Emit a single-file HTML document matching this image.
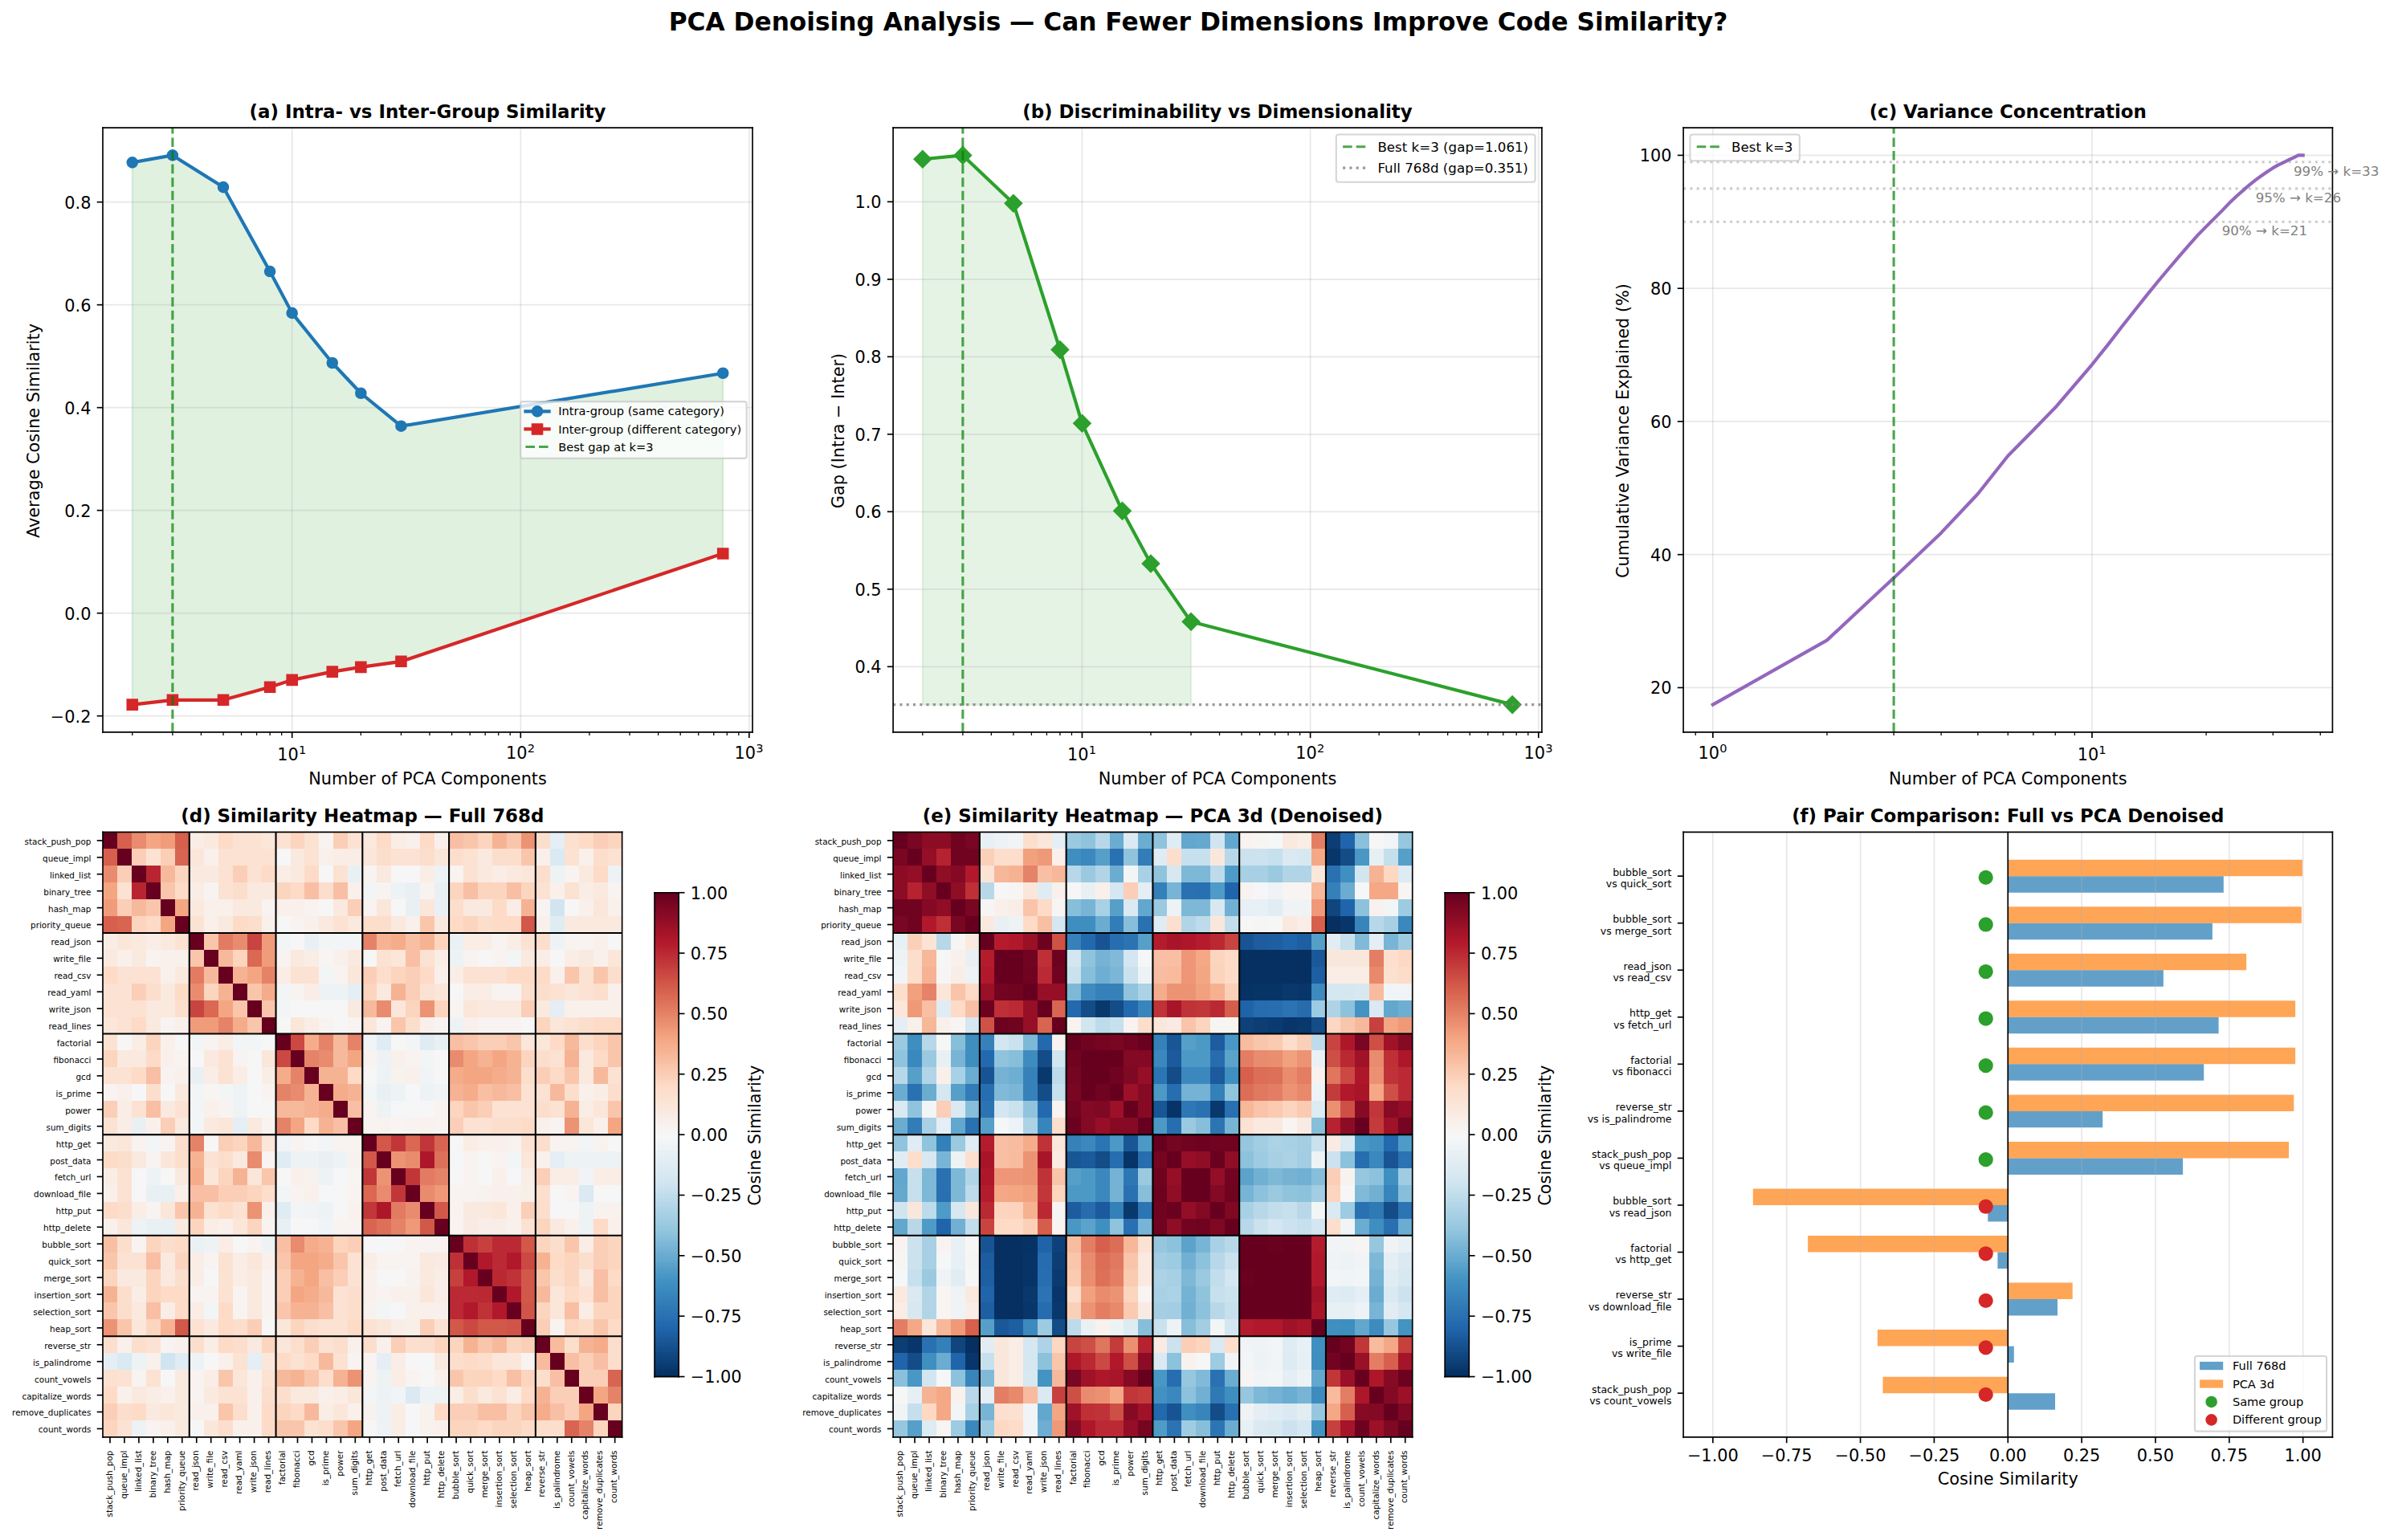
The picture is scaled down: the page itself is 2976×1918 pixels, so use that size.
<!DOCTYPE html>
<html lang="en"><head><meta charset="utf-8"><title>PCA Denoising Analysis</title>
<style>html,body{margin:0;padding:0;background:#fff;}body{width:2976px;height:1918px;overflow:hidden;font-family:"DejaVu Sans","Liberation Sans",sans-serif;}svg{display:block;}</style>
</head><body>
<svg width="2976" height="1918" viewBox="0 0 1428.48 920.64" version="1.1">
 
 <defs>
  <style type="text/css">*{stroke-linejoin: round; stroke-linecap: butt}</style>
 </defs>
 <g id="figure_1">
  <g id="patch_1">
   <path d="M 0 920.64 
L 1428.48 920.64 
L 1428.48 0 
L 0 0 
z
" style="fill: #ffffff"/>
  </g>
  <g id="axes_1">
   <g id="patch_2">
    <path d="M 61.44 437.664 
L 449.76 437.664 
L 449.76 76.416 
L 61.44 76.416 
z
" style="fill: #ffffff"/>
   </g>
   <g id="FillBetweenPolyCollection_1">
    
    <g clip-path="url(#pb48fb22886)">
     <path d="M 79.090909 -823.502699 L 79.090909 -499.396364 L 103.144875 -502.161252 L 133.449289 -502.161252 L 161.331963 -509.841497 L 174.569816 -514.142434 L 198.623782 -519.057791 L 215.690343 -521.822679 L 239.744309 -525.201987 L 432.109091 -589.716044 L 432.109091 -697.546683 L 432.109091 -697.546683 L 239.744309 -665.904073 L 215.690343 -685.5655 L 198.623782 -703.690878 L 174.569816 -733.490229 L 161.331963 -758.374222 L 133.449289 -808.756629 L 103.144875 -827.803636 L 79.090909 -823.502699 z" transform="translate(0 920.64)" style="fill: #2ca02c; fill-opacity: 0.15; stroke: #2ca02c; stroke-opacity: 0.15; stroke: #2ca02c; stroke-opacity: 0.15"/>
    </g>
   </g>
   <g id="matplotlib.axis_1">
    <g id="xtick_1">
     <g id="line2d_1">
      <path d="M 174.569816 437.664 
L 174.569816 76.416 
" clip-path="url(#pb48fb22886)" style="fill: none; stroke: #b0b0b0; stroke-opacity: 0.3; stroke-width: 0.8; stroke-linecap: square"/>
     </g>
     <g id="line2d_2">
      
      <g>
       <path d="M 0 0 L 0 3.5" transform="translate(174.569816 437.664)" style="stroke: #000000; stroke-width: 0.8; stroke: #000000; stroke-width: 0.8"/>
      </g>
     </g>
     <g id="text_1">
      <!-- $\mathdefault{10^{1}}$ -->
      <g transform="translate(165.769816 454.662437)">
       <text>
        <tspan x="0" y="-0.064063" style="font-size: 10px; font-family: 'DejaVu Sans', 'Liberation Sans', sans-serif">1</tspan>
        <tspan x="6.362305" y="-0.064063" style="font-size: 10px; font-family: 'DejaVu Sans', 'Liberation Sans', sans-serif">0</tspan>
        <tspan x="12.820312" y="-3.892188" style="font-size: 7px; font-family: 'DejaVu Sans', 'Liberation Sans', sans-serif">1</tspan>
       </text>
      </g>
     </g>
    </g>
    <g id="xtick_2">
     <g id="line2d_3">
      <path d="M 311.16925 437.664 
L 311.16925 76.416 
" clip-path="url(#pb48fb22886)" style="fill: none; stroke: #b0b0b0; stroke-opacity: 0.3; stroke-width: 0.8; stroke-linecap: square"/>
     </g>
     <g id="line2d_4">
      <g>
       <path d="M 0 0 L 0 3.5" transform="translate(311.16925 437.664)" style="stroke: #000000; stroke-width: 0.8; stroke: #000000; stroke-width: 0.8"/>
      </g>
     </g>
     <g id="text_2">
      <!-- $\mathdefault{10^{2}}$ -->
      <g transform="translate(302.36925 454.662437)">
       <text>
        <tspan x="0" y="-0.976562" style="font-size: 10px; font-family: 'DejaVu Sans', 'Liberation Sans', sans-serif">1</tspan>
        <tspan x="6.362305" y="-0.976562" style="font-size: 10px; font-family: 'DejaVu Sans', 'Liberation Sans', sans-serif">0</tspan>
        <tspan x="12.820312" y="-4.804688" style="font-size: 7px; font-family: 'DejaVu Sans', 'Liberation Sans', sans-serif">2</tspan>
       </text>
      </g>
     </g>
    </g>
    <g id="xtick_3">
     <g id="line2d_5">
      <path d="M 447.768683 437.664 
L 447.768683 76.416 
" clip-path="url(#pb48fb22886)" style="fill: none; stroke: #b0b0b0; stroke-opacity: 0.3; stroke-width: 0.8; stroke-linecap: square"/>
     </g>
     <g id="line2d_6">
      <g>
       <path d="M 0 0 L 0 3.5" transform="translate(447.768683 437.664)" style="stroke: #000000; stroke-width: 0.8; stroke: #000000; stroke-width: 0.8"/>
      </g>
     </g>
     <g id="text_3">
      <!-- $\mathdefault{10^{3}}$ -->
      <g transform="translate(438.968683 454.662437)">
       <text>
        <tspan x="0" y="-0.976562" style="font-size: 10px; font-family: 'DejaVu Sans', 'Liberation Sans', sans-serif">1</tspan>
        <tspan x="6.362305" y="-0.976562" style="font-size: 10px; font-family: 'DejaVu Sans', 'Liberation Sans', sans-serif">0</tspan>
        <tspan x="12.820312" y="-4.804688" style="font-size: 7px; font-family: 'DejaVu Sans', 'Liberation Sans', sans-serif">3</tspan>
       </text>
      </g>
     </g>
    </g>
    <g id="xtick_4">
     <g id="line2d_7">
      
      <g>
       <path d="M 0 0 L 0 2" transform="translate(79.090909 437.664)" style="stroke: #000000; stroke-width: 0.6; stroke: #000000; stroke-width: 0.6"/>
      </g>
     </g>
    </g>
    <g id="xtick_5">
     <g id="line2d_8">
      <g>
       <path d="M 0 0 L 0 2" transform="translate(103.144875 437.664)" style="stroke: #000000; stroke-width: 0.6; stroke: #000000; stroke-width: 0.6"/>
      </g>
     </g>
    </g>
    <g id="xtick_6">
     <g id="line2d_9">
      <g>
       <path d="M 0 0 L 0 2" transform="translate(120.211436 437.664)" style="stroke: #000000; stroke-width: 0.6; stroke: #000000; stroke-width: 0.6"/>
      </g>
     </g>
    </g>
    <g id="xtick_7">
     <g id="line2d_10">
      <g>
       <path d="M 0 0 L 0 2" transform="translate(133.449289 437.664)" style="stroke: #000000; stroke-width: 0.6; stroke: #000000; stroke-width: 0.6"/>
      </g>
     </g>
    </g>
    <g id="xtick_8">
     <g id="line2d_11">
      <g>
       <path d="M 0 0 L 0 2" transform="translate(144.265402 437.664)" style="stroke: #000000; stroke-width: 0.6; stroke: #000000; stroke-width: 0.6"/>
      </g>
     </g>
    </g>
    <g id="xtick_9">
     <g id="line2d_12">
      <g>
       <path d="M 0 0 L 0 2" transform="translate(153.410296 437.664)" style="stroke: #000000; stroke-width: 0.6; stroke: #000000; stroke-width: 0.6"/>
      </g>
     </g>
    </g>
    <g id="xtick_10">
     <g id="line2d_13">
      <g>
       <path d="M 0 0 L 0 2" transform="translate(161.331963 437.664)" style="stroke: #000000; stroke-width: 0.6; stroke: #000000; stroke-width: 0.6"/>
      </g>
     </g>
    </g>
    <g id="xtick_11">
     <g id="line2d_14">
      <g>
       <path d="M 0 0 L 0 2" transform="translate(168.319369 437.664)" style="stroke: #000000; stroke-width: 0.6; stroke: #000000; stroke-width: 0.6"/>
      </g>
     </g>
    </g>
    <g id="xtick_12">
     <g id="line2d_15">
      <g>
       <path d="M 0 0 L 0 2" transform="translate(215.690343 437.664)" style="stroke: #000000; stroke-width: 0.6; stroke: #000000; stroke-width: 0.6"/>
      </g>
     </g>
    </g>
    <g id="xtick_13">
     <g id="line2d_16">
      <g>
       <path d="M 0 0 L 0 2" transform="translate(239.744309 437.664)" style="stroke: #000000; stroke-width: 0.6; stroke: #000000; stroke-width: 0.6"/>
      </g>
     </g>
    </g>
    <g id="xtick_14">
     <g id="line2d_17">
      <g>
       <path d="M 0 0 L 0 2" transform="translate(256.81087 437.664)" style="stroke: #000000; stroke-width: 0.6; stroke: #000000; stroke-width: 0.6"/>
      </g>
     </g>
    </g>
    <g id="xtick_15">
     <g id="line2d_18">
      <g>
       <path d="M 0 0 L 0 2" transform="translate(270.048723 437.664)" style="stroke: #000000; stroke-width: 0.6; stroke: #000000; stroke-width: 0.6"/>
      </g>
     </g>
    </g>
    <g id="xtick_16">
     <g id="line2d_19">
      <g>
       <path d="M 0 0 L 0 2" transform="translate(280.864836 437.664)" style="stroke: #000000; stroke-width: 0.6; stroke: #000000; stroke-width: 0.6"/>
      </g>
     </g>
    </g>
    <g id="xtick_17">
     <g id="line2d_20">
      <g>
       <path d="M 0 0 L 0 2" transform="translate(290.00973 437.664)" style="stroke: #000000; stroke-width: 0.6; stroke: #000000; stroke-width: 0.6"/>
      </g>
     </g>
    </g>
    <g id="xtick_18">
     <g id="line2d_21">
      <g>
       <path d="M 0 0 L 0 2" transform="translate(297.931397 437.664)" style="stroke: #000000; stroke-width: 0.6; stroke: #000000; stroke-width: 0.6"/>
      </g>
     </g>
    </g>
    <g id="xtick_19">
     <g id="line2d_22">
      <g>
       <path d="M 0 0 L 0 2" transform="translate(304.918802 437.664)" style="stroke: #000000; stroke-width: 0.6; stroke: #000000; stroke-width: 0.6"/>
      </g>
     </g>
    </g>
    <g id="xtick_20">
     <g id="line2d_23">
      <g>
       <path d="M 0 0 L 0 2" transform="translate(352.289777 437.664)" style="stroke: #000000; stroke-width: 0.6; stroke: #000000; stroke-width: 0.6"/>
      </g>
     </g>
    </g>
    <g id="xtick_21">
     <g id="line2d_24">
      <g>
       <path d="M 0 0 L 0 2" transform="translate(376.343743 437.664)" style="stroke: #000000; stroke-width: 0.6; stroke: #000000; stroke-width: 0.6"/>
      </g>
     </g>
    </g>
    <g id="xtick_22">
     <g id="line2d_25">
      <g>
       <path d="M 0 0 L 0 2" transform="translate(393.410303 437.664)" style="stroke: #000000; stroke-width: 0.6; stroke: #000000; stroke-width: 0.6"/>
      </g>
     </g>
    </g>
    <g id="xtick_23">
     <g id="line2d_26">
      <g>
       <path d="M 0 0 L 0 2" transform="translate(406.648156 437.664)" style="stroke: #000000; stroke-width: 0.6; stroke: #000000; stroke-width: 0.6"/>
      </g>
     </g>
    </g>
    <g id="xtick_24">
     <g id="line2d_27">
      <g>
       <path d="M 0 0 L 0 2" transform="translate(417.46427 437.664)" style="stroke: #000000; stroke-width: 0.6; stroke: #000000; stroke-width: 0.6"/>
      </g>
     </g>
    </g>
    <g id="xtick_25">
     <g id="line2d_28">
      <g>
       <path d="M 0 0 L 0 2" transform="translate(426.609163 437.664)" style="stroke: #000000; stroke-width: 0.6; stroke: #000000; stroke-width: 0.6"/>
      </g>
     </g>
    </g>
    <g id="xtick_26">
     <g id="line2d_29">
      <g>
       <path d="M 0 0 L 0 2" transform="translate(434.53083 437.664)" style="stroke: #000000; stroke-width: 0.6; stroke: #000000; stroke-width: 0.6"/>
      </g>
     </g>
    </g>
    <g id="xtick_27">
     <g id="line2d_30">
      <g>
       <path d="M 0 0 L 0 2" transform="translate(441.518236 437.664)" style="stroke: #000000; stroke-width: 0.6; stroke: #000000; stroke-width: 0.6"/>
      </g>
     </g>
    </g>
    <g id="text_4">
     <text style="font-size: 10px; font-family: 'DejaVu Sans', 'Liberation Sans', sans-serif; text-anchor: middle" x="255.6" y="469.040562" transform="rotate(-0 255.6 469.040562)">Number of PCA Components</text>
    </g>
   </g>
   <g id="matplotlib.axis_2">
    <g id="ytick_1">
     <g id="line2d_31">
      <path d="M 61.44 428.002252 
L 449.76 428.002252 
" clip-path="url(#pb48fb22886)" style="fill: none; stroke: #b0b0b0; stroke-opacity: 0.3; stroke-width: 0.8; stroke-linecap: square"/>
     </g>
     <g id="line2d_32">
      
      <g>
       <path d="M 0 0 L -3.5 0" transform="translate(61.44 428.002252)" style="stroke: #000000; stroke-width: 0.8; stroke: #000000; stroke-width: 0.8"/>
      </g>
     </g>
     <g id="text_5">
      <text style="font-size: 10px; font-family: 'DejaVu Sans', 'Liberation Sans', sans-serif; text-anchor: end" x="54.44" y="431.801471" transform="rotate(-0 54.44 431.801471)">−0.2</text>
     </g>
    </g>
    <g id="ytick_2">
     <g id="line2d_33">
      <path d="M 61.44 366.560293 
L 449.76 366.560293 
" clip-path="url(#pb48fb22886)" style="fill: none; stroke: #b0b0b0; stroke-opacity: 0.3; stroke-width: 0.8; stroke-linecap: square"/>
     </g>
     <g id="line2d_34">
      <g>
       <path d="M 0 0 L -3.5 0" transform="translate(61.44 366.560293)" style="stroke: #000000; stroke-width: 0.8; stroke: #000000; stroke-width: 0.8"/>
      </g>
     </g>
     <g id="text_6">
      <text style="font-size: 10px; font-family: 'DejaVu Sans', 'Liberation Sans', sans-serif; text-anchor: end" x="54.44" y="370.359511" transform="rotate(-0 54.44 370.359511)">0.0</text>
     </g>
    </g>
    <g id="ytick_3">
     <g id="line2d_35">
      <path d="M 61.44 305.118333 
L 449.76 305.118333 
" clip-path="url(#pb48fb22886)" style="fill: none; stroke: #b0b0b0; stroke-opacity: 0.3; stroke-width: 0.8; stroke-linecap: square"/>
     </g>
     <g id="line2d_36">
      <g>
       <path d="M 0 0 L -3.5 0" transform="translate(61.44 305.118333)" style="stroke: #000000; stroke-width: 0.8; stroke: #000000; stroke-width: 0.8"/>
      </g>
     </g>
     <g id="text_7">
      <text style="font-size: 10px; font-family: 'DejaVu Sans', 'Liberation Sans', sans-serif; text-anchor: end" x="54.44" y="308.917552" transform="rotate(-0 54.44 308.917552)">0.2</text>
     </g>
    </g>
    <g id="ytick_4">
     <g id="line2d_37">
      <path d="M 61.44 243.676374 
L 449.76 243.676374 
" clip-path="url(#pb48fb22886)" style="fill: none; stroke: #b0b0b0; stroke-opacity: 0.3; stroke-width: 0.8; stroke-linecap: square"/>
     </g>
     <g id="line2d_38">
      <g>
       <path d="M 0 0 L -3.5 0" transform="translate(61.44 243.676374)" style="stroke: #000000; stroke-width: 0.8; stroke: #000000; stroke-width: 0.8"/>
      </g>
     </g>
     <g id="text_8">
      <text style="font-size: 10px; font-family: 'DejaVu Sans', 'Liberation Sans', sans-serif; text-anchor: end" x="54.44" y="247.475593" transform="rotate(-0 54.44 247.475593)">0.4</text>
     </g>
    </g>
    <g id="ytick_5">
     <g id="line2d_39">
      <path d="M 61.44 182.234414 
L 449.76 182.234414 
" clip-path="url(#pb48fb22886)" style="fill: none; stroke: #b0b0b0; stroke-opacity: 0.3; stroke-width: 0.8; stroke-linecap: square"/>
     </g>
     <g id="line2d_40">
      <g>
       <path d="M 0 0 L -3.5 0" transform="translate(61.44 182.234414)" style="stroke: #000000; stroke-width: 0.8; stroke: #000000; stroke-width: 0.8"/>
      </g>
     </g>
     <g id="text_9">
      <text style="font-size: 10px; font-family: 'DejaVu Sans', 'Liberation Sans', sans-serif; text-anchor: end" x="54.44" y="186.033633" transform="rotate(-0 54.44 186.033633)">0.6</text>
     </g>
    </g>
    <g id="ytick_6">
     <g id="line2d_41">
      <path d="M 61.44 120.792455 
L 449.76 120.792455 
" clip-path="url(#pb48fb22886)" style="fill: none; stroke: #b0b0b0; stroke-opacity: 0.3; stroke-width: 0.8; stroke-linecap: square"/>
     </g>
     <g id="line2d_42">
      <g>
       <path d="M 0 0 L -3.5 0" transform="translate(61.44 120.792455)" style="stroke: #000000; stroke-width: 0.8; stroke: #000000; stroke-width: 0.8"/>
      </g>
     </g>
     <g id="text_10">
      <text style="font-size: 10px; font-family: 'DejaVu Sans', 'Liberation Sans', sans-serif; text-anchor: end" x="54.44" y="124.591674" transform="rotate(-0 54.44 124.591674)">0.8</text>
     </g>
    </g>
    <g id="text_11">
     <text style="font-size: 10px; font-family: 'DejaVu Sans', 'Liberation Sans', sans-serif; text-anchor: middle" x="23.5975" y="257.5200" transform="rotate(-90 23.5975 257.5200)">Average Cosine Similarity</text>
    </g>
   </g>
   <g id="line2d_43">
    <path d="M 79.090909 97.137301 
L 103.144875 92.836364 
L 133.449289 111.883371 
L 161.331963 162.265778 
L 174.569816 187.149771 
L 198.623782 216.949122 
L 215.690343 235.0745 
L 239.744309 254.735927 
L 432.109091 223.093317 
" clip-path="url(#pb48fb22886)" style="fill: none; stroke: #1f77b4; stroke-width: 2; stroke-linecap: square"/>
    
    <g clip-path="url(#pb48fb22886)">
     <path d="M 0 3 C 0.795609 3 1.55874 2.683901 2.12132 2.12132 C 2.683901 1.55874 3 0.795609 3 0 C 3 -0.795609 2.683901 -1.55874 2.12132 -2.12132 C 1.55874 -2.683901 0.795609 -3 0 -3 C -0.795609 -3 -1.55874 -2.683901 -2.12132 -2.12132 C -2.683901 -1.55874 -3 -0.795609 -3 0 C -3 0.795609 -2.683901 1.55874 -2.12132 2.12132 C -1.55874 2.683901 -0.795609 3 0 3 z" transform="translate(79.090909 97.137301)" style="fill: #1f77b4; stroke: #1f77b4; stroke: #1f77b4"/>
     <path d="M 0 3 C 0.795609 3 1.55874 2.683901 2.12132 2.12132 C 2.683901 1.55874 3 0.795609 3 0 C 3 -0.795609 2.683901 -1.55874 2.12132 -2.12132 C 1.55874 -2.683901 0.795609 -3 0 -3 C -0.795609 -3 -1.55874 -2.683901 -2.12132 -2.12132 C -2.683901 -1.55874 -3 -0.795609 -3 0 C -3 0.795609 -2.683901 1.55874 -2.12132 2.12132 C -1.55874 2.683901 -0.795609 3 0 3 z" transform="translate(103.144875 92.836364)" style="fill: #1f77b4; stroke: #1f77b4; stroke: #1f77b4"/>
     <path d="M 0 3 C 0.795609 3 1.55874 2.683901 2.12132 2.12132 C 2.683901 1.55874 3 0.795609 3 0 C 3 -0.795609 2.683901 -1.55874 2.12132 -2.12132 C 1.55874 -2.683901 0.795609 -3 0 -3 C -0.795609 -3 -1.55874 -2.683901 -2.12132 -2.12132 C -2.683901 -1.55874 -3 -0.795609 -3 0 C -3 0.795609 -2.683901 1.55874 -2.12132 2.12132 C -1.55874 2.683901 -0.795609 3 0 3 z" transform="translate(133.449289 111.883371)" style="fill: #1f77b4; stroke: #1f77b4; stroke: #1f77b4"/>
     <path d="M 0 3 C 0.795609 3 1.55874 2.683901 2.12132 2.12132 C 2.683901 1.55874 3 0.795609 3 0 C 3 -0.795609 2.683901 -1.55874 2.12132 -2.12132 C 1.55874 -2.683901 0.795609 -3 0 -3 C -0.795609 -3 -1.55874 -2.683901 -2.12132 -2.12132 C -2.683901 -1.55874 -3 -0.795609 -3 0 C -3 0.795609 -2.683901 1.55874 -2.12132 2.12132 C -1.55874 2.683901 -0.795609 3 0 3 z" transform="translate(161.331963 162.265778)" style="fill: #1f77b4; stroke: #1f77b4; stroke: #1f77b4"/>
     <path d="M 0 3 C 0.795609 3 1.55874 2.683901 2.12132 2.12132 C 2.683901 1.55874 3 0.795609 3 0 C 3 -0.795609 2.683901 -1.55874 2.12132 -2.12132 C 1.55874 -2.683901 0.795609 -3 0 -3 C -0.795609 -3 -1.55874 -2.683901 -2.12132 -2.12132 C -2.683901 -1.55874 -3 -0.795609 -3 0 C -3 0.795609 -2.683901 1.55874 -2.12132 2.12132 C -1.55874 2.683901 -0.795609 3 0 3 z" transform="translate(174.569816 187.149771)" style="fill: #1f77b4; stroke: #1f77b4; stroke: #1f77b4"/>
     <path d="M 0 3 C 0.795609 3 1.55874 2.683901 2.12132 2.12132 C 2.683901 1.55874 3 0.795609 3 0 C 3 -0.795609 2.683901 -1.55874 2.12132 -2.12132 C 1.55874 -2.683901 0.795609 -3 0 -3 C -0.795609 -3 -1.55874 -2.683901 -2.12132 -2.12132 C -2.683901 -1.55874 -3 -0.795609 -3 0 C -3 0.795609 -2.683901 1.55874 -2.12132 2.12132 C -1.55874 2.683901 -0.795609 3 0 3 z" transform="translate(198.623782 216.949122)" style="fill: #1f77b4; stroke: #1f77b4; stroke: #1f77b4"/>
     <path d="M 0 3 C 0.795609 3 1.55874 2.683901 2.12132 2.12132 C 2.683901 1.55874 3 0.795609 3 0 C 3 -0.795609 2.683901 -1.55874 2.12132 -2.12132 C 1.55874 -2.683901 0.795609 -3 0 -3 C -0.795609 -3 -1.55874 -2.683901 -2.12132 -2.12132 C -2.683901 -1.55874 -3 -0.795609 -3 0 C -3 0.795609 -2.683901 1.55874 -2.12132 2.12132 C -1.55874 2.683901 -0.795609 3 0 3 z" transform="translate(215.690343 235.0745)" style="fill: #1f77b4; stroke: #1f77b4; stroke: #1f77b4"/>
     <path d="M 0 3 C 0.795609 3 1.55874 2.683901 2.12132 2.12132 C 2.683901 1.55874 3 0.795609 3 0 C 3 -0.795609 2.683901 -1.55874 2.12132 -2.12132 C 1.55874 -2.683901 0.795609 -3 0 -3 C -0.795609 -3 -1.55874 -2.683901 -2.12132 -2.12132 C -2.683901 -1.55874 -3 -0.795609 -3 0 C -3 0.795609 -2.683901 1.55874 -2.12132 2.12132 C -1.55874 2.683901 -0.795609 3 0 3 z" transform="translate(239.744309 254.735927)" style="fill: #1f77b4; stroke: #1f77b4; stroke: #1f77b4"/>
     <path d="M 0 3 C 0.795609 3 1.55874 2.683901 2.12132 2.12132 C 2.683901 1.55874 3 0.795609 3 0 C 3 -0.795609 2.683901 -1.55874 2.12132 -2.12132 C 1.55874 -2.683901 0.795609 -3 0 -3 C -0.795609 -3 -1.55874 -2.683901 -2.12132 -2.12132 C -2.683901 -1.55874 -3 -0.795609 -3 0 C -3 0.795609 -2.683901 1.55874 -2.12132 2.12132 C -1.55874 2.683901 -0.795609 3 0 3 z" transform="translate(432.109091 223.093317)" style="fill: #1f77b4; stroke: #1f77b4; stroke: #1f77b4"/>
    </g>
   </g>
   <g id="line2d_44">
    <path d="M 79.090909 421.243636 
L 103.144875 418.478748 
L 133.449289 418.478748 
L 161.331963 410.798503 
L 174.569816 406.497566 
L 198.623782 401.582209 
L 215.690343 398.817321 
L 239.744309 395.438013 
L 432.109091 330.923956 
" clip-path="url(#pb48fb22886)" style="fill: none; stroke: #d62728; stroke-width: 2; stroke-linecap: square"/>
    
    <g clip-path="url(#pb48fb22886)">
     <path d="M -3 3 L 3 3 L 3 -3 L -3 -3 z" transform="translate(79.090909 421.243636)" style="fill: #d62728; stroke: #d62728; stroke-linejoin: miter; stroke: #d62728; stroke-linejoin: miter"/>
     <path d="M -3 3 L 3 3 L 3 -3 L -3 -3 z" transform="translate(103.144875 418.478748)" style="fill: #d62728; stroke: #d62728; stroke-linejoin: miter; stroke: #d62728; stroke-linejoin: miter"/>
     <path d="M -3 3 L 3 3 L 3 -3 L -3 -3 z" transform="translate(133.449289 418.478748)" style="fill: #d62728; stroke: #d62728; stroke-linejoin: miter; stroke: #d62728; stroke-linejoin: miter"/>
     <path d="M -3 3 L 3 3 L 3 -3 L -3 -3 z" transform="translate(161.331963 410.798503)" style="fill: #d62728; stroke: #d62728; stroke-linejoin: miter; stroke: #d62728; stroke-linejoin: miter"/>
     <path d="M -3 3 L 3 3 L 3 -3 L -3 -3 z" transform="translate(174.569816 406.497566)" style="fill: #d62728; stroke: #d62728; stroke-linejoin: miter; stroke: #d62728; stroke-linejoin: miter"/>
     <path d="M -3 3 L 3 3 L 3 -3 L -3 -3 z" transform="translate(198.623782 401.582209)" style="fill: #d62728; stroke: #d62728; stroke-linejoin: miter; stroke: #d62728; stroke-linejoin: miter"/>
     <path d="M -3 3 L 3 3 L 3 -3 L -3 -3 z" transform="translate(215.690343 398.817321)" style="fill: #d62728; stroke: #d62728; stroke-linejoin: miter; stroke: #d62728; stroke-linejoin: miter"/>
     <path d="M -3 3 L 3 3 L 3 -3 L -3 -3 z" transform="translate(239.744309 395.438013)" style="fill: #d62728; stroke: #d62728; stroke-linejoin: miter; stroke: #d62728; stroke-linejoin: miter"/>
     <path d="M -3 3 L 3 3 L 3 -3 L -3 -3 z" transform="translate(432.109091 330.923956)" style="fill: #d62728; stroke: #d62728; stroke-linejoin: miter; stroke: #d62728; stroke-linejoin: miter"/>
    </g>
   </g>
   <g id="line2d_45">
    <path d="M 103.144875 437.664 
L 103.144875 76.416 
" clip-path="url(#pb48fb22886)" style="fill: none; stroke-dasharray: 5.55,2.4; stroke-dashoffset: 0; stroke: #008000; stroke-opacity: 0.7; stroke-width: 1.5"/>
   </g>
   <g id="patch_3">
    <path d="M 61.44 437.664 
L 61.44 76.416 
" style="fill: none; stroke: #000000; stroke-width: 0.8; stroke-linejoin: miter; stroke-linecap: square"/>
   </g>
   <g id="patch_4">
    <path d="M 449.76 437.664 
L 449.76 76.416 
" style="fill: none; stroke: #000000; stroke-width: 0.8; stroke-linejoin: miter; stroke-linecap: square"/>
   </g>
   <g id="patch_5">
    <path d="M 61.44 437.664 
L 449.76 437.664 
" style="fill: none; stroke: #000000; stroke-width: 0.8; stroke-linejoin: miter; stroke-linecap: square"/>
   </g>
   <g id="patch_6">
    <path d="M 61.44 76.416 
L 449.76 76.416 
" style="fill: none; stroke: #000000; stroke-width: 0.8; stroke-linejoin: miter; stroke-linecap: square"/>
   </g>
   <g id="text_12">
    <text style="font-weight: 700; font-size: 11px; font-family: 'DejaVu Sans', 'Liberation Sans', sans-serif; text-anchor: middle" x="255.6" y="70.416" transform="rotate(-0 255.6 70.416)">(a) Intra- vs Inter-Group Similarity</text>
   </g>
   <g id="legend_1">
    <g id="patch_7">
     <path d="M 312.521719 274.027031 
L 444.86 274.027031 
Q 446.26 274.027031 446.26 272.627031 
L 446.26 241.452969 
Q 446.26 240.052969 444.86 240.052969 
L 312.521719 240.052969 
Q 311.121719 240.052969 311.121719 241.452969 
L 311.121719 272.627031 
Q 311.121719 274.027031 312.521719 274.027031 
z
" style="fill: #ffffff; opacity: 0.8; stroke: #cccccc; stroke-linejoin: miter"/>
    </g>
    <g id="line2d_46">
     <path d="M 314.131719 245.931875 
L 321.131719 245.931875 
L 328.131719 245.931875 
" style="fill: none; stroke: #1f77b4; stroke-width: 2; stroke-linecap: square"/>
     <g>
      <path d="M 0 3 C 0.795609 3 1.55874 2.683901 2.12132 2.12132 C 2.683901 1.55874 3 0.795609 3 0 C 3 -0.795609 2.683901 -1.55874 2.12132 -2.12132 C 1.55874 -2.683901 0.795609 -3 0 -3 C -0.795609 -3 -1.55874 -2.683901 -2.12132 -2.12132 C -2.683901 -1.55874 -3 -0.795609 -3 0 C -3 0.795609 -2.683901 1.55874 -2.12132 2.12132 C -1.55874 2.683901 -0.795609 3 0 3 z" transform="translate(321.131719 245.931875)" style="fill: #1f77b4; stroke: #1f77b4; stroke: #1f77b4"/>
     </g>
    </g>
    <g id="text_13">
     <text style="font-size: 7px; font-family: 'DejaVu Sans', 'Liberation Sans', sans-serif; text-anchor: start" x="333.731719" y="248.381875" transform="rotate(-0 333.731719 248.381875)">Intra-group (same category)</text>
    </g>
    <g id="line2d_47">
     <path d="M 314.131719 256.521563 
L 321.131719 256.521563 
L 328.131719 256.521563 
" style="fill: none; stroke: #d62728; stroke-width: 2; stroke-linecap: square"/>
     <g>
      <path d="M -3 3 L 3 3 L 3 -3 L -3 -3 z" transform="translate(321.131719 256.521563)" style="fill: #d62728; stroke: #d62728; stroke-linejoin: miter; stroke: #d62728; stroke-linejoin: miter"/>
     </g>
    </g>
    <g id="text_14">
     <text style="font-size: 7px; font-family: 'DejaVu Sans', 'Liberation Sans', sans-serif; text-anchor: start" x="333.731719" y="258.971563" transform="rotate(-0 333.731719 258.971563)">Inter-group (different category)</text>
    </g>
    <g id="line2d_48">
     <path d="M 314.131719 267.11125 
L 321.131719 267.11125 
L 328.131719 267.11125 
" style="fill: none; stroke-dasharray: 5.55,2.4; stroke-dashoffset: 0; stroke: #008000; stroke-opacity: 0.7; stroke-width: 1.5"/>
    </g>
    <g id="text_15">
     <text style="font-size: 7px; font-family: 'DejaVu Sans', 'Liberation Sans', sans-serif; text-anchor: start" x="333.731719" y="269.56125" transform="rotate(-0 333.731719 269.56125)">Best gap at k=3</text>
    </g>
   </g>
  </g>
  <g id="axes_2">
   <g id="patch_8">
    <path d="M 533.808 437.664 
L 921.552 437.664 
L 921.552 76.416 
L 533.808 76.416 
z
" style="fill: #ffffff"/>
   </g>
   <g id="FillBetweenPolyCollection_2">
    
    <g clip-path="url(#p9a6d306fdc)">
     <path d="M 551.432727 -825.487647 L 551.432727 -499.396364 L 575.451014 -499.396364 L 605.710477 -499.396364 L 633.551792 -499.396364 L 646.770009 -499.396364 L 670.788296 -499.396364 L 687.829541 -499.396364 L 711.847828 -499.396364 L 711.847828 -548.958533 L 711.847828 -548.958533 L 687.829541 -583.698372 L 670.788296 -615.195825 L 646.770009 -667.537182 L 633.551792 -711.540977 L 605.710477 -799.08537 L 575.451014 -827.803636 L 551.432727 -825.487647 z" transform="translate(0 920.64)" style="fill: #2ca02c; fill-opacity: 0.12; stroke: #2ca02c; stroke-opacity: 0.12; stroke: #2ca02c; stroke-opacity: 0.12"/>
    </g>
   </g>
   <g id="matplotlib.axis_3">
    <g id="xtick_28">
     <g id="line2d_49">
      <path d="M 646.770009 437.664 
L 646.770009 76.416 
" clip-path="url(#p9a6d306fdc)" style="fill: none; stroke: #b0b0b0; stroke-opacity: 0.3; stroke-width: 0.8; stroke-linecap: square"/>
     </g>
     <g id="line2d_50">
      <g>
       <path d="M 0 0 L 0 3.5" transform="translate(646.770009 437.664)" style="stroke: #000000; stroke-width: 0.8; stroke: #000000; stroke-width: 0.8"/>
      </g>
     </g>
     <g id="text_16">
      <!-- $\mathdefault{10^{1}}$ -->
      <g transform="translate(637.970009 454.662437)">
       <text>
        <tspan x="0" y="-0.064063" style="font-size: 10px; font-family: 'DejaVu Sans', 'Liberation Sans', sans-serif">1</tspan>
        <tspan x="6.362305" y="-0.064063" style="font-size: 10px; font-family: 'DejaVu Sans', 'Liberation Sans', sans-serif">0</tspan>
        <tspan x="12.820312" y="-3.892188" style="font-size: 7px; font-family: 'DejaVu Sans', 'Liberation Sans', sans-serif">1</tspan>
       </text>
      </g>
     </g>
    </g>
    <g id="xtick_29">
     <g id="line2d_51">
      <path d="M 783.166823 437.664 
L 783.166823 76.416 
" clip-path="url(#p9a6d306fdc)" style="fill: none; stroke: #b0b0b0; stroke-opacity: 0.3; stroke-width: 0.8; stroke-linecap: square"/>
     </g>
     <g id="line2d_52">
      <g>
       <path d="M 0 0 L 0 3.5" transform="translate(783.166823 437.664)" style="stroke: #000000; stroke-width: 0.8; stroke: #000000; stroke-width: 0.8"/>
      </g>
     </g>
     <g id="text_17">
      <!-- $\mathdefault{10^{2}}$ -->
      <g transform="translate(774.366823 454.662437)">
       <text>
        <tspan x="0" y="-0.976562" style="font-size: 10px; font-family: 'DejaVu Sans', 'Liberation Sans', sans-serif">1</tspan>
        <tspan x="6.362305" y="-0.976562" style="font-size: 10px; font-family: 'DejaVu Sans', 'Liberation Sans', sans-serif">0</tspan>
        <tspan x="12.820312" y="-4.804688" style="font-size: 7px; font-family: 'DejaVu Sans', 'Liberation Sans', sans-serif">2</tspan>
       </text>
      </g>
     </g>
    </g>
    <g id="xtick_30">
     <g id="line2d_53">
      <path d="M 919.563637 437.664 
L 919.563637 76.416 
" clip-path="url(#p9a6d306fdc)" style="fill: none; stroke: #b0b0b0; stroke-opacity: 0.3; stroke-width: 0.8; stroke-linecap: square"/>
     </g>
     <g id="line2d_54">
      <g>
       <path d="M 0 0 L 0 3.5" transform="translate(919.563637 437.664)" style="stroke: #000000; stroke-width: 0.8; stroke: #000000; stroke-width: 0.8"/>
      </g>
     </g>
     <g id="text_18">
      <!-- $\mathdefault{10^{3}}$ -->
      <g transform="translate(910.763637 454.662437)">
       <text>
        <tspan x="0" y="-0.976562" style="font-size: 10px; font-family: 'DejaVu Sans', 'Liberation Sans', sans-serif">1</tspan>
        <tspan x="6.362305" y="-0.976562" style="font-size: 10px; font-family: 'DejaVu Sans', 'Liberation Sans', sans-serif">0</tspan>
        <tspan x="12.820312" y="-4.804688" style="font-size: 7px; font-family: 'DejaVu Sans', 'Liberation Sans', sans-serif">3</tspan>
       </text>
      </g>
     </g>
    </g>
    <g id="xtick_31">
     <g id="line2d_55">
      <g>
       <path d="M 0 0 L 0 2" transform="translate(551.432727 437.664)" style="stroke: #000000; stroke-width: 0.6; stroke: #000000; stroke-width: 0.6"/>
      </g>
     </g>
    </g>
    <g id="xtick_32">
     <g id="line2d_56">
      <g>
       <path d="M 0 0 L 0 2" transform="translate(575.451014 437.664)" style="stroke: #000000; stroke-width: 0.6; stroke: #000000; stroke-width: 0.6"/>
      </g>
     </g>
    </g>
    <g id="xtick_33">
     <g id="line2d_57">
      <g>
       <path d="M 0 0 L 0 2" transform="translate(592.49226 437.664)" style="stroke: #000000; stroke-width: 0.6; stroke: #000000; stroke-width: 0.6"/>
      </g>
     </g>
    </g>
    <g id="xtick_34">
     <g id="line2d_58">
      <g>
       <path d="M 0 0 L 0 2" transform="translate(605.710477 437.664)" style="stroke: #000000; stroke-width: 0.6; stroke: #000000; stroke-width: 0.6"/>
      </g>
     </g>
    </g>
    <g id="xtick_35">
     <g id="line2d_59">
      <g>
       <path d="M 0 0 L 0 2" transform="translate(616.510546 437.664)" style="stroke: #000000; stroke-width: 0.6; stroke: #000000; stroke-width: 0.6"/>
      </g>
     </g>
    </g>
    <g id="xtick_36">
     <g id="line2d_60">
      <g>
       <path d="M 0 0 L 0 2" transform="translate(625.641875 437.664)" style="stroke: #000000; stroke-width: 0.6; stroke: #000000; stroke-width: 0.6"/>
      </g>
     </g>
    </g>
    <g id="xtick_37">
     <g id="line2d_61">
      <g>
       <path d="M 0 0 L 0 2" transform="translate(633.551792 437.664)" style="stroke: #000000; stroke-width: 0.6; stroke: #000000; stroke-width: 0.6"/>
      </g>
     </g>
    </g>
    <g id="xtick_38">
     <g id="line2d_62">
      <g>
       <path d="M 0 0 L 0 2" transform="translate(640.528833 437.664)" style="stroke: #000000; stroke-width: 0.6; stroke: #000000; stroke-width: 0.6"/>
      </g>
     </g>
    </g>
    <g id="xtick_39">
     <g id="line2d_63">
      <g>
       <path d="M 0 0 L 0 2" transform="translate(687.829541 437.664)" style="stroke: #000000; stroke-width: 0.6; stroke: #000000; stroke-width: 0.6"/>
      </g>
     </g>
    </g>
    <g id="xtick_40">
     <g id="line2d_64">
      <g>
       <path d="M 0 0 L 0 2" transform="translate(711.847828 437.664)" style="stroke: #000000; stroke-width: 0.6; stroke: #000000; stroke-width: 0.6"/>
      </g>
     </g>
    </g>
    <g id="xtick_41">
     <g id="line2d_65">
      <g>
       <path d="M 0 0 L 0 2" transform="translate(728.889074 437.664)" style="stroke: #000000; stroke-width: 0.6; stroke: #000000; stroke-width: 0.6"/>
      </g>
     </g>
    </g>
    <g id="xtick_42">
     <g id="line2d_66">
      <g>
       <path d="M 0 0 L 0 2" transform="translate(742.107291 437.664)" style="stroke: #000000; stroke-width: 0.6; stroke: #000000; stroke-width: 0.6"/>
      </g>
     </g>
    </g>
    <g id="xtick_43">
     <g id="line2d_67">
      <g>
       <path d="M 0 0 L 0 2" transform="translate(752.90736 437.664)" style="stroke: #000000; stroke-width: 0.6; stroke: #000000; stroke-width: 0.6"/>
      </g>
     </g>
    </g>
    <g id="xtick_44">
     <g id="line2d_68">
      <g>
       <path d="M 0 0 L 0 2" transform="translate(762.038689 437.664)" style="stroke: #000000; stroke-width: 0.6; stroke: #000000; stroke-width: 0.6"/>
      </g>
     </g>
    </g>
    <g id="xtick_45">
     <g id="line2d_69">
      <g>
       <path d="M 0 0 L 0 2" transform="translate(769.948606 437.664)" style="stroke: #000000; stroke-width: 0.6; stroke: #000000; stroke-width: 0.6"/>
      </g>
     </g>
    </g>
    <g id="xtick_46">
     <g id="line2d_70">
      <g>
       <path d="M 0 0 L 0 2" transform="translate(776.925647 437.664)" style="stroke: #000000; stroke-width: 0.6; stroke: #000000; stroke-width: 0.6"/>
      </g>
     </g>
    </g>
    <g id="xtick_47">
     <g id="line2d_71">
      <g>
       <path d="M 0 0 L 0 2" transform="translate(824.226355 437.664)" style="stroke: #000000; stroke-width: 0.6; stroke: #000000; stroke-width: 0.6"/>
      </g>
     </g>
    </g>
    <g id="xtick_48">
     <g id="line2d_72">
      <g>
       <path d="M 0 0 L 0 2" transform="translate(848.244642 437.664)" style="stroke: #000000; stroke-width: 0.6; stroke: #000000; stroke-width: 0.6"/>
      </g>
     </g>
    </g>
    <g id="xtick_49">
     <g id="line2d_73">
      <g>
       <path d="M 0 0 L 0 2" transform="translate(865.285888 437.664)" style="stroke: #000000; stroke-width: 0.6; stroke: #000000; stroke-width: 0.6"/>
      </g>
     </g>
    </g>
    <g id="xtick_50">
     <g id="line2d_74">
      <g>
       <path d="M 0 0 L 0 2" transform="translate(878.504105 437.664)" style="stroke: #000000; stroke-width: 0.6; stroke: #000000; stroke-width: 0.6"/>
      </g>
     </g>
    </g>
    <g id="xtick_51">
     <g id="line2d_75">
      <g>
       <path d="M 0 0 L 0 2" transform="translate(889.304174 437.664)" style="stroke: #000000; stroke-width: 0.6; stroke: #000000; stroke-width: 0.6"/>
      </g>
     </g>
    </g>
    <g id="xtick_52">
     <g id="line2d_76">
      <g>
       <path d="M 0 0 L 0 2" transform="translate(898.435503 437.664)" style="stroke: #000000; stroke-width: 0.6; stroke: #000000; stroke-width: 0.6"/>
      </g>
     </g>
    </g>
    <g id="xtick_53">
     <g id="line2d_77">
      <g>
       <path d="M 0 0 L 0 2" transform="translate(906.34542 437.664)" style="stroke: #000000; stroke-width: 0.6; stroke: #000000; stroke-width: 0.6"/>
      </g>
     </g>
    </g>
    <g id="xtick_54">
     <g id="line2d_78">
      <g>
       <path d="M 0 0 L 0 2" transform="translate(913.322461 437.664)" style="stroke: #000000; stroke-width: 0.6; stroke: #000000; stroke-width: 0.6"/>
      </g>
     </g>
    </g>
    <g id="text_19">
     <text style="font-size: 10px; font-family: 'DejaVu Sans', 'Liberation Sans', sans-serif; text-anchor: middle" x="727.68" y="469.040562" transform="rotate(-0 727.68 469.040562)">Number of PCA Components</text>
    </g>
   </g>
   <g id="matplotlib.axis_4">
    <g id="ytick_7">
     <g id="line2d_79">
      <path d="M 533.808 398.546942 
L 921.552 398.546942 
" clip-path="url(#p9a6d306fdc)" style="fill: none; stroke: #b0b0b0; stroke-opacity: 0.3; stroke-width: 0.8; stroke-linecap: square"/>
     </g>
     <g id="line2d_80">
      <g>
       <path d="M 0 0 L -3.5 0" transform="translate(533.808 398.546942)" style="stroke: #000000; stroke-width: 0.8; stroke: #000000; stroke-width: 0.8"/>
      </g>
     </g>
     <g id="text_20">
      <text style="font-size: 10px; font-family: 'DejaVu Sans', 'Liberation Sans', sans-serif; text-anchor: end" x="526.808" y="402.346161" transform="rotate(-0 526.808 402.346161)">0.4</text>
     </g>
    </g>
    <g id="ytick_8">
     <g id="line2d_81">
      <path d="M 533.808 352.227157 
L 921.552 352.227157 
" clip-path="url(#p9a6d306fdc)" style="fill: none; stroke: #b0b0b0; stroke-opacity: 0.3; stroke-width: 0.8; stroke-linecap: square"/>
     </g>
     <g id="line2d_82">
      <g>
       <path d="M 0 0 L -3.5 0" transform="translate(533.808 352.227157)" style="stroke: #000000; stroke-width: 0.8; stroke: #000000; stroke-width: 0.8"/>
      </g>
     </g>
     <g id="text_21">
      <text style="font-size: 10px; font-family: 'DejaVu Sans', 'Liberation Sans', sans-serif; text-anchor: end" x="526.808" y="356.026376" transform="rotate(-0 526.808 356.026376)">0.5</text>
     </g>
    </g>
    <g id="ytick_9">
     <g id="line2d_83">
      <path d="M 533.808 305.907373 
L 921.552 305.907373 
" clip-path="url(#p9a6d306fdc)" style="fill: none; stroke: #b0b0b0; stroke-opacity: 0.3; stroke-width: 0.8; stroke-linecap: square"/>
     </g>
     <g id="line2d_84">
      <g>
       <path d="M 0 0 L -3.5 0" transform="translate(533.808 305.907373)" style="stroke: #000000; stroke-width: 0.8; stroke: #000000; stroke-width: 0.8"/>
      </g>
     </g>
     <g id="text_22">
      <text style="font-size: 10px; font-family: 'DejaVu Sans', 'Liberation Sans', sans-serif; text-anchor: end" x="526.808" y="309.706591" transform="rotate(-0 526.808 309.706591)">0.6</text>
     </g>
    </g>
    <g id="ytick_10">
     <g id="line2d_85">
      <path d="M 533.808 259.587588 
L 921.552 259.587588 
" clip-path="url(#p9a6d306fdc)" style="fill: none; stroke: #b0b0b0; stroke-opacity: 0.3; stroke-width: 0.8; stroke-linecap: square"/>
     </g>
     <g id="line2d_86">
      <g>
       <path d="M 0 0 L -3.5 0" transform="translate(533.808 259.587588)" style="stroke: #000000; stroke-width: 0.8; stroke: #000000; stroke-width: 0.8"/>
      </g>
     </g>
     <g id="text_23">
      <text style="font-size: 10px; font-family: 'DejaVu Sans', 'Liberation Sans', sans-serif; text-anchor: end" x="526.808" y="263.386807" transform="rotate(-0 526.808 263.386807)">0.7</text>
     </g>
    </g>
    <g id="ytick_11">
     <g id="line2d_87">
      <path d="M 533.808 213.267804 
L 921.552 213.267804 
" clip-path="url(#p9a6d306fdc)" style="fill: none; stroke: #b0b0b0; stroke-opacity: 0.3; stroke-width: 0.8; stroke-linecap: square"/>
     </g>
     <g id="line2d_88">
      <g>
       <path d="M 0 0 L -3.5 0" transform="translate(533.808 213.267804)" style="stroke: #000000; stroke-width: 0.8; stroke: #000000; stroke-width: 0.8"/>
      </g>
     </g>
     <g id="text_24">
      <text style="font-size: 10px; font-family: 'DejaVu Sans', 'Liberation Sans', sans-serif; text-anchor: end" x="526.808" y="217.067022" transform="rotate(-0 526.808 217.067022)">0.8</text>
     </g>
    </g>
    <g id="ytick_12">
     <g id="line2d_89">
      <path d="M 533.808 166.948019 
L 921.552 166.948019 
" clip-path="url(#p9a6d306fdc)" style="fill: none; stroke: #b0b0b0; stroke-opacity: 0.3; stroke-width: 0.8; stroke-linecap: square"/>
     </g>
     <g id="line2d_90">
      <g>
       <path d="M 0 0 L -3.5 0" transform="translate(533.808 166.948019)" style="stroke: #000000; stroke-width: 0.8; stroke: #000000; stroke-width: 0.8"/>
      </g>
     </g>
     <g id="text_25">
      <text style="font-size: 10px; font-family: 'DejaVu Sans', 'Liberation Sans', sans-serif; text-anchor: end" x="526.808" y="170.747238" transform="rotate(-0 526.808 170.747238)">0.9</text>
     </g>
    </g>
    <g id="ytick_13">
     <g id="line2d_91">
      <path d="M 533.808 120.628234 
L 921.552 120.628234 
" clip-path="url(#p9a6d306fdc)" style="fill: none; stroke: #b0b0b0; stroke-opacity: 0.3; stroke-width: 0.8; stroke-linecap: square"/>
     </g>
     <g id="line2d_92">
      <g>
       <path d="M 0 0 L -3.5 0" transform="translate(533.808 120.628234)" style="stroke: #000000; stroke-width: 0.8; stroke: #000000; stroke-width: 0.8"/>
      </g>
     </g>
     <g id="text_26">
      <text style="font-size: 10px; font-family: 'DejaVu Sans', 'Liberation Sans', sans-serif; text-anchor: end" x="526.808" y="124.427453" transform="rotate(-0 526.808 124.427453)">1.0</text>
     </g>
    </g>
    <g id="text_27">
     <text style="font-size: 10px; font-family: 'DejaVu Sans', 'Liberation Sans', sans-serif; text-anchor: middle" x="504.3452" y="257.5200" transform="rotate(-90 504.3452 257.5200)">Gap (Intra − Inter)</text>
    </g>
   </g>
   <g id="line2d_93">
    <path d="M 551.432727 95.152353 
L 575.451014 92.836364 
L 605.710477 121.55463 
L 633.551792 209.099023 
L 646.770009 253.102818 
L 670.788296 305.444175 
L 687.829541 336.941628 
L 711.847828 371.681467 
L 903.927273 421.243636 
" clip-path="url(#p9a6d306fdc)" style="fill: none; stroke: #2ca02c; stroke-width: 2; stroke-linecap: square"/>
    
    <g clip-path="url(#p9a6d306fdc)">
     <path d="M -0 4.949747 L 4.949747 0 L 0 -4.949747 L -4.949747 -0 z" transform="translate(551.432727 95.152353)" style="fill: #2ca02c; stroke: #2ca02c; stroke-linejoin: miter; stroke: #2ca02c; stroke-linejoin: miter"/>
     <path d="M -0 4.949747 L 4.949747 0 L 0 -4.949747 L -4.949747 -0 z" transform="translate(575.451014 92.836364)" style="fill: #2ca02c; stroke: #2ca02c; stroke-linejoin: miter; stroke: #2ca02c; stroke-linejoin: miter"/>
     <path d="M -0 4.949747 L 4.949747 0 L 0 -4.949747 L -4.949747 -0 z" transform="translate(605.710477 121.55463)" style="fill: #2ca02c; stroke: #2ca02c; stroke-linejoin: miter; stroke: #2ca02c; stroke-linejoin: miter"/>
     <path d="M -0 4.949747 L 4.949747 0 L 0 -4.949747 L -4.949747 -0 z" transform="translate(633.551792 209.099023)" style="fill: #2ca02c; stroke: #2ca02c; stroke-linejoin: miter; stroke: #2ca02c; stroke-linejoin: miter"/>
     <path d="M -0 4.949747 L 4.949747 0 L 0 -4.949747 L -4.949747 -0 z" transform="translate(646.770009 253.102818)" style="fill: #2ca02c; stroke: #2ca02c; stroke-linejoin: miter; stroke: #2ca02c; stroke-linejoin: miter"/>
     <path d="M -0 4.949747 L 4.949747 0 L 0 -4.949747 L -4.949747 -0 z" transform="translate(670.788296 305.444175)" style="fill: #2ca02c; stroke: #2ca02c; stroke-linejoin: miter; stroke: #2ca02c; stroke-linejoin: miter"/>
     <path d="M -0 4.949747 L 4.949747 0 L 0 -4.949747 L -4.949747 -0 z" transform="translate(687.829541 336.941628)" style="fill: #2ca02c; stroke: #2ca02c; stroke-linejoin: miter; stroke: #2ca02c; stroke-linejoin: miter"/>
     <path d="M -0 4.949747 L 4.949747 0 L 0 -4.949747 L -4.949747 -0 z" transform="translate(711.847828 371.681467)" style="fill: #2ca02c; stroke: #2ca02c; stroke-linejoin: miter; stroke: #2ca02c; stroke-linejoin: miter"/>
     <path d="M -0 4.949747 L 4.949747 0 L 0 -4.949747 L -4.949747 -0 z" transform="translate(903.927273 421.243636)" style="fill: #2ca02c; stroke: #2ca02c; stroke-linejoin: miter; stroke: #2ca02c; stroke-linejoin: miter"/>
    </g>
   </g>
   <g id="line2d_94">
    <path d="M 575.451014 437.664 
L 575.451014 76.416 
" clip-path="url(#p9a6d306fdc)" style="fill: none; stroke-dasharray: 5.55,2.4; stroke-dashoffset: 0; stroke: #008000; stroke-opacity: 0.7; stroke-width: 1.5"/>
   </g>
   <g id="line2d_95">
    <path d="M 533.808 421.243636 
L 921.552 421.243636 
" clip-path="url(#p9a6d306fdc)" style="fill: none; stroke-dasharray: 1.5,2.475; stroke-dashoffset: 0; stroke: #808080; stroke-opacity: 0.8; stroke-width: 1.5"/>
   </g>
   <g id="patch_9">
    <path d="M 533.808 437.664 
L 533.808 76.416 
" style="fill: none; stroke: #000000; stroke-width: 0.8; stroke-linejoin: miter; stroke-linecap: square"/>
   </g>
   <g id="patch_10">
    <path d="M 921.552 437.664 
L 921.552 76.416 
" style="fill: none; stroke: #000000; stroke-width: 0.8; stroke-linejoin: miter; stroke-linecap: square"/>
   </g>
   <g id="patch_11">
    <path d="M 533.808 437.664 
L 921.552 437.664 
" style="fill: none; stroke: #000000; stroke-width: 0.8; stroke-linejoin: miter; stroke-linecap: square"/>
   </g>
   <g id="patch_12">
    <path d="M 533.808 76.416 
L 921.552 76.416 
" style="fill: none; stroke: #000000; stroke-width: 0.8; stroke-linejoin: miter; stroke-linecap: square"/>
   </g>
   <g id="text_28">
    <text style="font-weight: 700; font-size: 11px; font-family: 'DejaVu Sans', 'Liberation Sans', sans-serif; text-anchor: middle" x="727.68" y="70.416" transform="rotate(-0 727.68 70.416)">(b) Discriminability vs Dimensionality</text>
   </g>
   <g id="legend_2">
    <g id="patch_13">
     <path d="M 800.217 108.861 
L 915.952 108.861 
Q 917.552 108.861 917.552 107.261 
L 917.552 82.016 
Q 917.552 80.416 915.952 80.416 
L 800.217 80.416 
Q 798.617 80.416 798.617 82.016 
L 798.617 107.261 
Q 798.617 108.861 800.217 108.861 
z
" style="fill: #ffffff; opacity: 0.8; stroke: #cccccc; stroke-linejoin: miter"/>
    </g>
    <g id="line2d_96">
     <path d="M 802.617 87.69475 
L 810.217 87.69475 
L 817.817 87.69475 
" style="fill: none; stroke-dasharray: 5.55,2.4; stroke-dashoffset: 0; stroke: #008000; stroke-opacity: 0.7; stroke-width: 1.5"/>
    </g>
    <g id="text_29">
     <text style="font-size: 8px; font-family: 'DejaVu Sans', 'Liberation Sans', sans-serif; text-anchor: start" x="823.417" y="90.49475" transform="rotate(-0 823.417 90.49475)">Best k=3 (gap=1.061)</text>
    </g>
    <g id="line2d_97">
     <path d="M 802.617 100.39725 
L 810.217 100.39725 
L 817.817 100.39725 
" style="fill: none; stroke-dasharray: 1.5,2.475; stroke-dashoffset: 0; stroke: #808080; stroke-opacity: 0.8; stroke-width: 1.5"/>
    </g>
    <g id="text_30">
     <text style="font-size: 8px; font-family: 'DejaVu Sans', 'Liberation Sans', sans-serif; text-anchor: start" x="823.417" y="103.19725" transform="rotate(-0 823.417 103.19725)">Full 768d (gap=0.351)</text>
    </g>
   </g>
  </g>
  <g id="axes_3">
   <g id="patch_14">
    <path d="M 1006.128 437.664 
L 1394.112 437.664 
L 1394.112 76.416 
L 1006.128 76.416 
z
" style="fill: #ffffff"/>
   </g>
   <g id="matplotlib.axis_5">
    <g id="xtick_55">
     <g id="line2d_98">
      <path d="M 1023.763636 437.664 
L 1023.763636 76.416 
" clip-path="url(#pc2ea0b0553)" style="fill: none; stroke: #b0b0b0; stroke-opacity: 0.3; stroke-width: 0.8; stroke-linecap: square"/>
     </g>
     <g id="line2d_99">
      <g>
       <path d="M 0 0 L 0 3.5" transform="translate(1023.763636 437.664)" style="stroke: #000000; stroke-width: 0.8; stroke: #000000; stroke-width: 0.8"/>
      </g>
     </g>
     <g id="text_31">
      <!-- $\mathdefault{10^{0}}$ -->
      <g transform="translate(1014.963636 454.662437)">
       <text>
        <tspan x="0" y="-0.976562" style="font-size: 10px; font-family: 'DejaVu Sans', 'Liberation Sans', sans-serif">1</tspan>
        <tspan x="6.362305" y="-0.976562" style="font-size: 10px; font-family: 'DejaVu Sans', 'Liberation Sans', sans-serif">0</tspan>
        <tspan x="12.820312" y="-4.804688" style="font-size: 7px; font-family: 'DejaVu Sans', 'Liberation Sans', sans-serif">0</tspan>
       </text>
      </g>
     </g>
    </g>
    <g id="xtick_56">
     <g id="line2d_100">
      <path d="M 1250.398707 437.664 
L 1250.398707 76.416 
" clip-path="url(#pc2ea0b0553)" style="fill: none; stroke: #b0b0b0; stroke-opacity: 0.3; stroke-width: 0.8; stroke-linecap: square"/>
     </g>
     <g id="line2d_101">
      <g>
       <path d="M 0 0 L 0 3.5" transform="translate(1250.398707 437.664)" style="stroke: #000000; stroke-width: 0.8; stroke: #000000; stroke-width: 0.8"/>
      </g>
     </g>
     <g id="text_32">
      <!-- $\mathdefault{10^{1}}$ -->
      <g transform="translate(1241.598707 454.662437)">
       <text>
        <tspan x="0" y="-0.064063" style="font-size: 10px; font-family: 'DejaVu Sans', 'Liberation Sans', sans-serif">1</tspan>
        <tspan x="6.362305" y="-0.064063" style="font-size: 10px; font-family: 'DejaVu Sans', 'Liberation Sans', sans-serif">0</tspan>
        <tspan x="12.820312" y="-3.892188" style="font-size: 7px; font-family: 'DejaVu Sans', 'Liberation Sans', sans-serif">1</tspan>
       </text>
      </g>
     </g>
    </g>
    <g id="xtick_57">
     <g id="line2d_102">
      <g>
       <path d="M 0 0 L 0 2" transform="translate(1013.393384 437.664)" style="stroke: #000000; stroke-width: 0.6; stroke: #000000; stroke-width: 0.6"/>
      </g>
     </g>
    </g>
    <g id="xtick_58">
     <g id="line2d_103">
      <g>
       <path d="M 0 0 L 0 2" transform="translate(1091.987591 437.664)" style="stroke: #000000; stroke-width: 0.6; stroke: #000000; stroke-width: 0.6"/>
      </g>
     </g>
    </g>
    <g id="xtick_59">
     <g id="line2d_104">
      <g>
       <path d="M 0 0 L 0 2" transform="translate(1131.896046 437.664)" style="stroke: #000000; stroke-width: 0.6; stroke: #000000; stroke-width: 0.6"/>
      </g>
     </g>
    </g>
    <g id="xtick_60">
     <g id="line2d_105">
      <g>
       <path d="M 0 0 L 0 2" transform="translate(1160.211545 437.664)" style="stroke: #000000; stroke-width: 0.6; stroke: #000000; stroke-width: 0.6"/>
      </g>
     </g>
    </g>
    <g id="xtick_61">
     <g id="line2d_106">
      <g>
       <path d="M 0 0 L 0 2" transform="translate(1182.174753 437.664)" style="stroke: #000000; stroke-width: 0.6; stroke: #000000; stroke-width: 0.6"/>
      </g>
     </g>
    </g>
    <g id="xtick_62">
     <g id="line2d_107">
      <g>
       <path d="M 0 0 L 0 2" transform="translate(1200.12 437.664)" style="stroke: #000000; stroke-width: 0.6; stroke: #000000; stroke-width: 0.6"/>
      </g>
     </g>
    </g>
    <g id="xtick_63">
     <g id="line2d_108">
      <g>
       <path d="M 0 0 L 0 2" transform="translate(1215.29249 437.664)" style="stroke: #000000; stroke-width: 0.6; stroke: #000000; stroke-width: 0.6"/>
      </g>
     </g>
    </g>
    <g id="xtick_64">
     <g id="line2d_109">
      <g>
       <path d="M 0 0 L 0 2" transform="translate(1228.435499 437.664)" style="stroke: #000000; stroke-width: 0.6; stroke: #000000; stroke-width: 0.6"/>
      </g>
     </g>
    </g>
    <g id="xtick_65">
     <g id="line2d_110">
      <g>
       <path d="M 0 0 L 0 2" transform="translate(1240.028455 437.664)" style="stroke: #000000; stroke-width: 0.6; stroke: #000000; stroke-width: 0.6"/>
      </g>
     </g>
    </g>
    <g id="xtick_66">
     <g id="line2d_111">
      <g>
       <path d="M 0 0 L 0 2" transform="translate(1318.622661 437.664)" style="stroke: #000000; stroke-width: 0.6; stroke: #000000; stroke-width: 0.6"/>
      </g>
     </g>
    </g>
    <g id="xtick_67">
     <g id="line2d_112">
      <g>
       <path d="M 0 0 L 0 2" transform="translate(1358.531116 437.664)" style="stroke: #000000; stroke-width: 0.6; stroke: #000000; stroke-width: 0.6"/>
      </g>
     </g>
    </g>
    <g id="xtick_68">
     <g id="line2d_113">
      <g>
       <path d="M 0 0 L 0 2" transform="translate(1386.846616 437.664)" style="stroke: #000000; stroke-width: 0.6; stroke: #000000; stroke-width: 0.6"/>
      </g>
     </g>
    </g>
    <g id="text_33">
     <text style="font-size: 10px; font-family: 'DejaVu Sans', 'Liberation Sans', sans-serif; text-anchor: middle" x="1200.12" y="469.040562" transform="rotate(-0 1200.12 469.040562)">Number of PCA Components</text>
    </g>
   </g>
   <g id="matplotlib.axis_6">
    <g id="ytick_14">
     <g id="line2d_114">
      <path d="M 1006.128 411.099014 
L 1394.112 411.099014 
" clip-path="url(#pc2ea0b0553)" style="fill: none; stroke: #b0b0b0; stroke-opacity: 0.3; stroke-width: 0.8; stroke-linecap: square"/>
     </g>
     <g id="line2d_115">
      <g>
       <path d="M 0 0 L -3.5 0" transform="translate(1006.128 411.099014)" style="stroke: #000000; stroke-width: 0.8; stroke: #000000; stroke-width: 0.8"/>
      </g>
     </g>
     <g id="text_34">
      <text style="font-size: 10px; font-family: 'DejaVu Sans', 'Liberation Sans', sans-serif; text-anchor: end" x="999.128" y="414.898233" transform="rotate(-0 999.128 414.898233)">20</text>
     </g>
    </g>
    <g id="ytick_15">
     <g id="line2d_116">
      <path d="M 1006.128 331.533352 
L 1394.112 331.533352 
" clip-path="url(#pc2ea0b0553)" style="fill: none; stroke: #b0b0b0; stroke-opacity: 0.3; stroke-width: 0.8; stroke-linecap: square"/>
     </g>
     <g id="line2d_117">
      <g>
       <path d="M 0 0 L -3.5 0" transform="translate(1006.128 331.533352)" style="stroke: #000000; stroke-width: 0.8; stroke: #000000; stroke-width: 0.8"/>
      </g>
     </g>
     <g id="text_35">
      <text style="font-size: 10px; font-family: 'DejaVu Sans', 'Liberation Sans', sans-serif; text-anchor: end" x="999.128" y="335.33257" transform="rotate(-0 999.128 335.33257)">40</text>
     </g>
    </g>
    <g id="ytick_16">
     <g id="line2d_118">
      <path d="M 1006.128 251.967689 
L 1394.112 251.967689 
" clip-path="url(#pc2ea0b0553)" style="fill: none; stroke: #b0b0b0; stroke-opacity: 0.3; stroke-width: 0.8; stroke-linecap: square"/>
     </g>
     <g id="line2d_119">
      <g>
       <path d="M 0 0 L -3.5 0" transform="translate(1006.128 251.967689)" style="stroke: #000000; stroke-width: 0.8; stroke: #000000; stroke-width: 0.8"/>
      </g>
     </g>
     <g id="text_36">
      <text style="font-size: 10px; font-family: 'DejaVu Sans', 'Liberation Sans', sans-serif; text-anchor: end" x="999.128" y="255.766908" transform="rotate(-0 999.128 255.766908)">60</text>
     </g>
    </g>
    <g id="ytick_17">
     <g id="line2d_120">
      <path d="M 1006.128 172.402026 
L 1394.112 172.402026 
" clip-path="url(#pc2ea0b0553)" style="fill: none; stroke: #b0b0b0; stroke-opacity: 0.3; stroke-width: 0.8; stroke-linecap: square"/>
     </g>
     <g id="line2d_121">
      <g>
       <path d="M 0 0 L -3.5 0" transform="translate(1006.128 172.402026)" style="stroke: #000000; stroke-width: 0.8; stroke: #000000; stroke-width: 0.8"/>
      </g>
     </g>
     <g id="text_37">
      <text style="font-size: 10px; font-family: 'DejaVu Sans', 'Liberation Sans', sans-serif; text-anchor: end" x="999.128" y="176.201245" transform="rotate(-0 999.128 176.201245)">80</text>
     </g>
    </g>
    <g id="ytick_18">
     <g id="line2d_122">
      <path d="M 1006.128 92.836364 
L 1394.112 92.836364 
" clip-path="url(#pc2ea0b0553)" style="fill: none; stroke: #b0b0b0; stroke-opacity: 0.3; stroke-width: 0.8; stroke-linecap: square"/>
     </g>
     <g id="line2d_123">
      <g>
       <path d="M 0 0 L -3.5 0" transform="translate(1006.128 92.836364)" style="stroke: #000000; stroke-width: 0.8; stroke: #000000; stroke-width: 0.8"/>
      </g>
     </g>
     <g id="text_38">
      <text style="font-size: 10px; font-family: 'DejaVu Sans', 'Liberation Sans', sans-serif; text-anchor: end" x="999.128" y="96.635582" transform="rotate(-0 999.128 96.635582)">100</text>
     </g>
    </g>
    <g id="text_39">
     <text style="font-size: 10px; font-family: 'DejaVu Sans', 'Liberation Sans', sans-serif; text-anchor: middle" x="973.4808" y="257.5200" transform="rotate(-90 973.4808 257.5200)">Cumulative Variance Explained (%)</text>
    </g>
   </g>
   <g id="line2d_124">
    <path d="M 1023.763636 421.243636 
L 1091.987591 382.733856 
L 1131.896046 345.457343 
L 1160.211545 318.564149 
L 1182.174753 295.211627 
L 1200.12 272.49563 
L 1215.29249 257.139457 
L 1228.435499 243.613294 
L 1240.028455 230.087132 
L 1250.398707 217.953368 
L 1259.779741 206.217433 
L 1268.343954 195.07824 
L 1276.222267 185.132532 
L 1283.516445 175.982481 
L 1290.307162 167.628087 
L 1296.659454 160.069349 
L 1302.626515 153.107353 
L 1308.252409 146.543186 
L 1313.574049 140.575761 
L 1318.622661 135.403993 
L 1323.4249 130.630053 
L 1328.003696 126.055028 
L 1332.378921 121.480002 
L 1336.567909 117.501719 
L 1340.585869 113.921264 
L 1344.446221 110.539724 
L 1348.160864 107.556011 
L 1351.740399 104.970127 
L 1355.19431 102.583157 
L 1358.531116 100.395102 
L 1361.758499 98.604874 
L 1364.883408 97.093127 
L 1367.91215 95.621162 
L 1370.850469 94.228763 
L 1373.703607 92.836364 
L 1376.476364 92.836364 
" clip-path="url(#pc2ea0b0553)" style="fill: none; stroke: #9467bd; stroke-width: 2; stroke-linecap: square"/>
   </g>
   <g id="line2d_125">
    <path d="M 1131.896046 437.664 
L 1131.896046 76.416 
" clip-path="url(#pc2ea0b0553)" style="fill: none; stroke-dasharray: 5.55,2.4; stroke-dashoffset: 0; stroke: #008000; stroke-opacity: 0.7; stroke-width: 1.5"/>
   </g>
   <g id="line2d_126">
    <path d="M 1006.128 132.619195 
L 1394.112 132.619195 
" clip-path="url(#pc2ea0b0553)" style="fill: none; stroke-dasharray: 1.5,2.475; stroke-dashoffset: 0; stroke: #808080; stroke-opacity: 0.4; stroke-width: 1.5"/>
   </g>
   <g id="line2d_127">
    <path d="M 1006.128 112.727779 
L 1394.112 112.727779 
" clip-path="url(#pc2ea0b0553)" style="fill: none; stroke-dasharray: 1.5,2.475; stroke-dashoffset: 0; stroke: #808080; stroke-opacity: 0.4; stroke-width: 1.5"/>
   </g>
   <g id="line2d_128">
    <path d="M 1006.128 96.814647 
L 1394.112 96.814647 
" clip-path="url(#pc2ea0b0553)" style="fill: none; stroke-dasharray: 1.5,2.475; stroke-dashoffset: 0; stroke: #808080; stroke-opacity: 0.4; stroke-width: 1.5"/>
   </g>
   <g id="patch_15">
    <path d="M 1006.128 437.664 
L 1006.128 76.416 
" style="fill: none; stroke: #000000; stroke-width: 0.8; stroke-linejoin: miter; stroke-linecap: square"/>
   </g>
   <g id="patch_16">
    <path d="M 1394.112 437.664 
L 1394.112 76.416 
" style="fill: none; stroke: #000000; stroke-width: 0.8; stroke-linejoin: miter; stroke-linecap: square"/>
   </g>
   <g id="patch_17">
    <path d="M 1006.128 437.664 
L 1394.112 437.664 
" style="fill: none; stroke: #000000; stroke-width: 0.8; stroke-linejoin: miter; stroke-linecap: square"/>
   </g>
   <g id="patch_18">
    <path d="M 1006.128 76.416 
L 1394.112 76.416 
" style="fill: none; stroke: #000000; stroke-width: 0.8; stroke-linejoin: miter; stroke-linecap: square"/>
   </g>
   <g id="text_40">
    <text style="font-size: 8px; font-family: 'DejaVu Sans', 'Liberation Sans', sans-serif; text-anchor: start; fill: #808080" x="1328.003696" y="140.687087" transform="rotate(-0 1328.003696 140.687087)">90% → k=21</text>
   </g>
   <g id="text_41">
    <text style="font-size: 8px; font-family: 'DejaVu Sans', 'Liberation Sans', sans-serif; text-anchor: start; fill: #808080" x="1348.160864" y="120.795671" transform="rotate(-0 1348.160864 120.795671)">95% → k=26</text>
   </g>
   <g id="text_42">
    <text style="font-size: 8px; font-family: 'DejaVu Sans', 'Liberation Sans', sans-serif; text-anchor: start; fill: #808080" x="1370.850469" y="104.882538" transform="rotate(-0 1370.850469 104.882538)">99% → k=33</text>
   </g>
   <g id="text_43">
    <text style="font-weight: 700; font-size: 11px; font-family: 'DejaVu Sans', 'Liberation Sans', sans-serif; text-anchor: middle" x="1200.12" y="70.416" transform="rotate(-0 1200.12 70.416)">(c) Variance Concentration</text>
   </g>
   <g id="legend_3">
    <g id="patch_19">
     <path d="M 1011.728 96.1585 
L 1074.01175 96.1585 
Q 1075.61175 96.1585 1075.61175 94.5585 
L 1075.61175 82.016 
Q 1075.61175 80.416 1074.01175 80.416 
L 1011.728 80.416 
Q 1010.128 80.416 1010.128 82.016 
L 1010.128 94.5585 
Q 1010.128 96.1585 1011.728 96.1585 
z
" style="fill: #ffffff; opacity: 0.8; stroke: #cccccc; stroke-linejoin: miter"/>
    </g>
    <g id="line2d_129">
     <path d="M 1014.128 87.69475 
L 1021.728 87.69475 
L 1029.328 87.69475 
" style="fill: none; stroke-dasharray: 5.55,2.4; stroke-dashoffset: 0; stroke: #008000; stroke-opacity: 0.7; stroke-width: 1.5"/>
    </g>
    <g id="text_44">
     <text style="font-size: 8px; font-family: 'DejaVu Sans', 'Liberation Sans', sans-serif; text-anchor: start" x="1034.928" y="90.49475" transform="rotate(-0 1034.928 90.49475)">Best k=3</text>
    </g>
   </g>
  </g>
  <g id="axes_4">
   <g id="patch_20">
    <path d="M 61.44 859.152 
L 371.8272 859.152 
L 371.8272 497.472 
L 61.44 497.472 
z
" style="fill: #ffffff"/>
   </g>
   <g id="HM_d" shape-rendering="crispEdges">
<rect x="61.440" y="497.472" width="8.672" height="10.097" fill="#67001f"/>
<rect x="70.062" y="497.472" width="8.672" height="10.097" fill="#d6604d"/>
<rect x="78.684" y="497.472" width="8.672" height="10.097" fill="#e98b6e"/>
<rect x="87.306" y="497.472" width="8.672" height="10.097" fill="#f4a683"/>
<rect x="95.927" y="497.472" width="8.672" height="10.097" fill="#f09c7b"/>
<rect x="104.549" y="497.472" width="8.672" height="10.097" fill="#d6604d"/>
<rect x="113.171" y="497.472" width="8.672" height="10.097" fill="#f9ede5"/>
<rect x="121.793" y="497.472" width="8.672" height="10.097" fill="#fae9df"/>
<rect x="130.415" y="497.472" width="8.672" height="10.097" fill="#fddbc7"/>
<rect x="139.037" y="497.472" width="17.294" height="10.097" fill="#fce2d2"/>
<rect x="156.281" y="497.472" width="8.672" height="10.097" fill="#fbe6da"/>
<rect x="164.902" y="497.472" width="8.672" height="10.097" fill="#fce2d2"/>
<rect x="173.524" y="497.472" width="8.672" height="10.097" fill="#fcd5bf"/>
<rect x="182.146" y="497.472" width="8.672" height="10.097" fill="#fce2d2"/>
<rect x="190.768" y="497.472" width="8.672" height="10.097" fill="#f8f3f0"/>
<rect x="199.390" y="497.472" width="8.672" height="10.097" fill="#fbceb7"/>
<rect x="208.012" y="497.472" width="8.672" height="10.097" fill="#fce2d2"/>
<rect x="216.634" y="497.472" width="8.672" height="10.097" fill="#fae9df"/>
<rect x="225.255" y="497.472" width="8.672" height="10.097" fill="#fddbc7"/>
<rect x="233.877" y="497.472" width="8.672" height="10.097" fill="#f9ede5"/>
<rect x="242.499" y="497.472" width="8.672" height="10.097" fill="#f9f0eb"/>
<rect x="251.121" y="497.472" width="8.672" height="10.097" fill="#fddbc7"/>
<rect x="259.743" y="497.472" width="8.672" height="10.097" fill="#f9f0eb"/>
<rect x="268.365" y="497.472" width="8.672" height="10.097" fill="#f8bfa4"/>
<rect x="276.987" y="497.472" width="8.672" height="10.097" fill="#f9c6ac"/>
<rect x="285.609" y="497.472" width="8.672" height="10.097" fill="#fcd5bf"/>
<rect x="294.230" y="497.472" width="8.672" height="10.097" fill="#f6b394"/>
<rect x="302.852" y="497.472" width="8.672" height="10.097" fill="#f9c6ac"/>
<rect x="311.474" y="497.472" width="8.672" height="10.097" fill="#ec9374"/>
<rect x="320.096" y="497.472" width="8.672" height="10.097" fill="#fcdecd"/>
<rect x="328.718" y="497.472" width="8.672" height="10.097" fill="#e4eef4"/>
<rect x="337.340" y="497.472" width="8.672" height="10.097" fill="#fce0d0"/>
<rect x="345.962" y="497.472" width="8.672" height="10.097" fill="#fddbc7"/>
<rect x="354.583" y="497.472" width="8.672" height="10.097" fill="#fbceb7"/>
<rect x="363.205" y="497.472" width="8.672" height="10.097" fill="#fcd5bf"/>
<rect x="61.440" y="507.519" width="8.672" height="10.097" fill="#d6604d"/>
<rect x="70.062" y="507.519" width="8.672" height="10.097" fill="#67001f"/>
<rect x="78.684" y="507.519" width="8.672" height="10.097" fill="#fbceb7"/>
<rect x="87.306" y="507.519" width="8.672" height="10.097" fill="#fce2d2"/>
<rect x="95.927" y="507.519" width="8.672" height="10.097" fill="#fbceb7"/>
<rect x="104.549" y="507.519" width="8.672" height="10.097" fill="#d86551"/>
<rect x="113.171" y="507.519" width="8.672" height="10.097" fill="#fbe6da"/>
<rect x="121.793" y="507.519" width="8.672" height="10.097" fill="#f9f0eb"/>
<rect x="130.415" y="507.519" width="34.537" height="10.097" fill="#fce2d2"/>
<rect x="164.902" y="507.519" width="8.672" height="10.097" fill="#f7f6f6"/>
<rect x="173.524" y="507.519" width="8.672" height="10.097" fill="#fae9df"/>
<rect x="182.146" y="507.519" width="8.672" height="10.097" fill="#fce2d2"/>
<rect x="190.768" y="507.519" width="8.672" height="10.097" fill="#f9f0eb"/>
<rect x="199.390" y="507.519" width="17.294" height="10.097" fill="#f9ede5"/>
<rect x="216.634" y="507.519" width="8.672" height="10.097" fill="#fbe6da"/>
<rect x="225.255" y="507.519" width="8.672" height="10.097" fill="#fcdecd"/>
<rect x="233.877" y="507.519" width="17.294" height="10.097" fill="#fce2d2"/>
<rect x="251.121" y="507.519" width="8.672" height="10.097" fill="#fcdecd"/>
<rect x="259.743" y="507.519" width="8.672" height="10.097" fill="#fbe6da"/>
<rect x="268.365" y="507.519" width="8.672" height="10.097" fill="#fcdecd"/>
<rect x="276.987" y="507.519" width="8.672" height="10.097" fill="#fce2d2"/>
<rect x="285.609" y="507.519" width="8.672" height="10.097" fill="#fae9df"/>
<rect x="294.230" y="507.519" width="17.294" height="10.097" fill="#fcdecd"/>
<rect x="311.474" y="507.519" width="8.672" height="10.097" fill="#f9c6ac"/>
<rect x="320.096" y="507.519" width="8.672" height="10.097" fill="#f9f0eb"/>
<rect x="328.718" y="507.519" width="8.672" height="10.097" fill="#dae9f2"/>
<rect x="337.340" y="507.519" width="8.672" height="10.097" fill="#fce2d2"/>
<rect x="345.962" y="507.519" width="8.672" height="10.097" fill="#f9f0eb"/>
<rect x="354.583" y="507.519" width="8.672" height="10.097" fill="#fcdecd"/>
<rect x="363.205" y="507.519" width="8.672" height="10.097" fill="#fce2d2"/>
<rect x="61.440" y="517.565" width="8.672" height="10.097" fill="#e98b6e"/>
<rect x="70.062" y="517.565" width="8.672" height="10.097" fill="#fbceb7"/>
<rect x="78.684" y="517.565" width="8.672" height="10.097" fill="#67001f"/>
<rect x="87.306" y="517.565" width="8.672" height="10.097" fill="#b82531"/>
<rect x="95.927" y="517.565" width="8.672" height="10.097" fill="#f7b99c"/>
<rect x="104.549" y="517.565" width="8.672" height="10.097" fill="#fcd5bf"/>
<rect x="113.171" y="517.565" width="17.294" height="10.097" fill="#fae9df"/>
<rect x="130.415" y="517.565" width="8.672" height="10.097" fill="#fce2d2"/>
<rect x="139.037" y="517.565" width="8.672" height="10.097" fill="#fbceb7"/>
<rect x="147.659" y="517.565" width="8.672" height="10.097" fill="#fce2d2"/>
<rect x="156.281" y="517.565" width="8.672" height="10.097" fill="#fddbc7"/>
<rect x="164.902" y="517.565" width="8.672" height="10.097" fill="#f9ede5"/>
<rect x="173.524" y="517.565" width="8.672" height="10.097" fill="#fae9df"/>
<rect x="182.146" y="517.565" width="8.672" height="10.097" fill="#fddbc7"/>
<rect x="190.768" y="517.565" width="8.672" height="10.097" fill="#f7f6f6"/>
<rect x="199.390" y="517.565" width="8.672" height="10.097" fill="#fce2d2"/>
<rect x="208.012" y="517.565" width="8.672" height="10.097" fill="#e9f0f4"/>
<rect x="216.634" y="517.565" width="8.672" height="10.097" fill="#f8f3f0"/>
<rect x="225.255" y="517.565" width="8.672" height="10.097" fill="#fae9df"/>
<rect x="233.877" y="517.565" width="17.294" height="10.097" fill="#f7f6f6"/>
<rect x="251.121" y="517.565" width="8.672" height="10.097" fill="#f9ede5"/>
<rect x="259.743" y="517.565" width="8.672" height="10.097" fill="#edf2f5"/>
<rect x="268.365" y="517.565" width="8.672" height="10.097" fill="#f8f3f0"/>
<rect x="276.987" y="517.565" width="8.672" height="10.097" fill="#fce2d2"/>
<rect x="285.609" y="517.565" width="8.672" height="10.097" fill="#fae9df"/>
<rect x="294.230" y="517.565" width="8.672" height="10.097" fill="#f9ede5"/>
<rect x="302.852" y="517.565" width="8.672" height="10.097" fill="#fae9df"/>
<rect x="311.474" y="517.565" width="8.672" height="10.097" fill="#fbe6da"/>
<rect x="320.096" y="517.565" width="8.672" height="10.097" fill="#fcdecd"/>
<rect x="328.718" y="517.565" width="8.672" height="10.097" fill="#edf2f5"/>
<rect x="337.340" y="517.565" width="8.672" height="10.097" fill="#f8f3f0"/>
<rect x="345.962" y="517.565" width="8.672" height="10.097" fill="#fae9df"/>
<rect x="354.583" y="517.565" width="8.672" height="10.097" fill="#fddbc7"/>
<rect x="363.205" y="517.565" width="8.672" height="10.097" fill="#edf2f5"/>
<rect x="61.440" y="527.612" width="8.672" height="10.097" fill="#f4a683"/>
<rect x="70.062" y="527.612" width="8.672" height="10.097" fill="#fce2d2"/>
<rect x="78.684" y="527.612" width="8.672" height="10.097" fill="#b82531"/>
<rect x="87.306" y="527.612" width="8.672" height="10.097" fill="#67001f"/>
<rect x="95.927" y="527.612" width="8.672" height="10.097" fill="#f9c6ac"/>
<rect x="104.549" y="527.612" width="8.672" height="10.097" fill="#fddbc7"/>
<rect x="113.171" y="527.612" width="8.672" height="10.097" fill="#f9ede5"/>
<rect x="121.793" y="527.612" width="8.672" height="10.097" fill="#f8f3f0"/>
<rect x="130.415" y="527.612" width="8.672" height="10.097" fill="#fce2d2"/>
<rect x="139.037" y="527.612" width="8.672" height="10.097" fill="#fcdecd"/>
<rect x="147.659" y="527.612" width="17.294" height="10.097" fill="#fae9df"/>
<rect x="164.902" y="527.612" width="8.672" height="10.097" fill="#fcd5bf"/>
<rect x="173.524" y="527.612" width="8.672" height="10.097" fill="#fddbc7"/>
<rect x="182.146" y="527.612" width="8.672" height="10.097" fill="#f8bfa4"/>
<rect x="190.768" y="527.612" width="8.672" height="10.097" fill="#fcdecd"/>
<rect x="199.390" y="527.612" width="8.672" height="10.097" fill="#f8bfa4"/>
<rect x="208.012" y="527.612" width="8.672" height="10.097" fill="#f9f0eb"/>
<rect x="216.634" y="527.612" width="8.672" height="10.097" fill="#f2f5f6"/>
<rect x="225.255" y="527.612" width="8.672" height="10.097" fill="#f8f3f0"/>
<rect x="233.877" y="527.612" width="8.672" height="10.097" fill="#edf2f5"/>
<rect x="242.499" y="527.612" width="8.672" height="10.097" fill="#e9f0f4"/>
<rect x="251.121" y="527.612" width="8.672" height="10.097" fill="#f8f3f0"/>
<rect x="259.743" y="527.612" width="8.672" height="10.097" fill="#e9f0f4"/>
<rect x="268.365" y="527.612" width="8.672" height="10.097" fill="#fcd5bf"/>
<rect x="276.987" y="527.612" width="8.672" height="10.097" fill="#f8bfa4"/>
<rect x="285.609" y="527.612" width="17.294" height="10.097" fill="#fcd5bf"/>
<rect x="302.852" y="527.612" width="8.672" height="10.097" fill="#f8bfa4"/>
<rect x="311.474" y="527.612" width="8.672" height="10.097" fill="#fcd5bf"/>
<rect x="320.096" y="527.612" width="8.672" height="10.097" fill="#fce2d2"/>
<rect x="328.718" y="527.612" width="8.672" height="10.097" fill="#f9f0eb"/>
<rect x="337.340" y="527.612" width="8.672" height="10.097" fill="#fce2d2"/>
<rect x="345.962" y="527.612" width="8.672" height="10.097" fill="#f9ede5"/>
<rect x="354.583" y="527.612" width="8.672" height="10.097" fill="#fae9df"/>
<rect x="363.205" y="527.612" width="8.672" height="10.097" fill="#f8f3f0"/>
<rect x="61.440" y="537.659" width="8.672" height="10.097" fill="#f09c7b"/>
<rect x="70.062" y="537.659" width="8.672" height="10.097" fill="#fbceb7"/>
<rect x="78.684" y="537.659" width="8.672" height="10.097" fill="#f7b99c"/>
<rect x="87.306" y="537.659" width="8.672" height="10.097" fill="#f9c6ac"/>
<rect x="95.927" y="537.659" width="8.672" height="10.097" fill="#67001f"/>
<rect x="104.549" y="537.659" width="8.672" height="10.097" fill="#f4a683"/>
<rect x="113.171" y="537.659" width="8.672" height="10.097" fill="#fae9df"/>
<rect x="121.793" y="537.659" width="17.294" height="10.097" fill="#f9f0eb"/>
<rect x="139.037" y="537.659" width="17.294" height="10.097" fill="#fae9df"/>
<rect x="156.281" y="537.659" width="8.672" height="10.097" fill="#f8f3f0"/>
<rect x="164.902" y="537.659" width="17.294" height="10.097" fill="#f9f0eb"/>
<rect x="182.146" y="537.659" width="8.672" height="10.097" fill="#f8f3f0"/>
<rect x="190.768" y="537.659" width="8.672" height="10.097" fill="#f7f6f6"/>
<rect x="199.390" y="537.659" width="8.672" height="10.097" fill="#fae9df"/>
<rect x="208.012" y="537.659" width="8.672" height="10.097" fill="#fbceb7"/>
<rect x="216.634" y="537.659" width="8.672" height="10.097" fill="#f8f3f0"/>
<rect x="225.255" y="537.659" width="8.672" height="10.097" fill="#fbe6da"/>
<rect x="233.877" y="537.659" width="8.672" height="10.097" fill="#f7f6f6"/>
<rect x="242.499" y="537.659" width="8.672" height="10.097" fill="#e9f0f4"/>
<rect x="251.121" y="537.659" width="8.672" height="10.097" fill="#fbe6da"/>
<rect x="259.743" y="537.659" width="8.672" height="10.097" fill="#e9f0f4"/>
<rect x="268.365" y="537.659" width="8.672" height="10.097" fill="#fcdecd"/>
<rect x="276.987" y="537.659" width="17.294" height="10.097" fill="#fae9df"/>
<rect x="294.230" y="537.659" width="8.672" height="10.097" fill="#fddbc7"/>
<rect x="302.852" y="537.659" width="8.672" height="10.097" fill="#f9ede5"/>
<rect x="311.474" y="537.659" width="8.672" height="10.097" fill="#f6b394"/>
<rect x="320.096" y="537.659" width="8.672" height="10.097" fill="#f8f3f0"/>
<rect x="328.718" y="537.659" width="8.672" height="10.097" fill="#d1e5f0"/>
<rect x="337.340" y="537.659" width="8.672" height="10.097" fill="#f7f6f6"/>
<rect x="345.962" y="537.659" width="8.672" height="10.097" fill="#f9f0eb"/>
<rect x="354.583" y="537.659" width="8.672" height="10.097" fill="#fbe6da"/>
<rect x="363.205" y="537.659" width="8.672" height="10.097" fill="#f9f0eb"/>
<rect x="61.440" y="547.705" width="8.672" height="10.097" fill="#d6604d"/>
<rect x="70.062" y="547.705" width="8.672" height="10.097" fill="#d86551"/>
<rect x="78.684" y="547.705" width="8.672" height="10.097" fill="#fcd5bf"/>
<rect x="87.306" y="547.705" width="8.672" height="10.097" fill="#fddbc7"/>
<rect x="95.927" y="547.705" width="8.672" height="10.097" fill="#f4a683"/>
<rect x="104.549" y="547.705" width="8.672" height="10.097" fill="#67001f"/>
<rect x="113.171" y="547.705" width="8.672" height="10.097" fill="#fce2d2"/>
<rect x="121.793" y="547.705" width="8.672" height="10.097" fill="#f9f0eb"/>
<rect x="130.415" y="547.705" width="8.672" height="10.097" fill="#fae9df"/>
<rect x="139.037" y="547.705" width="8.672" height="10.097" fill="#fddbc7"/>
<rect x="147.659" y="547.705" width="8.672" height="10.097" fill="#fcdecd"/>
<rect x="156.281" y="547.705" width="8.672" height="10.097" fill="#f9f0eb"/>
<rect x="164.902" y="547.705" width="8.672" height="10.097" fill="#f7f6f6"/>
<rect x="173.524" y="547.705" width="8.672" height="10.097" fill="#f8f3f0"/>
<rect x="182.146" y="547.705" width="8.672" height="10.097" fill="#f9f0eb"/>
<rect x="190.768" y="547.705" width="8.672" height="10.097" fill="#fae9df"/>
<rect x="199.390" y="547.705" width="8.672" height="10.097" fill="#fce2d2"/>
<rect x="208.012" y="547.705" width="8.672" height="10.097" fill="#fae9df"/>
<rect x="216.634" y="547.705" width="17.294" height="10.097" fill="#fcdecd"/>
<rect x="233.877" y="547.705" width="8.672" height="10.097" fill="#fae9df"/>
<rect x="242.499" y="547.705" width="8.672" height="10.097" fill="#f9f0eb"/>
<rect x="251.121" y="547.705" width="8.672" height="10.097" fill="#f9c6ac"/>
<rect x="259.743" y="547.705" width="8.672" height="10.097" fill="#fae9df"/>
<rect x="268.365" y="547.705" width="8.672" height="10.097" fill="#fddbc7"/>
<rect x="276.987" y="547.705" width="8.672" height="10.097" fill="#fcd5bf"/>
<rect x="285.609" y="547.705" width="8.672" height="10.097" fill="#fcdecd"/>
<rect x="294.230" y="547.705" width="17.294" height="10.097" fill="#fddbc7"/>
<rect x="311.474" y="547.705" width="8.672" height="10.097" fill="#d25849"/>
<rect x="320.096" y="547.705" width="8.672" height="10.097" fill="#f9f0eb"/>
<rect x="328.718" y="547.705" width="8.672" height="10.097" fill="#e0ecf3"/>
<rect x="337.340" y="547.705" width="34.537" height="10.097" fill="#fae9df"/>
<rect x="61.440" y="557.752" width="8.672" height="10.097" fill="#f9ede5"/>
<rect x="70.062" y="557.752" width="8.672" height="10.097" fill="#fbe6da"/>
<rect x="78.684" y="557.752" width="8.672" height="10.097" fill="#fae9df"/>
<rect x="87.306" y="557.752" width="8.672" height="10.097" fill="#f9ede5"/>
<rect x="95.927" y="557.752" width="8.672" height="10.097" fill="#fae9df"/>
<rect x="104.549" y="557.752" width="8.672" height="10.097" fill="#fce2d2"/>
<rect x="113.171" y="557.752" width="8.672" height="10.097" fill="#67001f"/>
<rect x="121.793" y="557.752" width="8.672" height="10.097" fill="#f9c6ac"/>
<rect x="130.415" y="557.752" width="8.672" height="10.097" fill="#e27b62"/>
<rect x="139.037" y="557.752" width="8.672" height="10.097" fill="#e98b6e"/>
<rect x="147.659" y="557.752" width="8.672" height="10.097" fill="#c84440"/>
<rect x="156.281" y="557.752" width="8.672" height="10.097" fill="#f09c7b"/>
<rect x="164.902" y="557.752" width="8.672" height="10.097" fill="#f2f5f6"/>
<rect x="173.524" y="557.752" width="8.672" height="10.097" fill="#f7f6f6"/>
<rect x="182.146" y="557.752" width="8.672" height="10.097" fill="#e9f0f4"/>
<rect x="190.768" y="557.752" width="25.916" height="10.097" fill="#f2f5f6"/>
<rect x="216.634" y="557.752" width="8.672" height="10.097" fill="#e58368"/>
<rect x="225.255" y="557.752" width="8.672" height="10.097" fill="#f6b394"/>
<rect x="233.877" y="557.752" width="8.672" height="10.097" fill="#f5ac8b"/>
<rect x="242.499" y="557.752" width="8.672" height="10.097" fill="#f8bfa4"/>
<rect x="251.121" y="557.752" width="8.672" height="10.097" fill="#f6b394"/>
<rect x="259.743" y="557.752" width="8.672" height="10.097" fill="#fcd5bf"/>
<rect x="268.365" y="557.752" width="8.672" height="10.097" fill="#eaf1f5"/>
<rect x="276.987" y="557.752" width="17.294" height="10.097" fill="#f9ede5"/>
<rect x="294.230" y="557.752" width="8.672" height="10.097" fill="#f8f3f0"/>
<rect x="302.852" y="557.752" width="8.672" height="10.097" fill="#f9ede5"/>
<rect x="311.474" y="557.752" width="8.672" height="10.097" fill="#fce2d2"/>
<rect x="320.096" y="557.752" width="8.672" height="10.097" fill="#fcdecd"/>
<rect x="328.718" y="557.752" width="8.672" height="10.097" fill="#edf2f5"/>
<rect x="337.340" y="557.752" width="17.294" height="10.097" fill="#f8f3f0"/>
<rect x="354.583" y="557.752" width="8.672" height="10.097" fill="#f9f0eb"/>
<rect x="363.205" y="557.752" width="8.672" height="10.097" fill="#f7f6f6"/>
<rect x="61.440" y="567.799" width="8.672" height="10.097" fill="#fae9df"/>
<rect x="70.062" y="567.799" width="8.672" height="10.097" fill="#f9f0eb"/>
<rect x="78.684" y="567.799" width="8.672" height="10.097" fill="#fae9df"/>
<rect x="87.306" y="567.799" width="8.672" height="10.097" fill="#f8f3f0"/>
<rect x="95.927" y="567.799" width="17.294" height="10.097" fill="#f9f0eb"/>
<rect x="113.171" y="567.799" width="8.672" height="10.097" fill="#f9c6ac"/>
<rect x="121.793" y="567.799" width="8.672" height="10.097" fill="#67001f"/>
<rect x="130.415" y="567.799" width="8.672" height="10.097" fill="#f7b99c"/>
<rect x="139.037" y="567.799" width="8.672" height="10.097" fill="#fcd5bf"/>
<rect x="147.659" y="567.799" width="8.672" height="10.097" fill="#da6853"/>
<rect x="156.281" y="567.799" width="8.672" height="10.097" fill="#f09c7b"/>
<rect x="164.902" y="567.799" width="8.672" height="10.097" fill="#f8f3f0"/>
<rect x="173.524" y="567.799" width="8.672" height="10.097" fill="#fae9df"/>
<rect x="182.146" y="567.799" width="8.672" height="10.097" fill="#f9ede5"/>
<rect x="190.768" y="567.799" width="8.672" height="10.097" fill="#f8f4f2"/>
<rect x="199.390" y="567.799" width="8.672" height="10.097" fill="#f9f0eb"/>
<rect x="208.012" y="567.799" width="8.672" height="10.097" fill="#fae9df"/>
<rect x="216.634" y="567.799" width="8.672" height="10.097" fill="#f7f6f6"/>
<rect x="225.255" y="567.799" width="8.672" height="10.097" fill="#fce2d2"/>
<rect x="233.877" y="567.799" width="8.672" height="10.097" fill="#fbe6da"/>
<rect x="242.499" y="567.799" width="8.672" height="10.097" fill="#f8bfa4"/>
<rect x="251.121" y="567.799" width="8.672" height="10.097" fill="#fce2d2"/>
<rect x="259.743" y="567.799" width="8.672" height="10.097" fill="#f9ede5"/>
<rect x="268.365" y="567.799" width="8.672" height="10.097" fill="#edf2f5"/>
<rect x="276.987" y="567.799" width="8.672" height="10.097" fill="#f8f3f0"/>
<rect x="285.609" y="567.799" width="8.672" height="10.097" fill="#f7f6f6"/>
<rect x="294.230" y="567.799" width="8.672" height="10.097" fill="#f8f3f0"/>
<rect x="302.852" y="567.799" width="8.672" height="10.097" fill="#f2f5f6"/>
<rect x="311.474" y="567.799" width="8.672" height="10.097" fill="#fae9df"/>
<rect x="320.096" y="567.799" width="8.672" height="10.097" fill="#f9ede5"/>
<rect x="328.718" y="567.799" width="8.672" height="10.097" fill="#f7f6f6"/>
<rect x="337.340" y="567.799" width="8.672" height="10.097" fill="#f9ede5"/>
<rect x="345.962" y="567.799" width="8.672" height="10.097" fill="#fae9df"/>
<rect x="354.583" y="567.799" width="8.672" height="10.097" fill="#f9f0eb"/>
<rect x="363.205" y="567.799" width="8.672" height="10.097" fill="#fbe6da"/>
<rect x="61.440" y="577.845" width="8.672" height="10.097" fill="#fddbc7"/>
<rect x="70.062" y="577.845" width="25.916" height="10.097" fill="#fce2d2"/>
<rect x="95.927" y="577.845" width="8.672" height="10.097" fill="#f9f0eb"/>
<rect x="104.549" y="577.845" width="8.672" height="10.097" fill="#fae9df"/>
<rect x="113.171" y="577.845" width="8.672" height="10.097" fill="#e27b62"/>
<rect x="121.793" y="577.845" width="8.672" height="10.097" fill="#f7b99c"/>
<rect x="130.415" y="577.845" width="8.672" height="10.097" fill="#67001f"/>
<rect x="139.037" y="577.845" width="8.672" height="10.097" fill="#f6b394"/>
<rect x="147.659" y="577.845" width="8.672" height="10.097" fill="#f4a683"/>
<rect x="156.281" y="577.845" width="8.672" height="10.097" fill="#e58368"/>
<rect x="164.902" y="577.845" width="8.672" height="10.097" fill="#f9ede5"/>
<rect x="173.524" y="577.845" width="17.294" height="10.097" fill="#fce2d2"/>
<rect x="190.768" y="577.845" width="8.672" height="10.097" fill="#f2f5f6"/>
<rect x="199.390" y="577.845" width="8.672" height="10.097" fill="#f8f3f0"/>
<rect x="208.012" y="577.845" width="8.672" height="10.097" fill="#fbe6da"/>
<rect x="216.634" y="577.845" width="8.672" height="10.097" fill="#fbceb7"/>
<rect x="225.255" y="577.845" width="8.672" height="10.097" fill="#fcdecd"/>
<rect x="233.877" y="577.845" width="8.672" height="10.097" fill="#fcd5bf"/>
<rect x="242.499" y="577.845" width="8.672" height="10.097" fill="#fbceb7"/>
<rect x="251.121" y="577.845" width="8.672" height="10.097" fill="#fddbc7"/>
<rect x="259.743" y="577.845" width="8.672" height="10.097" fill="#f9f0eb"/>
<rect x="268.365" y="577.845" width="8.672" height="10.097" fill="#f9ede5"/>
<rect x="276.987" y="577.845" width="25.916" height="10.097" fill="#fce2d2"/>
<rect x="302.852" y="577.845" width="25.916" height="10.097" fill="#fddbc7"/>
<rect x="328.718" y="577.845" width="8.672" height="10.097" fill="#f9f0eb"/>
<rect x="337.340" y="577.845" width="8.672" height="10.097" fill="#f9c6ac"/>
<rect x="345.962" y="577.845" width="8.672" height="10.097" fill="#fce2d2"/>
<rect x="354.583" y="577.845" width="8.672" height="10.097" fill="#f9c6ac"/>
<rect x="363.205" y="577.845" width="8.672" height="10.097" fill="#fcdecd"/>
<rect x="61.440" y="587.892" width="17.294" height="10.097" fill="#fce2d2"/>
<rect x="78.684" y="587.892" width="8.672" height="10.097" fill="#fbceb7"/>
<rect x="87.306" y="587.892" width="8.672" height="10.097" fill="#fcdecd"/>
<rect x="95.927" y="587.892" width="8.672" height="10.097" fill="#fae9df"/>
<rect x="104.549" y="587.892" width="8.672" height="10.097" fill="#fddbc7"/>
<rect x="113.171" y="587.892" width="8.672" height="10.097" fill="#e98b6e"/>
<rect x="121.793" y="587.892" width="8.672" height="10.097" fill="#fcd5bf"/>
<rect x="130.415" y="587.892" width="8.672" height="10.097" fill="#f6b394"/>
<rect x="139.037" y="587.892" width="8.672" height="10.097" fill="#67001f"/>
<rect x="147.659" y="587.892" width="8.672" height="10.097" fill="#f9c6ac"/>
<rect x="156.281" y="587.892" width="8.672" height="10.097" fill="#f5ac8b"/>
<rect x="164.902" y="587.892" width="8.672" height="10.097" fill="#f2f5f6"/>
<rect x="173.524" y="587.892" width="8.672" height="10.097" fill="#f8f3f0"/>
<rect x="182.146" y="587.892" width="8.672" height="10.097" fill="#f9ede5"/>
<rect x="190.768" y="587.892" width="17.294" height="10.097" fill="#edf2f5"/>
<rect x="208.012" y="587.892" width="8.672" height="10.097" fill="#e4eef4"/>
<rect x="216.634" y="587.892" width="8.672" height="10.097" fill="#fcd5bf"/>
<rect x="225.255" y="587.892" width="8.672" height="10.097" fill="#fae9df"/>
<rect x="233.877" y="587.892" width="8.672" height="10.097" fill="#f6b394"/>
<rect x="242.499" y="587.892" width="8.672" height="10.097" fill="#fbceb7"/>
<rect x="251.121" y="587.892" width="8.672" height="10.097" fill="#fce2d2"/>
<rect x="259.743" y="587.892" width="8.672" height="10.097" fill="#fbe6da"/>
<rect x="268.365" y="587.892" width="8.672" height="10.097" fill="#f7f6f6"/>
<rect x="276.987" y="587.892" width="17.294" height="10.097" fill="#f9ede5"/>
<rect x="294.230" y="587.892" width="17.294" height="10.097" fill="#f8f3f0"/>
<rect x="311.474" y="587.892" width="17.294" height="10.097" fill="#fcdecd"/>
<rect x="328.718" y="587.892" width="8.672" height="10.097" fill="#fce2d2"/>
<rect x="337.340" y="587.892" width="8.672" height="10.097" fill="#fbe6da"/>
<rect x="345.962" y="587.892" width="8.672" height="10.097" fill="#fce2d2"/>
<rect x="354.583" y="587.892" width="8.672" height="10.097" fill="#fcdecd"/>
<rect x="363.205" y="587.892" width="8.672" height="10.097" fill="#f9f0eb"/>
<rect x="61.440" y="597.939" width="25.916" height="10.097" fill="#fce2d2"/>
<rect x="87.306" y="597.939" width="17.294" height="10.097" fill="#fae9df"/>
<rect x="104.549" y="597.939" width="8.672" height="10.097" fill="#fcdecd"/>
<rect x="113.171" y="597.939" width="8.672" height="10.097" fill="#c84440"/>
<rect x="121.793" y="597.939" width="8.672" height="10.097" fill="#da6853"/>
<rect x="130.415" y="597.939" width="8.672" height="10.097" fill="#f4a683"/>
<rect x="139.037" y="597.939" width="8.672" height="10.097" fill="#f9c6ac"/>
<rect x="147.659" y="597.939" width="8.672" height="10.097" fill="#67001f"/>
<rect x="156.281" y="597.939" width="8.672" height="10.097" fill="#f9c6ac"/>
<rect x="164.902" y="597.939" width="8.672" height="10.097" fill="#f2f5f6"/>
<rect x="173.524" y="597.939" width="34.537" height="10.097" fill="#f7f6f6"/>
<rect x="208.012" y="597.939" width="8.672" height="10.097" fill="#fae9df"/>
<rect x="216.634" y="597.939" width="8.672" height="10.097" fill="#f7b99c"/>
<rect x="225.255" y="597.939" width="8.672" height="10.097" fill="#e98b6e"/>
<rect x="233.877" y="597.939" width="8.672" height="10.097" fill="#fbe6da"/>
<rect x="242.499" y="597.939" width="8.672" height="10.097" fill="#fcd5bf"/>
<rect x="251.121" y="597.939" width="8.672" height="10.097" fill="#ec9374"/>
<rect x="259.743" y="597.939" width="8.672" height="10.097" fill="#fcd5bf"/>
<rect x="268.365" y="597.939" width="8.672" height="10.097" fill="#f8f3f0"/>
<rect x="276.987" y="597.939" width="8.672" height="10.097" fill="#fbe6da"/>
<rect x="285.609" y="597.939" width="25.916" height="10.097" fill="#fae9df"/>
<rect x="311.474" y="597.939" width="8.672" height="10.097" fill="#fbceb7"/>
<rect x="320.096" y="597.939" width="8.672" height="10.097" fill="#fae9df"/>
<rect x="328.718" y="597.939" width="8.672" height="10.097" fill="#e4eef4"/>
<rect x="337.340" y="597.939" width="34.537" height="10.097" fill="#f9f0eb"/>
<rect x="61.440" y="607.985" width="8.672" height="10.097" fill="#fbe6da"/>
<rect x="70.062" y="607.985" width="8.672" height="10.097" fill="#fce2d2"/>
<rect x="78.684" y="607.985" width="8.672" height="10.097" fill="#fddbc7"/>
<rect x="87.306" y="607.985" width="8.672" height="10.097" fill="#fae9df"/>
<rect x="95.927" y="607.985" width="8.672" height="10.097" fill="#f8f3f0"/>
<rect x="104.549" y="607.985" width="8.672" height="10.097" fill="#f9f0eb"/>
<rect x="113.171" y="607.985" width="17.294" height="10.097" fill="#f09c7b"/>
<rect x="130.415" y="607.985" width="8.672" height="10.097" fill="#e58368"/>
<rect x="139.037" y="607.985" width="8.672" height="10.097" fill="#f5ac8b"/>
<rect x="147.659" y="607.985" width="8.672" height="10.097" fill="#f9c6ac"/>
<rect x="156.281" y="607.985" width="8.672" height="10.097" fill="#67001f"/>
<rect x="164.902" y="607.985" width="8.672" height="10.097" fill="#f7f6f6"/>
<rect x="173.524" y="607.985" width="8.672" height="10.097" fill="#fbe6da"/>
<rect x="182.146" y="607.985" width="8.672" height="10.097" fill="#f9ede5"/>
<rect x="190.768" y="607.985" width="8.672" height="10.097" fill="#f8f3f0"/>
<rect x="199.390" y="607.985" width="8.672" height="10.097" fill="#f7f6f6"/>
<rect x="208.012" y="607.985" width="8.672" height="10.097" fill="#f8f3f0"/>
<rect x="216.634" y="607.985" width="8.672" height="10.097" fill="#fbe6da"/>
<rect x="225.255" y="607.985" width="8.672" height="10.097" fill="#f8f3f0"/>
<rect x="233.877" y="607.985" width="8.672" height="10.097" fill="#f9c6ac"/>
<rect x="242.499" y="607.985" width="8.672" height="10.097" fill="#fcdecd"/>
<rect x="251.121" y="607.985" width="8.672" height="10.097" fill="#f9f0eb"/>
<rect x="259.743" y="607.985" width="8.672" height="10.097" fill="#f8f3f0"/>
<rect x="268.365" y="607.985" width="8.672" height="10.097" fill="#edf2f5"/>
<rect x="276.987" y="607.985" width="8.672" height="10.097" fill="#f9f0eb"/>
<rect x="285.609" y="607.985" width="25.916" height="10.097" fill="#f8f3f0"/>
<rect x="311.474" y="607.985" width="8.672" height="10.097" fill="#f7f6f6"/>
<rect x="320.096" y="607.985" width="8.672" height="10.097" fill="#fcd5bf"/>
<rect x="328.718" y="607.985" width="8.672" height="10.097" fill="#fbe6da"/>
<rect x="337.340" y="607.985" width="8.672" height="10.097" fill="#fce2d2"/>
<rect x="345.962" y="607.985" width="8.672" height="10.097" fill="#fcdecd"/>
<rect x="354.583" y="607.985" width="17.294" height="10.097" fill="#fddbc7"/>
<rect x="61.440" y="618.032" width="8.672" height="10.097" fill="#fce2d2"/>
<rect x="70.062" y="618.032" width="8.672" height="10.097" fill="#f7f6f6"/>
<rect x="78.684" y="618.032" width="8.672" height="10.097" fill="#f9ede5"/>
<rect x="87.306" y="618.032" width="8.672" height="10.097" fill="#fcd5bf"/>
<rect x="95.927" y="618.032" width="8.672" height="10.097" fill="#f9f0eb"/>
<rect x="104.549" y="618.032" width="8.672" height="10.097" fill="#f7f6f6"/>
<rect x="113.171" y="618.032" width="8.672" height="10.097" fill="#f2f5f6"/>
<rect x="121.793" y="618.032" width="8.672" height="10.097" fill="#f8f3f0"/>
<rect x="130.415" y="618.032" width="8.672" height="10.097" fill="#f9ede5"/>
<rect x="139.037" y="618.032" width="17.294" height="10.097" fill="#f2f5f6"/>
<rect x="156.281" y="618.032" width="8.672" height="10.097" fill="#f7f6f6"/>
<rect x="164.902" y="618.032" width="8.672" height="10.097" fill="#67001f"/>
<rect x="173.524" y="618.032" width="8.672" height="10.097" fill="#cb4942"/>
<rect x="182.146" y="618.032" width="8.672" height="10.097" fill="#f5ac8b"/>
<rect x="190.768" y="618.032" width="8.672" height="10.097" fill="#e58368"/>
<rect x="199.390" y="618.032" width="8.672" height="10.097" fill="#f7b99c"/>
<rect x="208.012" y="618.032" width="8.672" height="10.097" fill="#e58368"/>
<rect x="216.634" y="618.032" width="8.672" height="10.097" fill="#f0f4f6"/>
<rect x="225.255" y="618.032" width="8.672" height="10.097" fill="#e0ecf3"/>
<rect x="233.877" y="618.032" width="8.672" height="10.097" fill="#f7f6f6"/>
<rect x="242.499" y="618.032" width="8.672" height="10.097" fill="#f2f5f6"/>
<rect x="251.121" y="618.032" width="8.672" height="10.097" fill="#e0ecf3"/>
<rect x="259.743" y="618.032" width="8.672" height="10.097" fill="#e9f0f4"/>
<rect x="268.365" y="618.032" width="8.672" height="10.097" fill="#f8bfa4"/>
<rect x="276.987" y="618.032" width="8.672" height="10.097" fill="#f9c6ac"/>
<rect x="285.609" y="618.032" width="17.294" height="10.097" fill="#fbceb7"/>
<rect x="302.852" y="618.032" width="8.672" height="10.097" fill="#f9c6ac"/>
<rect x="311.474" y="618.032" width="17.294" height="10.097" fill="#fbe6da"/>
<rect x="328.718" y="618.032" width="8.672" height="10.097" fill="#fddbc7"/>
<rect x="337.340" y="618.032" width="8.672" height="10.097" fill="#f7b99c"/>
<rect x="345.962" y="618.032" width="8.672" height="10.097" fill="#fcdecd"/>
<rect x="354.583" y="618.032" width="8.672" height="10.097" fill="#fcd5bf"/>
<rect x="363.205" y="618.032" width="8.672" height="10.097" fill="#f9c6ac"/>
<rect x="61.440" y="628.079" width="8.672" height="10.097" fill="#fcd5bf"/>
<rect x="70.062" y="628.079" width="17.294" height="10.097" fill="#fae9df"/>
<rect x="87.306" y="628.079" width="8.672" height="10.097" fill="#fddbc7"/>
<rect x="95.927" y="628.079" width="8.672" height="10.097" fill="#f9f0eb"/>
<rect x="104.549" y="628.079" width="8.672" height="10.097" fill="#f8f3f0"/>
<rect x="113.171" y="628.079" width="8.672" height="10.097" fill="#f7f6f6"/>
<rect x="121.793" y="628.079" width="8.672" height="10.097" fill="#fae9df"/>
<rect x="130.415" y="628.079" width="8.672" height="10.097" fill="#fce2d2"/>
<rect x="139.037" y="628.079" width="8.672" height="10.097" fill="#f8f3f0"/>
<rect x="147.659" y="628.079" width="8.672" height="10.097" fill="#f7f6f6"/>
<rect x="156.281" y="628.079" width="8.672" height="10.097" fill="#fbe6da"/>
<rect x="164.902" y="628.079" width="8.672" height="10.097" fill="#cb4942"/>
<rect x="173.524" y="628.079" width="8.672" height="10.097" fill="#67001f"/>
<rect x="182.146" y="628.079" width="8.672" height="10.097" fill="#e58368"/>
<rect x="190.768" y="628.079" width="8.672" height="10.097" fill="#e98b6e"/>
<rect x="199.390" y="628.079" width="8.672" height="10.097" fill="#f7b99c"/>
<rect x="208.012" y="628.079" width="8.672" height="10.097" fill="#f4a683"/>
<rect x="216.634" y="628.079" width="8.672" height="10.097" fill="#f8f3f0"/>
<rect x="225.255" y="628.079" width="8.672" height="10.097" fill="#edf2f5"/>
<rect x="233.877" y="628.079" width="8.672" height="10.097" fill="#f9f0eb"/>
<rect x="242.499" y="628.079" width="8.672" height="10.097" fill="#f8f3f0"/>
<rect x="251.121" y="628.079" width="8.672" height="10.097" fill="#f2f5f6"/>
<rect x="259.743" y="628.079" width="8.672" height="10.097" fill="#f7f6f6"/>
<rect x="268.365" y="628.079" width="8.672" height="10.097" fill="#e98b6e"/>
<rect x="276.987" y="628.079" width="8.672" height="10.097" fill="#f4a683"/>
<rect x="285.609" y="628.079" width="8.672" height="10.097" fill="#f6b394"/>
<rect x="294.230" y="628.079" width="8.672" height="10.097" fill="#f4a683"/>
<rect x="302.852" y="628.079" width="8.672" height="10.097" fill="#f6b394"/>
<rect x="311.474" y="628.079" width="8.672" height="10.097" fill="#fcd5bf"/>
<rect x="320.096" y="628.079" width="8.672" height="10.097" fill="#fcdecd"/>
<rect x="328.718" y="628.079" width="8.672" height="10.097" fill="#fce2d2"/>
<rect x="337.340" y="628.079" width="8.672" height="10.097" fill="#f6b394"/>
<rect x="345.962" y="628.079" width="8.672" height="10.097" fill="#fae9df"/>
<rect x="354.583" y="628.079" width="8.672" height="10.097" fill="#fddbc7"/>
<rect x="363.205" y="628.079" width="8.672" height="10.097" fill="#f9c6ac"/>
<rect x="61.440" y="638.125" width="17.294" height="10.097" fill="#fce2d2"/>
<rect x="78.684" y="638.125" width="8.672" height="10.097" fill="#fddbc7"/>
<rect x="87.306" y="638.125" width="8.672" height="10.097" fill="#f8bfa4"/>
<rect x="95.927" y="638.125" width="8.672" height="10.097" fill="#f8f3f0"/>
<rect x="104.549" y="638.125" width="8.672" height="10.097" fill="#f9f0eb"/>
<rect x="113.171" y="638.125" width="8.672" height="10.097" fill="#e9f0f4"/>
<rect x="121.793" y="638.125" width="8.672" height="10.097" fill="#f9ede5"/>
<rect x="130.415" y="638.125" width="8.672" height="10.097" fill="#fce2d2"/>
<rect x="139.037" y="638.125" width="8.672" height="10.097" fill="#f9ede5"/>
<rect x="147.659" y="638.125" width="8.672" height="10.097" fill="#f7f6f6"/>
<rect x="156.281" y="638.125" width="8.672" height="10.097" fill="#f9ede5"/>
<rect x="164.902" y="638.125" width="8.672" height="10.097" fill="#f5ac8b"/>
<rect x="173.524" y="638.125" width="8.672" height="10.097" fill="#e58368"/>
<rect x="182.146" y="638.125" width="8.672" height="10.097" fill="#67001f"/>
<rect x="190.768" y="638.125" width="17.294" height="10.097" fill="#f6b394"/>
<rect x="208.012" y="638.125" width="8.672" height="10.097" fill="#fddbc7"/>
<rect x="216.634" y="638.125" width="8.672" height="10.097" fill="#f7f6f6"/>
<rect x="225.255" y="638.125" width="8.672" height="10.097" fill="#edf2f5"/>
<rect x="233.877" y="638.125" width="8.672" height="10.097" fill="#f8f2ef"/>
<rect x="242.499" y="638.125" width="8.672" height="10.097" fill="#f9f0eb"/>
<rect x="251.121" y="638.125" width="8.672" height="10.097" fill="#f0f4f6"/>
<rect x="259.743" y="638.125" width="8.672" height="10.097" fill="#f7f6f6"/>
<rect x="268.365" y="638.125" width="8.672" height="10.097" fill="#f5ac8b"/>
<rect x="276.987" y="638.125" width="17.294" height="10.097" fill="#f4a683"/>
<rect x="294.230" y="638.125" width="8.672" height="10.097" fill="#f5ac8b"/>
<rect x="302.852" y="638.125" width="8.672" height="10.097" fill="#f6b394"/>
<rect x="311.474" y="638.125" width="8.672" height="10.097" fill="#fcdecd"/>
<rect x="320.096" y="638.125" width="8.672" height="10.097" fill="#fbceb7"/>
<rect x="328.718" y="638.125" width="8.672" height="10.097" fill="#fddbc7"/>
<rect x="337.340" y="638.125" width="8.672" height="10.097" fill="#f9c6ac"/>
<rect x="345.962" y="638.125" width="8.672" height="10.097" fill="#fae9df"/>
<rect x="354.583" y="638.125" width="8.672" height="10.097" fill="#f7b99c"/>
<rect x="363.205" y="638.125" width="8.672" height="10.097" fill="#fce2d2"/>
<rect x="61.440" y="648.172" width="8.672" height="10.097" fill="#f8f3f0"/>
<rect x="70.062" y="648.172" width="8.672" height="10.097" fill="#f9f0eb"/>
<rect x="78.684" y="648.172" width="8.672" height="10.097" fill="#f7f6f6"/>
<rect x="87.306" y="648.172" width="8.672" height="10.097" fill="#fcdecd"/>
<rect x="95.927" y="648.172" width="8.672" height="10.097" fill="#f7f6f6"/>
<rect x="104.549" y="648.172" width="8.672" height="10.097" fill="#fae9df"/>
<rect x="113.171" y="648.172" width="8.672" height="10.097" fill="#f2f5f6"/>
<rect x="121.793" y="648.172" width="8.672" height="10.097" fill="#f8f4f2"/>
<rect x="130.415" y="648.172" width="8.672" height="10.097" fill="#f2f5f6"/>
<rect x="139.037" y="648.172" width="8.672" height="10.097" fill="#edf2f5"/>
<rect x="147.659" y="648.172" width="8.672" height="10.097" fill="#f7f6f6"/>
<rect x="156.281" y="648.172" width="8.672" height="10.097" fill="#f8f3f0"/>
<rect x="164.902" y="648.172" width="8.672" height="10.097" fill="#e58368"/>
<rect x="173.524" y="648.172" width="8.672" height="10.097" fill="#e98b6e"/>
<rect x="182.146" y="648.172" width="8.672" height="10.097" fill="#f6b394"/>
<rect x="190.768" y="648.172" width="8.672" height="10.097" fill="#67001f"/>
<rect x="199.390" y="648.172" width="8.672" height="10.097" fill="#f5ac8b"/>
<rect x="208.012" y="648.172" width="8.672" height="10.097" fill="#f6b394"/>
<rect x="216.634" y="648.172" width="8.672" height="10.097" fill="#f2f5f6"/>
<rect x="225.255" y="648.172" width="8.672" height="10.097" fill="#e9f0f4"/>
<rect x="233.877" y="648.172" width="8.672" height="10.097" fill="#edf2f5"/>
<rect x="242.499" y="648.172" width="8.672" height="10.097" fill="#f5f6f7"/>
<rect x="251.121" y="648.172" width="8.672" height="10.097" fill="#edf2f5"/>
<rect x="259.743" y="648.172" width="8.672" height="10.097" fill="#f0f4f6"/>
<rect x="268.365" y="648.172" width="8.672" height="10.097" fill="#f6b394"/>
<rect x="276.987" y="648.172" width="8.672" height="10.097" fill="#f5ac8b"/>
<rect x="285.609" y="648.172" width="8.672" height="10.097" fill="#f8bfa4"/>
<rect x="294.230" y="648.172" width="8.672" height="10.097" fill="#f7b99c"/>
<rect x="302.852" y="648.172" width="8.672" height="10.097" fill="#f8bfa4"/>
<rect x="311.474" y="648.172" width="17.294" height="10.097" fill="#fce2d2"/>
<rect x="328.718" y="648.172" width="8.672" height="10.097" fill="#f7b99c"/>
<rect x="337.340" y="648.172" width="8.672" height="10.097" fill="#fcdecd"/>
<rect x="345.962" y="648.172" width="8.672" height="10.097" fill="#f9f0eb"/>
<rect x="354.583" y="648.172" width="8.672" height="10.097" fill="#f9ede5"/>
<rect x="363.205" y="648.172" width="8.672" height="10.097" fill="#fcdecd"/>
<rect x="61.440" y="658.219" width="8.672" height="10.097" fill="#fbceb7"/>
<rect x="70.062" y="658.219" width="8.672" height="10.097" fill="#f9ede5"/>
<rect x="78.684" y="658.219" width="8.672" height="10.097" fill="#fce2d2"/>
<rect x="87.306" y="658.219" width="8.672" height="10.097" fill="#f8bfa4"/>
<rect x="95.927" y="658.219" width="8.672" height="10.097" fill="#fae9df"/>
<rect x="104.549" y="658.219" width="8.672" height="10.097" fill="#fce2d2"/>
<rect x="113.171" y="658.219" width="8.672" height="10.097" fill="#f2f5f6"/>
<rect x="121.793" y="658.219" width="8.672" height="10.097" fill="#f9f0eb"/>
<rect x="130.415" y="658.219" width="8.672" height="10.097" fill="#f8f3f0"/>
<rect x="139.037" y="658.219" width="8.672" height="10.097" fill="#edf2f5"/>
<rect x="147.659" y="658.219" width="17.294" height="10.097" fill="#f7f6f6"/>
<rect x="164.902" y="658.219" width="17.294" height="10.097" fill="#f7b99c"/>
<rect x="182.146" y="658.219" width="8.672" height="10.097" fill="#f6b394"/>
<rect x="190.768" y="658.219" width="8.672" height="10.097" fill="#f5ac8b"/>
<rect x="199.390" y="658.219" width="8.672" height="10.097" fill="#67001f"/>
<rect x="208.012" y="658.219" width="8.672" height="10.097" fill="#f8bfa4"/>
<rect x="216.634" y="658.219" width="8.672" height="10.097" fill="#f8f3f0"/>
<rect x="225.255" y="658.219" width="8.672" height="10.097" fill="#edf2f5"/>
<rect x="233.877" y="658.219" width="8.672" height="10.097" fill="#f5f6f7"/>
<rect x="242.499" y="658.219" width="17.294" height="10.097" fill="#f7f6f6"/>
<rect x="259.743" y="658.219" width="8.672" height="10.097" fill="#f8f3f0"/>
<rect x="268.365" y="658.219" width="8.672" height="10.097" fill="#fcd5bf"/>
<rect x="276.987" y="658.219" width="8.672" height="10.097" fill="#f9c6ac"/>
<rect x="285.609" y="658.219" width="8.672" height="10.097" fill="#fbceb7"/>
<rect x="294.230" y="658.219" width="25.916" height="10.097" fill="#fce2d2"/>
<rect x="320.096" y="658.219" width="8.672" height="10.097" fill="#fcdecd"/>
<rect x="328.718" y="658.219" width="8.672" height="10.097" fill="#fce2d2"/>
<rect x="337.340" y="658.219" width="8.672" height="10.097" fill="#f6b394"/>
<rect x="345.962" y="658.219" width="8.672" height="10.097" fill="#f9ede5"/>
<rect x="354.583" y="658.219" width="8.672" height="10.097" fill="#fbe6da"/>
<rect x="363.205" y="658.219" width="8.672" height="10.097" fill="#f9c6ac"/>
<rect x="61.440" y="668.265" width="8.672" height="10.097" fill="#fce2d2"/>
<rect x="70.062" y="668.265" width="8.672" height="10.097" fill="#f9ede5"/>
<rect x="78.684" y="668.265" width="8.672" height="10.097" fill="#e9f0f4"/>
<rect x="87.306" y="668.265" width="8.672" height="10.097" fill="#f9f0eb"/>
<rect x="95.927" y="668.265" width="8.672" height="10.097" fill="#fbceb7"/>
<rect x="104.549" y="668.265" width="8.672" height="10.097" fill="#fae9df"/>
<rect x="113.171" y="668.265" width="8.672" height="10.097" fill="#f2f5f6"/>
<rect x="121.793" y="668.265" width="8.672" height="10.097" fill="#fae9df"/>
<rect x="130.415" y="668.265" width="8.672" height="10.097" fill="#fbe6da"/>
<rect x="139.037" y="668.265" width="8.672" height="10.097" fill="#e4eef4"/>
<rect x="147.659" y="668.265" width="8.672" height="10.097" fill="#fae9df"/>
<rect x="156.281" y="668.265" width="8.672" height="10.097" fill="#f8f3f0"/>
<rect x="164.902" y="668.265" width="8.672" height="10.097" fill="#e58368"/>
<rect x="173.524" y="668.265" width="8.672" height="10.097" fill="#f4a683"/>
<rect x="182.146" y="668.265" width="8.672" height="10.097" fill="#fddbc7"/>
<rect x="190.768" y="668.265" width="8.672" height="10.097" fill="#f6b394"/>
<rect x="199.390" y="668.265" width="8.672" height="10.097" fill="#f8bfa4"/>
<rect x="208.012" y="668.265" width="8.672" height="10.097" fill="#67001f"/>
<rect x="216.634" y="668.265" width="8.672" height="10.097" fill="#f8f3f0"/>
<rect x="225.255" y="668.265" width="8.672" height="10.097" fill="#f8f2ef"/>
<rect x="233.877" y="668.265" width="8.672" height="10.097" fill="#f8f4f2"/>
<rect x="242.499" y="668.265" width="8.672" height="10.097" fill="#f8f3f0"/>
<rect x="251.121" y="668.265" width="8.672" height="10.097" fill="#f8f1ed"/>
<rect x="259.743" y="668.265" width="8.672" height="10.097" fill="#f8f3f0"/>
<rect x="268.365" y="668.265" width="8.672" height="10.097" fill="#fbceb7"/>
<rect x="276.987" y="668.265" width="17.294" height="10.097" fill="#fce2d2"/>
<rect x="294.230" y="668.265" width="17.294" height="10.097" fill="#fcdecd"/>
<rect x="311.474" y="668.265" width="8.672" height="10.097" fill="#fddbc7"/>
<rect x="320.096" y="668.265" width="8.672" height="10.097" fill="#f9f0eb"/>
<rect x="328.718" y="668.265" width="8.672" height="10.097" fill="#f8f3f0"/>
<rect x="337.340" y="668.265" width="8.672" height="10.097" fill="#ec9374"/>
<rect x="345.962" y="668.265" width="8.672" height="10.097" fill="#fbe6da"/>
<rect x="354.583" y="668.265" width="8.672" height="10.097" fill="#f9f0eb"/>
<rect x="363.205" y="668.265" width="8.672" height="10.097" fill="#f4a683"/>
<rect x="61.440" y="678.312" width="8.672" height="10.097" fill="#fae9df"/>
<rect x="70.062" y="678.312" width="8.672" height="10.097" fill="#fbe6da"/>
<rect x="78.684" y="678.312" width="8.672" height="10.097" fill="#f8f3f0"/>
<rect x="87.306" y="678.312" width="8.672" height="10.097" fill="#f2f5f6"/>
<rect x="95.927" y="678.312" width="8.672" height="10.097" fill="#f8f3f0"/>
<rect x="104.549" y="678.312" width="8.672" height="10.097" fill="#fcdecd"/>
<rect x="113.171" y="678.312" width="8.672" height="10.097" fill="#e58368"/>
<rect x="121.793" y="678.312" width="8.672" height="10.097" fill="#f7f6f6"/>
<rect x="130.415" y="678.312" width="8.672" height="10.097" fill="#fbceb7"/>
<rect x="139.037" y="678.312" width="8.672" height="10.097" fill="#fcd5bf"/>
<rect x="147.659" y="678.312" width="8.672" height="10.097" fill="#f7b99c"/>
<rect x="156.281" y="678.312" width="8.672" height="10.097" fill="#fbe6da"/>
<rect x="164.902" y="678.312" width="8.672" height="10.097" fill="#f0f4f6"/>
<rect x="173.524" y="678.312" width="8.672" height="10.097" fill="#f8f3f0"/>
<rect x="182.146" y="678.312" width="8.672" height="10.097" fill="#f7f6f6"/>
<rect x="190.768" y="678.312" width="8.672" height="10.097" fill="#f2f5f6"/>
<rect x="199.390" y="678.312" width="17.294" height="10.097" fill="#f8f3f0"/>
<rect x="216.634" y="678.312" width="8.672" height="10.097" fill="#67001f"/>
<rect x="225.255" y="678.312" width="8.672" height="10.097" fill="#d25849"/>
<rect x="233.877" y="678.312" width="8.672" height="10.097" fill="#c13639"/>
<rect x="242.499" y="678.312" width="8.672" height="10.097" fill="#da6853"/>
<rect x="251.121" y="678.312" width="8.672" height="10.097" fill="#c13639"/>
<rect x="259.743" y="678.312" width="8.672" height="10.097" fill="#d86551"/>
<rect x="268.365" y="678.312" width="8.672" height="10.097" fill="#f7f6f6"/>
<rect x="276.987" y="678.312" width="8.672" height="10.097" fill="#f9ede5"/>
<rect x="285.609" y="678.312" width="17.294" height="10.097" fill="#f9f0eb"/>
<rect x="302.852" y="678.312" width="8.672" height="10.097" fill="#f8f2ef"/>
<rect x="311.474" y="678.312" width="8.672" height="10.097" fill="#fce2d2"/>
<rect x="320.096" y="678.312" width="8.672" height="10.097" fill="#fcdecd"/>
<rect x="328.718" y="678.312" width="17.294" height="10.097" fill="#f8f3f0"/>
<rect x="345.962" y="678.312" width="8.672" height="10.097" fill="#f2f5f6"/>
<rect x="354.583" y="678.312" width="8.672" height="10.097" fill="#f8f2ef"/>
<rect x="363.205" y="678.312" width="8.672" height="10.097" fill="#f7f6f6"/>
<rect x="61.440" y="688.359" width="8.672" height="10.097" fill="#fddbc7"/>
<rect x="70.062" y="688.359" width="8.672" height="10.097" fill="#fcdecd"/>
<rect x="78.684" y="688.359" width="8.672" height="10.097" fill="#fae9df"/>
<rect x="87.306" y="688.359" width="8.672" height="10.097" fill="#f8f3f0"/>
<rect x="95.927" y="688.359" width="8.672" height="10.097" fill="#fbe6da"/>
<rect x="104.549" y="688.359" width="8.672" height="10.097" fill="#fcdecd"/>
<rect x="113.171" y="688.359" width="8.672" height="10.097" fill="#f6b394"/>
<rect x="121.793" y="688.359" width="8.672" height="10.097" fill="#fce2d2"/>
<rect x="130.415" y="688.359" width="8.672" height="10.097" fill="#fcdecd"/>
<rect x="139.037" y="688.359" width="8.672" height="10.097" fill="#fae9df"/>
<rect x="147.659" y="688.359" width="8.672" height="10.097" fill="#e98b6e"/>
<rect x="156.281" y="688.359" width="8.672" height="10.097" fill="#f8f3f0"/>
<rect x="164.902" y="688.359" width="8.672" height="10.097" fill="#e0ecf3"/>
<rect x="173.524" y="688.359" width="17.294" height="10.097" fill="#edf2f5"/>
<rect x="190.768" y="688.359" width="8.672" height="10.097" fill="#e9f0f4"/>
<rect x="199.390" y="688.359" width="8.672" height="10.097" fill="#edf2f5"/>
<rect x="208.012" y="688.359" width="8.672" height="10.097" fill="#f8f2ef"/>
<rect x="216.634" y="688.359" width="8.672" height="10.097" fill="#d25849"/>
<rect x="225.255" y="688.359" width="8.672" height="10.097" fill="#67001f"/>
<rect x="233.877" y="688.359" width="8.672" height="10.097" fill="#ec9374"/>
<rect x="242.499" y="688.359" width="8.672" height="10.097" fill="#e98b6e"/>
<rect x="251.121" y="688.359" width="8.672" height="10.097" fill="#ae172a"/>
<rect x="259.743" y="688.359" width="8.672" height="10.097" fill="#dd7059"/>
<rect x="268.365" y="688.359" width="8.672" height="10.097" fill="#f5f6f7"/>
<rect x="276.987" y="688.359" width="8.672" height="10.097" fill="#f8f3f0"/>
<rect x="285.609" y="688.359" width="8.672" height="10.097" fill="#f7f6f6"/>
<rect x="294.230" y="688.359" width="8.672" height="10.097" fill="#f8f3f0"/>
<rect x="302.852" y="688.359" width="8.672" height="10.097" fill="#f2f5f6"/>
<rect x="311.474" y="688.359" width="8.672" height="10.097" fill="#fbe6da"/>
<rect x="320.096" y="688.359" width="8.672" height="10.097" fill="#f9f0eb"/>
<rect x="328.718" y="688.359" width="8.672" height="10.097" fill="#e4eef4"/>
<rect x="337.340" y="688.359" width="34.537" height="10.097" fill="#edf2f5"/>
<rect x="61.440" y="698.405" width="8.672" height="10.097" fill="#f9ede5"/>
<rect x="70.062" y="698.405" width="8.672" height="10.097" fill="#fce2d2"/>
<rect x="78.684" y="698.405" width="8.672" height="10.097" fill="#f7f6f6"/>
<rect x="87.306" y="698.405" width="8.672" height="10.097" fill="#edf2f5"/>
<rect x="95.927" y="698.405" width="8.672" height="10.097" fill="#f7f6f6"/>
<rect x="104.549" y="698.405" width="8.672" height="10.097" fill="#fae9df"/>
<rect x="113.171" y="698.405" width="8.672" height="10.097" fill="#f5ac8b"/>
<rect x="121.793" y="698.405" width="8.672" height="10.097" fill="#fbe6da"/>
<rect x="130.415" y="698.405" width="8.672" height="10.097" fill="#fcd5bf"/>
<rect x="139.037" y="698.405" width="8.672" height="10.097" fill="#f6b394"/>
<rect x="147.659" y="698.405" width="8.672" height="10.097" fill="#fbe6da"/>
<rect x="156.281" y="698.405" width="8.672" height="10.097" fill="#f9c6ac"/>
<rect x="164.902" y="698.405" width="8.672" height="10.097" fill="#f7f6f6"/>
<rect x="173.524" y="698.405" width="8.672" height="10.097" fill="#f9f0eb"/>
<rect x="182.146" y="698.405" width="8.672" height="10.097" fill="#f8f2ef"/>
<rect x="190.768" y="698.405" width="8.672" height="10.097" fill="#edf2f5"/>
<rect x="199.390" y="698.405" width="8.672" height="10.097" fill="#f5f6f7"/>
<rect x="208.012" y="698.405" width="8.672" height="10.097" fill="#f8f4f2"/>
<rect x="216.634" y="698.405" width="8.672" height="10.097" fill="#c13639"/>
<rect x="225.255" y="698.405" width="8.672" height="10.097" fill="#ec9374"/>
<rect x="233.877" y="698.405" width="8.672" height="10.097" fill="#67001f"/>
<rect x="242.499" y="698.405" width="8.672" height="10.097" fill="#c13639"/>
<rect x="251.121" y="698.405" width="8.672" height="10.097" fill="#e27b62"/>
<rect x="259.743" y="698.405" width="8.672" height="10.097" fill="#e58368"/>
<rect x="268.365" y="698.405" width="8.672" height="10.097" fill="#f7f6f6"/>
<rect x="276.987" y="698.405" width="8.672" height="10.097" fill="#f8f3f0"/>
<rect x="285.609" y="698.405" width="8.672" height="10.097" fill="#f7f6f6"/>
<rect x="294.230" y="698.405" width="8.672" height="10.097" fill="#f9f0eb"/>
<rect x="302.852" y="698.405" width="8.672" height="10.097" fill="#f5f6f7"/>
<rect x="311.474" y="698.405" width="8.672" height="10.097" fill="#f9ede5"/>
<rect x="320.096" y="698.405" width="8.672" height="10.097" fill="#fbceb7"/>
<rect x="328.718" y="698.405" width="17.294" height="10.097" fill="#f9ede5"/>
<rect x="345.962" y="698.405" width="8.672" height="10.097" fill="#f0f4f6"/>
<rect x="354.583" y="698.405" width="17.294" height="10.097" fill="#f9ede5"/>
<rect x="61.440" y="708.452" width="8.672" height="10.097" fill="#f9f0eb"/>
<rect x="70.062" y="708.452" width="8.672" height="10.097" fill="#fce2d2"/>
<rect x="78.684" y="708.452" width="8.672" height="10.097" fill="#f7f6f6"/>
<rect x="87.306" y="708.452" width="17.294" height="10.097" fill="#e9f0f4"/>
<rect x="104.549" y="708.452" width="8.672" height="10.097" fill="#f9f0eb"/>
<rect x="113.171" y="708.452" width="17.294" height="10.097" fill="#f8bfa4"/>
<rect x="130.415" y="708.452" width="17.294" height="10.097" fill="#fbceb7"/>
<rect x="147.659" y="708.452" width="8.672" height="10.097" fill="#fcd5bf"/>
<rect x="156.281" y="708.452" width="8.672" height="10.097" fill="#fcdecd"/>
<rect x="164.902" y="708.452" width="8.672" height="10.097" fill="#f2f5f6"/>
<rect x="173.524" y="708.452" width="8.672" height="10.097" fill="#f8f3f0"/>
<rect x="182.146" y="708.452" width="8.672" height="10.097" fill="#f9f0eb"/>
<rect x="190.768" y="708.452" width="8.672" height="10.097" fill="#f5f6f7"/>
<rect x="199.390" y="708.452" width="8.672" height="10.097" fill="#f7f6f6"/>
<rect x="208.012" y="708.452" width="8.672" height="10.097" fill="#f8f3f0"/>
<rect x="216.634" y="708.452" width="8.672" height="10.097" fill="#da6853"/>
<rect x="225.255" y="708.452" width="8.672" height="10.097" fill="#e98b6e"/>
<rect x="233.877" y="708.452" width="8.672" height="10.097" fill="#c13639"/>
<rect x="242.499" y="708.452" width="8.672" height="10.097" fill="#67001f"/>
<rect x="251.121" y="708.452" width="8.672" height="10.097" fill="#e98b6e"/>
<rect x="259.743" y="708.452" width="8.672" height="10.097" fill="#ef9979"/>
<rect x="268.365" y="708.452" width="17.294" height="10.097" fill="#f8f3f0"/>
<rect x="285.609" y="708.452" width="8.672" height="10.097" fill="#f8f2ef"/>
<rect x="294.230" y="708.452" width="17.294" height="10.097" fill="#f9f0eb"/>
<rect x="311.474" y="708.452" width="8.672" height="10.097" fill="#f9efe9"/>
<rect x="320.096" y="708.452" width="8.672" height="10.097" fill="#fcdfcf"/>
<rect x="328.718" y="708.452" width="8.672" height="10.097" fill="#f7f6f6"/>
<rect x="337.340" y="708.452" width="8.672" height="10.097" fill="#f8f3f0"/>
<rect x="345.962" y="708.452" width="8.672" height="10.097" fill="#dae9f2"/>
<rect x="354.583" y="708.452" width="8.672" height="10.097" fill="#f7f6f6"/>
<rect x="363.205" y="708.452" width="8.672" height="10.097" fill="#f5f6f7"/>
<rect x="61.440" y="718.499" width="8.672" height="10.097" fill="#fddbc7"/>
<rect x="70.062" y="718.499" width="8.672" height="10.097" fill="#fcdecd"/>
<rect x="78.684" y="718.499" width="8.672" height="10.097" fill="#f9ede5"/>
<rect x="87.306" y="718.499" width="8.672" height="10.097" fill="#f8f3f0"/>
<rect x="95.927" y="718.499" width="8.672" height="10.097" fill="#fbe6da"/>
<rect x="104.549" y="718.499" width="8.672" height="10.097" fill="#f9c6ac"/>
<rect x="113.171" y="718.499" width="8.672" height="10.097" fill="#f6b394"/>
<rect x="121.793" y="718.499" width="8.672" height="10.097" fill="#fce2d2"/>
<rect x="130.415" y="718.499" width="8.672" height="10.097" fill="#fddbc7"/>
<rect x="139.037" y="718.499" width="8.672" height="10.097" fill="#fce2d2"/>
<rect x="147.659" y="718.499" width="8.672" height="10.097" fill="#ec9374"/>
<rect x="156.281" y="718.499" width="8.672" height="10.097" fill="#f9f0eb"/>
<rect x="164.902" y="718.499" width="8.672" height="10.097" fill="#e0ecf3"/>
<rect x="173.524" y="718.499" width="8.672" height="10.097" fill="#f2f5f6"/>
<rect x="182.146" y="718.499" width="8.672" height="10.097" fill="#f0f4f6"/>
<rect x="190.768" y="718.499" width="8.672" height="10.097" fill="#edf2f5"/>
<rect x="199.390" y="718.499" width="8.672" height="10.097" fill="#f7f6f6"/>
<rect x="208.012" y="718.499" width="8.672" height="10.097" fill="#f8f1ed"/>
<rect x="216.634" y="718.499" width="8.672" height="10.097" fill="#c13639"/>
<rect x="225.255" y="718.499" width="8.672" height="10.097" fill="#ae172a"/>
<rect x="233.877" y="718.499" width="8.672" height="10.097" fill="#e27b62"/>
<rect x="242.499" y="718.499" width="8.672" height="10.097" fill="#e98b6e"/>
<rect x="251.121" y="718.499" width="8.672" height="10.097" fill="#67001f"/>
<rect x="259.743" y="718.499" width="8.672" height="10.097" fill="#d25849"/>
<rect x="268.365" y="718.499" width="8.672" height="10.097" fill="#f8f3f0"/>
<rect x="276.987" y="718.499" width="17.294" height="10.097" fill="#fae9df"/>
<rect x="294.230" y="718.499" width="8.672" height="10.097" fill="#fbe6da"/>
<rect x="302.852" y="718.499" width="8.672" height="10.097" fill="#f9f0eb"/>
<rect x="311.474" y="718.499" width="8.672" height="10.097" fill="#fbceb7"/>
<rect x="320.096" y="718.499" width="8.672" height="10.097" fill="#fcdecd"/>
<rect x="328.718" y="718.499" width="8.672" height="10.097" fill="#f5f6f7"/>
<rect x="337.340" y="718.499" width="8.672" height="10.097" fill="#f7f6f6"/>
<rect x="345.962" y="718.499" width="8.672" height="10.097" fill="#edf2f5"/>
<rect x="354.583" y="718.499" width="8.672" height="10.097" fill="#f8f2ef"/>
<rect x="363.205" y="718.499" width="8.672" height="10.097" fill="#f8f1ed"/>
<rect x="61.440" y="728.545" width="8.672" height="10.097" fill="#f9f0eb"/>
<rect x="70.062" y="728.545" width="8.672" height="10.097" fill="#fbe6da"/>
<rect x="78.684" y="728.545" width="8.672" height="10.097" fill="#edf2f5"/>
<rect x="87.306" y="728.545" width="17.294" height="10.097" fill="#e9f0f4"/>
<rect x="104.549" y="728.545" width="8.672" height="10.097" fill="#fae9df"/>
<rect x="113.171" y="728.545" width="8.672" height="10.097" fill="#fcd5bf"/>
<rect x="121.793" y="728.545" width="8.672" height="10.097" fill="#f9ede5"/>
<rect x="130.415" y="728.545" width="8.672" height="10.097" fill="#f9f0eb"/>
<rect x="139.037" y="728.545" width="8.672" height="10.097" fill="#fbe6da"/>
<rect x="147.659" y="728.545" width="8.672" height="10.097" fill="#fcd5bf"/>
<rect x="156.281" y="728.545" width="8.672" height="10.097" fill="#f8f3f0"/>
<rect x="164.902" y="728.545" width="8.672" height="10.097" fill="#e9f0f4"/>
<rect x="173.524" y="728.545" width="17.294" height="10.097" fill="#f7f6f6"/>
<rect x="190.768" y="728.545" width="8.672" height="10.097" fill="#f0f4f6"/>
<rect x="199.390" y="728.545" width="17.294" height="10.097" fill="#f8f3f0"/>
<rect x="216.634" y="728.545" width="8.672" height="10.097" fill="#d86551"/>
<rect x="225.255" y="728.545" width="8.672" height="10.097" fill="#dd7059"/>
<rect x="233.877" y="728.545" width="8.672" height="10.097" fill="#e58368"/>
<rect x="242.499" y="728.545" width="8.672" height="10.097" fill="#ef9979"/>
<rect x="251.121" y="728.545" width="8.672" height="10.097" fill="#d25849"/>
<rect x="259.743" y="728.545" width="8.672" height="10.097" fill="#67001f"/>
<rect x="268.365" y="728.545" width="8.672" height="10.097" fill="#f8f3f0"/>
<rect x="276.987" y="728.545" width="8.672" height="10.097" fill="#f9ebe3"/>
<rect x="285.609" y="728.545" width="17.294" height="10.097" fill="#f9eee7"/>
<rect x="302.852" y="728.545" width="8.672" height="10.097" fill="#f9f0eb"/>
<rect x="311.474" y="728.545" width="8.672" height="10.097" fill="#fce2d2"/>
<rect x="320.096" y="728.545" width="8.672" height="10.097" fill="#fcd5bf"/>
<rect x="328.718" y="728.545" width="8.672" height="10.097" fill="#fae9df"/>
<rect x="337.340" y="728.545" width="8.672" height="10.097" fill="#f9f0eb"/>
<rect x="345.962" y="728.545" width="8.672" height="10.097" fill="#edf2f5"/>
<rect x="354.583" y="728.545" width="8.672" height="10.097" fill="#fddbc7"/>
<rect x="363.205" y="728.545" width="8.672" height="10.097" fill="#f9f0eb"/>
<rect x="61.440" y="738.592" width="8.672" height="10.097" fill="#f8bfa4"/>
<rect x="70.062" y="738.592" width="8.672" height="10.097" fill="#fcdecd"/>
<rect x="78.684" y="738.592" width="8.672" height="10.097" fill="#f8f3f0"/>
<rect x="87.306" y="738.592" width="8.672" height="10.097" fill="#fcd5bf"/>
<rect x="95.927" y="738.592" width="8.672" height="10.097" fill="#fcdecd"/>
<rect x="104.549" y="738.592" width="8.672" height="10.097" fill="#fddbc7"/>
<rect x="113.171" y="738.592" width="8.672" height="10.097" fill="#eaf1f5"/>
<rect x="121.793" y="738.592" width="8.672" height="10.097" fill="#edf2f5"/>
<rect x="130.415" y="738.592" width="8.672" height="10.097" fill="#f9ede5"/>
<rect x="139.037" y="738.592" width="8.672" height="10.097" fill="#f7f6f6"/>
<rect x="147.659" y="738.592" width="8.672" height="10.097" fill="#f8f3f0"/>
<rect x="156.281" y="738.592" width="8.672" height="10.097" fill="#edf2f5"/>
<rect x="164.902" y="738.592" width="8.672" height="10.097" fill="#f8bfa4"/>
<rect x="173.524" y="738.592" width="8.672" height="10.097" fill="#e98b6e"/>
<rect x="182.146" y="738.592" width="8.672" height="10.097" fill="#f5ac8b"/>
<rect x="190.768" y="738.592" width="8.672" height="10.097" fill="#f6b394"/>
<rect x="199.390" y="738.592" width="8.672" height="10.097" fill="#fcd5bf"/>
<rect x="208.012" y="738.592" width="8.672" height="10.097" fill="#fbceb7"/>
<rect x="216.634" y="738.592" width="8.672" height="10.097" fill="#f7f6f6"/>
<rect x="225.255" y="738.592" width="8.672" height="10.097" fill="#f5f6f7"/>
<rect x="233.877" y="738.592" width="8.672" height="10.097" fill="#f7f6f6"/>
<rect x="242.499" y="738.592" width="25.916" height="10.097" fill="#f8f3f0"/>
<rect x="268.365" y="738.592" width="8.672" height="10.097" fill="#67001f"/>
<rect x="276.987" y="738.592" width="8.672" height="10.097" fill="#be3036"/>
<rect x="285.609" y="738.592" width="8.672" height="10.097" fill="#c6413e"/>
<rect x="294.230" y="738.592" width="17.294" height="10.097" fill="#bb2a34"/>
<rect x="311.474" y="738.592" width="8.672" height="10.097" fill="#d25849"/>
<rect x="320.096" y="738.592" width="8.672" height="10.097" fill="#fcd5bf"/>
<rect x="328.718" y="738.592" width="8.672" height="10.097" fill="#fcdecd"/>
<rect x="337.340" y="738.592" width="8.672" height="10.097" fill="#f9c6ac"/>
<rect x="345.962" y="738.592" width="8.672" height="10.097" fill="#f9ede5"/>
<rect x="354.583" y="738.592" width="8.672" height="10.097" fill="#fbceb7"/>
<rect x="363.205" y="738.592" width="8.672" height="10.097" fill="#fcd5bf"/>
<rect x="61.440" y="748.639" width="8.672" height="10.097" fill="#f9c6ac"/>
<rect x="70.062" y="748.639" width="17.294" height="10.097" fill="#fce2d2"/>
<rect x="87.306" y="748.639" width="8.672" height="10.097" fill="#f8bfa4"/>
<rect x="95.927" y="748.639" width="8.672" height="10.097" fill="#fae9df"/>
<rect x="104.549" y="748.639" width="8.672" height="10.097" fill="#fcd5bf"/>
<rect x="113.171" y="748.639" width="8.672" height="10.097" fill="#f9ede5"/>
<rect x="121.793" y="748.639" width="8.672" height="10.097" fill="#f8f3f0"/>
<rect x="130.415" y="748.639" width="8.672" height="10.097" fill="#fce2d2"/>
<rect x="139.037" y="748.639" width="8.672" height="10.097" fill="#f9ede5"/>
<rect x="147.659" y="748.639" width="8.672" height="10.097" fill="#fbe6da"/>
<rect x="156.281" y="748.639" width="8.672" height="10.097" fill="#f9f0eb"/>
<rect x="164.902" y="748.639" width="8.672" height="10.097" fill="#f9c6ac"/>
<rect x="173.524" y="748.639" width="17.294" height="10.097" fill="#f4a683"/>
<rect x="190.768" y="748.639" width="8.672" height="10.097" fill="#f5ac8b"/>
<rect x="199.390" y="748.639" width="8.672" height="10.097" fill="#f9c6ac"/>
<rect x="208.012" y="748.639" width="8.672" height="10.097" fill="#fce2d2"/>
<rect x="216.634" y="748.639" width="8.672" height="10.097" fill="#f9ede5"/>
<rect x="225.255" y="748.639" width="25.916" height="10.097" fill="#f8f3f0"/>
<rect x="251.121" y="748.639" width="8.672" height="10.097" fill="#fae9df"/>
<rect x="259.743" y="748.639" width="8.672" height="10.097" fill="#f9ebe3"/>
<rect x="268.365" y="748.639" width="8.672" height="10.097" fill="#be3036"/>
<rect x="276.987" y="748.639" width="8.672" height="10.097" fill="#67001f"/>
<rect x="285.609" y="748.639" width="8.672" height="10.097" fill="#b1182b"/>
<rect x="294.230" y="748.639" width="8.672" height="10.097" fill="#bb2a34"/>
<rect x="302.852" y="748.639" width="8.672" height="10.097" fill="#b1182b"/>
<rect x="311.474" y="748.639" width="8.672" height="10.097" fill="#cb4942"/>
<rect x="320.096" y="748.639" width="8.672" height="10.097" fill="#f6b394"/>
<rect x="328.718" y="748.639" width="8.672" height="10.097" fill="#fddbc7"/>
<rect x="337.340" y="748.639" width="8.672" height="10.097" fill="#fcd5bf"/>
<rect x="345.962" y="748.639" width="8.672" height="10.097" fill="#fcdecd"/>
<rect x="354.583" y="748.639" width="8.672" height="10.097" fill="#fbceb7"/>
<rect x="363.205" y="748.639" width="8.672" height="10.097" fill="#fcd5bf"/>
<rect x="61.440" y="758.685" width="8.672" height="10.097" fill="#fcd5bf"/>
<rect x="70.062" y="758.685" width="17.294" height="10.097" fill="#fae9df"/>
<rect x="87.306" y="758.685" width="8.672" height="10.097" fill="#fcd5bf"/>
<rect x="95.927" y="758.685" width="8.672" height="10.097" fill="#fae9df"/>
<rect x="104.549" y="758.685" width="8.672" height="10.097" fill="#fcdecd"/>
<rect x="113.171" y="758.685" width="8.672" height="10.097" fill="#f9ede5"/>
<rect x="121.793" y="758.685" width="8.672" height="10.097" fill="#f7f6f6"/>
<rect x="130.415" y="758.685" width="8.672" height="10.097" fill="#fce2d2"/>
<rect x="139.037" y="758.685" width="8.672" height="10.097" fill="#f9ede5"/>
<rect x="147.659" y="758.685" width="8.672" height="10.097" fill="#fae9df"/>
<rect x="156.281" y="758.685" width="8.672" height="10.097" fill="#f8f3f0"/>
<rect x="164.902" y="758.685" width="8.672" height="10.097" fill="#fbceb7"/>
<rect x="173.524" y="758.685" width="8.672" height="10.097" fill="#f6b394"/>
<rect x="182.146" y="758.685" width="8.672" height="10.097" fill="#f4a683"/>
<rect x="190.768" y="758.685" width="8.672" height="10.097" fill="#f8bfa4"/>
<rect x="199.390" y="758.685" width="8.672" height="10.097" fill="#fbceb7"/>
<rect x="208.012" y="758.685" width="8.672" height="10.097" fill="#fce2d2"/>
<rect x="216.634" y="758.685" width="8.672" height="10.097" fill="#f9f0eb"/>
<rect x="225.255" y="758.685" width="17.294" height="10.097" fill="#f7f6f6"/>
<rect x="242.499" y="758.685" width="8.672" height="10.097" fill="#f8f2ef"/>
<rect x="251.121" y="758.685" width="8.672" height="10.097" fill="#fae9df"/>
<rect x="259.743" y="758.685" width="8.672" height="10.097" fill="#f9eee7"/>
<rect x="268.365" y="758.685" width="8.672" height="10.097" fill="#c6413e"/>
<rect x="276.987" y="758.685" width="8.672" height="10.097" fill="#b1182b"/>
<rect x="285.609" y="758.685" width="8.672" height="10.097" fill="#67001f"/>
<rect x="294.230" y="758.685" width="8.672" height="10.097" fill="#ba2832"/>
<rect x="302.852" y="758.685" width="8.672" height="10.097" fill="#bf3338"/>
<rect x="311.474" y="758.685" width="8.672" height="10.097" fill="#d25849"/>
<rect x="320.096" y="758.685" width="8.672" height="10.097" fill="#f9c6ac"/>
<rect x="328.718" y="758.685" width="8.672" height="10.097" fill="#fcdecd"/>
<rect x="337.340" y="758.685" width="8.672" height="10.097" fill="#fcd5bf"/>
<rect x="345.962" y="758.685" width="8.672" height="10.097" fill="#fae9df"/>
<rect x="354.583" y="758.685" width="8.672" height="10.097" fill="#f8bfa4"/>
<rect x="363.205" y="758.685" width="8.672" height="10.097" fill="#fddbc7"/>
<rect x="61.440" y="768.732" width="8.672" height="10.097" fill="#f6b394"/>
<rect x="70.062" y="768.732" width="8.672" height="10.097" fill="#fcdecd"/>
<rect x="78.684" y="768.732" width="8.672" height="10.097" fill="#f9ede5"/>
<rect x="87.306" y="768.732" width="8.672" height="10.097" fill="#fcd5bf"/>
<rect x="95.927" y="768.732" width="17.294" height="10.097" fill="#fddbc7"/>
<rect x="113.171" y="768.732" width="17.294" height="10.097" fill="#f8f3f0"/>
<rect x="130.415" y="768.732" width="8.672" height="10.097" fill="#fce2d2"/>
<rect x="139.037" y="768.732" width="8.672" height="10.097" fill="#f8f3f0"/>
<rect x="147.659" y="768.732" width="8.672" height="10.097" fill="#fae9df"/>
<rect x="156.281" y="768.732" width="8.672" height="10.097" fill="#f8f3f0"/>
<rect x="164.902" y="768.732" width="8.672" height="10.097" fill="#fbceb7"/>
<rect x="173.524" y="768.732" width="8.672" height="10.097" fill="#f4a683"/>
<rect x="182.146" y="768.732" width="8.672" height="10.097" fill="#f5ac8b"/>
<rect x="190.768" y="768.732" width="8.672" height="10.097" fill="#f7b99c"/>
<rect x="199.390" y="768.732" width="8.672" height="10.097" fill="#fce2d2"/>
<rect x="208.012" y="768.732" width="8.672" height="10.097" fill="#fcdecd"/>
<rect x="216.634" y="768.732" width="8.672" height="10.097" fill="#f9f0eb"/>
<rect x="225.255" y="768.732" width="8.672" height="10.097" fill="#f8f3f0"/>
<rect x="233.877" y="768.732" width="17.294" height="10.097" fill="#f9f0eb"/>
<rect x="251.121" y="768.732" width="8.672" height="10.097" fill="#fbe6da"/>
<rect x="259.743" y="768.732" width="8.672" height="10.097" fill="#f9eee7"/>
<rect x="268.365" y="768.732" width="17.294" height="10.097" fill="#bb2a34"/>
<rect x="285.609" y="768.732" width="8.672" height="10.097" fill="#ba2832"/>
<rect x="294.230" y="768.732" width="8.672" height="10.097" fill="#67001f"/>
<rect x="302.852" y="768.732" width="8.672" height="10.097" fill="#b1182b"/>
<rect x="311.474" y="768.732" width="8.672" height="10.097" fill="#d25849"/>
<rect x="320.096" y="768.732" width="8.672" height="10.097" fill="#f7b99c"/>
<rect x="328.718" y="768.732" width="8.672" height="10.097" fill="#fbe6da"/>
<rect x="337.340" y="768.732" width="8.672" height="10.097" fill="#fddbc7"/>
<rect x="345.962" y="768.732" width="8.672" height="10.097" fill="#fce2d2"/>
<rect x="354.583" y="768.732" width="8.672" height="10.097" fill="#f8bfa4"/>
<rect x="363.205" y="768.732" width="8.672" height="10.097" fill="#fcd5bf"/>
<rect x="61.440" y="778.779" width="8.672" height="10.097" fill="#f9c6ac"/>
<rect x="70.062" y="778.779" width="8.672" height="10.097" fill="#fcdecd"/>
<rect x="78.684" y="778.779" width="8.672" height="10.097" fill="#fae9df"/>
<rect x="87.306" y="778.779" width="8.672" height="10.097" fill="#f8bfa4"/>
<rect x="95.927" y="778.779" width="8.672" height="10.097" fill="#f9ede5"/>
<rect x="104.549" y="778.779" width="8.672" height="10.097" fill="#fddbc7"/>
<rect x="113.171" y="778.779" width="8.672" height="10.097" fill="#f9ede5"/>
<rect x="121.793" y="778.779" width="8.672" height="10.097" fill="#f2f5f6"/>
<rect x="130.415" y="778.779" width="8.672" height="10.097" fill="#fddbc7"/>
<rect x="139.037" y="778.779" width="8.672" height="10.097" fill="#f8f3f0"/>
<rect x="147.659" y="778.779" width="8.672" height="10.097" fill="#fae9df"/>
<rect x="156.281" y="778.779" width="8.672" height="10.097" fill="#f8f3f0"/>
<rect x="164.902" y="778.779" width="8.672" height="10.097" fill="#f9c6ac"/>
<rect x="173.524" y="778.779" width="17.294" height="10.097" fill="#f6b394"/>
<rect x="190.768" y="778.779" width="8.672" height="10.097" fill="#f8bfa4"/>
<rect x="199.390" y="778.779" width="8.672" height="10.097" fill="#fce2d2"/>
<rect x="208.012" y="778.779" width="8.672" height="10.097" fill="#fcdecd"/>
<rect x="216.634" y="778.779" width="8.672" height="10.097" fill="#f8f2ef"/>
<rect x="225.255" y="778.779" width="8.672" height="10.097" fill="#f2f5f6"/>
<rect x="233.877" y="778.779" width="8.672" height="10.097" fill="#f5f6f7"/>
<rect x="242.499" y="778.779" width="25.916" height="10.097" fill="#f9f0eb"/>
<rect x="268.365" y="778.779" width="8.672" height="10.097" fill="#bb2a34"/>
<rect x="276.987" y="778.779" width="8.672" height="10.097" fill="#b1182b"/>
<rect x="285.609" y="778.779" width="8.672" height="10.097" fill="#bf3338"/>
<rect x="294.230" y="778.779" width="8.672" height="10.097" fill="#b1182b"/>
<rect x="302.852" y="778.779" width="8.672" height="10.097" fill="#67001f"/>
<rect x="311.474" y="778.779" width="8.672" height="10.097" fill="#d05548"/>
<rect x="320.096" y="778.779" width="8.672" height="10.097" fill="#fcd5bf"/>
<rect x="328.718" y="778.779" width="8.672" height="10.097" fill="#fbe6da"/>
<rect x="337.340" y="778.779" width="8.672" height="10.097" fill="#f8bfa4"/>
<rect x="345.962" y="778.779" width="8.672" height="10.097" fill="#f9ede5"/>
<rect x="354.583" y="778.779" width="17.294" height="10.097" fill="#fcd5bf"/>
<rect x="61.440" y="788.825" width="8.672" height="10.097" fill="#ec9374"/>
<rect x="70.062" y="788.825" width="8.672" height="10.097" fill="#f9c6ac"/>
<rect x="78.684" y="788.825" width="8.672" height="10.097" fill="#fbe6da"/>
<rect x="87.306" y="788.825" width="8.672" height="10.097" fill="#fcd5bf"/>
<rect x="95.927" y="788.825" width="8.672" height="10.097" fill="#f6b394"/>
<rect x="104.549" y="788.825" width="8.672" height="10.097" fill="#d25849"/>
<rect x="113.171" y="788.825" width="8.672" height="10.097" fill="#fce2d2"/>
<rect x="121.793" y="788.825" width="8.672" height="10.097" fill="#fae9df"/>
<rect x="130.415" y="788.825" width="8.672" height="10.097" fill="#fddbc7"/>
<rect x="139.037" y="788.825" width="8.672" height="10.097" fill="#fcdecd"/>
<rect x="147.659" y="788.825" width="8.672" height="10.097" fill="#fbceb7"/>
<rect x="156.281" y="788.825" width="8.672" height="10.097" fill="#f7f6f6"/>
<rect x="164.902" y="788.825" width="8.672" height="10.097" fill="#fbe6da"/>
<rect x="173.524" y="788.825" width="8.672" height="10.097" fill="#fcd5bf"/>
<rect x="182.146" y="788.825" width="8.672" height="10.097" fill="#fcdecd"/>
<rect x="190.768" y="788.825" width="17.294" height="10.097" fill="#fce2d2"/>
<rect x="208.012" y="788.825" width="8.672" height="10.097" fill="#fddbc7"/>
<rect x="216.634" y="788.825" width="8.672" height="10.097" fill="#fce2d2"/>
<rect x="225.255" y="788.825" width="8.672" height="10.097" fill="#fbe6da"/>
<rect x="233.877" y="788.825" width="8.672" height="10.097" fill="#f9ede5"/>
<rect x="242.499" y="788.825" width="8.672" height="10.097" fill="#f9efe9"/>
<rect x="251.121" y="788.825" width="8.672" height="10.097" fill="#fbceb7"/>
<rect x="259.743" y="788.825" width="8.672" height="10.097" fill="#fce2d2"/>
<rect x="268.365" y="788.825" width="8.672" height="10.097" fill="#d25849"/>
<rect x="276.987" y="788.825" width="8.672" height="10.097" fill="#cb4942"/>
<rect x="285.609" y="788.825" width="17.294" height="10.097" fill="#d25849"/>
<rect x="302.852" y="788.825" width="8.672" height="10.097" fill="#d05548"/>
<rect x="311.474" y="788.825" width="8.672" height="10.097" fill="#67001f"/>
<rect x="320.096" y="788.825" width="8.672" height="10.097" fill="#fbceb7"/>
<rect x="328.718" y="788.825" width="8.672" height="10.097" fill="#f8f3f0"/>
<rect x="337.340" y="788.825" width="8.672" height="10.097" fill="#fcd5bf"/>
<rect x="345.962" y="788.825" width="8.672" height="10.097" fill="#fddbc7"/>
<rect x="354.583" y="788.825" width="8.672" height="10.097" fill="#f9c6ac"/>
<rect x="363.205" y="788.825" width="8.672" height="10.097" fill="#fddbc7"/>
<rect x="61.440" y="798.872" width="8.672" height="10.097" fill="#fcdecd"/>
<rect x="70.062" y="798.872" width="8.672" height="10.097" fill="#f9f0eb"/>
<rect x="78.684" y="798.872" width="8.672" height="10.097" fill="#fcdecd"/>
<rect x="87.306" y="798.872" width="8.672" height="10.097" fill="#fce2d2"/>
<rect x="95.927" y="798.872" width="8.672" height="10.097" fill="#f8f3f0"/>
<rect x="104.549" y="798.872" width="8.672" height="10.097" fill="#f9f0eb"/>
<rect x="113.171" y="798.872" width="8.672" height="10.097" fill="#fcdecd"/>
<rect x="121.793" y="798.872" width="8.672" height="10.097" fill="#f9ede5"/>
<rect x="130.415" y="798.872" width="8.672" height="10.097" fill="#fddbc7"/>
<rect x="139.037" y="798.872" width="8.672" height="10.097" fill="#fcdecd"/>
<rect x="147.659" y="798.872" width="8.672" height="10.097" fill="#fae9df"/>
<rect x="156.281" y="798.872" width="8.672" height="10.097" fill="#fcd5bf"/>
<rect x="164.902" y="798.872" width="8.672" height="10.097" fill="#fbe6da"/>
<rect x="173.524" y="798.872" width="8.672" height="10.097" fill="#fcdecd"/>
<rect x="182.146" y="798.872" width="8.672" height="10.097" fill="#fbceb7"/>
<rect x="190.768" y="798.872" width="8.672" height="10.097" fill="#fce2d2"/>
<rect x="199.390" y="798.872" width="8.672" height="10.097" fill="#fcdecd"/>
<rect x="208.012" y="798.872" width="8.672" height="10.097" fill="#f9f0eb"/>
<rect x="216.634" y="798.872" width="8.672" height="10.097" fill="#fcdecd"/>
<rect x="225.255" y="798.872" width="8.672" height="10.097" fill="#f9f0eb"/>
<rect x="233.877" y="798.872" width="8.672" height="10.097" fill="#fbceb7"/>
<rect x="242.499" y="798.872" width="8.672" height="10.097" fill="#fcdfcf"/>
<rect x="251.121" y="798.872" width="8.672" height="10.097" fill="#fcdecd"/>
<rect x="259.743" y="798.872" width="17.294" height="10.097" fill="#fcd5bf"/>
<rect x="276.987" y="798.872" width="8.672" height="10.097" fill="#f6b394"/>
<rect x="285.609" y="798.872" width="8.672" height="10.097" fill="#f9c6ac"/>
<rect x="294.230" y="798.872" width="8.672" height="10.097" fill="#f7b99c"/>
<rect x="302.852" y="798.872" width="8.672" height="10.097" fill="#fcd5bf"/>
<rect x="311.474" y="798.872" width="8.672" height="10.097" fill="#fbceb7"/>
<rect x="320.096" y="798.872" width="8.672" height="10.097" fill="#67001f"/>
<rect x="328.718" y="798.872" width="8.672" height="10.097" fill="#f8bb9e"/>
<rect x="337.340" y="798.872" width="8.672" height="10.097" fill="#fcdecd"/>
<rect x="345.962" y="798.872" width="8.672" height="10.097" fill="#f6b394"/>
<rect x="354.583" y="798.872" width="8.672" height="10.097" fill="#f5ac8b"/>
<rect x="363.205" y="798.872" width="8.672" height="10.097" fill="#fcdecd"/>
<rect x="61.440" y="808.919" width="8.672" height="10.097" fill="#e4eef4"/>
<rect x="70.062" y="808.919" width="8.672" height="10.097" fill="#dae9f2"/>
<rect x="78.684" y="808.919" width="8.672" height="10.097" fill="#edf2f5"/>
<rect x="87.306" y="808.919" width="8.672" height="10.097" fill="#f9f0eb"/>
<rect x="95.927" y="808.919" width="8.672" height="10.097" fill="#d1e5f0"/>
<rect x="104.549" y="808.919" width="8.672" height="10.097" fill="#e0ecf3"/>
<rect x="113.171" y="808.919" width="8.672" height="10.097" fill="#edf2f5"/>
<rect x="121.793" y="808.919" width="8.672" height="10.097" fill="#f7f6f6"/>
<rect x="130.415" y="808.919" width="8.672" height="10.097" fill="#f9f0eb"/>
<rect x="139.037" y="808.919" width="8.672" height="10.097" fill="#fce2d2"/>
<rect x="147.659" y="808.919" width="8.672" height="10.097" fill="#e4eef4"/>
<rect x="156.281" y="808.919" width="8.672" height="10.097" fill="#fbe6da"/>
<rect x="164.902" y="808.919" width="8.672" height="10.097" fill="#fddbc7"/>
<rect x="173.524" y="808.919" width="8.672" height="10.097" fill="#fce2d2"/>
<rect x="182.146" y="808.919" width="8.672" height="10.097" fill="#fddbc7"/>
<rect x="190.768" y="808.919" width="8.672" height="10.097" fill="#f7b99c"/>
<rect x="199.390" y="808.919" width="8.672" height="10.097" fill="#fce2d2"/>
<rect x="208.012" y="808.919" width="17.294" height="10.097" fill="#f8f3f0"/>
<rect x="225.255" y="808.919" width="8.672" height="10.097" fill="#e4eef4"/>
<rect x="233.877" y="808.919" width="8.672" height="10.097" fill="#f9ede5"/>
<rect x="242.499" y="808.919" width="8.672" height="10.097" fill="#f7f6f6"/>
<rect x="251.121" y="808.919" width="8.672" height="10.097" fill="#f5f6f7"/>
<rect x="259.743" y="808.919" width="8.672" height="10.097" fill="#fae9df"/>
<rect x="268.365" y="808.919" width="8.672" height="10.097" fill="#fcdecd"/>
<rect x="276.987" y="808.919" width="8.672" height="10.097" fill="#fddbc7"/>
<rect x="285.609" y="808.919" width="8.672" height="10.097" fill="#fcdecd"/>
<rect x="294.230" y="808.919" width="17.294" height="10.097" fill="#fbe6da"/>
<rect x="311.474" y="808.919" width="8.672" height="10.097" fill="#f8f3f0"/>
<rect x="320.096" y="808.919" width="8.672" height="10.097" fill="#f8bb9e"/>
<rect x="328.718" y="808.919" width="8.672" height="10.097" fill="#67001f"/>
<rect x="337.340" y="808.919" width="8.672" height="10.097" fill="#f8bfa4"/>
<rect x="345.962" y="808.919" width="8.672" height="10.097" fill="#fbceb7"/>
<rect x="354.583" y="808.919" width="8.672" height="10.097" fill="#f8bfa4"/>
<rect x="363.205" y="808.919" width="8.672" height="10.097" fill="#fcdecd"/>
<rect x="61.440" y="818.965" width="8.672" height="10.097" fill="#fce0d0"/>
<rect x="70.062" y="818.965" width="8.672" height="10.097" fill="#fce2d2"/>
<rect x="78.684" y="818.965" width="8.672" height="10.097" fill="#f8f3f0"/>
<rect x="87.306" y="818.965" width="8.672" height="10.097" fill="#fce2d2"/>
<rect x="95.927" y="818.965" width="8.672" height="10.097" fill="#f7f6f6"/>
<rect x="104.549" y="818.965" width="8.672" height="10.097" fill="#fae9df"/>
<rect x="113.171" y="818.965" width="8.672" height="10.097" fill="#f8f3f0"/>
<rect x="121.793" y="818.965" width="8.672" height="10.097" fill="#f9ede5"/>
<rect x="130.415" y="818.965" width="8.672" height="10.097" fill="#f9c6ac"/>
<rect x="139.037" y="818.965" width="8.672" height="10.097" fill="#fbe6da"/>
<rect x="147.659" y="818.965" width="8.672" height="10.097" fill="#f9f0eb"/>
<rect x="156.281" y="818.965" width="8.672" height="10.097" fill="#fce2d2"/>
<rect x="164.902" y="818.965" width="8.672" height="10.097" fill="#f7b99c"/>
<rect x="173.524" y="818.965" width="8.672" height="10.097" fill="#f6b394"/>
<rect x="182.146" y="818.965" width="8.672" height="10.097" fill="#f9c6ac"/>
<rect x="190.768" y="818.965" width="8.672" height="10.097" fill="#fcdecd"/>
<rect x="199.390" y="818.965" width="8.672" height="10.097" fill="#f6b394"/>
<rect x="208.012" y="818.965" width="8.672" height="10.097" fill="#ec9374"/>
<rect x="216.634" y="818.965" width="8.672" height="10.097" fill="#f8f3f0"/>
<rect x="225.255" y="818.965" width="8.672" height="10.097" fill="#edf2f5"/>
<rect x="233.877" y="818.965" width="8.672" height="10.097" fill="#f9ede5"/>
<rect x="242.499" y="818.965" width="8.672" height="10.097" fill="#f8f3f0"/>
<rect x="251.121" y="818.965" width="8.672" height="10.097" fill="#f7f6f6"/>
<rect x="259.743" y="818.965" width="8.672" height="10.097" fill="#f9f0eb"/>
<rect x="268.365" y="818.965" width="8.672" height="10.097" fill="#f9c6ac"/>
<rect x="276.987" y="818.965" width="17.294" height="10.097" fill="#fcd5bf"/>
<rect x="294.230" y="818.965" width="8.672" height="10.097" fill="#fddbc7"/>
<rect x="302.852" y="818.965" width="8.672" height="10.097" fill="#f8bfa4"/>
<rect x="311.474" y="818.965" width="8.672" height="10.097" fill="#fcd5bf"/>
<rect x="320.096" y="818.965" width="8.672" height="10.097" fill="#fcdecd"/>
<rect x="328.718" y="818.965" width="8.672" height="10.097" fill="#f8bfa4"/>
<rect x="337.340" y="818.965" width="8.672" height="10.097" fill="#67001f"/>
<rect x="345.962" y="818.965" width="17.294" height="10.097" fill="#fbceb7"/>
<rect x="363.205" y="818.965" width="8.672" height="10.097" fill="#d86551"/>
<rect x="61.440" y="829.012" width="8.672" height="10.097" fill="#fddbc7"/>
<rect x="70.062" y="829.012" width="8.672" height="10.097" fill="#f9f0eb"/>
<rect x="78.684" y="829.012" width="8.672" height="10.097" fill="#fae9df"/>
<rect x="87.306" y="829.012" width="8.672" height="10.097" fill="#f9ede5"/>
<rect x="95.927" y="829.012" width="8.672" height="10.097" fill="#f9f0eb"/>
<rect x="104.549" y="829.012" width="8.672" height="10.097" fill="#fae9df"/>
<rect x="113.171" y="829.012" width="8.672" height="10.097" fill="#f8f3f0"/>
<rect x="121.793" y="829.012" width="8.672" height="10.097" fill="#fae9df"/>
<rect x="130.415" y="829.012" width="17.294" height="10.097" fill="#fce2d2"/>
<rect x="147.659" y="829.012" width="8.672" height="10.097" fill="#f9f0eb"/>
<rect x="156.281" y="829.012" width="17.294" height="10.097" fill="#fcdecd"/>
<rect x="173.524" y="829.012" width="17.294" height="10.097" fill="#fae9df"/>
<rect x="190.768" y="829.012" width="8.672" height="10.097" fill="#f9f0eb"/>
<rect x="199.390" y="829.012" width="8.672" height="10.097" fill="#f9ede5"/>
<rect x="208.012" y="829.012" width="8.672" height="10.097" fill="#fbe6da"/>
<rect x="216.634" y="829.012" width="8.672" height="10.097" fill="#f2f5f6"/>
<rect x="225.255" y="829.012" width="8.672" height="10.097" fill="#edf2f5"/>
<rect x="233.877" y="829.012" width="8.672" height="10.097" fill="#f0f4f6"/>
<rect x="242.499" y="829.012" width="8.672" height="10.097" fill="#dae9f2"/>
<rect x="251.121" y="829.012" width="17.294" height="10.097" fill="#edf2f5"/>
<rect x="268.365" y="829.012" width="8.672" height="10.097" fill="#f9ede5"/>
<rect x="276.987" y="829.012" width="8.672" height="10.097" fill="#fcdecd"/>
<rect x="285.609" y="829.012" width="8.672" height="10.097" fill="#fae9df"/>
<rect x="294.230" y="829.012" width="8.672" height="10.097" fill="#fce2d2"/>
<rect x="302.852" y="829.012" width="8.672" height="10.097" fill="#f9ede5"/>
<rect x="311.474" y="829.012" width="8.672" height="10.097" fill="#fddbc7"/>
<rect x="320.096" y="829.012" width="8.672" height="10.097" fill="#f6b394"/>
<rect x="328.718" y="829.012" width="17.294" height="10.097" fill="#fbceb7"/>
<rect x="345.962" y="829.012" width="8.672" height="10.097" fill="#67001f"/>
<rect x="354.583" y="829.012" width="8.672" height="10.097" fill="#f4a683"/>
<rect x="363.205" y="829.012" width="8.672" height="10.097" fill="#e58368"/>
<rect x="61.440" y="839.059" width="8.672" height="10.097" fill="#fbceb7"/>
<rect x="70.062" y="839.059" width="8.672" height="10.097" fill="#fcdecd"/>
<rect x="78.684" y="839.059" width="8.672" height="10.097" fill="#fddbc7"/>
<rect x="87.306" y="839.059" width="8.672" height="10.097" fill="#fae9df"/>
<rect x="95.927" y="839.059" width="8.672" height="10.097" fill="#fbe6da"/>
<rect x="104.549" y="839.059" width="8.672" height="10.097" fill="#fae9df"/>
<rect x="113.171" y="839.059" width="17.294" height="10.097" fill="#f9f0eb"/>
<rect x="130.415" y="839.059" width="8.672" height="10.097" fill="#f9c6ac"/>
<rect x="139.037" y="839.059" width="8.672" height="10.097" fill="#fcdecd"/>
<rect x="147.659" y="839.059" width="8.672" height="10.097" fill="#f9f0eb"/>
<rect x="156.281" y="839.059" width="8.672" height="10.097" fill="#fddbc7"/>
<rect x="164.902" y="839.059" width="8.672" height="10.097" fill="#fcd5bf"/>
<rect x="173.524" y="839.059" width="8.672" height="10.097" fill="#fddbc7"/>
<rect x="182.146" y="839.059" width="8.672" height="10.097" fill="#f7b99c"/>
<rect x="190.768" y="839.059" width="8.672" height="10.097" fill="#f9ede5"/>
<rect x="199.390" y="839.059" width="8.672" height="10.097" fill="#fbe6da"/>
<rect x="208.012" y="839.059" width="8.672" height="10.097" fill="#f9f0eb"/>
<rect x="216.634" y="839.059" width="8.672" height="10.097" fill="#f8f2ef"/>
<rect x="225.255" y="839.059" width="8.672" height="10.097" fill="#edf2f5"/>
<rect x="233.877" y="839.059" width="8.672" height="10.097" fill="#f9ede5"/>
<rect x="242.499" y="839.059" width="8.672" height="10.097" fill="#f7f6f6"/>
<rect x="251.121" y="839.059" width="8.672" height="10.097" fill="#f8f2ef"/>
<rect x="259.743" y="839.059" width="8.672" height="10.097" fill="#fddbc7"/>
<rect x="268.365" y="839.059" width="17.294" height="10.097" fill="#fbceb7"/>
<rect x="285.609" y="839.059" width="17.294" height="10.097" fill="#f8bfa4"/>
<rect x="302.852" y="839.059" width="8.672" height="10.097" fill="#fcd5bf"/>
<rect x="311.474" y="839.059" width="8.672" height="10.097" fill="#f9c6ac"/>
<rect x="320.096" y="839.059" width="8.672" height="10.097" fill="#f5ac8b"/>
<rect x="328.718" y="839.059" width="8.672" height="10.097" fill="#f8bfa4"/>
<rect x="337.340" y="839.059" width="8.672" height="10.097" fill="#fbceb7"/>
<rect x="345.962" y="839.059" width="8.672" height="10.097" fill="#f4a683"/>
<rect x="354.583" y="839.059" width="8.672" height="10.097" fill="#67001f"/>
<rect x="363.205" y="839.059" width="8.672" height="10.097" fill="#fcd5bf"/>
<rect x="61.440" y="849.105" width="8.672" height="10.097" fill="#fcd5bf"/>
<rect x="70.062" y="849.105" width="8.672" height="10.097" fill="#fce2d2"/>
<rect x="78.684" y="849.105" width="8.672" height="10.097" fill="#edf2f5"/>
<rect x="87.306" y="849.105" width="8.672" height="10.097" fill="#f8f3f0"/>
<rect x="95.927" y="849.105" width="8.672" height="10.097" fill="#f9f0eb"/>
<rect x="104.549" y="849.105" width="8.672" height="10.097" fill="#fae9df"/>
<rect x="113.171" y="849.105" width="8.672" height="10.097" fill="#f7f6f6"/>
<rect x="121.793" y="849.105" width="8.672" height="10.097" fill="#fbe6da"/>
<rect x="130.415" y="849.105" width="8.672" height="10.097" fill="#fcdecd"/>
<rect x="139.037" y="849.105" width="17.294" height="10.097" fill="#f9f0eb"/>
<rect x="156.281" y="849.105" width="8.672" height="10.097" fill="#fddbc7"/>
<rect x="164.902" y="849.105" width="17.294" height="10.097" fill="#f9c6ac"/>
<rect x="182.146" y="849.105" width="8.672" height="10.097" fill="#fce2d2"/>
<rect x="190.768" y="849.105" width="8.672" height="10.097" fill="#fcdecd"/>
<rect x="199.390" y="849.105" width="8.672" height="10.097" fill="#f9c6ac"/>
<rect x="208.012" y="849.105" width="8.672" height="10.097" fill="#f4a683"/>
<rect x="216.634" y="849.105" width="8.672" height="10.097" fill="#f7f6f6"/>
<rect x="225.255" y="849.105" width="8.672" height="10.097" fill="#edf2f5"/>
<rect x="233.877" y="849.105" width="8.672" height="10.097" fill="#f9ede5"/>
<rect x="242.499" y="849.105" width="8.672" height="10.097" fill="#f5f6f7"/>
<rect x="251.121" y="849.105" width="8.672" height="10.097" fill="#f8f1ed"/>
<rect x="259.743" y="849.105" width="8.672" height="10.097" fill="#f9f0eb"/>
<rect x="268.365" y="849.105" width="17.294" height="10.097" fill="#fcd5bf"/>
<rect x="285.609" y="849.105" width="8.672" height="10.097" fill="#fddbc7"/>
<rect x="294.230" y="849.105" width="17.294" height="10.097" fill="#fcd5bf"/>
<rect x="311.474" y="849.105" width="8.672" height="10.097" fill="#fddbc7"/>
<rect x="320.096" y="849.105" width="17.294" height="10.097" fill="#fcdecd"/>
<rect x="337.340" y="849.105" width="8.672" height="10.097" fill="#d86551"/>
<rect x="345.962" y="849.105" width="8.672" height="10.097" fill="#e58368"/>
<rect x="354.583" y="849.105" width="8.672" height="10.097" fill="#fcd5bf"/>
<rect x="363.205" y="849.105" width="8.672" height="10.097" fill="#67001f"/>
</g>
   <g id="matplotlib.axis_7">
    <g id="xtick_69">
     <g id="line2d_130">
      <g>
       <path d="M 0 0 L 0 3.5" transform="translate(65.750933 859.152)" style="stroke: #000000; stroke-width: 0.8; stroke: #000000; stroke-width: 0.8"/>
      </g>
     </g>
     <g id="text_45">
      <text style="font-size: 5px; font-family: 'DejaVu Sans', 'Liberation Sans', sans-serif" transform="translate(67.0611 906.9097) rotate(-90)">stack_push_pop</text>
     </g>
    </g>
    <g id="xtick_70">
     <g id="line2d_131">
      <g>
       <path d="M 0 0 L 0 3.5" transform="translate(74.3728 859.152)" style="stroke: #000000; stroke-width: 0.8; stroke: #000000; stroke-width: 0.8"/>
      </g>
     </g>
     <g id="text_46">
      <text style="font-size: 5px; font-family: 'DejaVu Sans', 'Liberation Sans', sans-serif" transform="translate(75.6830 896.0995) rotate(-90)">queue_impl</text>
     </g>
    </g>
    <g id="xtick_71">
     <g id="line2d_132">
      <g>
       <path d="M 0 0 L 0 3.5" transform="translate(82.994667 859.152)" style="stroke: #000000; stroke-width: 0.8; stroke: #000000; stroke-width: 0.8"/>
      </g>
     </g>
     <g id="text_47">
      <text style="font-size: 5px; font-family: 'DejaVu Sans', 'Liberation Sans', sans-serif" transform="translate(84.3048 891.8667) rotate(-90)">linked_list</text>
     </g>
    </g>
    <g id="xtick_72">
     <g id="line2d_133">
      <g>
       <path d="M 0 0 L 0 3.5" transform="translate(91.616533 859.152)" style="stroke: #000000; stroke-width: 0.8; stroke: #000000; stroke-width: 0.8"/>
      </g>
     </g>
     <g id="text_48">
      <text style="font-size: 5px; font-family: 'DejaVu Sans', 'Liberation Sans', sans-serif" transform="translate(92.9267 895.4792) rotate(-90)">binary_tree</text>
     </g>
    </g>
    <g id="xtick_73">
     <g id="line2d_134">
      <g>
       <path d="M 0 0 L 0 3.5" transform="translate(100.2384 859.152)" style="stroke: #000000; stroke-width: 0.8; stroke: #000000; stroke-width: 0.8"/>
      </g>
     </g>
     <g id="text_49">
      <text style="font-size: 5px; font-family: 'DejaVu Sans', 'Liberation Sans', sans-serif" transform="translate(101.5486 892.7268) rotate(-90)">hash_map</text>
     </g>
    </g>
    <g id="xtick_74">
     <g id="line2d_135">
      <g>
       <path d="M 0 0 L 0 3.5" transform="translate(108.860267 859.152)" style="stroke: #000000; stroke-width: 0.8; stroke: #000000; stroke-width: 0.8"/>
      </g>
     </g>
     <g id="text_50">
      <text style="font-size: 5px; font-family: 'DejaVu Sans', 'Liberation Sans', sans-serif" transform="translate(110.1704 903.3190) rotate(-90)">priority_queue</text>
     </g>
    </g>
    <g id="xtick_75">
     <g id="line2d_136">
      <g>
       <path d="M 0 0 L 0 3.5" transform="translate(117.482133 859.152)" style="stroke: #000000; stroke-width: 0.8; stroke: #000000; stroke-width: 0.8"/>
      </g>
     </g>
     <g id="text_51">
      <text style="font-size: 5px; font-family: 'DejaVu Sans', 'Liberation Sans', sans-serif" transform="translate(118.7923 891.0917) rotate(-90)">read_json</text>
     </g>
    </g>
    <g id="xtick_76">
     <g id="line2d_137">
      <g>
       <path d="M 0 0 L 0 3.5" transform="translate(126.104 859.152)" style="stroke: #000000; stroke-width: 0.8; stroke: #000000; stroke-width: 0.8"/>
      </g>
     </g>
     <g id="text_52">
      <text style="font-size: 5px; font-family: 'DejaVu Sans', 'Liberation Sans', sans-serif" transform="translate(127.4142 889.7972) rotate(-90)">write_file</text>
     </g>
    </g>
    <g id="xtick_77">
     <g id="line2d_138">
      <g>
       <path d="M 0 0 L 0 3.5" transform="translate(134.725867 859.152)" style="stroke: #000000; stroke-width: 0.8; stroke: #000000; stroke-width: 0.8"/>
      </g>
     </g>
     <g id="text_53">
      <text style="font-size: 5px; font-family: 'DejaVu Sans', 'Liberation Sans', sans-serif" transform="translate(136.0360 889.1831) rotate(-90)">read_csv</text>
     </g>
    </g>
    <g id="xtick_78">
     <g id="line2d_139">
      <g>
       <path d="M 0 0 L 0 3.5" transform="translate(143.347733 859.152)" style="stroke: #000000; stroke-width: 0.8; stroke: #000000; stroke-width: 0.8"/>
      </g>
     </g>
     <g id="text_54">
      <text style="font-size: 5px; font-family: 'DejaVu Sans', 'Liberation Sans', sans-serif" transform="translate(144.6579 893.1526) rotate(-90)">read_yaml</text>
     </g>
    </g>
    <g id="xtick_79">
     <g id="line2d_140">
      <g>
       <path d="M 0 0 L 0 3.5" transform="translate(151.9696 859.152)" style="stroke: #000000; stroke-width: 0.8; stroke: #000000; stroke-width: 0.8"/>
      </g>
     </g>
     <g id="text_55">
      <text style="font-size: 5px; font-family: 'DejaVu Sans', 'Liberation Sans', sans-serif" transform="translate(153.2798 892.4042) rotate(-90)">write_json</text>
     </g>
    </g>
    <g id="xtick_80">
     <g id="line2d_141">
      <g>
       <path d="M 0 0 L 0 3.5" transform="translate(160.591467 859.152)" style="stroke: #000000; stroke-width: 0.8; stroke: #000000; stroke-width: 0.8"/>
      </g>
     </g>
     <g id="text_56">
      <text style="font-size: 5px; font-family: 'DejaVu Sans', 'Liberation Sans', sans-serif" transform="translate(161.9016 892.4979) rotate(-90)">read_lines</text>
     </g>
    </g>
    <g id="xtick_81">
     <g id="line2d_142">
      <g>
       <path d="M 0 0 L 0 3.5" transform="translate(169.213333 859.152)" style="stroke: #000000; stroke-width: 0.8; stroke: #000000; stroke-width: 0.8"/>
      </g>
     </g>
     <g id="text_57">
      <text style="font-size: 5px; font-family: 'DejaVu Sans', 'Liberation Sans', sans-serif" transform="translate(170.5930 887.6026) rotate(-90)">factorial</text>
     </g>
    </g>
    <g id="xtick_82">
     <g id="line2d_143">
      <g>
       <path d="M 0 0 L 0 3.5" transform="translate(177.8352 859.152)" style="stroke: #000000; stroke-width: 0.8; stroke: #000000; stroke-width: 0.8"/>
      </g>
     </g>
     <g id="text_58">
      <text style="font-size: 5px; font-family: 'DejaVu Sans', 'Liberation Sans', sans-serif" transform="translate(179.2149 889.6151) rotate(-90)">fibonacci</text>
     </g>
    </g>
    <g id="xtick_83">
     <g id="line2d_144">
      <g>
       <path d="M 0 0 L 0 3.5" transform="translate(186.457067 859.152)" style="stroke: #000000; stroke-width: 0.8; stroke: #000000; stroke-width: 0.8"/>
      </g>
     </g>
     <g id="text_59">
      <text style="font-size: 5px; font-family: 'DejaVu Sans', 'Liberation Sans', sans-serif" transform="translate(187.8368 876.2097) rotate(-90)">gcd</text>
     </g>
    </g>
    <g id="xtick_84">
     <g id="line2d_145">
      <g>
       <path d="M 0 0 L 0 3.5" transform="translate(195.078933 859.152)" style="stroke: #000000; stroke-width: 0.8; stroke: #000000; stroke-width: 0.8"/>
      </g>
     </g>
     <g id="text_60">
      <text style="font-size: 5px; font-family: 'DejaVu Sans', 'Liberation Sans', sans-serif" transform="translate(196.3891 888.1714) rotate(-90)">is_prime</text>
     </g>
    </g>
    <g id="xtick_85">
     <g id="line2d_146">
      <g>
       <path d="M 0 0 L 0 3.5" transform="translate(203.7008 859.152)" style="stroke: #000000; stroke-width: 0.8; stroke: #000000; stroke-width: 0.8"/>
      </g>
     </g>
     <g id="text_61">
      <text style="font-size: 5px; font-family: 'DejaVu Sans', 'Liberation Sans', sans-serif" transform="translate(205.0805 882.5667) rotate(-90)">power</text>
     </g>
    </g>
    <g id="xtick_86">
     <g id="line2d_147">
      <g>
       <path d="M 0 0 L 0 3.5" transform="translate(212.322667 859.152)" style="stroke: #000000; stroke-width: 0.8; stroke: #000000; stroke-width: 0.8"/>
      </g>
     </g>
     <g id="text_62">
      <text style="font-size: 5px; font-family: 'DejaVu Sans', 'Liberation Sans', sans-serif" transform="translate(213.6328 893.9472) rotate(-90)">sum_digits</text>
     </g>
    </g>
    <g id="xtick_87">
     <g id="line2d_148">
      <g>
       <path d="M 0 0 L 0 3.5" transform="translate(220.944533 859.152)" style="stroke: #000000; stroke-width: 0.8; stroke: #000000; stroke-width: 0.8"/>
      </g>
     </g>
     <g id="text_63">
      <text style="font-size: 5px; font-family: 'DejaVu Sans', 'Liberation Sans', sans-serif" transform="translate(222.2547 888.0862) rotate(-90)">http_get</text>
     </g>
    </g>
    <g id="xtick_88">
     <g id="line2d_149">
      <g>
       <path d="M 0 0 L 0 3.5" transform="translate(229.5664 859.152)" style="stroke: #000000; stroke-width: 0.8; stroke: #000000; stroke-width: 0.8"/>
      </g>
     </g>
     <g id="text_64">
      <text style="font-size: 5px; font-family: 'DejaVu Sans', 'Liberation Sans', sans-serif" transform="translate(230.8766 891.6729) rotate(-90)">post_data</text>
     </g>
    </g>
    <g id="xtick_89">
     <g id="line2d_150">
      <g>
       <path d="M 0 0 L 0 3.5" transform="translate(238.188267 859.152)" style="stroke: #000000; stroke-width: 0.8; stroke: #000000; stroke-width: 0.8"/>
      </g>
     </g>
     <g id="text_65">
      <text style="font-size: 5px; font-family: 'DejaVu Sans', 'Liberation Sans', sans-serif" transform="translate(239.4984 888.9401) rotate(-90)">fetch_url</text>
     </g>
    </g>
    <g id="xtick_90">
     <g id="line2d_151">
      <g>
       <path d="M 0 0 L 0 3.5" transform="translate(246.810133 859.152)" style="stroke: #000000; stroke-width: 0.8; stroke: #000000; stroke-width: 0.8"/>
      </g>
     </g>
     <g id="text_66">
      <text style="font-size: 5px; font-family: 'DejaVu Sans', 'Liberation Sans', sans-serif" transform="translate(248.1203 901.4050) rotate(-90)">download_file</text>
     </g>
    </g>
    <g id="xtick_91">
     <g id="line2d_152">
      <g>
       <path d="M 0 0 L 0 3.5" transform="translate(255.432 859.152)" style="stroke: #000000; stroke-width: 0.8; stroke: #000000; stroke-width: 0.8"/>
      </g>
     </g>
     <g id="text_67">
      <text style="font-size: 5px; font-family: 'DejaVu Sans', 'Liberation Sans', sans-serif" transform="translate(256.7422 888.1784) rotate(-90)">http_put</text>
     </g>
    </g>
    <g id="xtick_92">
     <g id="line2d_153">
      <g>
       <path d="M 0 0 L 0 3.5" transform="translate(264.053867 859.152)" style="stroke: #000000; stroke-width: 0.8; stroke: #000000; stroke-width: 0.8"/>
      </g>
     </g>
     <g id="text_68">
      <text style="font-size: 5px; font-family: 'DejaVu Sans', 'Liberation Sans', sans-serif" transform="translate(265.3640 895.6284) rotate(-90)">http_delete</text>
     </g>
    </g>
    <g id="xtick_93">
     <g id="line2d_154">
      <g>
       <path d="M 0 0 L 0 3.5" transform="translate(272.675733 859.152)" style="stroke: #000000; stroke-width: 0.8; stroke: #000000; stroke-width: 0.8"/>
      </g>
     </g>
     <g id="text_69">
      <text style="font-size: 5px; font-family: 'DejaVu Sans', 'Liberation Sans', sans-serif" transform="translate(273.9859 896.4487) rotate(-90)">bubble_sort</text>
     </g>
    </g>
    <g id="xtick_94">
     <g id="line2d_155">
      <g>
       <path d="M 0 0 L 0 3.5" transform="translate(281.2976 859.152)" style="stroke: #000000; stroke-width: 0.8; stroke: #000000; stroke-width: 0.8"/>
      </g>
     </g>
     <g id="text_70">
      <text style="font-size: 5px; font-family: 'DejaVu Sans', 'Liberation Sans', sans-serif" transform="translate(282.6078 892.6683) rotate(-90)">quick_sort</text>
     </g>
    </g>
    <g id="xtick_95">
     <g id="line2d_156">
      <g>
       <path d="M 0 0 L 0 3.5" transform="translate(289.919467 859.152)" style="stroke: #000000; stroke-width: 0.8; stroke: #000000; stroke-width: 0.8"/>
      </g>
     </g>
     <g id="text_71">
      <text style="font-size: 5px; font-family: 'DejaVu Sans', 'Liberation Sans', sans-serif" transform="translate(291.1601 895.4573) rotate(-90)">merge_sort</text>
     </g>
    </g>
    <g id="xtick_96">
     <g id="line2d_157">
      <g>
       <path d="M 0 0 L 0 3.5" transform="translate(298.541333 859.152)" style="stroke: #000000; stroke-width: 0.8; stroke: #000000; stroke-width: 0.8"/>
      </g>
     </g>
     <g id="text_72">
      <text style="font-size: 5px; font-family: 'DejaVu Sans', 'Liberation Sans', sans-serif" transform="translate(299.8515 901.1636) rotate(-90)">insertion_sort</text>
     </g>
    </g>
    <g id="xtick_97">
     <g id="line2d_158">
      <g>
       <path d="M 0 0 L 0 3.5" transform="translate(307.1632 859.152)" style="stroke: #000000; stroke-width: 0.8; stroke: #000000; stroke-width: 0.8"/>
      </g>
     </g>
     <g id="text_73">
      <text style="font-size: 5px; font-family: 'DejaVu Sans', 'Liberation Sans', sans-serif" transform="translate(308.4734 901.7651) rotate(-90)">selection_sort</text>
     </g>
    </g>
    <g id="xtick_98">
     <g id="line2d_159">
      <g>
       <path d="M 0 0 L 0 3.5" transform="translate(315.785067 859.152)" style="stroke: #000000; stroke-width: 0.8; stroke: #000000; stroke-width: 0.8"/>
      </g>
     </g>
     <g id="text_74">
      <text style="font-size: 5px; font-family: 'DejaVu Sans', 'Liberation Sans', sans-serif" transform="translate(317.0952 891.7753) rotate(-90)">heap_sort</text>
     </g>
    </g>
    <g id="xtick_99">
     <g id="line2d_160">
      <g>
       <path d="M 0 0 L 0 3.5" transform="translate(324.406933 859.152)" style="stroke: #000000; stroke-width: 0.8; stroke: #000000; stroke-width: 0.8"/>
      </g>
     </g>
     <g id="text_75">
      <text style="font-size: 5px; font-family: 'DejaVu Sans', 'Liberation Sans', sans-serif" transform="translate(325.6476 895.0245) rotate(-90)">reverse_str</text>
     </g>
    </g>
    <g id="xtick_100">
     <g id="line2d_161">
      <g>
       <path d="M 0 0 L 0 3.5" transform="translate(333.0288 859.152)" style="stroke: #000000; stroke-width: 0.8; stroke: #000000; stroke-width: 0.8"/>
      </g>
     </g>
     <g id="text_76">
      <text style="font-size: 5px; font-family: 'DejaVu Sans', 'Liberation Sans', sans-serif" transform="translate(334.3390 901.9143) rotate(-90)">is_palindrome</text>
     </g>
    </g>
    <g id="xtick_101">
     <g id="line2d_162">
      <g>
       <path d="M 0 0 L 0 3.5" transform="translate(341.650667 859.152)" style="stroke: #000000; stroke-width: 0.8; stroke: #000000; stroke-width: 0.8"/>
      </g>
     </g>
     <g id="text_77">
      <text style="font-size: 5px; font-family: 'DejaVu Sans', 'Liberation Sans', sans-serif" transform="translate(342.9608 900.8964) rotate(-90)">count_vowels</text>
     </g>
    </g>
    <g id="xtick_102">
     <g id="line2d_163">
      <g>
       <path d="M 0 0 L 0 3.5" transform="translate(350.272533 859.152)" style="stroke: #000000; stroke-width: 0.8; stroke: #000000; stroke-width: 0.8"/>
      </g>
     </g>
     <g id="text_78">
      <text style="font-size: 5px; font-family: 'DejaVu Sans', 'Liberation Sans', sans-serif" transform="translate(351.5827 908.3870) rotate(-90)">capitalize_words</text>
     </g>
    </g>
    <g id="xtick_103">
     <g id="line2d_164">
      <g>
       <path d="M 0 0 L 0 3.5" transform="translate(358.8944 859.152)" style="stroke: #000000; stroke-width: 0.8; stroke: #000000; stroke-width: 0.8"/>
      </g>
     </g>
     <g id="text_79">
      <text style="font-size: 5px; font-family: 'DejaVu Sans', 'Liberation Sans', sans-serif" transform="translate(360.2046 914.3472) rotate(-90)">remove_duplicates</text>
     </g>
    </g>
    <g id="xtick_104">
     <g id="line2d_165">
      <g>
       <path d="M 0 0 L 0 3.5" transform="translate(367.516267 859.152)" style="stroke: #000000; stroke-width: 0.8; stroke: #000000; stroke-width: 0.8"/>
      </g>
     </g>
     <g id="text_80">
      <text style="font-size: 5px; font-family: 'DejaVu Sans', 'Liberation Sans', sans-serif" transform="translate(368.8264 898.6136) rotate(-90)">count_words</text>
     </g>
    </g>
   </g>
   <g id="matplotlib.axis_8">
    <g id="ytick_19">
     <g id="line2d_166">
      <g>
       <path d="M 0 0 L -3.5 0" transform="translate(61.44 502.495333)" style="stroke: #000000; stroke-width: 0.8; stroke: #000000; stroke-width: 0.8"/>
      </g>
     </g>
     <g id="text_81">
      <text style="font-size: 5px; font-family: 'DejaVu Sans', 'Liberation Sans', sans-serif; text-anchor: end" x="54.4400" y="504.8749" transform="rotate(-0 54.4400 504.8749)">stack_push_pop</text>
     </g>
    </g>
    <g id="ytick_20">
     <g id="line2d_167">
      <g>
       <path d="M 0 0 L -3.5 0" transform="translate(61.44 512.542)" style="stroke: #000000; stroke-width: 0.8; stroke: #000000; stroke-width: 0.8"/>
      </g>
     </g>
     <g id="text_82">
      <text style="font-size: 5px; font-family: 'DejaVu Sans', 'Liberation Sans', sans-serif; text-anchor: end" x="54.4400" y="514.9216" transform="rotate(-0 54.4400 514.9216)">queue_impl</text>
     </g>
    </g>
    <g id="ytick_21">
     <g id="line2d_168">
      <g>
       <path d="M 0 0 L -3.5 0" transform="translate(61.44 522.588667)" style="stroke: #000000; stroke-width: 0.8; stroke: #000000; stroke-width: 0.8"/>
      </g>
     </g>
     <g id="text_83">
      <text style="font-size: 5px; font-family: 'DejaVu Sans', 'Liberation Sans', sans-serif; text-anchor: end" x="54.4400" y="524.9683" transform="rotate(-0 54.4400 524.9683)">linked_list</text>
     </g>
    </g>
    <g id="ytick_22">
     <g id="line2d_169">
      <g>
       <path d="M 0 0 L -3.5 0" transform="translate(61.44 532.635333)" style="stroke: #000000; stroke-width: 0.8; stroke: #000000; stroke-width: 0.8"/>
      </g>
     </g>
     <g id="text_84">
      <text style="font-size: 5px; font-family: 'DejaVu Sans', 'Liberation Sans', sans-serif; text-anchor: end" x="54.4400" y="535.0149" transform="rotate(-0 54.4400 535.0149)">binary_tree</text>
     </g>
    </g>
    <g id="ytick_23">
     <g id="line2d_170">
      <g>
       <path d="M 0 0 L -3.5 0" transform="translate(61.44 542.682)" style="stroke: #000000; stroke-width: 0.8; stroke: #000000; stroke-width: 0.8"/>
      </g>
     </g>
     <g id="text_85">
      <text style="font-size: 5px; font-family: 'DejaVu Sans', 'Liberation Sans', sans-serif; text-anchor: end" x="54.4400" y="545.0616" transform="rotate(-0 54.4400 545.0616)">hash_map</text>
     </g>
    </g>
    <g id="ytick_24">
     <g id="line2d_171">
      <g>
       <path d="M 0 0 L -3.5 0" transform="translate(61.44 552.728667)" style="stroke: #000000; stroke-width: 0.8; stroke: #000000; stroke-width: 0.8"/>
      </g>
     </g>
     <g id="text_86">
      <text style="font-size: 5px; font-family: 'DejaVu Sans', 'Liberation Sans', sans-serif; text-anchor: end" x="54.4400" y="555.1083" transform="rotate(-0 54.4400 555.1083)">priority_queue</text>
     </g>
    </g>
    <g id="ytick_25">
     <g id="line2d_172">
      <g>
       <path d="M 0 0 L -3.5 0" transform="translate(61.44 562.775333)" style="stroke: #000000; stroke-width: 0.8; stroke: #000000; stroke-width: 0.8"/>
      </g>
     </g>
     <g id="text_87">
      <text style="font-size: 5px; font-family: 'DejaVu Sans', 'Liberation Sans', sans-serif; text-anchor: end" x="54.4400" y="565.1549" transform="rotate(-0 54.4400 565.1549)">read_json</text>
     </g>
    </g>
    <g id="ytick_26">
     <g id="line2d_173">
      <g>
       <path d="M 0 0 L -3.5 0" transform="translate(61.44 572.822)" style="stroke: #000000; stroke-width: 0.8; stroke: #000000; stroke-width: 0.8"/>
      </g>
     </g>
     <g id="text_88">
      <text style="font-size: 5px; font-family: 'DejaVu Sans', 'Liberation Sans', sans-serif; text-anchor: end" x="54.4400" y="575.2016" transform="rotate(-0 54.4400 575.2016)">write_file</text>
     </g>
    </g>
    <g id="ytick_27">
     <g id="line2d_174">
      <g>
       <path d="M 0 0 L -3.5 0" transform="translate(61.44 582.868667)" style="stroke: #000000; stroke-width: 0.8; stroke: #000000; stroke-width: 0.8"/>
      </g>
     </g>
     <g id="text_89">
      <text style="font-size: 5px; font-family: 'DejaVu Sans', 'Liberation Sans', sans-serif; text-anchor: end" x="54.4400" y="585.2483" transform="rotate(-0 54.4400 585.2483)">read_csv</text>
     </g>
    </g>
    <g id="ytick_28">
     <g id="line2d_175">
      <g>
       <path d="M 0 0 L -3.5 0" transform="translate(61.44 592.915333)" style="stroke: #000000; stroke-width: 0.8; stroke: #000000; stroke-width: 0.8"/>
      </g>
     </g>
     <g id="text_90">
      <text style="font-size: 5px; font-family: 'DejaVu Sans', 'Liberation Sans', sans-serif; text-anchor: end" x="54.4400" y="595.2949" transform="rotate(-0 54.4400 595.2949)">read_yaml</text>
     </g>
    </g>
    <g id="ytick_29">
     <g id="line2d_176">
      <g>
       <path d="M 0 0 L -3.5 0" transform="translate(61.44 602.962)" style="stroke: #000000; stroke-width: 0.8; stroke: #000000; stroke-width: 0.8"/>
      </g>
     </g>
     <g id="text_91">
      <text style="font-size: 5px; font-family: 'DejaVu Sans', 'Liberation Sans', sans-serif; text-anchor: end" x="54.4400" y="605.3416" transform="rotate(-0 54.4400 605.3416)">write_json</text>
     </g>
    </g>
    <g id="ytick_30">
     <g id="line2d_177">
      <g>
       <path d="M 0 0 L -3.5 0" transform="translate(61.44 613.008667)" style="stroke: #000000; stroke-width: 0.8; stroke: #000000; stroke-width: 0.8"/>
      </g>
     </g>
     <g id="text_92">
      <text style="font-size: 5px; font-family: 'DejaVu Sans', 'Liberation Sans', sans-serif; text-anchor: end" x="54.4400" y="615.3883" transform="rotate(-0 54.4400 615.3883)">read_lines</text>
     </g>
    </g>
    <g id="ytick_31">
     <g id="line2d_178">
      <g>
       <path d="M 0 0 L -3.5 0" transform="translate(61.44 623.055333)" style="stroke: #000000; stroke-width: 0.8; stroke: #000000; stroke-width: 0.8"/>
      </g>
     </g>
     <g id="text_93">
      <text style="font-size: 5px; font-family: 'DejaVu Sans', 'Liberation Sans', sans-serif; text-anchor: end" x="54.4400" y="625.4349" transform="rotate(-0 54.4400 625.4349)">factorial</text>
     </g>
    </g>
    <g id="ytick_32">
     <g id="line2d_179">
      <g>
       <path d="M 0 0 L -3.5 0" transform="translate(61.44 633.102)" style="stroke: #000000; stroke-width: 0.8; stroke: #000000; stroke-width: 0.8"/>
      </g>
     </g>
     <g id="text_94">
      <text style="font-size: 5px; font-family: 'DejaVu Sans', 'Liberation Sans', sans-serif; text-anchor: end" x="54.4400" y="635.4816" transform="rotate(-0 54.4400 635.4816)">fibonacci</text>
     </g>
    </g>
    <g id="ytick_33">
     <g id="line2d_180">
      <g>
       <path d="M 0 0 L -3.5 0" transform="translate(61.44 643.148667)" style="stroke: #000000; stroke-width: 0.8; stroke: #000000; stroke-width: 0.8"/>
      </g>
     </g>
     <g id="text_95">
      <text style="font-size: 5px; font-family: 'DejaVu Sans', 'Liberation Sans', sans-serif; text-anchor: end" x="54.4400" y="645.5283" transform="rotate(-0 54.4400 645.5283)">gcd</text>
     </g>
    </g>
    <g id="ytick_34">
     <g id="line2d_181">
      <g>
       <path d="M 0 0 L -3.5 0" transform="translate(61.44 653.195333)" style="stroke: #000000; stroke-width: 0.8; stroke: #000000; stroke-width: 0.8"/>
      </g>
     </g>
     <g id="text_96">
      <text style="font-size: 5px; font-family: 'DejaVu Sans', 'Liberation Sans', sans-serif; text-anchor: end" x="54.4400" y="655.5749" transform="rotate(-0 54.4400 655.5749)">is_prime</text>
     </g>
    </g>
    <g id="ytick_35">
     <g id="line2d_182">
      <g>
       <path d="M 0 0 L -3.5 0" transform="translate(61.44 663.242)" style="stroke: #000000; stroke-width: 0.8; stroke: #000000; stroke-width: 0.8"/>
      </g>
     </g>
     <g id="text_97">
      <text style="font-size: 5px; font-family: 'DejaVu Sans', 'Liberation Sans', sans-serif; text-anchor: end" x="54.4400" y="665.6216" transform="rotate(-0 54.4400 665.6216)">power</text>
     </g>
    </g>
    <g id="ytick_36">
     <g id="line2d_183">
      <g>
       <path d="M 0 0 L -3.5 0" transform="translate(61.44 673.288667)" style="stroke: #000000; stroke-width: 0.8; stroke: #000000; stroke-width: 0.8"/>
      </g>
     </g>
     <g id="text_98">
      <text style="font-size: 5px; font-family: 'DejaVu Sans', 'Liberation Sans', sans-serif; text-anchor: end" x="54.4400" y="675.6683" transform="rotate(-0 54.4400 675.6683)">sum_digits</text>
     </g>
    </g>
    <g id="ytick_37">
     <g id="line2d_184">
      <g>
       <path d="M 0 0 L -3.5 0" transform="translate(61.44 683.335333)" style="stroke: #000000; stroke-width: 0.8; stroke: #000000; stroke-width: 0.8"/>
      </g>
     </g>
     <g id="text_99">
      <text style="font-size: 5px; font-family: 'DejaVu Sans', 'Liberation Sans', sans-serif; text-anchor: end" x="54.4400" y="685.7149" transform="rotate(-0 54.4400 685.7149)">http_get</text>
     </g>
    </g>
    <g id="ytick_38">
     <g id="line2d_185">
      <g>
       <path d="M 0 0 L -3.5 0" transform="translate(61.44 693.382)" style="stroke: #000000; stroke-width: 0.8; stroke: #000000; stroke-width: 0.8"/>
      </g>
     </g>
     <g id="text_100">
      <text style="font-size: 5px; font-family: 'DejaVu Sans', 'Liberation Sans', sans-serif; text-anchor: end" x="54.4400" y="695.7616" transform="rotate(-0 54.4400 695.7616)">post_data</text>
     </g>
    </g>
    <g id="ytick_39">
     <g id="line2d_186">
      <g>
       <path d="M 0 0 L -3.5 0" transform="translate(61.44 703.428667)" style="stroke: #000000; stroke-width: 0.8; stroke: #000000; stroke-width: 0.8"/>
      </g>
     </g>
     <g id="text_101">
      <text style="font-size: 5px; font-family: 'DejaVu Sans', 'Liberation Sans', sans-serif; text-anchor: end" x="54.4400" y="705.8083" transform="rotate(-0 54.4400 705.8083)">fetch_url</text>
     </g>
    </g>
    <g id="ytick_40">
     <g id="line2d_187">
      <g>
       <path d="M 0 0 L -3.5 0" transform="translate(61.44 713.475333)" style="stroke: #000000; stroke-width: 0.8; stroke: #000000; stroke-width: 0.8"/>
      </g>
     </g>
     <g id="text_102">
      <text style="font-size: 5px; font-family: 'DejaVu Sans', 'Liberation Sans', sans-serif; text-anchor: end" x="54.4400" y="715.8549" transform="rotate(-0 54.4400 715.8549)">download_file</text>
     </g>
    </g>
    <g id="ytick_41">
     <g id="line2d_188">
      <g>
       <path d="M 0 0 L -3.5 0" transform="translate(61.44 723.522)" style="stroke: #000000; stroke-width: 0.8; stroke: #000000; stroke-width: 0.8"/>
      </g>
     </g>
     <g id="text_103">
      <text style="font-size: 5px; font-family: 'DejaVu Sans', 'Liberation Sans', sans-serif; text-anchor: end" x="54.4400" y="725.9016" transform="rotate(-0 54.4400 725.9016)">http_put</text>
     </g>
    </g>
    <g id="ytick_42">
     <g id="line2d_189">
      <g>
       <path d="M 0 0 L -3.5 0" transform="translate(61.44 733.568667)" style="stroke: #000000; stroke-width: 0.8; stroke: #000000; stroke-width: 0.8"/>
      </g>
     </g>
     <g id="text_104">
      <text style="font-size: 5px; font-family: 'DejaVu Sans', 'Liberation Sans', sans-serif; text-anchor: end" x="54.4400" y="735.9483" transform="rotate(-0 54.4400 735.9483)">http_delete</text>
     </g>
    </g>
    <g id="ytick_43">
     <g id="line2d_190">
      <g>
       <path d="M 0 0 L -3.5 0" transform="translate(61.44 743.615333)" style="stroke: #000000; stroke-width: 0.8; stroke: #000000; stroke-width: 0.8"/>
      </g>
     </g>
     <g id="text_105">
      <text style="font-size: 5px; font-family: 'DejaVu Sans', 'Liberation Sans', sans-serif; text-anchor: end" x="54.4400" y="745.9949" transform="rotate(-0 54.4400 745.9949)">bubble_sort</text>
     </g>
    </g>
    <g id="ytick_44">
     <g id="line2d_191">
      <g>
       <path d="M 0 0 L -3.5 0" transform="translate(61.44 753.662)" style="stroke: #000000; stroke-width: 0.8; stroke: #000000; stroke-width: 0.8"/>
      </g>
     </g>
     <g id="text_106">
      <text style="font-size: 5px; font-family: 'DejaVu Sans', 'Liberation Sans', sans-serif; text-anchor: end" x="54.4400" y="756.0416" transform="rotate(-0 54.4400 756.0416)">quick_sort</text>
     </g>
    </g>
    <g id="ytick_45">
     <g id="line2d_192">
      <g>
       <path d="M 0 0 L -3.5 0" transform="translate(61.44 763.708667)" style="stroke: #000000; stroke-width: 0.8; stroke: #000000; stroke-width: 0.8"/>
      </g>
     </g>
     <g id="text_107">
      <text style="font-size: 5px; font-family: 'DejaVu Sans', 'Liberation Sans', sans-serif; text-anchor: end" x="54.4400" y="766.0187" transform="rotate(-0 54.4400 766.0187)">merge_sort</text>
     </g>
    </g>
    <g id="ytick_46">
     <g id="line2d_193">
      <g>
       <path d="M 0 0 L -3.5 0" transform="translate(61.44 773.755333)" style="stroke: #000000; stroke-width: 0.8; stroke: #000000; stroke-width: 0.8"/>
      </g>
     </g>
     <g id="text_108">
      <text style="font-size: 5px; font-family: 'DejaVu Sans', 'Liberation Sans', sans-serif; text-anchor: end" x="54.4400" y="776.1349" transform="rotate(-0 54.4400 776.1349)">insertion_sort</text>
     </g>
    </g>
    <g id="ytick_47">
     <g id="line2d_194">
      <g>
       <path d="M 0 0 L -3.5 0" transform="translate(61.44 783.802)" style="stroke: #000000; stroke-width: 0.8; stroke: #000000; stroke-width: 0.8"/>
      </g>
     </g>
     <g id="text_109">
      <text style="font-size: 5px; font-family: 'DejaVu Sans', 'Liberation Sans', sans-serif; text-anchor: end" x="54.4400" y="786.1816" transform="rotate(-0 54.4400 786.1816)">selection_sort</text>
     </g>
    </g>
    <g id="ytick_48">
     <g id="line2d_195">
      <g>
       <path d="M 0 0 L -3.5 0" transform="translate(61.44 793.848667)" style="stroke: #000000; stroke-width: 0.8; stroke: #000000; stroke-width: 0.8"/>
      </g>
     </g>
     <g id="text_110">
      <text style="font-size: 5px; font-family: 'DejaVu Sans', 'Liberation Sans', sans-serif; text-anchor: end" x="54.4400" y="796.2283" transform="rotate(-0 54.4400 796.2283)">heap_sort</text>
     </g>
    </g>
    <g id="ytick_49">
     <g id="line2d_196">
      <g>
       <path d="M 0 0 L -3.5 0" transform="translate(61.44 803.895333)" style="stroke: #000000; stroke-width: 0.8; stroke: #000000; stroke-width: 0.8"/>
      </g>
     </g>
     <g id="text_111">
      <text style="font-size: 5px; font-family: 'DejaVu Sans', 'Liberation Sans', sans-serif; text-anchor: end" x="54.4400" y="806.2054" transform="rotate(-0 54.4400 806.2054)">reverse_str</text>
     </g>
    </g>
    <g id="ytick_50">
     <g id="line2d_197">
      <g>
       <path d="M 0 0 L -3.5 0" transform="translate(61.44 813.942)" style="stroke: #000000; stroke-width: 0.8; stroke: #000000; stroke-width: 0.8"/>
      </g>
     </g>
     <g id="text_112">
      <text style="font-size: 5px; font-family: 'DejaVu Sans', 'Liberation Sans', sans-serif; text-anchor: end" x="54.4400" y="816.3216" transform="rotate(-0 54.4400 816.3216)">is_palindrome</text>
     </g>
    </g>
    <g id="ytick_51">
     <g id="line2d_198">
      <g>
       <path d="M 0 0 L -3.5 0" transform="translate(61.44 823.988667)" style="stroke: #000000; stroke-width: 0.8; stroke: #000000; stroke-width: 0.8"/>
      </g>
     </g>
     <g id="text_113">
      <text style="font-size: 5px; font-family: 'DejaVu Sans', 'Liberation Sans', sans-serif; text-anchor: end" x="54.4400" y="826.3683" transform="rotate(-0 54.4400 826.3683)">count_vowels</text>
     </g>
    </g>
    <g id="ytick_52">
     <g id="line2d_199">
      <g>
       <path d="M 0 0 L -3.5 0" transform="translate(61.44 834.035333)" style="stroke: #000000; stroke-width: 0.8; stroke: #000000; stroke-width: 0.8"/>
      </g>
     </g>
     <g id="text_114">
      <text style="font-size: 5px; font-family: 'DejaVu Sans', 'Liberation Sans', sans-serif; text-anchor: end" x="54.4400" y="836.4149" transform="rotate(-0 54.4400 836.4149)">capitalize_words</text>
     </g>
    </g>
    <g id="ytick_53">
     <g id="line2d_200">
      <g>
       <path d="M 0 0 L -3.5 0" transform="translate(61.44 844.082)" style="stroke: #000000; stroke-width: 0.8; stroke: #000000; stroke-width: 0.8"/>
      </g>
     </g>
     <g id="text_115">
      <text style="font-size: 5px; font-family: 'DejaVu Sans', 'Liberation Sans', sans-serif; text-anchor: end" x="54.4400" y="846.4616" transform="rotate(-0 54.4400 846.4616)">remove_duplicates</text>
     </g>
    </g>
    <g id="ytick_54">
     <g id="line2d_201">
      <g>
       <path d="M 0 0 L -3.5 0" transform="translate(61.44 854.128667)" style="stroke: #000000; stroke-width: 0.8; stroke: #000000; stroke-width: 0.8"/>
      </g>
     </g>
     <g id="text_116">
      <text style="font-size: 5px; font-family: 'DejaVu Sans', 'Liberation Sans', sans-serif; text-anchor: end" x="54.4400" y="856.5083" transform="rotate(-0 54.4400 856.5083)">count_words</text>
     </g>
    </g>
   </g>
   <g id="line2d_202">
    <path d="M 61.44 557.752 
L 371.8272 557.752 
" clip-path="url(#p63e8f16219)" style="fill: none; stroke: #000000; stroke-linecap: square"/>
   </g>
   <g id="line2d_203">
    <path d="M 113.1712 859.152 
L 113.1712 497.472 
" clip-path="url(#p63e8f16219)" style="fill: none; stroke: #000000; stroke-linecap: square"/>
   </g>
   <g id="line2d_204">
    <path d="M 61.44 618.032 
L 371.8272 618.032 
" clip-path="url(#p63e8f16219)" style="fill: none; stroke: #000000; stroke-linecap: square"/>
   </g>
   <g id="line2d_205">
    <path d="M 164.9024 859.152 
L 164.9024 497.472 
" clip-path="url(#p63e8f16219)" style="fill: none; stroke: #000000; stroke-linecap: square"/>
   </g>
   <g id="line2d_206">
    <path d="M 61.44 678.312 
L 371.8272 678.312 
" clip-path="url(#p63e8f16219)" style="fill: none; stroke: #000000; stroke-linecap: square"/>
   </g>
   <g id="line2d_207">
    <path d="M 216.6336 859.152 
L 216.6336 497.472 
" clip-path="url(#p63e8f16219)" style="fill: none; stroke: #000000; stroke-linecap: square"/>
   </g>
   <g id="line2d_208">
    <path d="M 61.44 738.592 
L 371.8272 738.592 
" clip-path="url(#p63e8f16219)" style="fill: none; stroke: #000000; stroke-linecap: square"/>
   </g>
   <g id="line2d_209">
    <path d="M 268.3648 859.152 
L 268.3648 497.472 
" clip-path="url(#p63e8f16219)" style="fill: none; stroke: #000000; stroke-linecap: square"/>
   </g>
   <g id="line2d_210">
    <path d="M 61.44 798.872 
L 371.8272 798.872 
" clip-path="url(#p63e8f16219)" style="fill: none; stroke: #000000; stroke-linecap: square"/>
   </g>
   <g id="line2d_211">
    <path d="M 320.096 859.152 
L 320.096 497.472 
" clip-path="url(#p63e8f16219)" style="fill: none; stroke: #000000; stroke-linecap: square"/>
   </g>
   <g id="patch_21">
    <path d="M 61.44 859.152 
L 61.44 497.472 
" style="fill: none; stroke: #000000; stroke-width: 0.8; stroke-linejoin: miter; stroke-linecap: square"/>
   </g>
   <g id="patch_22">
    <path d="M 371.8272 859.152 
L 371.8272 497.472 
" style="fill: none; stroke: #000000; stroke-width: 0.8; stroke-linejoin: miter; stroke-linecap: square"/>
   </g>
   <g id="patch_23">
    <path d="M 61.44 859.152 
L 371.8272 859.152 
" style="fill: none; stroke: #000000; stroke-width: 0.8; stroke-linejoin: miter; stroke-linecap: square"/>
   </g>
   <g id="patch_24">
    <path d="M 61.44 497.472 
L 371.8272 497.472 
" style="fill: none; stroke: #000000; stroke-width: 0.8; stroke-linejoin: miter; stroke-linecap: square"/>
   </g>
   <g id="text_117">
    <text style="font-weight: 700; font-size: 11px; font-family: 'DejaVu Sans', 'Liberation Sans', sans-serif; text-anchor: middle" x="216.6336" y="491.472" transform="rotate(-0 216.6336 491.472)">(d) Similarity Heatmap — Full 768d</text>
   </g>
  </g>
  <g id="axes_5">
   <g id="patch_25">
    <path d="M 391.2264 822.984 
L 405.6936 822.984 
L 405.6936 533.64 
L 391.2264 533.64 
z
" style="fill: #ffffff"/>
   </g>
   <g id="CB_d" shape-rendering="crispEdges">
<rect x="391.226" y="533.640" width="14.467" height="1.430" fill="#67001f"/>
<rect x="391.226" y="534.770" width="14.467" height="1.430" fill="#6a011f"/>
<rect x="391.226" y="535.900" width="14.467" height="1.430" fill="#6d0220"/>
<rect x="391.226" y="537.031" width="14.467" height="1.430" fill="#700320"/>
<rect x="391.226" y="538.161" width="14.467" height="1.430" fill="#730421"/>
<rect x="391.226" y="539.291" width="14.467" height="1.430" fill="#760521"/>
<rect x="391.226" y="540.422" width="14.467" height="1.430" fill="#790622"/>
<rect x="391.226" y="541.552" width="14.467" height="1.430" fill="#7c0722"/>
<rect x="391.226" y="542.682" width="14.467" height="1.430" fill="#7f0823"/>
<rect x="391.226" y="543.812" width="14.467" height="1.430" fill="#810823"/>
<rect x="391.226" y="544.942" width="14.467" height="1.430" fill="#840924"/>
<rect x="391.226" y="546.073" width="14.467" height="1.430" fill="#870a24"/>
<rect x="391.226" y="547.203" width="14.467" height="1.430" fill="#8a0b25"/>
<rect x="391.226" y="548.333" width="14.467" height="1.430" fill="#8d0c25"/>
<rect x="391.226" y="549.463" width="14.467" height="1.430" fill="#900d26"/>
<rect x="391.226" y="550.594" width="14.467" height="1.430" fill="#930e26"/>
<rect x="391.226" y="551.724" width="14.467" height="1.430" fill="#960f27"/>
<rect x="391.226" y="552.854" width="14.467" height="1.430" fill="#991027"/>
<rect x="391.226" y="553.985" width="14.467" height="1.430" fill="#9c1127"/>
<rect x="391.226" y="555.115" width="14.467" height="1.430" fill="#9f1228"/>
<rect x="391.226" y="556.245" width="14.467" height="1.430" fill="#a21328"/>
<rect x="391.226" y="557.375" width="14.467" height="1.430" fill="#a51429"/>
<rect x="391.226" y="558.505" width="14.467" height="1.430" fill="#a81529"/>
<rect x="391.226" y="559.636" width="14.467" height="1.430" fill="#ab162a"/>
<rect x="391.226" y="560.766" width="14.467" height="1.430" fill="#ae172a"/>
<rect x="391.226" y="561.896" width="14.467" height="1.430" fill="#b1182b"/>
<rect x="391.226" y="563.026" width="14.467" height="1.430" fill="#b3192c"/>
<rect x="391.226" y="564.157" width="14.467" height="1.430" fill="#b41c2d"/>
<rect x="391.226" y="565.287" width="14.467" height="1.430" fill="#b61f2e"/>
<rect x="391.226" y="566.417" width="14.467" height="1.430" fill="#b72230"/>
<rect x="391.226" y="567.548" width="14.467" height="1.430" fill="#b82531"/>
<rect x="391.226" y="568.678" width="14.467" height="1.430" fill="#ba2832"/>
<rect x="391.226" y="569.808" width="14.467" height="1.430" fill="#bb2a34"/>
<rect x="391.226" y="570.938" width="14.467" height="1.430" fill="#bd2d35"/>
<rect x="391.226" y="572.068" width="14.467" height="1.430" fill="#be3036"/>
<rect x="391.226" y="573.199" width="14.467" height="1.430" fill="#bf3338"/>
<rect x="391.226" y="574.329" width="14.467" height="1.430" fill="#c13639"/>
<rect x="391.226" y="575.459" width="14.467" height="1.430" fill="#c2383a"/>
<rect x="391.226" y="576.590" width="14.467" height="1.430" fill="#c43b3c"/>
<rect x="391.226" y="577.720" width="14.467" height="1.430" fill="#c53e3d"/>
<rect x="391.226" y="578.850" width="14.467" height="1.430" fill="#c6413e"/>
<rect x="391.226" y="579.980" width="14.467" height="1.430" fill="#c84440"/>
<rect x="391.226" y="581.111" width="14.467" height="1.430" fill="#c94741"/>
<rect x="391.226" y="582.241" width="14.467" height="1.430" fill="#cb4942"/>
<rect x="391.226" y="583.371" width="14.467" height="1.430" fill="#cc4c44"/>
<rect x="391.226" y="584.501" width="14.467" height="1.430" fill="#ce4f45"/>
<rect x="391.226" y="585.631" width="14.467" height="1.430" fill="#cf5246"/>
<rect x="391.226" y="586.762" width="14.467" height="1.430" fill="#d05548"/>
<rect x="391.226" y="587.892" width="14.467" height="1.430" fill="#d25849"/>
<rect x="391.226" y="589.022" width="14.467" height="1.430" fill="#d35a4a"/>
<rect x="391.226" y="590.153" width="14.467" height="1.430" fill="#d55d4c"/>
<rect x="391.226" y="591.283" width="14.467" height="1.430" fill="#d6604d"/>
<rect x="391.226" y="592.413" width="14.467" height="1.430" fill="#d7634f"/>
<rect x="391.226" y="593.543" width="14.467" height="1.430" fill="#d86551"/>
<rect x="391.226" y="594.673" width="14.467" height="1.430" fill="#da6853"/>
<rect x="391.226" y="595.804" width="14.467" height="1.430" fill="#db6b55"/>
<rect x="391.226" y="596.934" width="14.467" height="1.430" fill="#dc6e57"/>
<rect x="391.226" y="598.064" width="14.467" height="1.430" fill="#dd7059"/>
<rect x="391.226" y="599.195" width="14.467" height="1.430" fill="#de735c"/>
<rect x="391.226" y="600.325" width="14.467" height="1.430" fill="#df765e"/>
<rect x="391.226" y="601.455" width="14.467" height="1.430" fill="#e17860"/>
<rect x="391.226" y="602.585" width="14.467" height="1.430" fill="#e27b62"/>
<rect x="391.226" y="603.716" width="14.467" height="1.430" fill="#e37e64"/>
<rect x="391.226" y="604.846" width="14.467" height="1.430" fill="#e48066"/>
<rect x="391.226" y="605.976" width="14.467" height="1.430" fill="#e58368"/>
<rect x="391.226" y="607.106" width="14.467" height="1.430" fill="#e6866a"/>
<rect x="391.226" y="608.236" width="14.467" height="1.430" fill="#e8896c"/>
<rect x="391.226" y="609.367" width="14.467" height="1.430" fill="#e98b6e"/>
<rect x="391.226" y="610.497" width="14.467" height="1.430" fill="#ea8e70"/>
<rect x="391.226" y="611.627" width="14.467" height="1.430" fill="#eb9172"/>
<rect x="391.226" y="612.757" width="14.467" height="1.430" fill="#ec9374"/>
<rect x="391.226" y="613.888" width="14.467" height="1.430" fill="#ee9677"/>
<rect x="391.226" y="615.018" width="14.467" height="1.430" fill="#ef9979"/>
<rect x="391.226" y="616.148" width="14.467" height="1.430" fill="#f09c7b"/>
<rect x="391.226" y="617.279" width="14.467" height="1.430" fill="#f19e7d"/>
<rect x="391.226" y="618.409" width="14.467" height="1.430" fill="#f2a17f"/>
<rect x="391.226" y="619.539" width="14.467" height="1.430" fill="#f3a481"/>
<rect x="391.226" y="620.669" width="14.467" height="1.430" fill="#f4a683"/>
<rect x="391.226" y="621.799" width="14.467" height="1.430" fill="#f5a886"/>
<rect x="391.226" y="622.930" width="14.467" height="1.430" fill="#f5aa89"/>
<rect x="391.226" y="624.060" width="14.467" height="1.430" fill="#f5ac8b"/>
<rect x="391.226" y="625.190" width="14.467" height="1.430" fill="#f6af8e"/>
<rect x="391.226" y="626.321" width="14.467" height="1.430" fill="#f6b191"/>
<rect x="391.226" y="627.451" width="14.467" height="1.430" fill="#f6b394"/>
<rect x="391.226" y="628.581" width="14.467" height="1.430" fill="#f7b596"/>
<rect x="391.226" y="629.711" width="14.467" height="1.430" fill="#f7b799"/>
<rect x="391.226" y="630.841" width="14.467" height="1.430" fill="#f7b99c"/>
<rect x="391.226" y="631.972" width="14.467" height="1.430" fill="#f8bb9e"/>
<rect x="391.226" y="633.102" width="14.467" height="1.430" fill="#f8bda1"/>
<rect x="391.226" y="634.232" width="14.467" height="1.430" fill="#f8bfa4"/>
<rect x="391.226" y="635.362" width="14.467" height="1.430" fill="#f9c2a7"/>
<rect x="391.226" y="636.493" width="14.467" height="1.430" fill="#f9c4a9"/>
<rect x="391.226" y="637.623" width="14.467" height="1.430" fill="#f9c6ac"/>
<rect x="391.226" y="638.753" width="14.467" height="1.430" fill="#fac8af"/>
<rect x="391.226" y="639.884" width="14.467" height="1.430" fill="#facab1"/>
<rect x="391.226" y="641.014" width="14.467" height="1.430" fill="#fbccb4"/>
<rect x="391.226" y="642.144" width="14.467" height="1.430" fill="#fbceb7"/>
<rect x="391.226" y="643.274" width="14.467" height="1.430" fill="#fbd0b9"/>
<rect x="391.226" y="644.404" width="14.467" height="1.430" fill="#fcd3bc"/>
<rect x="391.226" y="645.535" width="14.467" height="1.430" fill="#fcd5bf"/>
<rect x="391.226" y="646.665" width="14.467" height="1.430" fill="#fcd7c2"/>
<rect x="391.226" y="647.795" width="14.467" height="1.430" fill="#fdd9c4"/>
<rect x="391.226" y="648.926" width="14.467" height="1.430" fill="#fddbc7"/>
<rect x="391.226" y="650.056" width="14.467" height="1.430" fill="#fddcc9"/>
<rect x="391.226" y="651.186" width="14.467" height="1.430" fill="#fdddcb"/>
<rect x="391.226" y="652.316" width="14.467" height="1.430" fill="#fcdecd"/>
<rect x="391.226" y="653.447" width="14.467" height="1.430" fill="#fcdfcf"/>
<rect x="391.226" y="654.577" width="14.467" height="1.430" fill="#fce0d0"/>
<rect x="391.226" y="655.707" width="14.467" height="1.430" fill="#fce2d2"/>
<rect x="391.226" y="656.837" width="14.467" height="1.430" fill="#fbe3d4"/>
<rect x="391.226" y="657.967" width="14.467" height="1.430" fill="#fbe4d6"/>
<rect x="391.226" y="659.098" width="14.467" height="1.430" fill="#fbe5d8"/>
<rect x="391.226" y="660.228" width="14.467" height="1.430" fill="#fbe6da"/>
<rect x="391.226" y="661.358" width="14.467" height="1.430" fill="#fae7dc"/>
<rect x="391.226" y="662.489" width="14.467" height="1.430" fill="#fae8de"/>
<rect x="391.226" y="663.619" width="14.467" height="1.430" fill="#fae9df"/>
<rect x="391.226" y="664.749" width="14.467" height="1.430" fill="#faeae1"/>
<rect x="391.226" y="665.879" width="14.467" height="1.430" fill="#f9ebe3"/>
<rect x="391.226" y="667.010" width="14.467" height="1.430" fill="#f9ede5"/>
<rect x="391.226" y="668.140" width="14.467" height="1.430" fill="#f9eee7"/>
<rect x="391.226" y="669.270" width="14.467" height="1.430" fill="#f9efe9"/>
<rect x="391.226" y="670.400" width="14.467" height="1.430" fill="#f9f0eb"/>
<rect x="391.226" y="671.531" width="14.467" height="1.430" fill="#f8f1ed"/>
<rect x="391.226" y="672.661" width="14.467" height="1.430" fill="#f8f2ef"/>
<rect x="391.226" y="673.791" width="14.467" height="1.430" fill="#f8f3f0"/>
<rect x="391.226" y="674.921" width="14.467" height="1.430" fill="#f8f4f2"/>
<rect x="391.226" y="676.052" width="14.467" height="1.430" fill="#f7f5f4"/>
<rect x="391.226" y="677.182" width="14.467" height="1.430" fill="#f7f6f6"/>
<rect x="391.226" y="678.312" width="14.467" height="1.430" fill="#f6f7f7"/>
<rect x="391.226" y="679.442" width="14.467" height="1.430" fill="#f5f6f7"/>
<rect x="391.226" y="680.572" width="14.467" height="1.430" fill="#f3f5f6"/>
<rect x="391.226" y="681.703" width="14.467" height="1.430" fill="#f2f5f6"/>
<rect x="391.226" y="682.833" width="14.467" height="1.430" fill="#f0f4f6"/>
<rect x="391.226" y="683.963" width="14.467" height="1.430" fill="#eff3f5"/>
<rect x="391.226" y="685.093" width="14.467" height="1.430" fill="#edf2f5"/>
<rect x="391.226" y="686.224" width="14.467" height="1.430" fill="#ecf2f5"/>
<rect x="391.226" y="687.354" width="14.467" height="1.430" fill="#eaf1f5"/>
<rect x="391.226" y="688.484" width="14.467" height="1.430" fill="#e9f0f4"/>
<rect x="391.226" y="689.615" width="14.467" height="1.430" fill="#e7f0f4"/>
<rect x="391.226" y="690.745" width="14.467" height="1.430" fill="#e6eff4"/>
<rect x="391.226" y="691.875" width="14.467" height="1.430" fill="#e4eef4"/>
<rect x="391.226" y="693.005" width="14.467" height="1.430" fill="#e3edf3"/>
<rect x="391.226" y="694.135" width="14.467" height="1.430" fill="#e1edf3"/>
<rect x="391.226" y="695.266" width="14.467" height="1.430" fill="#e0ecf3"/>
<rect x="391.226" y="696.396" width="14.467" height="1.430" fill="#deebf2"/>
<rect x="391.226" y="697.526" width="14.467" height="1.430" fill="#ddebf2"/>
<rect x="391.226" y="698.657" width="14.467" height="1.430" fill="#dbeaf2"/>
<rect x="391.226" y="699.787" width="14.467" height="1.430" fill="#dae9f2"/>
<rect x="391.226" y="700.917" width="14.467" height="1.430" fill="#d8e9f1"/>
<rect x="391.226" y="702.047" width="14.467" height="1.430" fill="#d7e8f1"/>
<rect x="391.226" y="703.178" width="14.467" height="1.430" fill="#d5e7f1"/>
<rect x="391.226" y="704.308" width="14.467" height="1.430" fill="#d4e6f1"/>
<rect x="391.226" y="705.438" width="14.467" height="1.430" fill="#d2e6f0"/>
<rect x="391.226" y="706.568" width="14.467" height="1.430" fill="#d1e5f0"/>
<rect x="391.226" y="707.698" width="14.467" height="1.430" fill="#cfe4ef"/>
<rect x="391.226" y="708.829" width="14.467" height="1.430" fill="#cce2ef"/>
<rect x="391.226" y="709.959" width="14.467" height="1.430" fill="#cae1ee"/>
<rect x="391.226" y="711.089" width="14.467" height="1.430" fill="#c7e0ed"/>
<rect x="391.226" y="712.220" width="14.467" height="1.430" fill="#c5dfec"/>
<rect x="391.226" y="713.350" width="14.467" height="1.430" fill="#c2ddec"/>
<rect x="391.226" y="714.480" width="14.467" height="1.430" fill="#c0dceb"/>
<rect x="391.226" y="715.610" width="14.467" height="1.430" fill="#bddbea"/>
<rect x="391.226" y="716.740" width="14.467" height="1.430" fill="#bbdaea"/>
<rect x="391.226" y="717.871" width="14.467" height="1.430" fill="#b8d8e9"/>
<rect x="391.226" y="719.001" width="14.467" height="1.430" fill="#b6d7e8"/>
<rect x="391.226" y="720.131" width="14.467" height="1.430" fill="#b3d6e8"/>
<rect x="391.226" y="721.262" width="14.467" height="1.430" fill="#b1d5e7"/>
<rect x="391.226" y="722.392" width="14.467" height="1.430" fill="#aed3e6"/>
<rect x="391.226" y="723.522" width="14.467" height="1.430" fill="#acd2e5"/>
<rect x="391.226" y="724.652" width="14.467" height="1.430" fill="#a9d1e5"/>
<rect x="391.226" y="725.783" width="14.467" height="1.430" fill="#a7d0e4"/>
<rect x="391.226" y="726.913" width="14.467" height="1.430" fill="#a5cee3"/>
<rect x="391.226" y="728.043" width="14.467" height="1.430" fill="#a2cde3"/>
<rect x="391.226" y="729.173" width="14.467" height="1.430" fill="#a0cce2"/>
<rect x="391.226" y="730.303" width="14.467" height="1.430" fill="#9dcbe1"/>
<rect x="391.226" y="731.434" width="14.467" height="1.430" fill="#9bc9e0"/>
<rect x="391.226" y="732.564" width="14.467" height="1.430" fill="#98c8e0"/>
<rect x="391.226" y="733.694" width="14.467" height="1.430" fill="#96c7df"/>
<rect x="391.226" y="734.825" width="14.467" height="1.430" fill="#93c6de"/>
<rect x="391.226" y="735.955" width="14.467" height="1.430" fill="#90c4dd"/>
<rect x="391.226" y="737.085" width="14.467" height="1.430" fill="#8dc2dc"/>
<rect x="391.226" y="738.215" width="14.467" height="1.430" fill="#8ac0db"/>
<rect x="391.226" y="739.346" width="14.467" height="1.430" fill="#87beda"/>
<rect x="391.226" y="740.476" width="14.467" height="1.430" fill="#84bcd9"/>
<rect x="391.226" y="741.606" width="14.467" height="1.430" fill="#81bad8"/>
<rect x="391.226" y="742.736" width="14.467" height="1.430" fill="#7eb8d7"/>
<rect x="391.226" y="743.867" width="14.467" height="1.430" fill="#7bb6d6"/>
<rect x="391.226" y="744.997" width="14.467" height="1.430" fill="#78b4d5"/>
<rect x="391.226" y="746.127" width="14.467" height="1.430" fill="#75b2d4"/>
<rect x="391.226" y="747.257" width="14.467" height="1.430" fill="#71b0d3"/>
<rect x="391.226" y="748.388" width="14.467" height="1.430" fill="#6eaed2"/>
<rect x="391.226" y="749.518" width="14.467" height="1.430" fill="#6bacd1"/>
<rect x="391.226" y="750.648" width="14.467" height="1.430" fill="#68abd0"/>
<rect x="391.226" y="751.778" width="14.467" height="1.430" fill="#65a9cf"/>
<rect x="391.226" y="752.909" width="14.467" height="1.430" fill="#62a7ce"/>
<rect x="391.226" y="754.039" width="14.467" height="1.430" fill="#5fa5cd"/>
<rect x="391.226" y="755.169" width="14.467" height="1.430" fill="#5ca3cb"/>
<rect x="391.226" y="756.299" width="14.467" height="1.430" fill="#59a1ca"/>
<rect x="391.226" y="757.429" width="14.467" height="1.430" fill="#569fc9"/>
<rect x="391.226" y="758.560" width="14.467" height="1.430" fill="#529dc8"/>
<rect x="391.226" y="759.690" width="14.467" height="1.430" fill="#4f9bc7"/>
<rect x="391.226" y="760.820" width="14.467" height="1.430" fill="#4c99c6"/>
<rect x="391.226" y="761.951" width="14.467" height="1.430" fill="#4997c5"/>
<rect x="391.226" y="763.081" width="14.467" height="1.430" fill="#4695c4"/>
<rect x="391.226" y="764.211" width="14.467" height="1.430" fill="#4393c3"/>
<rect x="391.226" y="765.341" width="14.467" height="1.430" fill="#4291c2"/>
<rect x="391.226" y="766.471" width="14.467" height="1.430" fill="#408fc1"/>
<rect x="391.226" y="767.602" width="14.467" height="1.430" fill="#3f8ec0"/>
<rect x="391.226" y="768.732" width="14.467" height="1.430" fill="#3e8cbf"/>
<rect x="391.226" y="769.862" width="14.467" height="1.430" fill="#3c8abe"/>
<rect x="391.226" y="770.993" width="14.467" height="1.430" fill="#3b88be"/>
<rect x="391.226" y="772.123" width="14.467" height="1.430" fill="#3a87bd"/>
<rect x="391.226" y="773.253" width="14.467" height="1.430" fill="#3885bc"/>
<rect x="391.226" y="774.383" width="14.467" height="1.430" fill="#3783bb"/>
<rect x="391.226" y="775.514" width="14.467" height="1.430" fill="#3681ba"/>
<rect x="391.226" y="776.644" width="14.467" height="1.430" fill="#3480b9"/>
<rect x="391.226" y="777.774" width="14.467" height="1.430" fill="#337eb8"/>
<rect x="391.226" y="778.904" width="14.467" height="1.430" fill="#327cb7"/>
<rect x="391.226" y="780.034" width="14.467" height="1.430" fill="#307ab6"/>
<rect x="391.226" y="781.165" width="14.467" height="1.430" fill="#2f79b5"/>
<rect x="391.226" y="782.295" width="14.467" height="1.430" fill="#2e77b5"/>
<rect x="391.226" y="783.425" width="14.467" height="1.430" fill="#2c75b4"/>
<rect x="391.226" y="784.556" width="14.467" height="1.430" fill="#2b73b3"/>
<rect x="391.226" y="785.686" width="14.467" height="1.430" fill="#2a71b2"/>
<rect x="391.226" y="786.816" width="14.467" height="1.430" fill="#2870b1"/>
<rect x="391.226" y="787.946" width="14.467" height="1.430" fill="#276eb0"/>
<rect x="391.226" y="789.077" width="14.467" height="1.430" fill="#266caf"/>
<rect x="391.226" y="790.207" width="14.467" height="1.430" fill="#246aae"/>
<rect x="391.226" y="791.337" width="14.467" height="1.430" fill="#2369ad"/>
<rect x="391.226" y="792.467" width="14.467" height="1.430" fill="#2267ac"/>
<rect x="391.226" y="793.598" width="14.467" height="1.430" fill="#2065ab"/>
<rect x="391.226" y="794.728" width="14.467" height="1.430" fill="#1f63a8"/>
<rect x="391.226" y="795.858" width="14.467" height="1.430" fill="#1e61a5"/>
<rect x="391.226" y="796.988" width="14.467" height="1.430" fill="#1d5fa2"/>
<rect x="391.226" y="798.119" width="14.467" height="1.430" fill="#1c5c9f"/>
<rect x="391.226" y="799.249" width="14.467" height="1.430" fill="#1b5a9c"/>
<rect x="391.226" y="800.379" width="14.467" height="1.430" fill="#1a5899"/>
<rect x="391.226" y="801.509" width="14.467" height="1.430" fill="#195696"/>
<rect x="391.226" y="802.639" width="14.467" height="1.430" fill="#185493"/>
<rect x="391.226" y="803.770" width="14.467" height="1.430" fill="#175290"/>
<rect x="391.226" y="804.900" width="14.467" height="1.430" fill="#15508d"/>
<rect x="391.226" y="806.030" width="14.467" height="1.430" fill="#144e8a"/>
<rect x="391.226" y="807.160" width="14.467" height="1.430" fill="#134c87"/>
<rect x="391.226" y="808.291" width="14.467" height="1.430" fill="#124984"/>
<rect x="391.226" y="809.421" width="14.467" height="1.430" fill="#114781"/>
<rect x="391.226" y="810.551" width="14.467" height="1.430" fill="#10457e"/>
<rect x="391.226" y="811.682" width="14.467" height="1.430" fill="#0f437b"/>
<rect x="391.226" y="812.812" width="14.467" height="1.430" fill="#0e4179"/>
<rect x="391.226" y="813.942" width="14.467" height="1.430" fill="#0d3f76"/>
<rect x="391.226" y="815.072" width="14.467" height="1.430" fill="#0c3d73"/>
<rect x="391.226" y="816.203" width="14.467" height="1.430" fill="#0a3b70"/>
<rect x="391.226" y="817.333" width="14.467" height="1.430" fill="#09386d"/>
<rect x="391.226" y="818.463" width="14.467" height="1.430" fill="#08366a"/>
<rect x="391.226" y="819.593" width="14.467" height="1.430" fill="#073467"/>
<rect x="391.226" y="820.724" width="14.467" height="1.430" fill="#063264"/>
<rect x="391.226" y="821.854" width="14.467" height="1.430" fill="#053061"/>
</g>
   <g id="matplotlib.axis_9"/>
   <g id="matplotlib.axis_10">
    <g id="ytick_55">
     <g id="line2d_212">
      
      <g>
       <path d="M 0 0 L 3.5 0" transform="translate(405.6936 822.984)" style="stroke: #000000; stroke-width: 0.8; stroke: #000000; stroke-width: 0.8"/>
      </g>
     </g>
     <g id="text_118">
      <text style="font-size: 10px; font-family: 'DejaVu Sans', 'Liberation Sans', sans-serif; text-anchor: start" x="412.6936" y="826.783219" transform="rotate(-0 412.6936 826.783219)">−1.00</text>
     </g>
    </g>
    <g id="ytick_56">
     <g id="line2d_213">
      <g>
       <path d="M 0 0 L 3.5 0" transform="translate(405.6936 786.816)" style="stroke: #000000; stroke-width: 0.8; stroke: #000000; stroke-width: 0.8"/>
      </g>
     </g>
     <g id="text_119">
      <text style="font-size: 10px; font-family: 'DejaVu Sans', 'Liberation Sans', sans-serif; text-anchor: start" x="412.6936" y="790.615219" transform="rotate(-0 412.6936 790.615219)">−0.75</text>
     </g>
    </g>
    <g id="ytick_57">
     <g id="line2d_214">
      <g>
       <path d="M 0 0 L 3.5 0" transform="translate(405.6936 750.648)" style="stroke: #000000; stroke-width: 0.8; stroke: #000000; stroke-width: 0.8"/>
      </g>
     </g>
     <g id="text_120">
      <text style="font-size: 10px; font-family: 'DejaVu Sans', 'Liberation Sans', sans-serif; text-anchor: start" x="412.6936" y="754.447219" transform="rotate(-0 412.6936 754.447219)">−0.50</text>
     </g>
    </g>
    <g id="ytick_58">
     <g id="line2d_215">
      <g>
       <path d="M 0 0 L 3.5 0" transform="translate(405.6936 714.48)" style="stroke: #000000; stroke-width: 0.8; stroke: #000000; stroke-width: 0.8"/>
      </g>
     </g>
     <g id="text_121">
      <text style="font-size: 10px; font-family: 'DejaVu Sans', 'Liberation Sans', sans-serif; text-anchor: start" x="412.6936" y="718.279219" transform="rotate(-0 412.6936 718.279219)">−0.25</text>
     </g>
    </g>
    <g id="ytick_59">
     <g id="line2d_216">
      <g>
       <path d="M 0 0 L 3.5 0" transform="translate(405.6936 678.312)" style="stroke: #000000; stroke-width: 0.8; stroke: #000000; stroke-width: 0.8"/>
      </g>
     </g>
     <g id="text_122">
      <text style="font-size: 10px; font-family: 'DejaVu Sans', 'Liberation Sans', sans-serif; text-anchor: start" x="412.6936" y="682.111219" transform="rotate(-0 412.6936 682.111219)">0.00</text>
     </g>
    </g>
    <g id="ytick_60">
     <g id="line2d_217">
      <g>
       <path d="M 0 0 L 3.5 0" transform="translate(405.6936 642.144)" style="stroke: #000000; stroke-width: 0.8; stroke: #000000; stroke-width: 0.8"/>
      </g>
     </g>
     <g id="text_123">
      <text style="font-size: 10px; font-family: 'DejaVu Sans', 'Liberation Sans', sans-serif; text-anchor: start" x="412.6936" y="645.943219" transform="rotate(-0 412.6936 645.943219)">0.25</text>
     </g>
    </g>
    <g id="ytick_61">
     <g id="line2d_218">
      <g>
       <path d="M 0 0 L 3.5 0" transform="translate(405.6936 605.976)" style="stroke: #000000; stroke-width: 0.8; stroke: #000000; stroke-width: 0.8"/>
      </g>
     </g>
     <g id="text_124">
      <text style="font-size: 10px; font-family: 'DejaVu Sans', 'Liberation Sans', sans-serif; text-anchor: start" x="412.6936" y="609.775219" transform="rotate(-0 412.6936 609.775219)">0.50</text>
     </g>
    </g>
    <g id="ytick_62">
     <g id="line2d_219">
      <g>
       <path d="M 0 0 L 3.5 0" transform="translate(405.6936 569.808)" style="stroke: #000000; stroke-width: 0.8; stroke: #000000; stroke-width: 0.8"/>
      </g>
     </g>
     <g id="text_125">
      <text style="font-size: 10px; font-family: 'DejaVu Sans', 'Liberation Sans', sans-serif; text-anchor: start" x="412.6936" y="573.607219" transform="rotate(-0 412.6936 573.607219)">0.75</text>
     </g>
    </g>
    <g id="ytick_63">
     <g id="line2d_220">
      <g>
       <path d="M 0 0 L 3.5 0" transform="translate(405.6936 533.64)" style="stroke: #000000; stroke-width: 0.8; stroke: #000000; stroke-width: 0.8"/>
      </g>
     </g>
     <g id="text_126">
      <text style="font-size: 10px; font-family: 'DejaVu Sans', 'Liberation Sans', sans-serif; text-anchor: start" x="412.6936" y="537.439219" transform="rotate(-0 412.6936 537.439219)">1.00</text>
     </g>
    </g>
    <g id="text_127">
     <text style="font-size: 10px; font-family: 'DejaVu Sans', 'Liberation Sans', sans-serif; text-anchor: middle" x="454.4573" y="678.7920" transform="rotate(-90 454.4573 678.7920)">Cosine Similarity</text>
    </g>
   </g>
   <g id="patch_26">
    <path d="M 391.2264 822.984 
L 391.2264 533.64 
" style="fill: none; stroke: #000000; stroke-width: 0.8; stroke-linejoin: miter; stroke-linecap: square"/>
   </g>
   <g id="patch_27">
    <path d="M 405.6936 822.984 
L 405.6936 533.64 
" style="fill: none; stroke: #000000; stroke-width: 0.8; stroke-linejoin: miter; stroke-linecap: square"/>
   </g>
   <g id="patch_28">
    <path d="M 391.2264 822.984 
L 405.6936 822.984 
" style="fill: none; stroke: #000000; stroke-width: 0.8; stroke-linejoin: miter; stroke-linecap: square"/>
   </g>
   <g id="patch_29">
    <path d="M 391.2264 533.64 
L 405.6936 533.64 
" style="fill: none; stroke: #000000; stroke-width: 0.8; stroke-linejoin: miter; stroke-linecap: square"/>
   </g>
  </g>
  <g id="axes_6">
   <g id="patch_30">
    <path d="M 533.808 859.152 
L 844.1952 859.152 
L 844.1952 497.472 
L 533.808 497.472 
z
" style="fill: #ffffff"/>
   </g>
   <g id="HM_e" shape-rendering="crispEdges">
<rect x="533.808" y="497.472" width="8.672" height="10.097" fill="#67001f"/>
<rect x="542.430" y="497.472" width="8.672" height="10.097" fill="#790622"/>
<rect x="551.052" y="497.472" width="17.294" height="10.097" fill="#8d0c25"/>
<rect x="568.295" y="497.472" width="8.672" height="10.097" fill="#700320"/>
<rect x="576.917" y="497.472" width="8.672" height="10.097" fill="#790622"/>
<rect x="585.539" y="497.472" width="8.672" height="10.097" fill="#e7f0f4"/>
<rect x="594.161" y="497.472" width="8.672" height="10.097" fill="#edf2f5"/>
<rect x="602.783" y="497.472" width="8.672" height="10.097" fill="#f0f4f6"/>
<rect x="611.405" y="497.472" width="8.672" height="10.097" fill="#fcdecd"/>
<rect x="620.027" y="497.472" width="8.672" height="10.097" fill="#fbe6da"/>
<rect x="628.649" y="497.472" width="8.672" height="10.097" fill="#e4eef4"/>
<rect x="637.270" y="497.472" width="8.672" height="10.097" fill="#9bc9e0"/>
<rect x="645.892" y="497.472" width="8.672" height="10.097" fill="#90c4dd"/>
<rect x="654.514" y="497.472" width="8.672" height="10.097" fill="#b8d8e9"/>
<rect x="663.136" y="497.472" width="8.672" height="10.097" fill="#6bacd1"/>
<rect x="671.758" y="497.472" width="8.672" height="10.097" fill="#dae9f2"/>
<rect x="680.380" y="497.472" width="8.672" height="10.097" fill="#6bacd1"/>
<rect x="689.002" y="497.472" width="8.672" height="10.097" fill="#90c4dd"/>
<rect x="697.623" y="497.472" width="8.672" height="10.097" fill="#e0ecf3"/>
<rect x="706.245" y="497.472" width="8.672" height="10.097" fill="#62a7ce"/>
<rect x="714.867" y="497.472" width="8.672" height="10.097" fill="#65a9cf"/>
<rect x="723.489" y="497.472" width="8.672" height="10.097" fill="#d1e5f0"/>
<rect x="732.111" y="497.472" width="8.672" height="10.097" fill="#62a7ce"/>
<rect x="740.733" y="497.472" width="8.672" height="10.097" fill="#f8f3f0"/>
<rect x="749.355" y="497.472" width="8.672" height="10.097" fill="#f7f5f4"/>
<rect x="757.977" y="497.472" width="8.672" height="10.097" fill="#f5f6f7"/>
<rect x="766.598" y="497.472" width="8.672" height="10.097" fill="#fae9df"/>
<rect x="775.220" y="497.472" width="8.672" height="10.097" fill="#f9ede5"/>
<rect x="783.842" y="497.472" width="8.672" height="10.097" fill="#e37e64"/>
<rect x="792.464" y="497.472" width="8.672" height="10.097" fill="#0c3d73"/>
<rect x="801.086" y="497.472" width="8.672" height="10.097" fill="#2065ab"/>
<rect x="809.708" y="497.472" width="8.672" height="10.097" fill="#8ac0db"/>
<rect x="818.330" y="497.472" width="8.672" height="10.097" fill="#f7f6f6"/>
<rect x="826.951" y="497.472" width="8.672" height="10.097" fill="#f0f4f6"/>
<rect x="835.573" y="497.472" width="8.672" height="10.097" fill="#96c7df"/>
<rect x="533.808" y="507.519" width="8.672" height="10.097" fill="#790622"/>
<rect x="542.430" y="507.519" width="8.672" height="10.097" fill="#67001f"/>
<rect x="551.052" y="507.519" width="8.672" height="10.097" fill="#930e26"/>
<rect x="559.674" y="507.519" width="8.672" height="10.097" fill="#b72230"/>
<rect x="568.295" y="507.519" width="17.294" height="10.097" fill="#700320"/>
<rect x="585.539" y="507.519" width="8.672" height="10.097" fill="#fbd0b9"/>
<rect x="594.161" y="507.519" width="8.672" height="10.097" fill="#fcdecd"/>
<rect x="602.783" y="507.519" width="8.672" height="10.097" fill="#fdddcb"/>
<rect x="611.405" y="507.519" width="8.672" height="10.097" fill="#f2a17f"/>
<rect x="620.027" y="507.519" width="8.672" height="10.097" fill="#ef9979"/>
<rect x="628.649" y="507.519" width="8.672" height="10.097" fill="#f9f0eb"/>
<rect x="637.270" y="507.519" width="8.672" height="10.097" fill="#3f8ec0"/>
<rect x="645.892" y="507.519" width="8.672" height="10.097" fill="#3b88be"/>
<rect x="654.514" y="507.519" width="8.672" height="10.097" fill="#569fc9"/>
<rect x="663.136" y="507.519" width="8.672" height="10.097" fill="#2a71b2"/>
<rect x="671.758" y="507.519" width="8.672" height="10.097" fill="#90c4dd"/>
<rect x="680.380" y="507.519" width="8.672" height="10.097" fill="#327cb7"/>
<rect x="689.002" y="507.519" width="8.672" height="10.097" fill="#e0ecf3"/>
<rect x="697.623" y="507.519" width="8.672" height="10.097" fill="#fcdecd"/>
<rect x="706.245" y="507.519" width="17.294" height="10.097" fill="#c7e0ed"/>
<rect x="723.489" y="507.519" width="8.672" height="10.097" fill="#fae7dc"/>
<rect x="732.111" y="507.519" width="8.672" height="10.097" fill="#b8d8e9"/>
<rect x="740.733" y="507.519" width="17.294" height="10.097" fill="#cce2ef"/>
<rect x="757.977" y="507.519" width="8.672" height="10.097" fill="#c7e0ed"/>
<rect x="766.598" y="507.519" width="8.672" height="10.097" fill="#dae9f2"/>
<rect x="775.220" y="507.519" width="8.672" height="10.097" fill="#d7e8f1"/>
<rect x="783.842" y="507.519" width="8.672" height="10.097" fill="#f5a886"/>
<rect x="792.464" y="507.519" width="8.672" height="10.097" fill="#08366a"/>
<rect x="801.086" y="507.519" width="8.672" height="10.097" fill="#134c87"/>
<rect x="809.708" y="507.519" width="8.672" height="10.097" fill="#4997c5"/>
<rect x="818.330" y="507.519" width="8.672" height="10.097" fill="#e6eff4"/>
<rect x="826.951" y="507.519" width="8.672" height="10.097" fill="#c5dfec"/>
<rect x="835.573" y="507.519" width="8.672" height="10.097" fill="#569fc9"/>
<rect x="533.808" y="517.565" width="8.672" height="10.097" fill="#8d0c25"/>
<rect x="542.430" y="517.565" width="8.672" height="10.097" fill="#930e26"/>
<rect x="551.052" y="517.565" width="8.672" height="10.097" fill="#67001f"/>
<rect x="559.674" y="517.565" width="8.672" height="10.097" fill="#900d26"/>
<rect x="568.295" y="517.565" width="8.672" height="10.097" fill="#840924"/>
<rect x="576.917" y="517.565" width="8.672" height="10.097" fill="#b1182b"/>
<rect x="585.539" y="517.565" width="8.672" height="10.097" fill="#fbe4d6"/>
<rect x="594.161" y="517.565" width="8.672" height="10.097" fill="#f7b799"/>
<rect x="602.783" y="517.565" width="8.672" height="10.097" fill="#f6b394"/>
<rect x="611.405" y="517.565" width="8.672" height="10.097" fill="#e58368"/>
<rect x="620.027" y="517.565" width="8.672" height="10.097" fill="#f8bfa4"/>
<rect x="628.649" y="517.565" width="8.672" height="10.097" fill="#f7b799"/>
<rect x="637.270" y="517.565" width="8.672" height="10.097" fill="#b8d8e9"/>
<rect x="645.892" y="517.565" width="8.672" height="10.097" fill="#9bc9e0"/>
<rect x="654.514" y="517.565" width="8.672" height="10.097" fill="#b1d5e7"/>
<rect x="663.136" y="517.565" width="8.672" height="10.097" fill="#6bacd1"/>
<rect x="671.758" y="517.565" width="8.672" height="10.097" fill="#f2f5f6"/>
<rect x="680.380" y="517.565" width="8.672" height="10.097" fill="#a9d1e5"/>
<rect x="689.002" y="517.565" width="8.672" height="10.097" fill="#90c4dd"/>
<rect x="697.623" y="517.565" width="8.672" height="10.097" fill="#d7e8f1"/>
<rect x="706.245" y="517.565" width="17.294" height="10.097" fill="#7eb8d7"/>
<rect x="723.489" y="517.565" width="8.672" height="10.097" fill="#bddbea"/>
<rect x="732.111" y="517.565" width="8.672" height="10.097" fill="#4f9bc7"/>
<rect x="740.733" y="517.565" width="17.294" height="10.097" fill="#a7d0e4"/>
<rect x="757.977" y="517.565" width="8.672" height="10.097" fill="#9bc9e0"/>
<rect x="766.598" y="517.565" width="17.294" height="10.097" fill="#b1d5e7"/>
<rect x="783.842" y="517.565" width="8.672" height="10.097" fill="#fbe6da"/>
<rect x="792.464" y="517.565" width="8.672" height="10.097" fill="#2a71b2"/>
<rect x="801.086" y="517.565" width="8.672" height="10.097" fill="#408fc1"/>
<rect x="809.708" y="517.565" width="8.672" height="10.097" fill="#d2e6f0"/>
<rect x="818.330" y="517.565" width="8.672" height="10.097" fill="#f6b394"/>
<rect x="826.951" y="517.565" width="8.672" height="10.097" fill="#fdd9c4"/>
<rect x="835.573" y="517.565" width="8.672" height="10.097" fill="#ddebf2"/>
<rect x="533.808" y="527.612" width="8.672" height="10.097" fill="#8d0c25"/>
<rect x="542.430" y="527.612" width="8.672" height="10.097" fill="#b72230"/>
<rect x="551.052" y="527.612" width="8.672" height="10.097" fill="#900d26"/>
<rect x="559.674" y="527.612" width="8.672" height="10.097" fill="#67001f"/>
<rect x="568.295" y="527.612" width="8.672" height="10.097" fill="#900d26"/>
<rect x="576.917" y="527.612" width="8.672" height="10.097" fill="#be3036"/>
<rect x="585.539" y="527.612" width="8.672" height="10.097" fill="#b8d8e9"/>
<rect x="594.161" y="527.612" width="8.672" height="10.097" fill="#f7f6f6"/>
<rect x="602.783" y="527.612" width="8.672" height="10.097" fill="#f7f5f4"/>
<rect x="611.405" y="527.612" width="8.672" height="10.097" fill="#fbe6da"/>
<rect x="620.027" y="527.612" width="8.672" height="10.097" fill="#e0ecf3"/>
<rect x="628.649" y="527.612" width="8.672" height="10.097" fill="#f9f0eb"/>
<rect x="637.270" y="527.612" width="8.672" height="10.097" fill="#f7f6f6"/>
<rect x="645.892" y="527.612" width="8.672" height="10.097" fill="#e9f0f4"/>
<rect x="654.514" y="527.612" width="8.672" height="10.097" fill="#f9f0eb"/>
<rect x="663.136" y="527.612" width="8.672" height="10.097" fill="#d5e7f1"/>
<rect x="671.758" y="527.612" width="8.672" height="10.097" fill="#fbceb7"/>
<rect x="680.380" y="527.612" width="8.672" height="10.097" fill="#e4eef4"/>
<rect x="689.002" y="527.612" width="8.672" height="10.097" fill="#3480b9"/>
<rect x="697.623" y="527.612" width="8.672" height="10.097" fill="#78b4d5"/>
<rect x="706.245" y="527.612" width="8.672" height="10.097" fill="#2a71b2"/>
<rect x="714.867" y="527.612" width="8.672" height="10.097" fill="#2870b1"/>
<rect x="723.489" y="527.612" width="8.672" height="10.097" fill="#4f9bc7"/>
<rect x="732.111" y="527.612" width="8.672" height="10.097" fill="#2065ab"/>
<rect x="740.733" y="527.612" width="8.672" height="10.097" fill="#f8f3f0"/>
<rect x="749.355" y="527.612" width="8.672" height="10.097" fill="#f5f6f7"/>
<rect x="757.977" y="527.612" width="8.672" height="10.097" fill="#eff3f5"/>
<rect x="766.598" y="527.612" width="17.294" height="10.097" fill="#f8f4f2"/>
<rect x="783.842" y="527.612" width="8.672" height="10.097" fill="#f7b799"/>
<rect x="792.464" y="527.612" width="8.672" height="10.097" fill="#3480b9"/>
<rect x="801.086" y="527.612" width="8.672" height="10.097" fill="#6bacd1"/>
<rect x="809.708" y="527.612" width="8.672" height="10.097" fill="#f5f6f7"/>
<rect x="818.330" y="527.612" width="17.294" height="10.097" fill="#f5a886"/>
<rect x="835.573" y="527.612" width="8.672" height="10.097" fill="#f8f4f2"/>
<rect x="533.808" y="537.659" width="17.294" height="10.097" fill="#700320"/>
<rect x="551.052" y="537.659" width="8.672" height="10.097" fill="#840924"/>
<rect x="559.674" y="537.659" width="8.672" height="10.097" fill="#900d26"/>
<rect x="568.295" y="537.659" width="8.672" height="10.097" fill="#67001f"/>
<rect x="576.917" y="537.659" width="8.672" height="10.097" fill="#790622"/>
<rect x="585.539" y="537.659" width="8.672" height="10.097" fill="#f7f5f4"/>
<rect x="594.161" y="537.659" width="8.672" height="10.097" fill="#f9f0eb"/>
<rect x="602.783" y="537.659" width="8.672" height="10.097" fill="#f9eee7"/>
<rect x="611.405" y="537.659" width="8.672" height="10.097" fill="#f9c4a9"/>
<rect x="620.027" y="537.659" width="8.672" height="10.097" fill="#fddbc7"/>
<rect x="628.649" y="537.659" width="8.672" height="10.097" fill="#f7f5f4"/>
<rect x="637.270" y="537.659" width="8.672" height="10.097" fill="#87beda"/>
<rect x="645.892" y="537.659" width="8.672" height="10.097" fill="#78b4d5"/>
<rect x="654.514" y="537.659" width="8.672" height="10.097" fill="#a9d1e5"/>
<rect x="663.136" y="537.659" width="8.672" height="10.097" fill="#569fc9"/>
<rect x="671.758" y="537.659" width="8.672" height="10.097" fill="#dae9f2"/>
<rect x="680.380" y="537.659" width="8.672" height="10.097" fill="#62a7ce"/>
<rect x="689.002" y="537.659" width="8.672" height="10.097" fill="#9bc9e0"/>
<rect x="697.623" y="537.659" width="8.672" height="10.097" fill="#edf2f5"/>
<rect x="706.245" y="537.659" width="17.294" height="10.097" fill="#7eb8d7"/>
<rect x="723.489" y="537.659" width="8.672" height="10.097" fill="#d7e8f1"/>
<rect x="732.111" y="537.659" width="8.672" height="10.097" fill="#71b0d3"/>
<rect x="740.733" y="537.659" width="17.294" height="10.097" fill="#e7f0f4"/>
<rect x="757.977" y="537.659" width="8.672" height="10.097" fill="#e1edf3"/>
<rect x="766.598" y="537.659" width="17.294" height="10.097" fill="#eff3f5"/>
<rect x="783.842" y="537.659" width="8.672" height="10.097" fill="#ef9979"/>
<rect x="792.464" y="537.659" width="8.672" height="10.097" fill="#10457e"/>
<rect x="801.086" y="537.659" width="8.672" height="10.097" fill="#2065ab"/>
<rect x="809.708" y="537.659" width="8.672" height="10.097" fill="#8dc2dc"/>
<rect x="818.330" y="537.659" width="8.672" height="10.097" fill="#f8f1ed"/>
<rect x="826.951" y="537.659" width="8.672" height="10.097" fill="#f2f5f6"/>
<rect x="835.573" y="537.659" width="8.672" height="10.097" fill="#9dcbe1"/>
<rect x="533.808" y="547.705" width="8.672" height="10.097" fill="#790622"/>
<rect x="542.430" y="547.705" width="8.672" height="10.097" fill="#700320"/>
<rect x="551.052" y="547.705" width="8.672" height="10.097" fill="#b1182b"/>
<rect x="559.674" y="547.705" width="8.672" height="10.097" fill="#be3036"/>
<rect x="568.295" y="547.705" width="8.672" height="10.097" fill="#790622"/>
<rect x="576.917" y="547.705" width="8.672" height="10.097" fill="#67001f"/>
<rect x="585.539" y="547.705" width="8.672" height="10.097" fill="#fae9df"/>
<rect x="594.161" y="547.705" width="8.672" height="10.097" fill="#e9f0f4"/>
<rect x="602.783" y="547.705" width="8.672" height="10.097" fill="#edf2f5"/>
<rect x="611.405" y="547.705" width="8.672" height="10.097" fill="#fddbc7"/>
<rect x="620.027" y="547.705" width="8.672" height="10.097" fill="#f8bfa4"/>
<rect x="628.649" y="547.705" width="8.672" height="10.097" fill="#d5e7f1"/>
<rect x="637.270" y="547.705" width="17.294" height="10.097" fill="#3f8ec0"/>
<rect x="654.514" y="547.705" width="8.672" height="10.097" fill="#6bacd1"/>
<rect x="663.136" y="547.705" width="8.672" height="10.097" fill="#327cb7"/>
<rect x="671.758" y="547.705" width="8.672" height="10.097" fill="#87beda"/>
<rect x="680.380" y="547.705" width="8.672" height="10.097" fill="#2a71b2"/>
<rect x="689.002" y="547.705" width="8.672" height="10.097" fill="#e0ecf3"/>
<rect x="697.623" y="547.705" width="8.672" height="10.097" fill="#fcdfcf"/>
<rect x="706.245" y="547.705" width="8.672" height="10.097" fill="#b1d5e7"/>
<rect x="714.867" y="547.705" width="8.672" height="10.097" fill="#bddbea"/>
<rect x="723.489" y="547.705" width="8.672" height="10.097" fill="#fae7dc"/>
<rect x="732.111" y="547.705" width="8.672" height="10.097" fill="#c2ddec"/>
<rect x="740.733" y="547.705" width="8.672" height="10.097" fill="#f7f6f6"/>
<rect x="749.355" y="547.705" width="8.672" height="10.097" fill="#f7f5f4"/>
<rect x="757.977" y="547.705" width="8.672" height="10.097" fill="#f7f6f6"/>
<rect x="766.598" y="547.705" width="8.672" height="10.097" fill="#fae9df"/>
<rect x="775.220" y="547.705" width="8.672" height="10.097" fill="#f9eee7"/>
<rect x="783.842" y="547.705" width="8.672" height="10.097" fill="#d6604d"/>
<rect x="792.464" y="547.705" width="8.672" height="10.097" fill="#053061"/>
<rect x="801.086" y="547.705" width="8.672" height="10.097" fill="#08366a"/>
<rect x="809.708" y="547.705" width="8.672" height="10.097" fill="#3885bc"/>
<rect x="818.330" y="547.705" width="8.672" height="10.097" fill="#b8d8e9"/>
<rect x="826.951" y="547.705" width="8.672" height="10.097" fill="#a7d0e4"/>
<rect x="835.573" y="547.705" width="8.672" height="10.097" fill="#3b88be"/>
<rect x="533.808" y="557.752" width="8.672" height="10.097" fill="#e7f0f4"/>
<rect x="542.430" y="557.752" width="8.672" height="10.097" fill="#fbd0b9"/>
<rect x="551.052" y="557.752" width="8.672" height="10.097" fill="#fbe4d6"/>
<rect x="559.674" y="557.752" width="8.672" height="10.097" fill="#b8d8e9"/>
<rect x="568.295" y="557.752" width="8.672" height="10.097" fill="#f7f5f4"/>
<rect x="576.917" y="557.752" width="8.672" height="10.097" fill="#fae9df"/>
<rect x="585.539" y="557.752" width="8.672" height="10.097" fill="#67001f"/>
<rect x="594.161" y="557.752" width="8.672" height="10.097" fill="#b41c2d"/>
<rect x="602.783" y="557.752" width="8.672" height="10.097" fill="#b1182b"/>
<rect x="611.405" y="557.752" width="8.672" height="10.097" fill="#991027"/>
<rect x="620.027" y="557.752" width="8.672" height="10.097" fill="#6d0220"/>
<rect x="628.649" y="557.752" width="8.672" height="10.097" fill="#cf5246"/>
<rect x="637.270" y="557.752" width="8.672" height="10.097" fill="#3681ba"/>
<rect x="645.892" y="557.752" width="8.672" height="10.097" fill="#2369ad"/>
<rect x="654.514" y="557.752" width="8.672" height="10.097" fill="#185493"/>
<rect x="663.136" y="557.752" width="8.672" height="10.097" fill="#276eb0"/>
<rect x="671.758" y="557.752" width="8.672" height="10.097" fill="#2b73b3"/>
<rect x="680.380" y="557.752" width="8.672" height="10.097" fill="#569fc9"/>
<rect x="689.002" y="557.752" width="8.672" height="10.097" fill="#b41c2d"/>
<rect x="697.623" y="557.752" width="8.672" height="10.097" fill="#a81529"/>
<rect x="706.245" y="557.752" width="8.672" height="10.097" fill="#ae172a"/>
<rect x="714.867" y="557.752" width="8.672" height="10.097" fill="#b41c2d"/>
<rect x="723.489" y="557.752" width="8.672" height="10.097" fill="#ba2832"/>
<rect x="732.111" y="557.752" width="8.672" height="10.097" fill="#c84440"/>
<rect x="740.733" y="557.752" width="8.672" height="10.097" fill="#185493"/>
<rect x="749.355" y="557.752" width="8.672" height="10.097" fill="#1c5c9f"/>
<rect x="757.977" y="557.752" width="8.672" height="10.097" fill="#1d5fa2"/>
<rect x="766.598" y="557.752" width="8.672" height="10.097" fill="#2065ab"/>
<rect x="775.220" y="557.752" width="8.672" height="10.097" fill="#1d5fa2"/>
<rect x="783.842" y="557.752" width="8.672" height="10.097" fill="#569fc9"/>
<rect x="792.464" y="557.752" width="8.672" height="10.097" fill="#e1edf3"/>
<rect x="801.086" y="557.752" width="8.672" height="10.097" fill="#c7e0ed"/>
<rect x="809.708" y="557.752" width="8.672" height="10.097" fill="#81bad8"/>
<rect x="818.330" y="557.752" width="8.672" height="10.097" fill="#e4eef4"/>
<rect x="826.951" y="557.752" width="8.672" height="10.097" fill="#78b4d5"/>
<rect x="835.573" y="557.752" width="8.672" height="10.097" fill="#9dcbe1"/>
<rect x="533.808" y="567.799" width="8.672" height="10.097" fill="#edf2f5"/>
<rect x="542.430" y="567.799" width="8.672" height="10.097" fill="#fcdecd"/>
<rect x="551.052" y="567.799" width="8.672" height="10.097" fill="#f7b799"/>
<rect x="559.674" y="567.799" width="8.672" height="10.097" fill="#f7f6f6"/>
<rect x="568.295" y="567.799" width="8.672" height="10.097" fill="#f9f0eb"/>
<rect x="576.917" y="567.799" width="8.672" height="10.097" fill="#e9f0f4"/>
<rect x="585.539" y="567.799" width="8.672" height="10.097" fill="#b41c2d"/>
<rect x="594.161" y="567.799" width="17.294" height="10.097" fill="#67001f"/>
<rect x="611.405" y="567.799" width="8.672" height="10.097" fill="#730421"/>
<rect x="620.027" y="567.799" width="8.672" height="10.097" fill="#be3036"/>
<rect x="628.649" y="567.799" width="8.672" height="10.097" fill="#6d0220"/>
<rect x="637.270" y="567.799" width="8.672" height="10.097" fill="#d4e6f1"/>
<rect x="645.892" y="567.799" width="8.672" height="10.097" fill="#90c4dd"/>
<rect x="654.514" y="567.799" width="8.672" height="10.097" fill="#75b2d4"/>
<rect x="663.136" y="567.799" width="8.672" height="10.097" fill="#81bad8"/>
<rect x="671.758" y="567.799" width="8.672" height="10.097" fill="#d4e6f1"/>
<rect x="680.380" y="567.799" width="8.672" height="10.097" fill="#f5f6f7"/>
<rect x="689.002" y="567.799" width="17.294" height="10.097" fill="#f8bfa4"/>
<rect x="706.245" y="567.799" width="8.672" height="10.097" fill="#ee9677"/>
<rect x="714.867" y="567.799" width="8.672" height="10.097" fill="#f5a886"/>
<rect x="723.489" y="567.799" width="8.672" height="10.097" fill="#fcd5bf"/>
<rect x="732.111" y="567.799" width="8.672" height="10.097" fill="#fddbc7"/>
<rect x="740.733" y="567.799" width="43.159" height="10.097" fill="#053061"/>
<rect x="783.842" y="567.799" width="8.672" height="10.097" fill="#1a5899"/>
<rect x="792.464" y="567.799" width="25.916" height="10.097" fill="#fae7dc"/>
<rect x="818.330" y="567.799" width="8.672" height="10.097" fill="#e37e64"/>
<rect x="826.951" y="567.799" width="8.672" height="10.097" fill="#fcdfcf"/>
<rect x="835.573" y="567.799" width="8.672" height="10.097" fill="#fdd9c4"/>
<rect x="533.808" y="577.845" width="8.672" height="10.097" fill="#f0f4f6"/>
<rect x="542.430" y="577.845" width="8.672" height="10.097" fill="#fdddcb"/>
<rect x="551.052" y="577.845" width="8.672" height="10.097" fill="#f6b394"/>
<rect x="559.674" y="577.845" width="8.672" height="10.097" fill="#f7f5f4"/>
<rect x="568.295" y="577.845" width="8.672" height="10.097" fill="#f9eee7"/>
<rect x="576.917" y="577.845" width="8.672" height="10.097" fill="#edf2f5"/>
<rect x="585.539" y="577.845" width="8.672" height="10.097" fill="#b1182b"/>
<rect x="594.161" y="577.845" width="17.294" height="10.097" fill="#67001f"/>
<rect x="611.405" y="577.845" width="8.672" height="10.097" fill="#700320"/>
<rect x="620.027" y="577.845" width="8.672" height="10.097" fill="#bb2a34"/>
<rect x="628.649" y="577.845" width="8.672" height="10.097" fill="#700320"/>
<rect x="637.270" y="577.845" width="8.672" height="10.097" fill="#cae1ee"/>
<rect x="645.892" y="577.845" width="8.672" height="10.097" fill="#87beda"/>
<rect x="654.514" y="577.845" width="8.672" height="10.097" fill="#6eaed2"/>
<rect x="663.136" y="577.845" width="8.672" height="10.097" fill="#7bb6d6"/>
<rect x="671.758" y="577.845" width="8.672" height="10.097" fill="#cae1ee"/>
<rect x="680.380" y="577.845" width="8.672" height="10.097" fill="#ecf2f5"/>
<rect x="689.002" y="577.845" width="8.672" height="10.097" fill="#f8bda1"/>
<rect x="697.623" y="577.845" width="8.672" height="10.097" fill="#f8bb9e"/>
<rect x="706.245" y="577.845" width="8.672" height="10.097" fill="#ee9677"/>
<rect x="714.867" y="577.845" width="8.672" height="10.097" fill="#f4a683"/>
<rect x="723.489" y="577.845" width="8.672" height="10.097" fill="#fcd3bc"/>
<rect x="732.111" y="577.845" width="8.672" height="10.097" fill="#fddbc7"/>
<rect x="740.733" y="577.845" width="43.159" height="10.097" fill="#053061"/>
<rect x="783.842" y="577.845" width="8.672" height="10.097" fill="#1d5fa2"/>
<rect x="792.464" y="577.845" width="25.916" height="10.097" fill="#f9ede5"/>
<rect x="818.330" y="577.845" width="8.672" height="10.097" fill="#e8896c"/>
<rect x="826.951" y="577.845" width="8.672" height="10.097" fill="#fce0d0"/>
<rect x="835.573" y="577.845" width="8.672" height="10.097" fill="#fddcc9"/>
<rect x="533.808" y="587.892" width="8.672" height="10.097" fill="#fcdecd"/>
<rect x="542.430" y="587.892" width="8.672" height="10.097" fill="#f2a17f"/>
<rect x="551.052" y="587.892" width="8.672" height="10.097" fill="#e58368"/>
<rect x="559.674" y="587.892" width="8.672" height="10.097" fill="#fbe6da"/>
<rect x="568.295" y="587.892" width="8.672" height="10.097" fill="#f9c4a9"/>
<rect x="576.917" y="587.892" width="8.672" height="10.097" fill="#fddbc7"/>
<rect x="585.539" y="587.892" width="8.672" height="10.097" fill="#991027"/>
<rect x="594.161" y="587.892" width="8.672" height="10.097" fill="#730421"/>
<rect x="602.783" y="587.892" width="8.672" height="10.097" fill="#700320"/>
<rect x="611.405" y="587.892" width="8.672" height="10.097" fill="#67001f"/>
<rect x="620.027" y="587.892" width="17.294" height="10.097" fill="#960f27"/>
<rect x="637.270" y="587.892" width="8.672" height="10.097" fill="#7eb8d7"/>
<rect x="645.892" y="587.892" width="8.672" height="10.097" fill="#3e8cbf"/>
<rect x="654.514" y="587.892" width="17.294" height="10.097" fill="#3681ba"/>
<rect x="671.758" y="587.892" width="8.672" height="10.097" fill="#90c4dd"/>
<rect x="680.380" y="587.892" width="8.672" height="10.097" fill="#acd2e5"/>
<rect x="689.002" y="587.892" width="8.672" height="10.097" fill="#f5ac8b"/>
<rect x="697.623" y="587.892" width="17.294" height="10.097" fill="#ec9374"/>
<rect x="714.867" y="587.892" width="8.672" height="10.097" fill="#f2a17f"/>
<rect x="723.489" y="587.892" width="8.672" height="10.097" fill="#f6b191"/>
<rect x="732.111" y="587.892" width="8.672" height="10.097" fill="#fbd0b9"/>
<rect x="740.733" y="587.892" width="8.672" height="10.097" fill="#063264"/>
<rect x="749.355" y="587.892" width="17.294" height="10.097" fill="#073467"/>
<rect x="766.598" y="587.892" width="8.672" height="10.097" fill="#09386d"/>
<rect x="775.220" y="587.892" width="8.672" height="10.097" fill="#08366a"/>
<rect x="783.842" y="587.892" width="8.672" height="10.097" fill="#3c8abe"/>
<rect x="792.464" y="587.892" width="17.294" height="10.097" fill="#d5e7f1"/>
<rect x="809.708" y="587.892" width="8.672" height="10.097" fill="#d7e8f1"/>
<rect x="818.330" y="587.892" width="8.672" height="10.097" fill="#f8bb9e"/>
<rect x="826.951" y="587.892" width="17.294" height="10.097" fill="#f0f4f6"/>
<rect x="533.808" y="597.939" width="8.672" height="10.097" fill="#fbe6da"/>
<rect x="542.430" y="597.939" width="8.672" height="10.097" fill="#ef9979"/>
<rect x="551.052" y="597.939" width="8.672" height="10.097" fill="#f8bfa4"/>
<rect x="559.674" y="597.939" width="8.672" height="10.097" fill="#e0ecf3"/>
<rect x="568.295" y="597.939" width="8.672" height="10.097" fill="#fddbc7"/>
<rect x="576.917" y="597.939" width="8.672" height="10.097" fill="#f8bfa4"/>
<rect x="585.539" y="597.939" width="8.672" height="10.097" fill="#6d0220"/>
<rect x="594.161" y="597.939" width="8.672" height="10.097" fill="#be3036"/>
<rect x="602.783" y="597.939" width="8.672" height="10.097" fill="#bb2a34"/>
<rect x="611.405" y="597.939" width="8.672" height="10.097" fill="#960f27"/>
<rect x="620.027" y="597.939" width="8.672" height="10.097" fill="#67001f"/>
<rect x="628.649" y="597.939" width="8.672" height="10.097" fill="#d86551"/>
<rect x="637.270" y="597.939" width="8.672" height="10.097" fill="#2369ad"/>
<rect x="645.892" y="597.939" width="8.672" height="10.097" fill="#134c87"/>
<rect x="654.514" y="597.939" width="8.672" height="10.097" fill="#09386d"/>
<rect x="663.136" y="597.939" width="8.672" height="10.097" fill="#134c87"/>
<rect x="671.758" y="597.939" width="8.672" height="10.097" fill="#2369ad"/>
<rect x="680.380" y="597.939" width="8.672" height="10.097" fill="#3885bc"/>
<rect x="689.002" y="597.939" width="8.672" height="10.097" fill="#bf3338"/>
<rect x="697.623" y="597.939" width="8.672" height="10.097" fill="#a81529"/>
<rect x="706.245" y="597.939" width="8.672" height="10.097" fill="#bf3338"/>
<rect x="714.867" y="597.939" width="8.672" height="10.097" fill="#c13639"/>
<rect x="723.489" y="597.939" width="8.672" height="10.097" fill="#ba2832"/>
<rect x="732.111" y="597.939" width="8.672" height="10.097" fill="#d55d4c"/>
<rect x="740.733" y="597.939" width="8.672" height="10.097" fill="#1f63a8"/>
<rect x="749.355" y="597.939" width="8.672" height="10.097" fill="#266caf"/>
<rect x="757.977" y="597.939" width="8.672" height="10.097" fill="#276eb0"/>
<rect x="766.598" y="597.939" width="8.672" height="10.097" fill="#2b73b3"/>
<rect x="775.220" y="597.939" width="8.672" height="10.097" fill="#266caf"/>
<rect x="783.842" y="597.939" width="8.672" height="10.097" fill="#9dcbe1"/>
<rect x="792.464" y="597.939" width="8.672" height="10.097" fill="#aed3e6"/>
<rect x="801.086" y="597.939" width="8.672" height="10.097" fill="#8dc2dc"/>
<rect x="809.708" y="597.939" width="8.672" height="10.097" fill="#4393c3"/>
<rect x="818.330" y="597.939" width="8.672" height="10.097" fill="#dae9f2"/>
<rect x="826.951" y="597.939" width="8.672" height="10.097" fill="#62a7ce"/>
<rect x="835.573" y="597.939" width="8.672" height="10.097" fill="#6eaed2"/>
<rect x="533.808" y="607.985" width="8.672" height="10.097" fill="#e4eef4"/>
<rect x="542.430" y="607.985" width="8.672" height="10.097" fill="#f9f0eb"/>
<rect x="551.052" y="607.985" width="8.672" height="10.097" fill="#f7b799"/>
<rect x="559.674" y="607.985" width="8.672" height="10.097" fill="#f9f0eb"/>
<rect x="568.295" y="607.985" width="8.672" height="10.097" fill="#f7f5f4"/>
<rect x="576.917" y="607.985" width="8.672" height="10.097" fill="#d5e7f1"/>
<rect x="585.539" y="607.985" width="8.672" height="10.097" fill="#cf5246"/>
<rect x="594.161" y="607.985" width="8.672" height="10.097" fill="#6d0220"/>
<rect x="602.783" y="607.985" width="8.672" height="10.097" fill="#700320"/>
<rect x="611.405" y="607.985" width="8.672" height="10.097" fill="#960f27"/>
<rect x="620.027" y="607.985" width="8.672" height="10.097" fill="#d86551"/>
<rect x="628.649" y="607.985" width="8.672" height="10.097" fill="#67001f"/>
<rect x="637.270" y="607.985" width="8.672" height="10.097" fill="#f8f3f0"/>
<rect x="645.892" y="607.985" width="8.672" height="10.097" fill="#d2e6f0"/>
<rect x="654.514" y="607.985" width="8.672" height="10.097" fill="#bddbea"/>
<rect x="663.136" y="607.985" width="8.672" height="10.097" fill="#c7e0ed"/>
<rect x="671.758" y="607.985" width="8.672" height="10.097" fill="#f8f3f0"/>
<rect x="680.380" y="607.985" width="8.672" height="10.097" fill="#fcdecd"/>
<rect x="689.002" y="607.985" width="8.672" height="10.097" fill="#fae7dc"/>
<rect x="697.623" y="607.985" width="8.672" height="10.097" fill="#faeae1"/>
<rect x="706.245" y="607.985" width="8.672" height="10.097" fill="#f9c4a9"/>
<rect x="714.867" y="607.985" width="8.672" height="10.097" fill="#fcd5bf"/>
<rect x="723.489" y="607.985" width="8.672" height="10.097" fill="#f7f5f4"/>
<rect x="732.111" y="607.985" width="8.672" height="10.097" fill="#f8f4f2"/>
<rect x="740.733" y="607.985" width="8.672" height="10.097" fill="#0e4179"/>
<rect x="749.355" y="607.985" width="8.672" height="10.097" fill="#0c3d73"/>
<rect x="757.977" y="607.985" width="8.672" height="10.097" fill="#0a3b70"/>
<rect x="766.598" y="607.985" width="8.672" height="10.097" fill="#08366a"/>
<rect x="775.220" y="607.985" width="8.672" height="10.097" fill="#09386d"/>
<rect x="783.842" y="607.985" width="8.672" height="10.097" fill="#134c87"/>
<rect x="792.464" y="607.985" width="8.672" height="10.097" fill="#fcd7c2"/>
<rect x="801.086" y="607.985" width="8.672" height="10.097" fill="#f9c6ac"/>
<rect x="809.708" y="607.985" width="8.672" height="10.097" fill="#f7b99c"/>
<rect x="818.330" y="607.985" width="8.672" height="10.097" fill="#c6413e"/>
<rect x="826.951" y="607.985" width="8.672" height="10.097" fill="#f4a683"/>
<rect x="835.573" y="607.985" width="8.672" height="10.097" fill="#ef9979"/>
<rect x="533.808" y="618.032" width="8.672" height="10.097" fill="#9bc9e0"/>
<rect x="542.430" y="618.032" width="8.672" height="10.097" fill="#3f8ec0"/>
<rect x="551.052" y="618.032" width="8.672" height="10.097" fill="#b8d8e9"/>
<rect x="559.674" y="618.032" width="8.672" height="10.097" fill="#f7f6f6"/>
<rect x="568.295" y="618.032" width="8.672" height="10.097" fill="#87beda"/>
<rect x="576.917" y="618.032" width="8.672" height="10.097" fill="#3f8ec0"/>
<rect x="585.539" y="618.032" width="8.672" height="10.097" fill="#3681ba"/>
<rect x="594.161" y="618.032" width="8.672" height="10.097" fill="#d4e6f1"/>
<rect x="602.783" y="618.032" width="8.672" height="10.097" fill="#cae1ee"/>
<rect x="611.405" y="618.032" width="8.672" height="10.097" fill="#7eb8d7"/>
<rect x="620.027" y="618.032" width="8.672" height="10.097" fill="#2369ad"/>
<rect x="628.649" y="618.032" width="8.672" height="10.097" fill="#f8f3f0"/>
<rect x="637.270" y="618.032" width="8.672" height="10.097" fill="#67001f"/>
<rect x="645.892" y="618.032" width="8.672" height="10.097" fill="#700320"/>
<rect x="654.514" y="618.032" width="8.672" height="10.097" fill="#760521"/>
<rect x="663.136" y="618.032" width="8.672" height="10.097" fill="#790622"/>
<rect x="671.758" y="618.032" width="8.672" height="10.097" fill="#730421"/>
<rect x="680.380" y="618.032" width="8.672" height="10.097" fill="#6a011f"/>
<rect x="689.002" y="618.032" width="8.672" height="10.097" fill="#3681ba"/>
<rect x="697.623" y="618.032" width="8.672" height="10.097" fill="#195696"/>
<rect x="706.245" y="618.032" width="8.672" height="10.097" fill="#569fc9"/>
<rect x="714.867" y="618.032" width="8.672" height="10.097" fill="#4c99c6"/>
<rect x="723.489" y="618.032" width="8.672" height="10.097" fill="#1c5c9f"/>
<rect x="732.111" y="618.032" width="8.672" height="10.097" fill="#4997c5"/>
<rect x="740.733" y="618.032" width="8.672" height="10.097" fill="#f8bda1"/>
<rect x="749.355" y="618.032" width="8.672" height="10.097" fill="#f9c6ac"/>
<rect x="757.977" y="618.032" width="8.672" height="10.097" fill="#facab1"/>
<rect x="766.598" y="618.032" width="8.672" height="10.097" fill="#fdddcb"/>
<rect x="775.220" y="618.032" width="8.672" height="10.097" fill="#fbd0b9"/>
<rect x="783.842" y="618.032" width="8.672" height="10.097" fill="#bddbea"/>
<rect x="792.464" y="618.032" width="8.672" height="10.097" fill="#c84440"/>
<rect x="801.086" y="618.032" width="8.672" height="10.097" fill="#ae172a"/>
<rect x="809.708" y="618.032" width="8.672" height="10.097" fill="#790622"/>
<rect x="818.330" y="618.032" width="8.672" height="10.097" fill="#ce4f45"/>
<rect x="826.951" y="618.032" width="8.672" height="10.097" fill="#9f1228"/>
<rect x="835.573" y="618.032" width="8.672" height="10.097" fill="#870a24"/>
<rect x="533.808" y="628.079" width="8.672" height="10.097" fill="#90c4dd"/>
<rect x="542.430" y="628.079" width="8.672" height="10.097" fill="#3b88be"/>
<rect x="551.052" y="628.079" width="8.672" height="10.097" fill="#9bc9e0"/>
<rect x="559.674" y="628.079" width="8.672" height="10.097" fill="#e9f0f4"/>
<rect x="568.295" y="628.079" width="8.672" height="10.097" fill="#78b4d5"/>
<rect x="576.917" y="628.079" width="8.672" height="10.097" fill="#3f8ec0"/>
<rect x="585.539" y="628.079" width="8.672" height="10.097" fill="#2369ad"/>
<rect x="594.161" y="628.079" width="8.672" height="10.097" fill="#90c4dd"/>
<rect x="602.783" y="628.079" width="8.672" height="10.097" fill="#87beda"/>
<rect x="611.405" y="628.079" width="8.672" height="10.097" fill="#3e8cbf"/>
<rect x="620.027" y="628.079" width="8.672" height="10.097" fill="#134c87"/>
<rect x="628.649" y="628.079" width="8.672" height="10.097" fill="#d2e6f0"/>
<rect x="637.270" y="628.079" width="8.672" height="10.097" fill="#700320"/>
<rect x="645.892" y="628.079" width="25.916" height="10.097" fill="#67001f"/>
<rect x="671.758" y="628.079" width="17.294" height="10.097" fill="#840924"/>
<rect x="689.002" y="628.079" width="8.672" height="10.097" fill="#3b88be"/>
<rect x="697.623" y="628.079" width="8.672" height="10.097" fill="#1b5a9c"/>
<rect x="706.245" y="628.079" width="17.294" height="10.097" fill="#4c99c6"/>
<rect x="723.489" y="628.079" width="8.672" height="10.097" fill="#266caf"/>
<rect x="732.111" y="628.079" width="8.672" height="10.097" fill="#5ca3cb"/>
<rect x="740.733" y="628.079" width="8.672" height="10.097" fill="#e37e64"/>
<rect x="749.355" y="628.079" width="8.672" height="10.097" fill="#e98b6e"/>
<rect x="757.977" y="628.079" width="8.672" height="10.097" fill="#ea8e70"/>
<rect x="766.598" y="628.079" width="8.672" height="10.097" fill="#f2a17f"/>
<rect x="775.220" y="628.079" width="8.672" height="10.097" fill="#ec9374"/>
<rect x="783.842" y="628.079" width="8.672" height="10.097" fill="#eaf1f5"/>
<rect x="792.464" y="628.079" width="8.672" height="10.097" fill="#ce4f45"/>
<rect x="801.086" y="628.079" width="8.672" height="10.097" fill="#ba2832"/>
<rect x="809.708" y="628.079" width="8.672" height="10.097" fill="#9f1228"/>
<rect x="818.330" y="628.079" width="8.672" height="10.097" fill="#e98b6e"/>
<rect x="826.951" y="628.079" width="8.672" height="10.097" fill="#be3036"/>
<rect x="835.573" y="628.079" width="8.672" height="10.097" fill="#ae172a"/>
<rect x="533.808" y="638.125" width="8.672" height="10.097" fill="#b8d8e9"/>
<rect x="542.430" y="638.125" width="8.672" height="10.097" fill="#569fc9"/>
<rect x="551.052" y="638.125" width="8.672" height="10.097" fill="#b1d5e7"/>
<rect x="559.674" y="638.125" width="8.672" height="10.097" fill="#f9f0eb"/>
<rect x="568.295" y="638.125" width="8.672" height="10.097" fill="#a9d1e5"/>
<rect x="576.917" y="638.125" width="8.672" height="10.097" fill="#6bacd1"/>
<rect x="585.539" y="638.125" width="8.672" height="10.097" fill="#185493"/>
<rect x="594.161" y="638.125" width="8.672" height="10.097" fill="#75b2d4"/>
<rect x="602.783" y="638.125" width="8.672" height="10.097" fill="#6eaed2"/>
<rect x="611.405" y="638.125" width="8.672" height="10.097" fill="#3681ba"/>
<rect x="620.027" y="638.125" width="8.672" height="10.097" fill="#09386d"/>
<rect x="628.649" y="638.125" width="8.672" height="10.097" fill="#bddbea"/>
<rect x="637.270" y="638.125" width="8.672" height="10.097" fill="#760521"/>
<rect x="645.892" y="638.125" width="17.294" height="10.097" fill="#67001f"/>
<rect x="663.136" y="638.125" width="8.672" height="10.097" fill="#700320"/>
<rect x="671.758" y="638.125" width="8.672" height="10.097" fill="#7f0823"/>
<rect x="680.380" y="638.125" width="8.672" height="10.097" fill="#960f27"/>
<rect x="689.002" y="638.125" width="8.672" height="10.097" fill="#2c75b4"/>
<rect x="697.623" y="638.125" width="8.672" height="10.097" fill="#134c87"/>
<rect x="706.245" y="638.125" width="17.294" height="10.097" fill="#3b88be"/>
<rect x="723.489" y="638.125" width="8.672" height="10.097" fill="#1b5a9c"/>
<rect x="732.111" y="638.125" width="8.672" height="10.097" fill="#408fc1"/>
<rect x="740.733" y="638.125" width="8.672" height="10.097" fill="#d6604d"/>
<rect x="749.355" y="638.125" width="8.672" height="10.097" fill="#dc6e57"/>
<rect x="757.977" y="638.125" width="8.672" height="10.097" fill="#dd7059"/>
<rect x="766.598" y="638.125" width="8.672" height="10.097" fill="#e98b6e"/>
<rect x="775.220" y="638.125" width="8.672" height="10.097" fill="#e37e64"/>
<rect x="783.842" y="638.125" width="8.672" height="10.097" fill="#f8f1ed"/>
<rect x="792.464" y="638.125" width="8.672" height="10.097" fill="#df765e"/>
<rect x="801.086" y="638.125" width="8.672" height="10.097" fill="#cb4942"/>
<rect x="809.708" y="638.125" width="8.672" height="10.097" fill="#ae172a"/>
<rect x="818.330" y="638.125" width="8.672" height="10.097" fill="#eb9172"/>
<rect x="826.951" y="638.125" width="8.672" height="10.097" fill="#bf3338"/>
<rect x="835.573" y="638.125" width="8.672" height="10.097" fill="#bb2a34"/>
<rect x="533.808" y="648.172" width="8.672" height="10.097" fill="#6bacd1"/>
<rect x="542.430" y="648.172" width="8.672" height="10.097" fill="#2a71b2"/>
<rect x="551.052" y="648.172" width="8.672" height="10.097" fill="#6bacd1"/>
<rect x="559.674" y="648.172" width="8.672" height="10.097" fill="#d5e7f1"/>
<rect x="568.295" y="648.172" width="8.672" height="10.097" fill="#569fc9"/>
<rect x="576.917" y="648.172" width="8.672" height="10.097" fill="#327cb7"/>
<rect x="585.539" y="648.172" width="8.672" height="10.097" fill="#276eb0"/>
<rect x="594.161" y="648.172" width="8.672" height="10.097" fill="#81bad8"/>
<rect x="602.783" y="648.172" width="8.672" height="10.097" fill="#7bb6d6"/>
<rect x="611.405" y="648.172" width="8.672" height="10.097" fill="#3681ba"/>
<rect x="620.027" y="648.172" width="8.672" height="10.097" fill="#134c87"/>
<rect x="628.649" y="648.172" width="8.672" height="10.097" fill="#c7e0ed"/>
<rect x="637.270" y="648.172" width="8.672" height="10.097" fill="#790622"/>
<rect x="645.892" y="648.172" width="8.672" height="10.097" fill="#67001f"/>
<rect x="654.514" y="648.172" width="8.672" height="10.097" fill="#700320"/>
<rect x="663.136" y="648.172" width="8.672" height="10.097" fill="#67001f"/>
<rect x="671.758" y="648.172" width="8.672" height="10.097" fill="#9c1127"/>
<rect x="680.380" y="648.172" width="8.672" height="10.097" fill="#870a24"/>
<rect x="689.002" y="648.172" width="8.672" height="10.097" fill="#4c99c6"/>
<rect x="697.623" y="648.172" width="8.672" height="10.097" fill="#276eb0"/>
<rect x="706.245" y="648.172" width="17.294" height="10.097" fill="#75b2d4"/>
<rect x="723.489" y="648.172" width="8.672" height="10.097" fill="#3480b9"/>
<rect x="732.111" y="648.172" width="8.672" height="10.097" fill="#90c4dd"/>
<rect x="740.733" y="648.172" width="8.672" height="10.097" fill="#dc6e57"/>
<rect x="749.355" y="648.172" width="8.672" height="10.097" fill="#e17860"/>
<rect x="757.977" y="648.172" width="8.672" height="10.097" fill="#e37e64"/>
<rect x="766.598" y="648.172" width="8.672" height="10.097" fill="#ec9374"/>
<rect x="775.220" y="648.172" width="8.672" height="10.097" fill="#e8896c"/>
<rect x="783.842" y="648.172" width="8.672" height="10.097" fill="#edf2f5"/>
<rect x="792.464" y="648.172" width="8.672" height="10.097" fill="#c43b3c"/>
<rect x="801.086" y="648.172" width="8.672" height="10.097" fill="#b1182b"/>
<rect x="809.708" y="648.172" width="8.672" height="10.097" fill="#a81529"/>
<rect x="818.330" y="648.172" width="8.672" height="10.097" fill="#f5a886"/>
<rect x="826.951" y="648.172" width="8.672" height="10.097" fill="#ce4f45"/>
<rect x="835.573" y="648.172" width="8.672" height="10.097" fill="#bb2a34"/>
<rect x="533.808" y="658.219" width="8.672" height="10.097" fill="#dae9f2"/>
<rect x="542.430" y="658.219" width="8.672" height="10.097" fill="#90c4dd"/>
<rect x="551.052" y="658.219" width="8.672" height="10.097" fill="#f2f5f6"/>
<rect x="559.674" y="658.219" width="8.672" height="10.097" fill="#fbceb7"/>
<rect x="568.295" y="658.219" width="8.672" height="10.097" fill="#dae9f2"/>
<rect x="576.917" y="658.219" width="8.672" height="10.097" fill="#87beda"/>
<rect x="585.539" y="658.219" width="8.672" height="10.097" fill="#2b73b3"/>
<rect x="594.161" y="658.219" width="8.672" height="10.097" fill="#d4e6f1"/>
<rect x="602.783" y="658.219" width="8.672" height="10.097" fill="#cae1ee"/>
<rect x="611.405" y="658.219" width="8.672" height="10.097" fill="#90c4dd"/>
<rect x="620.027" y="658.219" width="8.672" height="10.097" fill="#2369ad"/>
<rect x="628.649" y="658.219" width="8.672" height="10.097" fill="#f8f3f0"/>
<rect x="637.270" y="658.219" width="8.672" height="10.097" fill="#730421"/>
<rect x="645.892" y="658.219" width="8.672" height="10.097" fill="#840924"/>
<rect x="654.514" y="658.219" width="8.672" height="10.097" fill="#7f0823"/>
<rect x="663.136" y="658.219" width="8.672" height="10.097" fill="#9c1127"/>
<rect x="671.758" y="658.219" width="8.672" height="10.097" fill="#67001f"/>
<rect x="680.380" y="658.219" width="8.672" height="10.097" fill="#870a24"/>
<rect x="689.002" y="658.219" width="8.672" height="10.097" fill="#195696"/>
<rect x="697.623" y="658.219" width="8.672" height="10.097" fill="#073467"/>
<rect x="706.245" y="658.219" width="8.672" height="10.097" fill="#2e77b5"/>
<rect x="714.867" y="658.219" width="8.672" height="10.097" fill="#2a71b2"/>
<rect x="723.489" y="658.219" width="8.672" height="10.097" fill="#09386d"/>
<rect x="732.111" y="658.219" width="8.672" height="10.097" fill="#2870b1"/>
<rect x="740.733" y="658.219" width="8.672" height="10.097" fill="#f7b799"/>
<rect x="749.355" y="658.219" width="8.672" height="10.097" fill="#f9c4a9"/>
<rect x="757.977" y="658.219" width="8.672" height="10.097" fill="#facab1"/>
<rect x="766.598" y="658.219" width="8.672" height="10.097" fill="#fcd5bf"/>
<rect x="775.220" y="658.219" width="8.672" height="10.097" fill="#facab1"/>
<rect x="783.842" y="658.219" width="8.672" height="10.097" fill="#ddebf2"/>
<rect x="792.464" y="658.219" width="8.672" height="10.097" fill="#eb9172"/>
<rect x="801.086" y="658.219" width="8.672" height="10.097" fill="#ce4f45"/>
<rect x="809.708" y="658.219" width="8.672" height="10.097" fill="#870a24"/>
<rect x="818.330" y="658.219" width="8.672" height="10.097" fill="#c13639"/>
<rect x="826.951" y="658.219" width="8.672" height="10.097" fill="#870a24"/>
<rect x="835.573" y="658.219" width="8.672" height="10.097" fill="#930e26"/>
<rect x="533.808" y="668.265" width="8.672" height="10.097" fill="#6bacd1"/>
<rect x="542.430" y="668.265" width="8.672" height="10.097" fill="#327cb7"/>
<rect x="551.052" y="668.265" width="8.672" height="10.097" fill="#a9d1e5"/>
<rect x="559.674" y="668.265" width="8.672" height="10.097" fill="#e4eef4"/>
<rect x="568.295" y="668.265" width="8.672" height="10.097" fill="#62a7ce"/>
<rect x="576.917" y="668.265" width="8.672" height="10.097" fill="#2a71b2"/>
<rect x="585.539" y="668.265" width="8.672" height="10.097" fill="#569fc9"/>
<rect x="594.161" y="668.265" width="8.672" height="10.097" fill="#f5f6f7"/>
<rect x="602.783" y="668.265" width="8.672" height="10.097" fill="#ecf2f5"/>
<rect x="611.405" y="668.265" width="8.672" height="10.097" fill="#acd2e5"/>
<rect x="620.027" y="668.265" width="8.672" height="10.097" fill="#3885bc"/>
<rect x="628.649" y="668.265" width="8.672" height="10.097" fill="#fcdecd"/>
<rect x="637.270" y="668.265" width="8.672" height="10.097" fill="#6a011f"/>
<rect x="645.892" y="668.265" width="8.672" height="10.097" fill="#840924"/>
<rect x="654.514" y="668.265" width="8.672" height="10.097" fill="#960f27"/>
<rect x="663.136" y="668.265" width="17.294" height="10.097" fill="#870a24"/>
<rect x="680.380" y="668.265" width="8.672" height="10.097" fill="#67001f"/>
<rect x="689.002" y="668.265" width="8.672" height="10.097" fill="#4c99c6"/>
<rect x="697.623" y="668.265" width="8.672" height="10.097" fill="#276eb0"/>
<rect x="706.245" y="668.265" width="8.672" height="10.097" fill="#9bc9e0"/>
<rect x="714.867" y="668.265" width="8.672" height="10.097" fill="#87beda"/>
<rect x="723.489" y="668.265" width="8.672" height="10.097" fill="#2c75b4"/>
<rect x="732.111" y="668.265" width="8.672" height="10.097" fill="#78b4d5"/>
<rect x="740.733" y="668.265" width="8.672" height="10.097" fill="#fce2d2"/>
<rect x="749.355" y="668.265" width="17.294" height="10.097" fill="#fae9df"/>
<rect x="766.598" y="668.265" width="8.672" height="10.097" fill="#f8f4f2"/>
<rect x="775.220" y="668.265" width="8.672" height="10.097" fill="#f9ebe3"/>
<rect x="783.842" y="668.265" width="8.672" height="10.097" fill="#87beda"/>
<rect x="792.464" y="668.265" width="8.672" height="10.097" fill="#b72230"/>
<rect x="801.086" y="668.265" width="8.672" height="10.097" fill="#8d0c25"/>
<rect x="809.708" y="668.265" width="8.672" height="10.097" fill="#67001f"/>
<rect x="818.330" y="668.265" width="8.672" height="10.097" fill="#c43b3c"/>
<rect x="826.951" y="668.265" width="8.672" height="10.097" fill="#9f1228"/>
<rect x="835.573" y="668.265" width="8.672" height="10.097" fill="#760521"/>
<rect x="533.808" y="678.312" width="8.672" height="10.097" fill="#90c4dd"/>
<rect x="542.430" y="678.312" width="8.672" height="10.097" fill="#e0ecf3"/>
<rect x="551.052" y="678.312" width="8.672" height="10.097" fill="#90c4dd"/>
<rect x="559.674" y="678.312" width="8.672" height="10.097" fill="#3480b9"/>
<rect x="568.295" y="678.312" width="8.672" height="10.097" fill="#9bc9e0"/>
<rect x="576.917" y="678.312" width="8.672" height="10.097" fill="#e0ecf3"/>
<rect x="585.539" y="678.312" width="8.672" height="10.097" fill="#b41c2d"/>
<rect x="594.161" y="678.312" width="8.672" height="10.097" fill="#f8bfa4"/>
<rect x="602.783" y="678.312" width="8.672" height="10.097" fill="#f8bda1"/>
<rect x="611.405" y="678.312" width="8.672" height="10.097" fill="#f5ac8b"/>
<rect x="620.027" y="678.312" width="8.672" height="10.097" fill="#bf3338"/>
<rect x="628.649" y="678.312" width="8.672" height="10.097" fill="#fae7dc"/>
<rect x="637.270" y="678.312" width="8.672" height="10.097" fill="#3681ba"/>
<rect x="645.892" y="678.312" width="8.672" height="10.097" fill="#3b88be"/>
<rect x="654.514" y="678.312" width="8.672" height="10.097" fill="#2c75b4"/>
<rect x="663.136" y="678.312" width="8.672" height="10.097" fill="#4c99c6"/>
<rect x="671.758" y="678.312" width="8.672" height="10.097" fill="#195696"/>
<rect x="680.380" y="678.312" width="8.672" height="10.097" fill="#4c99c6"/>
<rect x="689.002" y="678.312" width="8.672" height="10.097" fill="#67001f"/>
<rect x="697.623" y="678.312" width="8.672" height="10.097" fill="#760521"/>
<rect x="706.245" y="678.312" width="8.672" height="10.097" fill="#700320"/>
<rect x="714.867" y="678.312" width="8.672" height="10.097" fill="#6d0220"/>
<rect x="723.489" y="678.312" width="17.294" height="10.097" fill="#700320"/>
<rect x="740.733" y="678.312" width="8.672" height="10.097" fill="#96c7df"/>
<rect x="749.355" y="678.312" width="8.672" height="10.097" fill="#a2cde3"/>
<rect x="757.977" y="678.312" width="8.672" height="10.097" fill="#acd2e5"/>
<rect x="766.598" y="678.312" width="8.672" height="10.097" fill="#a9d1e5"/>
<rect x="775.220" y="678.312" width="8.672" height="10.097" fill="#a5cee3"/>
<rect x="783.842" y="678.312" width="8.672" height="10.097" fill="#cae1ee"/>
<rect x="792.464" y="678.312" width="8.672" height="10.097" fill="#f9ebe3"/>
<rect x="801.086" y="678.312" width="8.672" height="10.097" fill="#dae9f2"/>
<rect x="809.708" y="678.312" width="8.672" height="10.097" fill="#4997c5"/>
<rect x="818.330" y="678.312" width="8.672" height="10.097" fill="#4291c2"/>
<rect x="826.951" y="678.312" width="8.672" height="10.097" fill="#2369ad"/>
<rect x="835.573" y="678.312" width="8.672" height="10.097" fill="#4f9bc7"/>
<rect x="533.808" y="688.359" width="8.672" height="10.097" fill="#e0ecf3"/>
<rect x="542.430" y="688.359" width="8.672" height="10.097" fill="#fcdecd"/>
<rect x="551.052" y="688.359" width="8.672" height="10.097" fill="#d7e8f1"/>
<rect x="559.674" y="688.359" width="8.672" height="10.097" fill="#78b4d5"/>
<rect x="568.295" y="688.359" width="8.672" height="10.097" fill="#edf2f5"/>
<rect x="576.917" y="688.359" width="8.672" height="10.097" fill="#fcdfcf"/>
<rect x="585.539" y="688.359" width="8.672" height="10.097" fill="#a81529"/>
<rect x="594.161" y="688.359" width="8.672" height="10.097" fill="#f8bfa4"/>
<rect x="602.783" y="688.359" width="8.672" height="10.097" fill="#f8bb9e"/>
<rect x="611.405" y="688.359" width="8.672" height="10.097" fill="#ec9374"/>
<rect x="620.027" y="688.359" width="8.672" height="10.097" fill="#a81529"/>
<rect x="628.649" y="688.359" width="8.672" height="10.097" fill="#faeae1"/>
<rect x="637.270" y="688.359" width="8.672" height="10.097" fill="#195696"/>
<rect x="645.892" y="688.359" width="8.672" height="10.097" fill="#1b5a9c"/>
<rect x="654.514" y="688.359" width="8.672" height="10.097" fill="#134c87"/>
<rect x="663.136" y="688.359" width="8.672" height="10.097" fill="#276eb0"/>
<rect x="671.758" y="688.359" width="8.672" height="10.097" fill="#073467"/>
<rect x="680.380" y="688.359" width="8.672" height="10.097" fill="#276eb0"/>
<rect x="689.002" y="688.359" width="8.672" height="10.097" fill="#760521"/>
<rect x="697.623" y="688.359" width="8.672" height="10.097" fill="#67001f"/>
<rect x="706.245" y="688.359" width="8.672" height="10.097" fill="#960f27"/>
<rect x="714.867" y="688.359" width="8.672" height="10.097" fill="#900d26"/>
<rect x="723.489" y="688.359" width="8.672" height="10.097" fill="#6a011f"/>
<rect x="732.111" y="688.359" width="8.672" height="10.097" fill="#900d26"/>
<rect x="740.733" y="688.359" width="8.672" height="10.097" fill="#8dc2dc"/>
<rect x="749.355" y="688.359" width="8.672" height="10.097" fill="#9dcbe1"/>
<rect x="757.977" y="688.359" width="8.672" height="10.097" fill="#a7d0e4"/>
<rect x="766.598" y="688.359" width="8.672" height="10.097" fill="#acd2e5"/>
<rect x="775.220" y="688.359" width="8.672" height="10.097" fill="#a2cde3"/>
<rect x="783.842" y="688.359" width="8.672" height="10.097" fill="#edf2f5"/>
<rect x="792.464" y="688.359" width="8.672" height="10.097" fill="#cce2ef"/>
<rect x="801.086" y="688.359" width="8.672" height="10.097" fill="#8dc2dc"/>
<rect x="809.708" y="688.359" width="8.672" height="10.097" fill="#276eb0"/>
<rect x="818.330" y="688.359" width="8.672" height="10.097" fill="#3b88be"/>
<rect x="826.951" y="688.359" width="8.672" height="10.097" fill="#185493"/>
<rect x="835.573" y="688.359" width="8.672" height="10.097" fill="#2b73b3"/>
<rect x="533.808" y="698.405" width="8.672" height="10.097" fill="#62a7ce"/>
<rect x="542.430" y="698.405" width="8.672" height="10.097" fill="#c7e0ed"/>
<rect x="551.052" y="698.405" width="8.672" height="10.097" fill="#7eb8d7"/>
<rect x="559.674" y="698.405" width="8.672" height="10.097" fill="#2a71b2"/>
<rect x="568.295" y="698.405" width="8.672" height="10.097" fill="#7eb8d7"/>
<rect x="576.917" y="698.405" width="8.672" height="10.097" fill="#b1d5e7"/>
<rect x="585.539" y="698.405" width="8.672" height="10.097" fill="#ae172a"/>
<rect x="594.161" y="698.405" width="17.294" height="10.097" fill="#ee9677"/>
<rect x="611.405" y="698.405" width="8.672" height="10.097" fill="#ec9374"/>
<rect x="620.027" y="698.405" width="8.672" height="10.097" fill="#bf3338"/>
<rect x="628.649" y="698.405" width="8.672" height="10.097" fill="#f9c4a9"/>
<rect x="637.270" y="698.405" width="8.672" height="10.097" fill="#569fc9"/>
<rect x="645.892" y="698.405" width="8.672" height="10.097" fill="#4c99c6"/>
<rect x="654.514" y="698.405" width="8.672" height="10.097" fill="#3b88be"/>
<rect x="663.136" y="698.405" width="8.672" height="10.097" fill="#75b2d4"/>
<rect x="671.758" y="698.405" width="8.672" height="10.097" fill="#2e77b5"/>
<rect x="680.380" y="698.405" width="8.672" height="10.097" fill="#9bc9e0"/>
<rect x="689.002" y="698.405" width="8.672" height="10.097" fill="#700320"/>
<rect x="697.623" y="698.405" width="8.672" height="10.097" fill="#960f27"/>
<rect x="706.245" y="698.405" width="17.294" height="10.097" fill="#67001f"/>
<rect x="723.489" y="698.405" width="8.672" height="10.097" fill="#930e26"/>
<rect x="732.111" y="698.405" width="8.672" height="10.097" fill="#730421"/>
<rect x="740.733" y="698.405" width="8.672" height="10.097" fill="#5ca3cb"/>
<rect x="749.355" y="698.405" width="8.672" height="10.097" fill="#71b0d3"/>
<rect x="757.977" y="698.405" width="8.672" height="10.097" fill="#7eb8d7"/>
<rect x="766.598" y="698.405" width="8.672" height="10.097" fill="#75b2d4"/>
<rect x="775.220" y="698.405" width="8.672" height="10.097" fill="#71b0d3"/>
<rect x="783.842" y="698.405" width="8.672" height="10.097" fill="#87beda"/>
<rect x="792.464" y="698.405" width="8.672" height="10.097" fill="#fbceb7"/>
<rect x="801.086" y="698.405" width="8.672" height="10.097" fill="#f8f2ef"/>
<rect x="809.708" y="698.405" width="8.672" height="10.097" fill="#96c7df"/>
<rect x="818.330" y="698.405" width="8.672" height="10.097" fill="#8dc2dc"/>
<rect x="826.951" y="698.405" width="8.672" height="10.097" fill="#408fc1"/>
<rect x="835.573" y="698.405" width="8.672" height="10.097" fill="#a0cce2"/>
<rect x="533.808" y="708.452" width="8.672" height="10.097" fill="#65a9cf"/>
<rect x="542.430" y="708.452" width="8.672" height="10.097" fill="#c7e0ed"/>
<rect x="551.052" y="708.452" width="8.672" height="10.097" fill="#7eb8d7"/>
<rect x="559.674" y="708.452" width="8.672" height="10.097" fill="#2870b1"/>
<rect x="568.295" y="708.452" width="8.672" height="10.097" fill="#7eb8d7"/>
<rect x="576.917" y="708.452" width="8.672" height="10.097" fill="#bddbea"/>
<rect x="585.539" y="708.452" width="8.672" height="10.097" fill="#b41c2d"/>
<rect x="594.161" y="708.452" width="8.672" height="10.097" fill="#f5a886"/>
<rect x="602.783" y="708.452" width="8.672" height="10.097" fill="#f4a683"/>
<rect x="611.405" y="708.452" width="8.672" height="10.097" fill="#f2a17f"/>
<rect x="620.027" y="708.452" width="8.672" height="10.097" fill="#c13639"/>
<rect x="628.649" y="708.452" width="8.672" height="10.097" fill="#fcd5bf"/>
<rect x="637.270" y="708.452" width="17.294" height="10.097" fill="#4c99c6"/>
<rect x="654.514" y="708.452" width="8.672" height="10.097" fill="#3b88be"/>
<rect x="663.136" y="708.452" width="8.672" height="10.097" fill="#75b2d4"/>
<rect x="671.758" y="708.452" width="8.672" height="10.097" fill="#2a71b2"/>
<rect x="680.380" y="708.452" width="8.672" height="10.097" fill="#87beda"/>
<rect x="689.002" y="708.452" width="8.672" height="10.097" fill="#6d0220"/>
<rect x="697.623" y="708.452" width="8.672" height="10.097" fill="#900d26"/>
<rect x="706.245" y="708.452" width="17.294" height="10.097" fill="#67001f"/>
<rect x="723.489" y="708.452" width="8.672" height="10.097" fill="#840924"/>
<rect x="732.111" y="708.452" width="8.672" height="10.097" fill="#700320"/>
<rect x="740.733" y="708.452" width="8.672" height="10.097" fill="#78b4d5"/>
<rect x="749.355" y="708.452" width="8.672" height="10.097" fill="#8dc2dc"/>
<rect x="757.977" y="708.452" width="8.672" height="10.097" fill="#9bc9e0"/>
<rect x="766.598" y="708.452" width="8.672" height="10.097" fill="#90c4dd"/>
<rect x="775.220" y="708.452" width="8.672" height="10.097" fill="#8dc2dc"/>
<rect x="783.842" y="708.452" width="8.672" height="10.097" fill="#a2cde3"/>
<rect x="792.464" y="708.452" width="8.672" height="10.097" fill="#fcd5bf"/>
<rect x="801.086" y="708.452" width="8.672" height="10.097" fill="#f7f6f6"/>
<rect x="809.708" y="708.452" width="8.672" height="10.097" fill="#81bad8"/>
<rect x="818.330" y="708.452" width="8.672" height="10.097" fill="#71b0d3"/>
<rect x="826.951" y="708.452" width="8.672" height="10.097" fill="#3885bc"/>
<rect x="835.573" y="708.452" width="8.672" height="10.097" fill="#87beda"/>
<rect x="533.808" y="718.499" width="8.672" height="10.097" fill="#d1e5f0"/>
<rect x="542.430" y="718.499" width="8.672" height="10.097" fill="#fae7dc"/>
<rect x="551.052" y="718.499" width="8.672" height="10.097" fill="#bddbea"/>
<rect x="559.674" y="718.499" width="8.672" height="10.097" fill="#4f9bc7"/>
<rect x="568.295" y="718.499" width="8.672" height="10.097" fill="#d7e8f1"/>
<rect x="576.917" y="718.499" width="8.672" height="10.097" fill="#fae7dc"/>
<rect x="585.539" y="718.499" width="8.672" height="10.097" fill="#ba2832"/>
<rect x="594.161" y="718.499" width="8.672" height="10.097" fill="#fcd5bf"/>
<rect x="602.783" y="718.499" width="8.672" height="10.097" fill="#fcd3bc"/>
<rect x="611.405" y="718.499" width="8.672" height="10.097" fill="#f6b191"/>
<rect x="620.027" y="718.499" width="8.672" height="10.097" fill="#ba2832"/>
<rect x="628.649" y="718.499" width="8.672" height="10.097" fill="#f7f5f4"/>
<rect x="637.270" y="718.499" width="8.672" height="10.097" fill="#1c5c9f"/>
<rect x="645.892" y="718.499" width="8.672" height="10.097" fill="#266caf"/>
<rect x="654.514" y="718.499" width="8.672" height="10.097" fill="#1b5a9c"/>
<rect x="663.136" y="718.499" width="8.672" height="10.097" fill="#3480b9"/>
<rect x="671.758" y="718.499" width="8.672" height="10.097" fill="#09386d"/>
<rect x="680.380" y="718.499" width="8.672" height="10.097" fill="#2c75b4"/>
<rect x="689.002" y="718.499" width="8.672" height="10.097" fill="#700320"/>
<rect x="697.623" y="718.499" width="8.672" height="10.097" fill="#6a011f"/>
<rect x="706.245" y="718.499" width="8.672" height="10.097" fill="#930e26"/>
<rect x="714.867" y="718.499" width="8.672" height="10.097" fill="#840924"/>
<rect x="723.489" y="718.499" width="8.672" height="10.097" fill="#67001f"/>
<rect x="732.111" y="718.499" width="8.672" height="10.097" fill="#7f0823"/>
<rect x="740.733" y="718.499" width="8.672" height="10.097" fill="#a9d1e5"/>
<rect x="749.355" y="718.499" width="8.672" height="10.097" fill="#b8d8e9"/>
<rect x="757.977" y="718.499" width="8.672" height="10.097" fill="#c2ddec"/>
<rect x="766.598" y="718.499" width="8.672" height="10.097" fill="#c7e0ed"/>
<rect x="775.220" y="718.499" width="8.672" height="10.097" fill="#b8d8e9"/>
<rect x="783.842" y="718.499" width="8.672" height="10.097" fill="#f2f5f6"/>
<rect x="792.464" y="718.499" width="8.672" height="10.097" fill="#dae9f2"/>
<rect x="801.086" y="718.499" width="8.672" height="10.097" fill="#9dcbe1"/>
<rect x="809.708" y="718.499" width="8.672" height="10.097" fill="#2a71b2"/>
<rect x="818.330" y="718.499" width="8.672" height="10.097" fill="#2f79b5"/>
<rect x="826.951" y="718.499" width="8.672" height="10.097" fill="#134c87"/>
<rect x="835.573" y="718.499" width="8.672" height="10.097" fill="#2c75b4"/>
<rect x="533.808" y="728.545" width="8.672" height="10.097" fill="#62a7ce"/>
<rect x="542.430" y="728.545" width="8.672" height="10.097" fill="#b8d8e9"/>
<rect x="551.052" y="728.545" width="8.672" height="10.097" fill="#4f9bc7"/>
<rect x="559.674" y="728.545" width="8.672" height="10.097" fill="#2065ab"/>
<rect x="568.295" y="728.545" width="8.672" height="10.097" fill="#71b0d3"/>
<rect x="576.917" y="728.545" width="8.672" height="10.097" fill="#c2ddec"/>
<rect x="585.539" y="728.545" width="8.672" height="10.097" fill="#c84440"/>
<rect x="594.161" y="728.545" width="17.294" height="10.097" fill="#fddbc7"/>
<rect x="611.405" y="728.545" width="8.672" height="10.097" fill="#fbd0b9"/>
<rect x="620.027" y="728.545" width="8.672" height="10.097" fill="#d55d4c"/>
<rect x="628.649" y="728.545" width="8.672" height="10.097" fill="#f8f4f2"/>
<rect x="637.270" y="728.545" width="8.672" height="10.097" fill="#4997c5"/>
<rect x="645.892" y="728.545" width="8.672" height="10.097" fill="#5ca3cb"/>
<rect x="654.514" y="728.545" width="8.672" height="10.097" fill="#408fc1"/>
<rect x="663.136" y="728.545" width="8.672" height="10.097" fill="#90c4dd"/>
<rect x="671.758" y="728.545" width="8.672" height="10.097" fill="#2870b1"/>
<rect x="680.380" y="728.545" width="8.672" height="10.097" fill="#78b4d5"/>
<rect x="689.002" y="728.545" width="8.672" height="10.097" fill="#700320"/>
<rect x="697.623" y="728.545" width="8.672" height="10.097" fill="#900d26"/>
<rect x="706.245" y="728.545" width="8.672" height="10.097" fill="#730421"/>
<rect x="714.867" y="728.545" width="8.672" height="10.097" fill="#700320"/>
<rect x="723.489" y="728.545" width="8.672" height="10.097" fill="#7f0823"/>
<rect x="732.111" y="728.545" width="8.672" height="10.097" fill="#67001f"/>
<rect x="740.733" y="728.545" width="8.672" height="10.097" fill="#b8d8e9"/>
<rect x="749.355" y="728.545" width="8.672" height="10.097" fill="#cae1ee"/>
<rect x="757.977" y="728.545" width="8.672" height="10.097" fill="#d4e6f1"/>
<rect x="766.598" y="728.545" width="8.672" height="10.097" fill="#cce2ef"/>
<rect x="775.220" y="728.545" width="8.672" height="10.097" fill="#c7e0ed"/>
<rect x="783.842" y="728.545" width="8.672" height="10.097" fill="#d4e6f1"/>
<rect x="792.464" y="728.545" width="8.672" height="10.097" fill="#fdddcb"/>
<rect x="801.086" y="728.545" width="8.672" height="10.097" fill="#f0f4f6"/>
<rect x="809.708" y="728.545" width="8.672" height="10.097" fill="#6bacd1"/>
<rect x="818.330" y="728.545" width="8.672" height="10.097" fill="#3f8ec0"/>
<rect x="826.951" y="728.545" width="8.672" height="10.097" fill="#2870b1"/>
<rect x="835.573" y="728.545" width="8.672" height="10.097" fill="#6bacd1"/>
<rect x="533.808" y="738.592" width="8.672" height="10.097" fill="#f8f3f0"/>
<rect x="542.430" y="738.592" width="8.672" height="10.097" fill="#cce2ef"/>
<rect x="551.052" y="738.592" width="8.672" height="10.097" fill="#a7d0e4"/>
<rect x="559.674" y="738.592" width="8.672" height="10.097" fill="#f8f3f0"/>
<rect x="568.295" y="738.592" width="8.672" height="10.097" fill="#e7f0f4"/>
<rect x="576.917" y="738.592" width="8.672" height="10.097" fill="#f7f6f6"/>
<rect x="585.539" y="738.592" width="8.672" height="10.097" fill="#185493"/>
<rect x="594.161" y="738.592" width="17.294" height="10.097" fill="#053061"/>
<rect x="611.405" y="738.592" width="8.672" height="10.097" fill="#063264"/>
<rect x="620.027" y="738.592" width="8.672" height="10.097" fill="#1f63a8"/>
<rect x="628.649" y="738.592" width="8.672" height="10.097" fill="#0e4179"/>
<rect x="637.270" y="738.592" width="8.672" height="10.097" fill="#f8bda1"/>
<rect x="645.892" y="738.592" width="8.672" height="10.097" fill="#e37e64"/>
<rect x="654.514" y="738.592" width="8.672" height="10.097" fill="#d6604d"/>
<rect x="663.136" y="738.592" width="8.672" height="10.097" fill="#dc6e57"/>
<rect x="671.758" y="738.592" width="8.672" height="10.097" fill="#f7b799"/>
<rect x="680.380" y="738.592" width="8.672" height="10.097" fill="#fce2d2"/>
<rect x="689.002" y="738.592" width="8.672" height="10.097" fill="#96c7df"/>
<rect x="697.623" y="738.592" width="8.672" height="10.097" fill="#8dc2dc"/>
<rect x="706.245" y="738.592" width="8.672" height="10.097" fill="#5ca3cb"/>
<rect x="714.867" y="738.592" width="8.672" height="10.097" fill="#78b4d5"/>
<rect x="723.489" y="738.592" width="8.672" height="10.097" fill="#a9d1e5"/>
<rect x="732.111" y="738.592" width="8.672" height="10.097" fill="#b8d8e9"/>
<rect x="740.733" y="738.592" width="17.294" height="10.097" fill="#67001f"/>
<rect x="757.977" y="738.592" width="8.672" height="10.097" fill="#6a011f"/>
<rect x="766.598" y="738.592" width="17.294" height="10.097" fill="#67001f"/>
<rect x="783.842" y="738.592" width="8.672" height="10.097" fill="#b41c2d"/>
<rect x="792.464" y="738.592" width="8.672" height="10.097" fill="#f0f4f6"/>
<rect x="801.086" y="738.592" width="8.672" height="10.097" fill="#f2f5f6"/>
<rect x="809.708" y="738.592" width="8.672" height="10.097" fill="#f7f5f4"/>
<rect x="818.330" y="738.592" width="8.672" height="10.097" fill="#96c7df"/>
<rect x="826.951" y="738.592" width="8.672" height="10.097" fill="#eff3f5"/>
<rect x="835.573" y="738.592" width="8.672" height="10.097" fill="#e7f0f4"/>
<rect x="533.808" y="748.639" width="8.672" height="10.097" fill="#f7f5f4"/>
<rect x="542.430" y="748.639" width="8.672" height="10.097" fill="#cce2ef"/>
<rect x="551.052" y="748.639" width="8.672" height="10.097" fill="#a7d0e4"/>
<rect x="559.674" y="748.639" width="8.672" height="10.097" fill="#f5f6f7"/>
<rect x="568.295" y="748.639" width="8.672" height="10.097" fill="#e7f0f4"/>
<rect x="576.917" y="748.639" width="8.672" height="10.097" fill="#f7f5f4"/>
<rect x="585.539" y="748.639" width="8.672" height="10.097" fill="#1c5c9f"/>
<rect x="594.161" y="748.639" width="17.294" height="10.097" fill="#053061"/>
<rect x="611.405" y="748.639" width="8.672" height="10.097" fill="#073467"/>
<rect x="620.027" y="748.639" width="8.672" height="10.097" fill="#266caf"/>
<rect x="628.649" y="748.639" width="8.672" height="10.097" fill="#0c3d73"/>
<rect x="637.270" y="748.639" width="8.672" height="10.097" fill="#f9c6ac"/>
<rect x="645.892" y="748.639" width="8.672" height="10.097" fill="#e98b6e"/>
<rect x="654.514" y="748.639" width="8.672" height="10.097" fill="#dc6e57"/>
<rect x="663.136" y="748.639" width="8.672" height="10.097" fill="#e17860"/>
<rect x="671.758" y="748.639" width="8.672" height="10.097" fill="#f9c4a9"/>
<rect x="680.380" y="748.639" width="8.672" height="10.097" fill="#fae9df"/>
<rect x="689.002" y="748.639" width="8.672" height="10.097" fill="#a2cde3"/>
<rect x="697.623" y="748.639" width="8.672" height="10.097" fill="#9dcbe1"/>
<rect x="706.245" y="748.639" width="8.672" height="10.097" fill="#71b0d3"/>
<rect x="714.867" y="748.639" width="8.672" height="10.097" fill="#8dc2dc"/>
<rect x="723.489" y="748.639" width="8.672" height="10.097" fill="#b8d8e9"/>
<rect x="732.111" y="748.639" width="8.672" height="10.097" fill="#cae1ee"/>
<rect x="740.733" y="748.639" width="43.159" height="10.097" fill="#67001f"/>
<rect x="783.842" y="748.639" width="8.672" height="10.097" fill="#b1182b"/>
<rect x="792.464" y="748.639" width="8.672" height="10.097" fill="#eff3f5"/>
<rect x="801.086" y="748.639" width="8.672" height="10.097" fill="#edf2f5"/>
<rect x="809.708" y="748.639" width="8.672" height="10.097" fill="#f0f4f6"/>
<rect x="818.330" y="748.639" width="8.672" height="10.097" fill="#7eb8d7"/>
<rect x="826.951" y="748.639" width="8.672" height="10.097" fill="#e4eef4"/>
<rect x="835.573" y="748.639" width="8.672" height="10.097" fill="#dae9f2"/>
<rect x="533.808" y="758.685" width="8.672" height="10.097" fill="#f5f6f7"/>
<rect x="542.430" y="758.685" width="8.672" height="10.097" fill="#c7e0ed"/>
<rect x="551.052" y="758.685" width="8.672" height="10.097" fill="#9bc9e0"/>
<rect x="559.674" y="758.685" width="8.672" height="10.097" fill="#eff3f5"/>
<rect x="568.295" y="758.685" width="8.672" height="10.097" fill="#e1edf3"/>
<rect x="576.917" y="758.685" width="8.672" height="10.097" fill="#f7f6f6"/>
<rect x="585.539" y="758.685" width="8.672" height="10.097" fill="#1d5fa2"/>
<rect x="594.161" y="758.685" width="17.294" height="10.097" fill="#053061"/>
<rect x="611.405" y="758.685" width="8.672" height="10.097" fill="#073467"/>
<rect x="620.027" y="758.685" width="8.672" height="10.097" fill="#276eb0"/>
<rect x="628.649" y="758.685" width="8.672" height="10.097" fill="#0a3b70"/>
<rect x="637.270" y="758.685" width="8.672" height="10.097" fill="#facab1"/>
<rect x="645.892" y="758.685" width="8.672" height="10.097" fill="#ea8e70"/>
<rect x="654.514" y="758.685" width="8.672" height="10.097" fill="#dd7059"/>
<rect x="663.136" y="758.685" width="8.672" height="10.097" fill="#e37e64"/>
<rect x="671.758" y="758.685" width="8.672" height="10.097" fill="#facab1"/>
<rect x="680.380" y="758.685" width="8.672" height="10.097" fill="#fae9df"/>
<rect x="689.002" y="758.685" width="8.672" height="10.097" fill="#acd2e5"/>
<rect x="697.623" y="758.685" width="8.672" height="10.097" fill="#a7d0e4"/>
<rect x="706.245" y="758.685" width="8.672" height="10.097" fill="#7eb8d7"/>
<rect x="714.867" y="758.685" width="8.672" height="10.097" fill="#9bc9e0"/>
<rect x="723.489" y="758.685" width="8.672" height="10.097" fill="#c2ddec"/>
<rect x="732.111" y="758.685" width="8.672" height="10.097" fill="#d4e6f1"/>
<rect x="740.733" y="758.685" width="8.672" height="10.097" fill="#6a011f"/>
<rect x="749.355" y="758.685" width="34.537" height="10.097" fill="#67001f"/>
<rect x="783.842" y="758.685" width="8.672" height="10.097" fill="#b1182b"/>
<rect x="792.464" y="758.685" width="8.672" height="10.097" fill="#f2f5f6"/>
<rect x="801.086" y="758.685" width="8.672" height="10.097" fill="#f0f4f6"/>
<rect x="809.708" y="758.685" width="8.672" height="10.097" fill="#f2f5f6"/>
<rect x="818.330" y="758.685" width="8.672" height="10.097" fill="#75b2d4"/>
<rect x="826.951" y="758.685" width="8.672" height="10.097" fill="#e0ecf3"/>
<rect x="835.573" y="758.685" width="8.672" height="10.097" fill="#d7e8f1"/>
<rect x="533.808" y="768.732" width="8.672" height="10.097" fill="#fae9df"/>
<rect x="542.430" y="768.732" width="8.672" height="10.097" fill="#dae9f2"/>
<rect x="551.052" y="768.732" width="8.672" height="10.097" fill="#b1d5e7"/>
<rect x="559.674" y="768.732" width="8.672" height="10.097" fill="#f8f4f2"/>
<rect x="568.295" y="768.732" width="8.672" height="10.097" fill="#eff3f5"/>
<rect x="576.917" y="768.732" width="8.672" height="10.097" fill="#fae9df"/>
<rect x="585.539" y="768.732" width="8.672" height="10.097" fill="#2065ab"/>
<rect x="594.161" y="768.732" width="17.294" height="10.097" fill="#053061"/>
<rect x="611.405" y="768.732" width="8.672" height="10.097" fill="#09386d"/>
<rect x="620.027" y="768.732" width="8.672" height="10.097" fill="#2b73b3"/>
<rect x="628.649" y="768.732" width="8.672" height="10.097" fill="#08366a"/>
<rect x="637.270" y="768.732" width="8.672" height="10.097" fill="#fdddcb"/>
<rect x="645.892" y="768.732" width="8.672" height="10.097" fill="#f2a17f"/>
<rect x="654.514" y="768.732" width="8.672" height="10.097" fill="#e98b6e"/>
<rect x="663.136" y="768.732" width="8.672" height="10.097" fill="#ec9374"/>
<rect x="671.758" y="768.732" width="8.672" height="10.097" fill="#fcd5bf"/>
<rect x="680.380" y="768.732" width="8.672" height="10.097" fill="#f8f4f2"/>
<rect x="689.002" y="768.732" width="8.672" height="10.097" fill="#a9d1e5"/>
<rect x="697.623" y="768.732" width="8.672" height="10.097" fill="#acd2e5"/>
<rect x="706.245" y="768.732" width="8.672" height="10.097" fill="#75b2d4"/>
<rect x="714.867" y="768.732" width="8.672" height="10.097" fill="#90c4dd"/>
<rect x="723.489" y="768.732" width="8.672" height="10.097" fill="#c7e0ed"/>
<rect x="732.111" y="768.732" width="8.672" height="10.097" fill="#cce2ef"/>
<rect x="740.733" y="768.732" width="43.159" height="10.097" fill="#67001f"/>
<rect x="783.842" y="768.732" width="8.672" height="10.097" fill="#9f1228"/>
<rect x="792.464" y="768.732" width="8.672" height="10.097" fill="#e0ecf3"/>
<rect x="801.086" y="768.732" width="8.672" height="10.097" fill="#ddebf2"/>
<rect x="809.708" y="768.732" width="8.672" height="10.097" fill="#e4eef4"/>
<rect x="818.330" y="768.732" width="8.672" height="10.097" fill="#6bacd1"/>
<rect x="826.951" y="768.732" width="8.672" height="10.097" fill="#dae9f2"/>
<rect x="835.573" y="768.732" width="8.672" height="10.097" fill="#cce2ef"/>
<rect x="533.808" y="778.779" width="8.672" height="10.097" fill="#f9ede5"/>
<rect x="542.430" y="778.779" width="8.672" height="10.097" fill="#d7e8f1"/>
<rect x="551.052" y="778.779" width="8.672" height="10.097" fill="#b1d5e7"/>
<rect x="559.674" y="778.779" width="8.672" height="10.097" fill="#f8f4f2"/>
<rect x="568.295" y="778.779" width="8.672" height="10.097" fill="#eff3f5"/>
<rect x="576.917" y="778.779" width="8.672" height="10.097" fill="#f9eee7"/>
<rect x="585.539" y="778.779" width="8.672" height="10.097" fill="#1d5fa2"/>
<rect x="594.161" y="778.779" width="17.294" height="10.097" fill="#053061"/>
<rect x="611.405" y="778.779" width="8.672" height="10.097" fill="#08366a"/>
<rect x="620.027" y="778.779" width="8.672" height="10.097" fill="#266caf"/>
<rect x="628.649" y="778.779" width="8.672" height="10.097" fill="#09386d"/>
<rect x="637.270" y="778.779" width="8.672" height="10.097" fill="#fbd0b9"/>
<rect x="645.892" y="778.779" width="8.672" height="10.097" fill="#ec9374"/>
<rect x="654.514" y="778.779" width="8.672" height="10.097" fill="#e37e64"/>
<rect x="663.136" y="778.779" width="8.672" height="10.097" fill="#e8896c"/>
<rect x="671.758" y="778.779" width="8.672" height="10.097" fill="#facab1"/>
<rect x="680.380" y="778.779" width="8.672" height="10.097" fill="#f9ebe3"/>
<rect x="689.002" y="778.779" width="8.672" height="10.097" fill="#a5cee3"/>
<rect x="697.623" y="778.779" width="8.672" height="10.097" fill="#a2cde3"/>
<rect x="706.245" y="778.779" width="8.672" height="10.097" fill="#71b0d3"/>
<rect x="714.867" y="778.779" width="8.672" height="10.097" fill="#8dc2dc"/>
<rect x="723.489" y="778.779" width="8.672" height="10.097" fill="#b8d8e9"/>
<rect x="732.111" y="778.779" width="8.672" height="10.097" fill="#c7e0ed"/>
<rect x="740.733" y="778.779" width="43.159" height="10.097" fill="#67001f"/>
<rect x="783.842" y="778.779" width="8.672" height="10.097" fill="#a81529"/>
<rect x="792.464" y="778.779" width="8.672" height="10.097" fill="#e7f0f4"/>
<rect x="801.086" y="778.779" width="8.672" height="10.097" fill="#e6eff4"/>
<rect x="809.708" y="778.779" width="8.672" height="10.097" fill="#ecf2f5"/>
<rect x="818.330" y="778.779" width="8.672" height="10.097" fill="#78b4d5"/>
<rect x="826.951" y="778.779" width="8.672" height="10.097" fill="#e1edf3"/>
<rect x="835.573" y="778.779" width="8.672" height="10.097" fill="#d5e7f1"/>
<rect x="533.808" y="788.825" width="8.672" height="10.097" fill="#e37e64"/>
<rect x="542.430" y="788.825" width="8.672" height="10.097" fill="#f5a886"/>
<rect x="551.052" y="788.825" width="8.672" height="10.097" fill="#fbe6da"/>
<rect x="559.674" y="788.825" width="8.672" height="10.097" fill="#f7b799"/>
<rect x="568.295" y="788.825" width="8.672" height="10.097" fill="#ef9979"/>
<rect x="576.917" y="788.825" width="8.672" height="10.097" fill="#d6604d"/>
<rect x="585.539" y="788.825" width="8.672" height="10.097" fill="#569fc9"/>
<rect x="594.161" y="788.825" width="8.672" height="10.097" fill="#1a5899"/>
<rect x="602.783" y="788.825" width="8.672" height="10.097" fill="#1d5fa2"/>
<rect x="611.405" y="788.825" width="8.672" height="10.097" fill="#3c8abe"/>
<rect x="620.027" y="788.825" width="8.672" height="10.097" fill="#9dcbe1"/>
<rect x="628.649" y="788.825" width="8.672" height="10.097" fill="#134c87"/>
<rect x="637.270" y="788.825" width="8.672" height="10.097" fill="#bddbea"/>
<rect x="645.892" y="788.825" width="8.672" height="10.097" fill="#eaf1f5"/>
<rect x="654.514" y="788.825" width="8.672" height="10.097" fill="#f8f1ed"/>
<rect x="663.136" y="788.825" width="8.672" height="10.097" fill="#edf2f5"/>
<rect x="671.758" y="788.825" width="8.672" height="10.097" fill="#ddebf2"/>
<rect x="680.380" y="788.825" width="8.672" height="10.097" fill="#87beda"/>
<rect x="689.002" y="788.825" width="8.672" height="10.097" fill="#cae1ee"/>
<rect x="697.623" y="788.825" width="8.672" height="10.097" fill="#edf2f5"/>
<rect x="706.245" y="788.825" width="8.672" height="10.097" fill="#87beda"/>
<rect x="714.867" y="788.825" width="8.672" height="10.097" fill="#a2cde3"/>
<rect x="723.489" y="788.825" width="8.672" height="10.097" fill="#f2f5f6"/>
<rect x="732.111" y="788.825" width="8.672" height="10.097" fill="#d4e6f1"/>
<rect x="740.733" y="788.825" width="8.672" height="10.097" fill="#b41c2d"/>
<rect x="749.355" y="788.825" width="17.294" height="10.097" fill="#b1182b"/>
<rect x="766.598" y="788.825" width="8.672" height="10.097" fill="#9f1228"/>
<rect x="775.220" y="788.825" width="8.672" height="10.097" fill="#a81529"/>
<rect x="783.842" y="788.825" width="8.672" height="10.097" fill="#67001f"/>
<rect x="792.464" y="788.825" width="8.672" height="10.097" fill="#408fc1"/>
<rect x="801.086" y="788.825" width="8.672" height="10.097" fill="#3f8ec0"/>
<rect x="809.708" y="788.825" width="8.672" height="10.097" fill="#62a7ce"/>
<rect x="818.330" y="788.825" width="8.672" height="10.097" fill="#3e8cbf"/>
<rect x="826.951" y="788.825" width="8.672" height="10.097" fill="#96c7df"/>
<rect x="835.573" y="788.825" width="8.672" height="10.097" fill="#4393c3"/>
<rect x="533.808" y="798.872" width="8.672" height="10.097" fill="#0c3d73"/>
<rect x="542.430" y="798.872" width="8.672" height="10.097" fill="#08366a"/>
<rect x="551.052" y="798.872" width="8.672" height="10.097" fill="#2a71b2"/>
<rect x="559.674" y="798.872" width="8.672" height="10.097" fill="#3480b9"/>
<rect x="568.295" y="798.872" width="8.672" height="10.097" fill="#10457e"/>
<rect x="576.917" y="798.872" width="8.672" height="10.097" fill="#053061"/>
<rect x="585.539" y="798.872" width="8.672" height="10.097" fill="#e1edf3"/>
<rect x="594.161" y="798.872" width="8.672" height="10.097" fill="#fae7dc"/>
<rect x="602.783" y="798.872" width="8.672" height="10.097" fill="#f9ede5"/>
<rect x="611.405" y="798.872" width="8.672" height="10.097" fill="#d5e7f1"/>
<rect x="620.027" y="798.872" width="8.672" height="10.097" fill="#aed3e6"/>
<rect x="628.649" y="798.872" width="8.672" height="10.097" fill="#fcd7c2"/>
<rect x="637.270" y="798.872" width="8.672" height="10.097" fill="#c84440"/>
<rect x="645.892" y="798.872" width="8.672" height="10.097" fill="#ce4f45"/>
<rect x="654.514" y="798.872" width="8.672" height="10.097" fill="#df765e"/>
<rect x="663.136" y="798.872" width="8.672" height="10.097" fill="#c43b3c"/>
<rect x="671.758" y="798.872" width="8.672" height="10.097" fill="#eb9172"/>
<rect x="680.380" y="798.872" width="8.672" height="10.097" fill="#b72230"/>
<rect x="689.002" y="798.872" width="8.672" height="10.097" fill="#f9ebe3"/>
<rect x="697.623" y="798.872" width="8.672" height="10.097" fill="#cce2ef"/>
<rect x="706.245" y="798.872" width="8.672" height="10.097" fill="#fbceb7"/>
<rect x="714.867" y="798.872" width="8.672" height="10.097" fill="#fcd5bf"/>
<rect x="723.489" y="798.872" width="8.672" height="10.097" fill="#dae9f2"/>
<rect x="732.111" y="798.872" width="8.672" height="10.097" fill="#fdddcb"/>
<rect x="740.733" y="798.872" width="8.672" height="10.097" fill="#f0f4f6"/>
<rect x="749.355" y="798.872" width="8.672" height="10.097" fill="#eff3f5"/>
<rect x="757.977" y="798.872" width="8.672" height="10.097" fill="#f2f5f6"/>
<rect x="766.598" y="798.872" width="8.672" height="10.097" fill="#e0ecf3"/>
<rect x="775.220" y="798.872" width="8.672" height="10.097" fill="#e7f0f4"/>
<rect x="783.842" y="798.872" width="8.672" height="10.097" fill="#408fc1"/>
<rect x="792.464" y="798.872" width="8.672" height="10.097" fill="#67001f"/>
<rect x="801.086" y="798.872" width="8.672" height="10.097" fill="#730421"/>
<rect x="809.708" y="798.872" width="8.672" height="10.097" fill="#c13639"/>
<rect x="818.330" y="798.872" width="8.672" height="10.097" fill="#f8bb9e"/>
<rect x="826.951" y="798.872" width="8.672" height="10.097" fill="#f5a886"/>
<rect x="835.573" y="798.872" width="8.672" height="10.097" fill="#c6413e"/>
<rect x="533.808" y="808.919" width="8.672" height="10.097" fill="#2065ab"/>
<rect x="542.430" y="808.919" width="8.672" height="10.097" fill="#134c87"/>
<rect x="551.052" y="808.919" width="8.672" height="10.097" fill="#408fc1"/>
<rect x="559.674" y="808.919" width="8.672" height="10.097" fill="#6bacd1"/>
<rect x="568.295" y="808.919" width="8.672" height="10.097" fill="#2065ab"/>
<rect x="576.917" y="808.919" width="8.672" height="10.097" fill="#08366a"/>
<rect x="585.539" y="808.919" width="8.672" height="10.097" fill="#c7e0ed"/>
<rect x="594.161" y="808.919" width="8.672" height="10.097" fill="#fae7dc"/>
<rect x="602.783" y="808.919" width="8.672" height="10.097" fill="#f9ede5"/>
<rect x="611.405" y="808.919" width="8.672" height="10.097" fill="#d5e7f1"/>
<rect x="620.027" y="808.919" width="8.672" height="10.097" fill="#8dc2dc"/>
<rect x="628.649" y="808.919" width="8.672" height="10.097" fill="#f9c6ac"/>
<rect x="637.270" y="808.919" width="8.672" height="10.097" fill="#ae172a"/>
<rect x="645.892" y="808.919" width="8.672" height="10.097" fill="#ba2832"/>
<rect x="654.514" y="808.919" width="8.672" height="10.097" fill="#cb4942"/>
<rect x="663.136" y="808.919" width="8.672" height="10.097" fill="#b1182b"/>
<rect x="671.758" y="808.919" width="8.672" height="10.097" fill="#ce4f45"/>
<rect x="680.380" y="808.919" width="8.672" height="10.097" fill="#8d0c25"/>
<rect x="689.002" y="808.919" width="8.672" height="10.097" fill="#dae9f2"/>
<rect x="697.623" y="808.919" width="8.672" height="10.097" fill="#8dc2dc"/>
<rect x="706.245" y="808.919" width="8.672" height="10.097" fill="#f8f2ef"/>
<rect x="714.867" y="808.919" width="8.672" height="10.097" fill="#f7f6f6"/>
<rect x="723.489" y="808.919" width="8.672" height="10.097" fill="#9dcbe1"/>
<rect x="732.111" y="808.919" width="8.672" height="10.097" fill="#f0f4f6"/>
<rect x="740.733" y="808.919" width="8.672" height="10.097" fill="#f2f5f6"/>
<rect x="749.355" y="808.919" width="8.672" height="10.097" fill="#edf2f5"/>
<rect x="757.977" y="808.919" width="8.672" height="10.097" fill="#f0f4f6"/>
<rect x="766.598" y="808.919" width="8.672" height="10.097" fill="#ddebf2"/>
<rect x="775.220" y="808.919" width="8.672" height="10.097" fill="#e6eff4"/>
<rect x="783.842" y="808.919" width="8.672" height="10.097" fill="#3f8ec0"/>
<rect x="792.464" y="808.919" width="8.672" height="10.097" fill="#730421"/>
<rect x="801.086" y="808.919" width="8.672" height="10.097" fill="#67001f"/>
<rect x="809.708" y="808.919" width="8.672" height="10.097" fill="#991027"/>
<rect x="818.330" y="808.919" width="8.672" height="10.097" fill="#e37e64"/>
<rect x="826.951" y="808.919" width="8.672" height="10.097" fill="#d6604d"/>
<rect x="835.573" y="808.919" width="8.672" height="10.097" fill="#a51429"/>
<rect x="533.808" y="818.965" width="8.672" height="10.097" fill="#8ac0db"/>
<rect x="542.430" y="818.965" width="8.672" height="10.097" fill="#4997c5"/>
<rect x="551.052" y="818.965" width="8.672" height="10.097" fill="#d2e6f0"/>
<rect x="559.674" y="818.965" width="8.672" height="10.097" fill="#f5f6f7"/>
<rect x="568.295" y="818.965" width="8.672" height="10.097" fill="#8dc2dc"/>
<rect x="576.917" y="818.965" width="8.672" height="10.097" fill="#3885bc"/>
<rect x="585.539" y="818.965" width="8.672" height="10.097" fill="#81bad8"/>
<rect x="594.161" y="818.965" width="8.672" height="10.097" fill="#fae7dc"/>
<rect x="602.783" y="818.965" width="8.672" height="10.097" fill="#f9ede5"/>
<rect x="611.405" y="818.965" width="8.672" height="10.097" fill="#d7e8f1"/>
<rect x="620.027" y="818.965" width="8.672" height="10.097" fill="#4393c3"/>
<rect x="628.649" y="818.965" width="8.672" height="10.097" fill="#f7b99c"/>
<rect x="637.270" y="818.965" width="8.672" height="10.097" fill="#790622"/>
<rect x="645.892" y="818.965" width="8.672" height="10.097" fill="#9f1228"/>
<rect x="654.514" y="818.965" width="8.672" height="10.097" fill="#ae172a"/>
<rect x="663.136" y="818.965" width="8.672" height="10.097" fill="#a81529"/>
<rect x="671.758" y="818.965" width="8.672" height="10.097" fill="#870a24"/>
<rect x="680.380" y="818.965" width="8.672" height="10.097" fill="#67001f"/>
<rect x="689.002" y="818.965" width="8.672" height="10.097" fill="#4997c5"/>
<rect x="697.623" y="818.965" width="8.672" height="10.097" fill="#276eb0"/>
<rect x="706.245" y="818.965" width="8.672" height="10.097" fill="#96c7df"/>
<rect x="714.867" y="818.965" width="8.672" height="10.097" fill="#81bad8"/>
<rect x="723.489" y="818.965" width="8.672" height="10.097" fill="#2a71b2"/>
<rect x="732.111" y="818.965" width="8.672" height="10.097" fill="#6bacd1"/>
<rect x="740.733" y="818.965" width="8.672" height="10.097" fill="#f7f5f4"/>
<rect x="749.355" y="818.965" width="8.672" height="10.097" fill="#f0f4f6"/>
<rect x="757.977" y="818.965" width="8.672" height="10.097" fill="#f2f5f6"/>
<rect x="766.598" y="818.965" width="8.672" height="10.097" fill="#e4eef4"/>
<rect x="775.220" y="818.965" width="8.672" height="10.097" fill="#ecf2f5"/>
<rect x="783.842" y="818.965" width="8.672" height="10.097" fill="#62a7ce"/>
<rect x="792.464" y="818.965" width="8.672" height="10.097" fill="#c13639"/>
<rect x="801.086" y="818.965" width="8.672" height="10.097" fill="#991027"/>
<rect x="809.708" y="818.965" width="8.672" height="10.097" fill="#67001f"/>
<rect x="818.330" y="818.965" width="8.672" height="10.097" fill="#ae172a"/>
<rect x="826.951" y="818.965" width="8.672" height="10.097" fill="#870a24"/>
<rect x="835.573" y="818.965" width="8.672" height="10.097" fill="#6d0220"/>
<rect x="533.808" y="829.012" width="8.672" height="10.097" fill="#f7f6f6"/>
<rect x="542.430" y="829.012" width="8.672" height="10.097" fill="#e6eff4"/>
<rect x="551.052" y="829.012" width="8.672" height="10.097" fill="#f6b394"/>
<rect x="559.674" y="829.012" width="8.672" height="10.097" fill="#f5a886"/>
<rect x="568.295" y="829.012" width="8.672" height="10.097" fill="#f8f1ed"/>
<rect x="576.917" y="829.012" width="8.672" height="10.097" fill="#b8d8e9"/>
<rect x="585.539" y="829.012" width="8.672" height="10.097" fill="#e4eef4"/>
<rect x="594.161" y="829.012" width="8.672" height="10.097" fill="#e37e64"/>
<rect x="602.783" y="829.012" width="8.672" height="10.097" fill="#e8896c"/>
<rect x="611.405" y="829.012" width="8.672" height="10.097" fill="#f8bb9e"/>
<rect x="620.027" y="829.012" width="8.672" height="10.097" fill="#dae9f2"/>
<rect x="628.649" y="829.012" width="8.672" height="10.097" fill="#c6413e"/>
<rect x="637.270" y="829.012" width="8.672" height="10.097" fill="#ce4f45"/>
<rect x="645.892" y="829.012" width="8.672" height="10.097" fill="#e98b6e"/>
<rect x="654.514" y="829.012" width="8.672" height="10.097" fill="#eb9172"/>
<rect x="663.136" y="829.012" width="8.672" height="10.097" fill="#f5a886"/>
<rect x="671.758" y="829.012" width="8.672" height="10.097" fill="#c13639"/>
<rect x="680.380" y="829.012" width="8.672" height="10.097" fill="#c43b3c"/>
<rect x="689.002" y="829.012" width="8.672" height="10.097" fill="#4291c2"/>
<rect x="697.623" y="829.012" width="8.672" height="10.097" fill="#3b88be"/>
<rect x="706.245" y="829.012" width="8.672" height="10.097" fill="#8dc2dc"/>
<rect x="714.867" y="829.012" width="8.672" height="10.097" fill="#71b0d3"/>
<rect x="723.489" y="829.012" width="8.672" height="10.097" fill="#2f79b5"/>
<rect x="732.111" y="829.012" width="8.672" height="10.097" fill="#3f8ec0"/>
<rect x="740.733" y="829.012" width="8.672" height="10.097" fill="#96c7df"/>
<rect x="749.355" y="829.012" width="8.672" height="10.097" fill="#7eb8d7"/>
<rect x="757.977" y="829.012" width="8.672" height="10.097" fill="#75b2d4"/>
<rect x="766.598" y="829.012" width="8.672" height="10.097" fill="#6bacd1"/>
<rect x="775.220" y="829.012" width="8.672" height="10.097" fill="#78b4d5"/>
<rect x="783.842" y="829.012" width="8.672" height="10.097" fill="#3e8cbf"/>
<rect x="792.464" y="829.012" width="8.672" height="10.097" fill="#f8bb9e"/>
<rect x="801.086" y="829.012" width="8.672" height="10.097" fill="#e37e64"/>
<rect x="809.708" y="829.012" width="8.672" height="10.097" fill="#ae172a"/>
<rect x="818.330" y="829.012" width="8.672" height="10.097" fill="#67001f"/>
<rect x="826.951" y="829.012" width="8.672" height="10.097" fill="#840924"/>
<rect x="835.573" y="829.012" width="8.672" height="10.097" fill="#9c1127"/>
<rect x="533.808" y="839.059" width="8.672" height="10.097" fill="#f0f4f6"/>
<rect x="542.430" y="839.059" width="8.672" height="10.097" fill="#c5dfec"/>
<rect x="551.052" y="839.059" width="8.672" height="10.097" fill="#fdd9c4"/>
<rect x="559.674" y="839.059" width="8.672" height="10.097" fill="#f5a886"/>
<rect x="568.295" y="839.059" width="8.672" height="10.097" fill="#f2f5f6"/>
<rect x="576.917" y="839.059" width="8.672" height="10.097" fill="#a7d0e4"/>
<rect x="585.539" y="839.059" width="8.672" height="10.097" fill="#78b4d5"/>
<rect x="594.161" y="839.059" width="8.672" height="10.097" fill="#fcdfcf"/>
<rect x="602.783" y="839.059" width="8.672" height="10.097" fill="#fce0d0"/>
<rect x="611.405" y="839.059" width="8.672" height="10.097" fill="#f0f4f6"/>
<rect x="620.027" y="839.059" width="8.672" height="10.097" fill="#62a7ce"/>
<rect x="628.649" y="839.059" width="8.672" height="10.097" fill="#f4a683"/>
<rect x="637.270" y="839.059" width="8.672" height="10.097" fill="#9f1228"/>
<rect x="645.892" y="839.059" width="8.672" height="10.097" fill="#be3036"/>
<rect x="654.514" y="839.059" width="8.672" height="10.097" fill="#bf3338"/>
<rect x="663.136" y="839.059" width="8.672" height="10.097" fill="#ce4f45"/>
<rect x="671.758" y="839.059" width="8.672" height="10.097" fill="#870a24"/>
<rect x="680.380" y="839.059" width="8.672" height="10.097" fill="#9f1228"/>
<rect x="689.002" y="839.059" width="8.672" height="10.097" fill="#2369ad"/>
<rect x="697.623" y="839.059" width="8.672" height="10.097" fill="#185493"/>
<rect x="706.245" y="839.059" width="8.672" height="10.097" fill="#408fc1"/>
<rect x="714.867" y="839.059" width="8.672" height="10.097" fill="#3885bc"/>
<rect x="723.489" y="839.059" width="8.672" height="10.097" fill="#134c87"/>
<rect x="732.111" y="839.059" width="8.672" height="10.097" fill="#2870b1"/>
<rect x="740.733" y="839.059" width="8.672" height="10.097" fill="#eff3f5"/>
<rect x="749.355" y="839.059" width="8.672" height="10.097" fill="#e4eef4"/>
<rect x="757.977" y="839.059" width="8.672" height="10.097" fill="#e0ecf3"/>
<rect x="766.598" y="839.059" width="8.672" height="10.097" fill="#dae9f2"/>
<rect x="775.220" y="839.059" width="8.672" height="10.097" fill="#e1edf3"/>
<rect x="783.842" y="839.059" width="8.672" height="10.097" fill="#96c7df"/>
<rect x="792.464" y="839.059" width="8.672" height="10.097" fill="#f5a886"/>
<rect x="801.086" y="839.059" width="8.672" height="10.097" fill="#d6604d"/>
<rect x="809.708" y="839.059" width="8.672" height="10.097" fill="#870a24"/>
<rect x="818.330" y="839.059" width="8.672" height="10.097" fill="#840924"/>
<rect x="826.951" y="839.059" width="8.672" height="10.097" fill="#67001f"/>
<rect x="835.573" y="839.059" width="8.672" height="10.097" fill="#7f0823"/>
<rect x="533.808" y="849.105" width="8.672" height="10.097" fill="#96c7df"/>
<rect x="542.430" y="849.105" width="8.672" height="10.097" fill="#569fc9"/>
<rect x="551.052" y="849.105" width="8.672" height="10.097" fill="#ddebf2"/>
<rect x="559.674" y="849.105" width="8.672" height="10.097" fill="#f8f4f2"/>
<rect x="568.295" y="849.105" width="8.672" height="10.097" fill="#9dcbe1"/>
<rect x="576.917" y="849.105" width="8.672" height="10.097" fill="#3b88be"/>
<rect x="585.539" y="849.105" width="8.672" height="10.097" fill="#9dcbe1"/>
<rect x="594.161" y="849.105" width="8.672" height="10.097" fill="#fdd9c4"/>
<rect x="602.783" y="849.105" width="8.672" height="10.097" fill="#fddcc9"/>
<rect x="611.405" y="849.105" width="8.672" height="10.097" fill="#f0f4f6"/>
<rect x="620.027" y="849.105" width="8.672" height="10.097" fill="#6eaed2"/>
<rect x="628.649" y="849.105" width="8.672" height="10.097" fill="#ef9979"/>
<rect x="637.270" y="849.105" width="8.672" height="10.097" fill="#870a24"/>
<rect x="645.892" y="849.105" width="8.672" height="10.097" fill="#ae172a"/>
<rect x="654.514" y="849.105" width="17.294" height="10.097" fill="#bb2a34"/>
<rect x="671.758" y="849.105" width="8.672" height="10.097" fill="#930e26"/>
<rect x="680.380" y="849.105" width="8.672" height="10.097" fill="#760521"/>
<rect x="689.002" y="849.105" width="8.672" height="10.097" fill="#4f9bc7"/>
<rect x="697.623" y="849.105" width="8.672" height="10.097" fill="#2b73b3"/>
<rect x="706.245" y="849.105" width="8.672" height="10.097" fill="#a0cce2"/>
<rect x="714.867" y="849.105" width="8.672" height="10.097" fill="#87beda"/>
<rect x="723.489" y="849.105" width="8.672" height="10.097" fill="#2c75b4"/>
<rect x="732.111" y="849.105" width="8.672" height="10.097" fill="#6bacd1"/>
<rect x="740.733" y="849.105" width="8.672" height="10.097" fill="#e7f0f4"/>
<rect x="749.355" y="849.105" width="8.672" height="10.097" fill="#dae9f2"/>
<rect x="757.977" y="849.105" width="8.672" height="10.097" fill="#d7e8f1"/>
<rect x="766.598" y="849.105" width="8.672" height="10.097" fill="#cce2ef"/>
<rect x="775.220" y="849.105" width="8.672" height="10.097" fill="#d5e7f1"/>
<rect x="783.842" y="849.105" width="8.672" height="10.097" fill="#4393c3"/>
<rect x="792.464" y="849.105" width="8.672" height="10.097" fill="#c6413e"/>
<rect x="801.086" y="849.105" width="8.672" height="10.097" fill="#a51429"/>
<rect x="809.708" y="849.105" width="8.672" height="10.097" fill="#6d0220"/>
<rect x="818.330" y="849.105" width="8.672" height="10.097" fill="#9c1127"/>
<rect x="826.951" y="849.105" width="8.672" height="10.097" fill="#7f0823"/>
<rect x="835.573" y="849.105" width="8.672" height="10.097" fill="#67001f"/>
</g>
   <g id="matplotlib.axis_11">
    <g id="xtick_105">
     <g id="line2d_221">
      <g>
       <path d="M 0 0 L 0 3.5" transform="translate(538.118933 859.152)" style="stroke: #000000; stroke-width: 0.8; stroke: #000000; stroke-width: 0.8"/>
      </g>
     </g>
     <g id="text_128">
      <text style="font-size: 5px; font-family: 'DejaVu Sans', 'Liberation Sans', sans-serif" transform="translate(539.4291 906.9097) rotate(-90)">stack_push_pop</text>
     </g>
    </g>
    <g id="xtick_106">
     <g id="line2d_222">
      <g>
       <path d="M 0 0 L 0 3.5" transform="translate(546.7408 859.152)" style="stroke: #000000; stroke-width: 0.8; stroke: #000000; stroke-width: 0.8"/>
      </g>
     </g>
     <g id="text_129">
      <text style="font-size: 5px; font-family: 'DejaVu Sans', 'Liberation Sans', sans-serif" transform="translate(548.0510 896.0995) rotate(-90)">queue_impl</text>
     </g>
    </g>
    <g id="xtick_107">
     <g id="line2d_223">
      <g>
       <path d="M 0 0 L 0 3.5" transform="translate(555.362667 859.152)" style="stroke: #000000; stroke-width: 0.8; stroke: #000000; stroke-width: 0.8"/>
      </g>
     </g>
     <g id="text_130">
      <text style="font-size: 5px; font-family: 'DejaVu Sans', 'Liberation Sans', sans-serif" transform="translate(556.6728 891.8667) rotate(-90)">linked_list</text>
     </g>
    </g>
    <g id="xtick_108">
     <g id="line2d_224">
      <g>
       <path d="M 0 0 L 0 3.5" transform="translate(563.984533 859.152)" style="stroke: #000000; stroke-width: 0.8; stroke: #000000; stroke-width: 0.8"/>
      </g>
     </g>
     <g id="text_131">
      <text style="font-size: 5px; font-family: 'DejaVu Sans', 'Liberation Sans', sans-serif" transform="translate(565.2947 895.4792) rotate(-90)">binary_tree</text>
     </g>
    </g>
    <g id="xtick_109">
     <g id="line2d_225">
      <g>
       <path d="M 0 0 L 0 3.5" transform="translate(572.6064 859.152)" style="stroke: #000000; stroke-width: 0.8; stroke: #000000; stroke-width: 0.8"/>
      </g>
     </g>
     <g id="text_132">
      <text style="font-size: 5px; font-family: 'DejaVu Sans', 'Liberation Sans', sans-serif" transform="translate(573.9166 892.7268) rotate(-90)">hash_map</text>
     </g>
    </g>
    <g id="xtick_110">
     <g id="line2d_226">
      <g>
       <path d="M 0 0 L 0 3.5" transform="translate(581.228267 859.152)" style="stroke: #000000; stroke-width: 0.8; stroke: #000000; stroke-width: 0.8"/>
      </g>
     </g>
     <g id="text_133">
      <text style="font-size: 5px; font-family: 'DejaVu Sans', 'Liberation Sans', sans-serif" transform="translate(582.5384 903.3190) rotate(-90)">priority_queue</text>
     </g>
    </g>
    <g id="xtick_111">
     <g id="line2d_227">
      <g>
       <path d="M 0 0 L 0 3.5" transform="translate(589.850133 859.152)" style="stroke: #000000; stroke-width: 0.8; stroke: #000000; stroke-width: 0.8"/>
      </g>
     </g>
     <g id="text_134">
      <text style="font-size: 5px; font-family: 'DejaVu Sans', 'Liberation Sans', sans-serif" transform="translate(591.1603 891.0917) rotate(-90)">read_json</text>
     </g>
    </g>
    <g id="xtick_112">
     <g id="line2d_228">
      <g>
       <path d="M 0 0 L 0 3.5" transform="translate(598.472 859.152)" style="stroke: #000000; stroke-width: 0.8; stroke: #000000; stroke-width: 0.8"/>
      </g>
     </g>
     <g id="text_135">
      <text style="font-size: 5px; font-family: 'DejaVu Sans', 'Liberation Sans', sans-serif" transform="translate(599.7822 889.7972) rotate(-90)">write_file</text>
     </g>
    </g>
    <g id="xtick_113">
     <g id="line2d_229">
      <g>
       <path d="M 0 0 L 0 3.5" transform="translate(607.093867 859.152)" style="stroke: #000000; stroke-width: 0.8; stroke: #000000; stroke-width: 0.8"/>
      </g>
     </g>
     <g id="text_136">
      <text style="font-size: 5px; font-family: 'DejaVu Sans', 'Liberation Sans', sans-serif" transform="translate(608.4040 889.1831) rotate(-90)">read_csv</text>
     </g>
    </g>
    <g id="xtick_114">
     <g id="line2d_230">
      <g>
       <path d="M 0 0 L 0 3.5" transform="translate(615.715733 859.152)" style="stroke: #000000; stroke-width: 0.8; stroke: #000000; stroke-width: 0.8"/>
      </g>
     </g>
     <g id="text_137">
      <text style="font-size: 5px; font-family: 'DejaVu Sans', 'Liberation Sans', sans-serif" transform="translate(617.0259 893.1526) rotate(-90)">read_yaml</text>
     </g>
    </g>
    <g id="xtick_115">
     <g id="line2d_231">
      <g>
       <path d="M 0 0 L 0 3.5" transform="translate(624.3376 859.152)" style="stroke: #000000; stroke-width: 0.8; stroke: #000000; stroke-width: 0.8"/>
      </g>
     </g>
     <g id="text_138">
      <text style="font-size: 5px; font-family: 'DejaVu Sans', 'Liberation Sans', sans-serif" transform="translate(625.6478 892.4042) rotate(-90)">write_json</text>
     </g>
    </g>
    <g id="xtick_116">
     <g id="line2d_232">
      <g>
       <path d="M 0 0 L 0 3.5" transform="translate(632.959467 859.152)" style="stroke: #000000; stroke-width: 0.8; stroke: #000000; stroke-width: 0.8"/>
      </g>
     </g>
     <g id="text_139">
      <text style="font-size: 5px; font-family: 'DejaVu Sans', 'Liberation Sans', sans-serif" transform="translate(634.2696 892.4979) rotate(-90)">read_lines</text>
     </g>
    </g>
    <g id="xtick_117">
     <g id="line2d_233">
      <g>
       <path d="M 0 0 L 0 3.5" transform="translate(641.581333 859.152)" style="stroke: #000000; stroke-width: 0.8; stroke: #000000; stroke-width: 0.8"/>
      </g>
     </g>
     <g id="text_140">
      <text style="font-size: 5px; font-family: 'DejaVu Sans', 'Liberation Sans', sans-serif" transform="translate(642.9610 887.6026) rotate(-90)">factorial</text>
     </g>
    </g>
    <g id="xtick_118">
     <g id="line2d_234">
      <g>
       <path d="M 0 0 L 0 3.5" transform="translate(650.2032 859.152)" style="stroke: #000000; stroke-width: 0.8; stroke: #000000; stroke-width: 0.8"/>
      </g>
     </g>
     <g id="text_141">
      <text style="font-size: 5px; font-family: 'DejaVu Sans', 'Liberation Sans', sans-serif" transform="translate(651.5829 889.6151) rotate(-90)">fibonacci</text>
     </g>
    </g>
    <g id="xtick_119">
     <g id="line2d_235">
      <g>
       <path d="M 0 0 L 0 3.5" transform="translate(658.825067 859.152)" style="stroke: #000000; stroke-width: 0.8; stroke: #000000; stroke-width: 0.8"/>
      </g>
     </g>
     <g id="text_142">
      <text style="font-size: 5px; font-family: 'DejaVu Sans', 'Liberation Sans', sans-serif" transform="translate(660.2048 876.2097) rotate(-90)">gcd</text>
     </g>
    </g>
    <g id="xtick_120">
     <g id="line2d_236">
      <g>
       <path d="M 0 0 L 0 3.5" transform="translate(667.446933 859.152)" style="stroke: #000000; stroke-width: 0.8; stroke: #000000; stroke-width: 0.8"/>
      </g>
     </g>
     <g id="text_143">
      <text style="font-size: 5px; font-family: 'DejaVu Sans', 'Liberation Sans', sans-serif" transform="translate(668.7571 888.1714) rotate(-90)">is_prime</text>
     </g>
    </g>
    <g id="xtick_121">
     <g id="line2d_237">
      <g>
       <path d="M 0 0 L 0 3.5" transform="translate(676.0688 859.152)" style="stroke: #000000; stroke-width: 0.8; stroke: #000000; stroke-width: 0.8"/>
      </g>
     </g>
     <g id="text_144">
      <text style="font-size: 5px; font-family: 'DejaVu Sans', 'Liberation Sans', sans-serif" transform="translate(677.4485 882.5667) rotate(-90)">power</text>
     </g>
    </g>
    <g id="xtick_122">
     <g id="line2d_238">
      <g>
       <path d="M 0 0 L 0 3.5" transform="translate(684.690667 859.152)" style="stroke: #000000; stroke-width: 0.8; stroke: #000000; stroke-width: 0.8"/>
      </g>
     </g>
     <g id="text_145">
      <text style="font-size: 5px; font-family: 'DejaVu Sans', 'Liberation Sans', sans-serif" transform="translate(686.0008 893.9472) rotate(-90)">sum_digits</text>
     </g>
    </g>
    <g id="xtick_123">
     <g id="line2d_239">
      <g>
       <path d="M 0 0 L 0 3.5" transform="translate(693.312533 859.152)" style="stroke: #000000; stroke-width: 0.8; stroke: #000000; stroke-width: 0.8"/>
      </g>
     </g>
     <g id="text_146">
      <text style="font-size: 5px; font-family: 'DejaVu Sans', 'Liberation Sans', sans-serif" transform="translate(694.6227 888.0862) rotate(-90)">http_get</text>
     </g>
    </g>
    <g id="xtick_124">
     <g id="line2d_240">
      <g>
       <path d="M 0 0 L 0 3.5" transform="translate(701.9344 859.152)" style="stroke: #000000; stroke-width: 0.8; stroke: #000000; stroke-width: 0.8"/>
      </g>
     </g>
     <g id="text_147">
      <text style="font-size: 5px; font-family: 'DejaVu Sans', 'Liberation Sans', sans-serif" transform="translate(703.2446 891.6729) rotate(-90)">post_data</text>
     </g>
    </g>
    <g id="xtick_125">
     <g id="line2d_241">
      <g>
       <path d="M 0 0 L 0 3.5" transform="translate(710.556267 859.152)" style="stroke: #000000; stroke-width: 0.8; stroke: #000000; stroke-width: 0.8"/>
      </g>
     </g>
     <g id="text_148">
      <text style="font-size: 5px; font-family: 'DejaVu Sans', 'Liberation Sans', sans-serif" transform="translate(711.8664 888.9401) rotate(-90)">fetch_url</text>
     </g>
    </g>
    <g id="xtick_126">
     <g id="line2d_242">
      <g>
       <path d="M 0 0 L 0 3.5" transform="translate(719.178133 859.152)" style="stroke: #000000; stroke-width: 0.8; stroke: #000000; stroke-width: 0.8"/>
      </g>
     </g>
     <g id="text_149">
      <text style="font-size: 5px; font-family: 'DejaVu Sans', 'Liberation Sans', sans-serif" transform="translate(720.4883 901.4050) rotate(-90)">download_file</text>
     </g>
    </g>
    <g id="xtick_127">
     <g id="line2d_243">
      <g>
       <path d="M 0 0 L 0 3.5" transform="translate(727.8 859.152)" style="stroke: #000000; stroke-width: 0.8; stroke: #000000; stroke-width: 0.8"/>
      </g>
     </g>
     <g id="text_150">
      <text style="font-size: 5px; font-family: 'DejaVu Sans', 'Liberation Sans', sans-serif" transform="translate(729.1102 888.1784) rotate(-90)">http_put</text>
     </g>
    </g>
    <g id="xtick_128">
     <g id="line2d_244">
      <g>
       <path d="M 0 0 L 0 3.5" transform="translate(736.421867 859.152)" style="stroke: #000000; stroke-width: 0.8; stroke: #000000; stroke-width: 0.8"/>
      </g>
     </g>
     <g id="text_151">
      <text style="font-size: 5px; font-family: 'DejaVu Sans', 'Liberation Sans', sans-serif" transform="translate(737.7320 895.6284) rotate(-90)">http_delete</text>
     </g>
    </g>
    <g id="xtick_129">
     <g id="line2d_245">
      <g>
       <path d="M 0 0 L 0 3.5" transform="translate(745.043733 859.152)" style="stroke: #000000; stroke-width: 0.8; stroke: #000000; stroke-width: 0.8"/>
      </g>
     </g>
     <g id="text_152">
      <text style="font-size: 5px; font-family: 'DejaVu Sans', 'Liberation Sans', sans-serif" transform="translate(746.3539 896.4487) rotate(-90)">bubble_sort</text>
     </g>
    </g>
    <g id="xtick_130">
     <g id="line2d_246">
      <g>
       <path d="M 0 0 L 0 3.5" transform="translate(753.6656 859.152)" style="stroke: #000000; stroke-width: 0.8; stroke: #000000; stroke-width: 0.8"/>
      </g>
     </g>
     <g id="text_153">
      <text style="font-size: 5px; font-family: 'DejaVu Sans', 'Liberation Sans', sans-serif" transform="translate(754.9758 892.6683) rotate(-90)">quick_sort</text>
     </g>
    </g>
    <g id="xtick_131">
     <g id="line2d_247">
      <g>
       <path d="M 0 0 L 0 3.5" transform="translate(762.287467 859.152)" style="stroke: #000000; stroke-width: 0.8; stroke: #000000; stroke-width: 0.8"/>
      </g>
     </g>
     <g id="text_154">
      <text style="font-size: 5px; font-family: 'DejaVu Sans', 'Liberation Sans', sans-serif" transform="translate(763.5281 895.4573) rotate(-90)">merge_sort</text>
     </g>
    </g>
    <g id="xtick_132">
     <g id="line2d_248">
      <g>
       <path d="M 0 0 L 0 3.5" transform="translate(770.909333 859.152)" style="stroke: #000000; stroke-width: 0.8; stroke: #000000; stroke-width: 0.8"/>
      </g>
     </g>
     <g id="text_155">
      <text style="font-size: 5px; font-family: 'DejaVu Sans', 'Liberation Sans', sans-serif" transform="translate(772.2195 901.1636) rotate(-90)">insertion_sort</text>
     </g>
    </g>
    <g id="xtick_133">
     <g id="line2d_249">
      <g>
       <path d="M 0 0 L 0 3.5" transform="translate(779.5312 859.152)" style="stroke: #000000; stroke-width: 0.8; stroke: #000000; stroke-width: 0.8"/>
      </g>
     </g>
     <g id="text_156">
      <text style="font-size: 5px; font-family: 'DejaVu Sans', 'Liberation Sans', sans-serif" transform="translate(780.8414 901.7651) rotate(-90)">selection_sort</text>
     </g>
    </g>
    <g id="xtick_134">
     <g id="line2d_250">
      <g>
       <path d="M 0 0 L 0 3.5" transform="translate(788.153067 859.152)" style="stroke: #000000; stroke-width: 0.8; stroke: #000000; stroke-width: 0.8"/>
      </g>
     </g>
     <g id="text_157">
      <text style="font-size: 5px; font-family: 'DejaVu Sans', 'Liberation Sans', sans-serif" transform="translate(789.4632 891.7753) rotate(-90)">heap_sort</text>
     </g>
    </g>
    <g id="xtick_135">
     <g id="line2d_251">
      <g>
       <path d="M 0 0 L 0 3.5" transform="translate(796.774933 859.152)" style="stroke: #000000; stroke-width: 0.8; stroke: #000000; stroke-width: 0.8"/>
      </g>
     </g>
     <g id="text_158">
      <text style="font-size: 5px; font-family: 'DejaVu Sans', 'Liberation Sans', sans-serif" transform="translate(798.0156 895.0245) rotate(-90)">reverse_str</text>
     </g>
    </g>
    <g id="xtick_136">
     <g id="line2d_252">
      <g>
       <path d="M 0 0 L 0 3.5" transform="translate(805.3968 859.152)" style="stroke: #000000; stroke-width: 0.8; stroke: #000000; stroke-width: 0.8"/>
      </g>
     </g>
     <g id="text_159">
      <text style="font-size: 5px; font-family: 'DejaVu Sans', 'Liberation Sans', sans-serif" transform="translate(806.7070 901.9143) rotate(-90)">is_palindrome</text>
     </g>
    </g>
    <g id="xtick_137">
     <g id="line2d_253">
      <g>
       <path d="M 0 0 L 0 3.5" transform="translate(814.018667 859.152)" style="stroke: #000000; stroke-width: 0.8; stroke: #000000; stroke-width: 0.8"/>
      </g>
     </g>
     <g id="text_160">
      <text style="font-size: 5px; font-family: 'DejaVu Sans', 'Liberation Sans', sans-serif" transform="translate(815.3288 900.8964) rotate(-90)">count_vowels</text>
     </g>
    </g>
    <g id="xtick_138">
     <g id="line2d_254">
      <g>
       <path d="M 0 0 L 0 3.5" transform="translate(822.640533 859.152)" style="stroke: #000000; stroke-width: 0.8; stroke: #000000; stroke-width: 0.8"/>
      </g>
     </g>
     <g id="text_161">
      <text style="font-size: 5px; font-family: 'DejaVu Sans', 'Liberation Sans', sans-serif" transform="translate(823.9507 908.3870) rotate(-90)">capitalize_words</text>
     </g>
    </g>
    <g id="xtick_139">
     <g id="line2d_255">
      <g>
       <path d="M 0 0 L 0 3.5" transform="translate(831.2624 859.152)" style="stroke: #000000; stroke-width: 0.8; stroke: #000000; stroke-width: 0.8"/>
      </g>
     </g>
     <g id="text_162">
      <text style="font-size: 5px; font-family: 'DejaVu Sans', 'Liberation Sans', sans-serif" transform="translate(832.5726 914.3472) rotate(-90)">remove_duplicates</text>
     </g>
    </g>
    <g id="xtick_140">
     <g id="line2d_256">
      <g>
       <path d="M 0 0 L 0 3.5" transform="translate(839.884267 859.152)" style="stroke: #000000; stroke-width: 0.8; stroke: #000000; stroke-width: 0.8"/>
      </g>
     </g>
     <g id="text_163">
      <text style="font-size: 5px; font-family: 'DejaVu Sans', 'Liberation Sans', sans-serif" transform="translate(841.1944 898.6136) rotate(-90)">count_words</text>
     </g>
    </g>
   </g>
   <g id="matplotlib.axis_12">
    <g id="ytick_64">
     <g id="line2d_257">
      <g>
       <path d="M 0 0 L -3.5 0" transform="translate(533.808 502.495333)" style="stroke: #000000; stroke-width: 0.8; stroke: #000000; stroke-width: 0.8"/>
      </g>
     </g>
     <g id="text_164">
      <text style="font-size: 5px; font-family: 'DejaVu Sans', 'Liberation Sans', sans-serif; text-anchor: end" x="526.8080" y="504.8749" transform="rotate(-0 526.8080 504.8749)">stack_push_pop</text>
     </g>
    </g>
    <g id="ytick_65">
     <g id="line2d_258">
      <g>
       <path d="M 0 0 L -3.5 0" transform="translate(533.808 512.542)" style="stroke: #000000; stroke-width: 0.8; stroke: #000000; stroke-width: 0.8"/>
      </g>
     </g>
     <g id="text_165">
      <text style="font-size: 5px; font-family: 'DejaVu Sans', 'Liberation Sans', sans-serif; text-anchor: end" x="526.8080" y="514.9216" transform="rotate(-0 526.8080 514.9216)">queue_impl</text>
     </g>
    </g>
    <g id="ytick_66">
     <g id="line2d_259">
      <g>
       <path d="M 0 0 L -3.5 0" transform="translate(533.808 522.588667)" style="stroke: #000000; stroke-width: 0.8; stroke: #000000; stroke-width: 0.8"/>
      </g>
     </g>
     <g id="text_166">
      <text style="font-size: 5px; font-family: 'DejaVu Sans', 'Liberation Sans', sans-serif; text-anchor: end" x="526.8080" y="524.9683" transform="rotate(-0 526.8080 524.9683)">linked_list</text>
     </g>
    </g>
    <g id="ytick_67">
     <g id="line2d_260">
      <g>
       <path d="M 0 0 L -3.5 0" transform="translate(533.808 532.635333)" style="stroke: #000000; stroke-width: 0.8; stroke: #000000; stroke-width: 0.8"/>
      </g>
     </g>
     <g id="text_167">
      <text style="font-size: 5px; font-family: 'DejaVu Sans', 'Liberation Sans', sans-serif; text-anchor: end" x="526.8080" y="535.0149" transform="rotate(-0 526.8080 535.0149)">binary_tree</text>
     </g>
    </g>
    <g id="ytick_68">
     <g id="line2d_261">
      <g>
       <path d="M 0 0 L -3.5 0" transform="translate(533.808 542.682)" style="stroke: #000000; stroke-width: 0.8; stroke: #000000; stroke-width: 0.8"/>
      </g>
     </g>
     <g id="text_168">
      <text style="font-size: 5px; font-family: 'DejaVu Sans', 'Liberation Sans', sans-serif; text-anchor: end" x="526.8080" y="545.0616" transform="rotate(-0 526.8080 545.0616)">hash_map</text>
     </g>
    </g>
    <g id="ytick_69">
     <g id="line2d_262">
      <g>
       <path d="M 0 0 L -3.5 0" transform="translate(533.808 552.728667)" style="stroke: #000000; stroke-width: 0.8; stroke: #000000; stroke-width: 0.8"/>
      </g>
     </g>
     <g id="text_169">
      <text style="font-size: 5px; font-family: 'DejaVu Sans', 'Liberation Sans', sans-serif; text-anchor: end" x="526.8080" y="555.1083" transform="rotate(-0 526.8080 555.1083)">priority_queue</text>
     </g>
    </g>
    <g id="ytick_70">
     <g id="line2d_263">
      <g>
       <path d="M 0 0 L -3.5 0" transform="translate(533.808 562.775333)" style="stroke: #000000; stroke-width: 0.8; stroke: #000000; stroke-width: 0.8"/>
      </g>
     </g>
     <g id="text_170">
      <text style="font-size: 5px; font-family: 'DejaVu Sans', 'Liberation Sans', sans-serif; text-anchor: end" x="526.8080" y="565.1549" transform="rotate(-0 526.8080 565.1549)">read_json</text>
     </g>
    </g>
    <g id="ytick_71">
     <g id="line2d_264">
      <g>
       <path d="M 0 0 L -3.5 0" transform="translate(533.808 572.822)" style="stroke: #000000; stroke-width: 0.8; stroke: #000000; stroke-width: 0.8"/>
      </g>
     </g>
     <g id="text_171">
      <text style="font-size: 5px; font-family: 'DejaVu Sans', 'Liberation Sans', sans-serif; text-anchor: end" x="526.8080" y="575.2016" transform="rotate(-0 526.8080 575.2016)">write_file</text>
     </g>
    </g>
    <g id="ytick_72">
     <g id="line2d_265">
      <g>
       <path d="M 0 0 L -3.5 0" transform="translate(533.808 582.868667)" style="stroke: #000000; stroke-width: 0.8; stroke: #000000; stroke-width: 0.8"/>
      </g>
     </g>
     <g id="text_172">
      <text style="font-size: 5px; font-family: 'DejaVu Sans', 'Liberation Sans', sans-serif; text-anchor: end" x="526.8080" y="585.2483" transform="rotate(-0 526.8080 585.2483)">read_csv</text>
     </g>
    </g>
    <g id="ytick_73">
     <g id="line2d_266">
      <g>
       <path d="M 0 0 L -3.5 0" transform="translate(533.808 592.915333)" style="stroke: #000000; stroke-width: 0.8; stroke: #000000; stroke-width: 0.8"/>
      </g>
     </g>
     <g id="text_173">
      <text style="font-size: 5px; font-family: 'DejaVu Sans', 'Liberation Sans', sans-serif; text-anchor: end" x="526.8080" y="595.2949" transform="rotate(-0 526.8080 595.2949)">read_yaml</text>
     </g>
    </g>
    <g id="ytick_74">
     <g id="line2d_267">
      <g>
       <path d="M 0 0 L -3.5 0" transform="translate(533.808 602.962)" style="stroke: #000000; stroke-width: 0.8; stroke: #000000; stroke-width: 0.8"/>
      </g>
     </g>
     <g id="text_174">
      <text style="font-size: 5px; font-family: 'DejaVu Sans', 'Liberation Sans', sans-serif; text-anchor: end" x="526.8080" y="605.3416" transform="rotate(-0 526.8080 605.3416)">write_json</text>
     </g>
    </g>
    <g id="ytick_75">
     <g id="line2d_268">
      <g>
       <path d="M 0 0 L -3.5 0" transform="translate(533.808 613.008667)" style="stroke: #000000; stroke-width: 0.8; stroke: #000000; stroke-width: 0.8"/>
      </g>
     </g>
     <g id="text_175">
      <text style="font-size: 5px; font-family: 'DejaVu Sans', 'Liberation Sans', sans-serif; text-anchor: end" x="526.8080" y="615.3883" transform="rotate(-0 526.8080 615.3883)">read_lines</text>
     </g>
    </g>
    <g id="ytick_76">
     <g id="line2d_269">
      <g>
       <path d="M 0 0 L -3.5 0" transform="translate(533.808 623.055333)" style="stroke: #000000; stroke-width: 0.8; stroke: #000000; stroke-width: 0.8"/>
      </g>
     </g>
     <g id="text_176">
      <text style="font-size: 5px; font-family: 'DejaVu Sans', 'Liberation Sans', sans-serif; text-anchor: end" x="526.8080" y="625.4349" transform="rotate(-0 526.8080 625.4349)">factorial</text>
     </g>
    </g>
    <g id="ytick_77">
     <g id="line2d_270">
      <g>
       <path d="M 0 0 L -3.5 0" transform="translate(533.808 633.102)" style="stroke: #000000; stroke-width: 0.8; stroke: #000000; stroke-width: 0.8"/>
      </g>
     </g>
     <g id="text_177">
      <text style="font-size: 5px; font-family: 'DejaVu Sans', 'Liberation Sans', sans-serif; text-anchor: end" x="526.8080" y="635.4816" transform="rotate(-0 526.8080 635.4816)">fibonacci</text>
     </g>
    </g>
    <g id="ytick_78">
     <g id="line2d_271">
      <g>
       <path d="M 0 0 L -3.5 0" transform="translate(533.808 643.148667)" style="stroke: #000000; stroke-width: 0.8; stroke: #000000; stroke-width: 0.8"/>
      </g>
     </g>
     <g id="text_178">
      <text style="font-size: 5px; font-family: 'DejaVu Sans', 'Liberation Sans', sans-serif; text-anchor: end" x="526.8080" y="645.5283" transform="rotate(-0 526.8080 645.5283)">gcd</text>
     </g>
    </g>
    <g id="ytick_79">
     <g id="line2d_272">
      <g>
       <path d="M 0 0 L -3.5 0" transform="translate(533.808 653.195333)" style="stroke: #000000; stroke-width: 0.8; stroke: #000000; stroke-width: 0.8"/>
      </g>
     </g>
     <g id="text_179">
      <text style="font-size: 5px; font-family: 'DejaVu Sans', 'Liberation Sans', sans-serif; text-anchor: end" x="526.8080" y="655.5749" transform="rotate(-0 526.8080 655.5749)">is_prime</text>
     </g>
    </g>
    <g id="ytick_80">
     <g id="line2d_273">
      <g>
       <path d="M 0 0 L -3.5 0" transform="translate(533.808 663.242)" style="stroke: #000000; stroke-width: 0.8; stroke: #000000; stroke-width: 0.8"/>
      </g>
     </g>
     <g id="text_180">
      <text style="font-size: 5px; font-family: 'DejaVu Sans', 'Liberation Sans', sans-serif; text-anchor: end" x="526.8080" y="665.6216" transform="rotate(-0 526.8080 665.6216)">power</text>
     </g>
    </g>
    <g id="ytick_81">
     <g id="line2d_274">
      <g>
       <path d="M 0 0 L -3.5 0" transform="translate(533.808 673.288667)" style="stroke: #000000; stroke-width: 0.8; stroke: #000000; stroke-width: 0.8"/>
      </g>
     </g>
     <g id="text_181">
      <text style="font-size: 5px; font-family: 'DejaVu Sans', 'Liberation Sans', sans-serif; text-anchor: end" x="526.8080" y="675.6683" transform="rotate(-0 526.8080 675.6683)">sum_digits</text>
     </g>
    </g>
    <g id="ytick_82">
     <g id="line2d_275">
      <g>
       <path d="M 0 0 L -3.5 0" transform="translate(533.808 683.335333)" style="stroke: #000000; stroke-width: 0.8; stroke: #000000; stroke-width: 0.8"/>
      </g>
     </g>
     <g id="text_182">
      <text style="font-size: 5px; font-family: 'DejaVu Sans', 'Liberation Sans', sans-serif; text-anchor: end" x="526.8080" y="685.7149" transform="rotate(-0 526.8080 685.7149)">http_get</text>
     </g>
    </g>
    <g id="ytick_83">
     <g id="line2d_276">
      <g>
       <path d="M 0 0 L -3.5 0" transform="translate(533.808 693.382)" style="stroke: #000000; stroke-width: 0.8; stroke: #000000; stroke-width: 0.8"/>
      </g>
     </g>
     <g id="text_183">
      <text style="font-size: 5px; font-family: 'DejaVu Sans', 'Liberation Sans', sans-serif; text-anchor: end" x="526.8080" y="695.7616" transform="rotate(-0 526.8080 695.7616)">post_data</text>
     </g>
    </g>
    <g id="ytick_84">
     <g id="line2d_277">
      <g>
       <path d="M 0 0 L -3.5 0" transform="translate(533.808 703.428667)" style="stroke: #000000; stroke-width: 0.8; stroke: #000000; stroke-width: 0.8"/>
      </g>
     </g>
     <g id="text_184">
      <text style="font-size: 5px; font-family: 'DejaVu Sans', 'Liberation Sans', sans-serif; text-anchor: end" x="526.8080" y="705.8083" transform="rotate(-0 526.8080 705.8083)">fetch_url</text>
     </g>
    </g>
    <g id="ytick_85">
     <g id="line2d_278">
      <g>
       <path d="M 0 0 L -3.5 0" transform="translate(533.808 713.475333)" style="stroke: #000000; stroke-width: 0.8; stroke: #000000; stroke-width: 0.8"/>
      </g>
     </g>
     <g id="text_185">
      <text style="font-size: 5px; font-family: 'DejaVu Sans', 'Liberation Sans', sans-serif; text-anchor: end" x="526.8080" y="715.8549" transform="rotate(-0 526.8080 715.8549)">download_file</text>
     </g>
    </g>
    <g id="ytick_86">
     <g id="line2d_279">
      <g>
       <path d="M 0 0 L -3.5 0" transform="translate(533.808 723.522)" style="stroke: #000000; stroke-width: 0.8; stroke: #000000; stroke-width: 0.8"/>
      </g>
     </g>
     <g id="text_186">
      <text style="font-size: 5px; font-family: 'DejaVu Sans', 'Liberation Sans', sans-serif; text-anchor: end" x="526.8080" y="725.9016" transform="rotate(-0 526.8080 725.9016)">http_put</text>
     </g>
    </g>
    <g id="ytick_87">
     <g id="line2d_280">
      <g>
       <path d="M 0 0 L -3.5 0" transform="translate(533.808 733.568667)" style="stroke: #000000; stroke-width: 0.8; stroke: #000000; stroke-width: 0.8"/>
      </g>
     </g>
     <g id="text_187">
      <text style="font-size: 5px; font-family: 'DejaVu Sans', 'Liberation Sans', sans-serif; text-anchor: end" x="526.8080" y="735.9483" transform="rotate(-0 526.8080 735.9483)">http_delete</text>
     </g>
    </g>
    <g id="ytick_88">
     <g id="line2d_281">
      <g>
       <path d="M 0 0 L -3.5 0" transform="translate(533.808 743.615333)" style="stroke: #000000; stroke-width: 0.8; stroke: #000000; stroke-width: 0.8"/>
      </g>
     </g>
     <g id="text_188">
      <text style="font-size: 5px; font-family: 'DejaVu Sans', 'Liberation Sans', sans-serif; text-anchor: end" x="526.8080" y="745.9949" transform="rotate(-0 526.8080 745.9949)">bubble_sort</text>
     </g>
    </g>
    <g id="ytick_89">
     <g id="line2d_282">
      <g>
       <path d="M 0 0 L -3.5 0" transform="translate(533.808 753.662)" style="stroke: #000000; stroke-width: 0.8; stroke: #000000; stroke-width: 0.8"/>
      </g>
     </g>
     <g id="text_189">
      <text style="font-size: 5px; font-family: 'DejaVu Sans', 'Liberation Sans', sans-serif; text-anchor: end" x="526.8080" y="756.0416" transform="rotate(-0 526.8080 756.0416)">quick_sort</text>
     </g>
    </g>
    <g id="ytick_90">
     <g id="line2d_283">
      <g>
       <path d="M 0 0 L -3.5 0" transform="translate(533.808 763.708667)" style="stroke: #000000; stroke-width: 0.8; stroke: #000000; stroke-width: 0.8"/>
      </g>
     </g>
     <g id="text_190">
      <text style="font-size: 5px; font-family: 'DejaVu Sans', 'Liberation Sans', sans-serif; text-anchor: end" x="526.8080" y="766.0187" transform="rotate(-0 526.8080 766.0187)">merge_sort</text>
     </g>
    </g>
    <g id="ytick_91">
     <g id="line2d_284">
      <g>
       <path d="M 0 0 L -3.5 0" transform="translate(533.808 773.755333)" style="stroke: #000000; stroke-width: 0.8; stroke: #000000; stroke-width: 0.8"/>
      </g>
     </g>
     <g id="text_191">
      <text style="font-size: 5px; font-family: 'DejaVu Sans', 'Liberation Sans', sans-serif; text-anchor: end" x="526.8080" y="776.1349" transform="rotate(-0 526.8080 776.1349)">insertion_sort</text>
     </g>
    </g>
    <g id="ytick_92">
     <g id="line2d_285">
      <g>
       <path d="M 0 0 L -3.5 0" transform="translate(533.808 783.802)" style="stroke: #000000; stroke-width: 0.8; stroke: #000000; stroke-width: 0.8"/>
      </g>
     </g>
     <g id="text_192">
      <text style="font-size: 5px; font-family: 'DejaVu Sans', 'Liberation Sans', sans-serif; text-anchor: end" x="526.8080" y="786.1816" transform="rotate(-0 526.8080 786.1816)">selection_sort</text>
     </g>
    </g>
    <g id="ytick_93">
     <g id="line2d_286">
      <g>
       <path d="M 0 0 L -3.5 0" transform="translate(533.808 793.848667)" style="stroke: #000000; stroke-width: 0.8; stroke: #000000; stroke-width: 0.8"/>
      </g>
     </g>
     <g id="text_193">
      <text style="font-size: 5px; font-family: 'DejaVu Sans', 'Liberation Sans', sans-serif; text-anchor: end" x="526.8080" y="796.2283" transform="rotate(-0 526.8080 796.2283)">heap_sort</text>
     </g>
    </g>
    <g id="ytick_94">
     <g id="line2d_287">
      <g>
       <path d="M 0 0 L -3.5 0" transform="translate(533.808 803.895333)" style="stroke: #000000; stroke-width: 0.8; stroke: #000000; stroke-width: 0.8"/>
      </g>
     </g>
     <g id="text_194">
      <text style="font-size: 5px; font-family: 'DejaVu Sans', 'Liberation Sans', sans-serif; text-anchor: end" x="526.8080" y="806.2054" transform="rotate(-0 526.8080 806.2054)">reverse_str</text>
     </g>
    </g>
    <g id="ytick_95">
     <g id="line2d_288">
      <g>
       <path d="M 0 0 L -3.5 0" transform="translate(533.808 813.942)" style="stroke: #000000; stroke-width: 0.8; stroke: #000000; stroke-width: 0.8"/>
      </g>
     </g>
     <g id="text_195">
      <text style="font-size: 5px; font-family: 'DejaVu Sans', 'Liberation Sans', sans-serif; text-anchor: end" x="526.8080" y="816.3216" transform="rotate(-0 526.8080 816.3216)">is_palindrome</text>
     </g>
    </g>
    <g id="ytick_96">
     <g id="line2d_289">
      <g>
       <path d="M 0 0 L -3.5 0" transform="translate(533.808 823.988667)" style="stroke: #000000; stroke-width: 0.8; stroke: #000000; stroke-width: 0.8"/>
      </g>
     </g>
     <g id="text_196">
      <text style="font-size: 5px; font-family: 'DejaVu Sans', 'Liberation Sans', sans-serif; text-anchor: end" x="526.8080" y="826.3683" transform="rotate(-0 526.8080 826.3683)">count_vowels</text>
     </g>
    </g>
    <g id="ytick_97">
     <g id="line2d_290">
      <g>
       <path d="M 0 0 L -3.5 0" transform="translate(533.808 834.035333)" style="stroke: #000000; stroke-width: 0.8; stroke: #000000; stroke-width: 0.8"/>
      </g>
     </g>
     <g id="text_197">
      <text style="font-size: 5px; font-family: 'DejaVu Sans', 'Liberation Sans', sans-serif; text-anchor: end" x="526.8080" y="836.4149" transform="rotate(-0 526.8080 836.4149)">capitalize_words</text>
     </g>
    </g>
    <g id="ytick_98">
     <g id="line2d_291">
      <g>
       <path d="M 0 0 L -3.5 0" transform="translate(533.808 844.082)" style="stroke: #000000; stroke-width: 0.8; stroke: #000000; stroke-width: 0.8"/>
      </g>
     </g>
     <g id="text_198">
      <text style="font-size: 5px; font-family: 'DejaVu Sans', 'Liberation Sans', sans-serif; text-anchor: end" x="526.8080" y="846.4616" transform="rotate(-0 526.8080 846.4616)">remove_duplicates</text>
     </g>
    </g>
    <g id="ytick_99">
     <g id="line2d_292">
      <g>
       <path d="M 0 0 L -3.5 0" transform="translate(533.808 854.128667)" style="stroke: #000000; stroke-width: 0.8; stroke: #000000; stroke-width: 0.8"/>
      </g>
     </g>
     <g id="text_199">
      <text style="font-size: 5px; font-family: 'DejaVu Sans', 'Liberation Sans', sans-serif; text-anchor: end" x="526.8080" y="856.5083" transform="rotate(-0 526.8080 856.5083)">count_words</text>
     </g>
    </g>
   </g>
   <g id="line2d_293">
    <path d="M 533.808 557.752 
L 844.1952 557.752 
" clip-path="url(#p465a06c6ae)" style="fill: none; stroke: #000000; stroke-linecap: square"/>
   </g>
   <g id="line2d_294">
    <path d="M 585.5392 859.152 
L 585.5392 497.472 
" clip-path="url(#p465a06c6ae)" style="fill: none; stroke: #000000; stroke-linecap: square"/>
   </g>
   <g id="line2d_295">
    <path d="M 533.808 618.032 
L 844.1952 618.032 
" clip-path="url(#p465a06c6ae)" style="fill: none; stroke: #000000; stroke-linecap: square"/>
   </g>
   <g id="line2d_296">
    <path d="M 637.2704 859.152 
L 637.2704 497.472 
" clip-path="url(#p465a06c6ae)" style="fill: none; stroke: #000000; stroke-linecap: square"/>
   </g>
   <g id="line2d_297">
    <path d="M 533.808 678.312 
L 844.1952 678.312 
" clip-path="url(#p465a06c6ae)" style="fill: none; stroke: #000000; stroke-linecap: square"/>
   </g>
   <g id="line2d_298">
    <path d="M 689.0016 859.152 
L 689.0016 497.472 
" clip-path="url(#p465a06c6ae)" style="fill: none; stroke: #000000; stroke-linecap: square"/>
   </g>
   <g id="line2d_299">
    <path d="M 533.808 738.592 
L 844.1952 738.592 
" clip-path="url(#p465a06c6ae)" style="fill: none; stroke: #000000; stroke-linecap: square"/>
   </g>
   <g id="line2d_300">
    <path d="M 740.7328 859.152 
L 740.7328 497.472 
" clip-path="url(#p465a06c6ae)" style="fill: none; stroke: #000000; stroke-linecap: square"/>
   </g>
   <g id="line2d_301">
    <path d="M 533.808 798.872 
L 844.1952 798.872 
" clip-path="url(#p465a06c6ae)" style="fill: none; stroke: #000000; stroke-linecap: square"/>
   </g>
   <g id="line2d_302">
    <path d="M 792.464 859.152 
L 792.464 497.472 
" clip-path="url(#p465a06c6ae)" style="fill: none; stroke: #000000; stroke-linecap: square"/>
   </g>
   <g id="patch_31">
    <path d="M 533.808 859.152 
L 533.808 497.472 
" style="fill: none; stroke: #000000; stroke-width: 0.8; stroke-linejoin: miter; stroke-linecap: square"/>
   </g>
   <g id="patch_32">
    <path d="M 844.1952 859.152 
L 844.1952 497.472 
" style="fill: none; stroke: #000000; stroke-width: 0.8; stroke-linejoin: miter; stroke-linecap: square"/>
   </g>
   <g id="patch_33">
    <path d="M 533.808 859.152 
L 844.1952 859.152 
" style="fill: none; stroke: #000000; stroke-width: 0.8; stroke-linejoin: miter; stroke-linecap: square"/>
   </g>
   <g id="patch_34">
    <path d="M 533.808 497.472 
L 844.1952 497.472 
" style="fill: none; stroke: #000000; stroke-width: 0.8; stroke-linejoin: miter; stroke-linecap: square"/>
   </g>
   <g id="text_200">
    <text style="font-weight: 700; font-size: 11px; font-family: 'DejaVu Sans', 'Liberation Sans', sans-serif; text-anchor: middle" x="689.0016" y="491.472" transform="rotate(-0 689.0016 491.472)">(e) Similarity Heatmap — PCA 3d (Denoised)</text>
   </g>
  </g>
  <g id="axes_7">
   <g id="patch_35">
    <path d="M 863.5944 822.984 
L 878.0616 822.984 
L 878.0616 533.64 
L 863.5944 533.64 
z
" style="fill: #ffffff"/>
   </g>
   <g id="CB_e" shape-rendering="crispEdges">
<rect x="863.594" y="533.640" width="14.467" height="1.430" fill="#67001f"/>
<rect x="863.594" y="534.770" width="14.467" height="1.430" fill="#6a011f"/>
<rect x="863.594" y="535.900" width="14.467" height="1.430" fill="#6d0220"/>
<rect x="863.594" y="537.031" width="14.467" height="1.430" fill="#700320"/>
<rect x="863.594" y="538.161" width="14.467" height="1.430" fill="#730421"/>
<rect x="863.594" y="539.291" width="14.467" height="1.430" fill="#760521"/>
<rect x="863.594" y="540.422" width="14.467" height="1.430" fill="#790622"/>
<rect x="863.594" y="541.552" width="14.467" height="1.430" fill="#7c0722"/>
<rect x="863.594" y="542.682" width="14.467" height="1.430" fill="#7f0823"/>
<rect x="863.594" y="543.812" width="14.467" height="1.430" fill="#810823"/>
<rect x="863.594" y="544.942" width="14.467" height="1.430" fill="#840924"/>
<rect x="863.594" y="546.073" width="14.467" height="1.430" fill="#870a24"/>
<rect x="863.594" y="547.203" width="14.467" height="1.430" fill="#8a0b25"/>
<rect x="863.594" y="548.333" width="14.467" height="1.430" fill="#8d0c25"/>
<rect x="863.594" y="549.463" width="14.467" height="1.430" fill="#900d26"/>
<rect x="863.594" y="550.594" width="14.467" height="1.430" fill="#930e26"/>
<rect x="863.594" y="551.724" width="14.467" height="1.430" fill="#960f27"/>
<rect x="863.594" y="552.854" width="14.467" height="1.430" fill="#991027"/>
<rect x="863.594" y="553.985" width="14.467" height="1.430" fill="#9c1127"/>
<rect x="863.594" y="555.115" width="14.467" height="1.430" fill="#9f1228"/>
<rect x="863.594" y="556.245" width="14.467" height="1.430" fill="#a21328"/>
<rect x="863.594" y="557.375" width="14.467" height="1.430" fill="#a51429"/>
<rect x="863.594" y="558.505" width="14.467" height="1.430" fill="#a81529"/>
<rect x="863.594" y="559.636" width="14.467" height="1.430" fill="#ab162a"/>
<rect x="863.594" y="560.766" width="14.467" height="1.430" fill="#ae172a"/>
<rect x="863.594" y="561.896" width="14.467" height="1.430" fill="#b1182b"/>
<rect x="863.594" y="563.026" width="14.467" height="1.430" fill="#b3192c"/>
<rect x="863.594" y="564.157" width="14.467" height="1.430" fill="#b41c2d"/>
<rect x="863.594" y="565.287" width="14.467" height="1.430" fill="#b61f2e"/>
<rect x="863.594" y="566.417" width="14.467" height="1.430" fill="#b72230"/>
<rect x="863.594" y="567.548" width="14.467" height="1.430" fill="#b82531"/>
<rect x="863.594" y="568.678" width="14.467" height="1.430" fill="#ba2832"/>
<rect x="863.594" y="569.808" width="14.467" height="1.430" fill="#bb2a34"/>
<rect x="863.594" y="570.938" width="14.467" height="1.430" fill="#bd2d35"/>
<rect x="863.594" y="572.068" width="14.467" height="1.430" fill="#be3036"/>
<rect x="863.594" y="573.199" width="14.467" height="1.430" fill="#bf3338"/>
<rect x="863.594" y="574.329" width="14.467" height="1.430" fill="#c13639"/>
<rect x="863.594" y="575.459" width="14.467" height="1.430" fill="#c2383a"/>
<rect x="863.594" y="576.590" width="14.467" height="1.430" fill="#c43b3c"/>
<rect x="863.594" y="577.720" width="14.467" height="1.430" fill="#c53e3d"/>
<rect x="863.594" y="578.850" width="14.467" height="1.430" fill="#c6413e"/>
<rect x="863.594" y="579.980" width="14.467" height="1.430" fill="#c84440"/>
<rect x="863.594" y="581.111" width="14.467" height="1.430" fill="#c94741"/>
<rect x="863.594" y="582.241" width="14.467" height="1.430" fill="#cb4942"/>
<rect x="863.594" y="583.371" width="14.467" height="1.430" fill="#cc4c44"/>
<rect x="863.594" y="584.501" width="14.467" height="1.430" fill="#ce4f45"/>
<rect x="863.594" y="585.631" width="14.467" height="1.430" fill="#cf5246"/>
<rect x="863.594" y="586.762" width="14.467" height="1.430" fill="#d05548"/>
<rect x="863.594" y="587.892" width="14.467" height="1.430" fill="#d25849"/>
<rect x="863.594" y="589.022" width="14.467" height="1.430" fill="#d35a4a"/>
<rect x="863.594" y="590.153" width="14.467" height="1.430" fill="#d55d4c"/>
<rect x="863.594" y="591.283" width="14.467" height="1.430" fill="#d6604d"/>
<rect x="863.594" y="592.413" width="14.467" height="1.430" fill="#d7634f"/>
<rect x="863.594" y="593.543" width="14.467" height="1.430" fill="#d86551"/>
<rect x="863.594" y="594.673" width="14.467" height="1.430" fill="#da6853"/>
<rect x="863.594" y="595.804" width="14.467" height="1.430" fill="#db6b55"/>
<rect x="863.594" y="596.934" width="14.467" height="1.430" fill="#dc6e57"/>
<rect x="863.594" y="598.064" width="14.467" height="1.430" fill="#dd7059"/>
<rect x="863.594" y="599.195" width="14.467" height="1.430" fill="#de735c"/>
<rect x="863.594" y="600.325" width="14.467" height="1.430" fill="#df765e"/>
<rect x="863.594" y="601.455" width="14.467" height="1.430" fill="#e17860"/>
<rect x="863.594" y="602.585" width="14.467" height="1.430" fill="#e27b62"/>
<rect x="863.594" y="603.716" width="14.467" height="1.430" fill="#e37e64"/>
<rect x="863.594" y="604.846" width="14.467" height="1.430" fill="#e48066"/>
<rect x="863.594" y="605.976" width="14.467" height="1.430" fill="#e58368"/>
<rect x="863.594" y="607.106" width="14.467" height="1.430" fill="#e6866a"/>
<rect x="863.594" y="608.236" width="14.467" height="1.430" fill="#e8896c"/>
<rect x="863.594" y="609.367" width="14.467" height="1.430" fill="#e98b6e"/>
<rect x="863.594" y="610.497" width="14.467" height="1.430" fill="#ea8e70"/>
<rect x="863.594" y="611.627" width="14.467" height="1.430" fill="#eb9172"/>
<rect x="863.594" y="612.757" width="14.467" height="1.430" fill="#ec9374"/>
<rect x="863.594" y="613.888" width="14.467" height="1.430" fill="#ee9677"/>
<rect x="863.594" y="615.018" width="14.467" height="1.430" fill="#ef9979"/>
<rect x="863.594" y="616.148" width="14.467" height="1.430" fill="#f09c7b"/>
<rect x="863.594" y="617.279" width="14.467" height="1.430" fill="#f19e7d"/>
<rect x="863.594" y="618.409" width="14.467" height="1.430" fill="#f2a17f"/>
<rect x="863.594" y="619.539" width="14.467" height="1.430" fill="#f3a481"/>
<rect x="863.594" y="620.669" width="14.467" height="1.430" fill="#f4a683"/>
<rect x="863.594" y="621.799" width="14.467" height="1.430" fill="#f5a886"/>
<rect x="863.594" y="622.930" width="14.467" height="1.430" fill="#f5aa89"/>
<rect x="863.594" y="624.060" width="14.467" height="1.430" fill="#f5ac8b"/>
<rect x="863.594" y="625.190" width="14.467" height="1.430" fill="#f6af8e"/>
<rect x="863.594" y="626.321" width="14.467" height="1.430" fill="#f6b191"/>
<rect x="863.594" y="627.451" width="14.467" height="1.430" fill="#f6b394"/>
<rect x="863.594" y="628.581" width="14.467" height="1.430" fill="#f7b596"/>
<rect x="863.594" y="629.711" width="14.467" height="1.430" fill="#f7b799"/>
<rect x="863.594" y="630.841" width="14.467" height="1.430" fill="#f7b99c"/>
<rect x="863.594" y="631.972" width="14.467" height="1.430" fill="#f8bb9e"/>
<rect x="863.594" y="633.102" width="14.467" height="1.430" fill="#f8bda1"/>
<rect x="863.594" y="634.232" width="14.467" height="1.430" fill="#f8bfa4"/>
<rect x="863.594" y="635.362" width="14.467" height="1.430" fill="#f9c2a7"/>
<rect x="863.594" y="636.493" width="14.467" height="1.430" fill="#f9c4a9"/>
<rect x="863.594" y="637.623" width="14.467" height="1.430" fill="#f9c6ac"/>
<rect x="863.594" y="638.753" width="14.467" height="1.430" fill="#fac8af"/>
<rect x="863.594" y="639.884" width="14.467" height="1.430" fill="#facab1"/>
<rect x="863.594" y="641.014" width="14.467" height="1.430" fill="#fbccb4"/>
<rect x="863.594" y="642.144" width="14.467" height="1.430" fill="#fbceb7"/>
<rect x="863.594" y="643.274" width="14.467" height="1.430" fill="#fbd0b9"/>
<rect x="863.594" y="644.404" width="14.467" height="1.430" fill="#fcd3bc"/>
<rect x="863.594" y="645.535" width="14.467" height="1.430" fill="#fcd5bf"/>
<rect x="863.594" y="646.665" width="14.467" height="1.430" fill="#fcd7c2"/>
<rect x="863.594" y="647.795" width="14.467" height="1.430" fill="#fdd9c4"/>
<rect x="863.594" y="648.926" width="14.467" height="1.430" fill="#fddbc7"/>
<rect x="863.594" y="650.056" width="14.467" height="1.430" fill="#fddcc9"/>
<rect x="863.594" y="651.186" width="14.467" height="1.430" fill="#fdddcb"/>
<rect x="863.594" y="652.316" width="14.467" height="1.430" fill="#fcdecd"/>
<rect x="863.594" y="653.447" width="14.467" height="1.430" fill="#fcdfcf"/>
<rect x="863.594" y="654.577" width="14.467" height="1.430" fill="#fce0d0"/>
<rect x="863.594" y="655.707" width="14.467" height="1.430" fill="#fce2d2"/>
<rect x="863.594" y="656.837" width="14.467" height="1.430" fill="#fbe3d4"/>
<rect x="863.594" y="657.967" width="14.467" height="1.430" fill="#fbe4d6"/>
<rect x="863.594" y="659.098" width="14.467" height="1.430" fill="#fbe5d8"/>
<rect x="863.594" y="660.228" width="14.467" height="1.430" fill="#fbe6da"/>
<rect x="863.594" y="661.358" width="14.467" height="1.430" fill="#fae7dc"/>
<rect x="863.594" y="662.489" width="14.467" height="1.430" fill="#fae8de"/>
<rect x="863.594" y="663.619" width="14.467" height="1.430" fill="#fae9df"/>
<rect x="863.594" y="664.749" width="14.467" height="1.430" fill="#faeae1"/>
<rect x="863.594" y="665.879" width="14.467" height="1.430" fill="#f9ebe3"/>
<rect x="863.594" y="667.010" width="14.467" height="1.430" fill="#f9ede5"/>
<rect x="863.594" y="668.140" width="14.467" height="1.430" fill="#f9eee7"/>
<rect x="863.594" y="669.270" width="14.467" height="1.430" fill="#f9efe9"/>
<rect x="863.594" y="670.400" width="14.467" height="1.430" fill="#f9f0eb"/>
<rect x="863.594" y="671.531" width="14.467" height="1.430" fill="#f8f1ed"/>
<rect x="863.594" y="672.661" width="14.467" height="1.430" fill="#f8f2ef"/>
<rect x="863.594" y="673.791" width="14.467" height="1.430" fill="#f8f3f0"/>
<rect x="863.594" y="674.921" width="14.467" height="1.430" fill="#f8f4f2"/>
<rect x="863.594" y="676.052" width="14.467" height="1.430" fill="#f7f5f4"/>
<rect x="863.594" y="677.182" width="14.467" height="1.430" fill="#f7f6f6"/>
<rect x="863.594" y="678.312" width="14.467" height="1.430" fill="#f6f7f7"/>
<rect x="863.594" y="679.442" width="14.467" height="1.430" fill="#f5f6f7"/>
<rect x="863.594" y="680.572" width="14.467" height="1.430" fill="#f3f5f6"/>
<rect x="863.594" y="681.703" width="14.467" height="1.430" fill="#f2f5f6"/>
<rect x="863.594" y="682.833" width="14.467" height="1.430" fill="#f0f4f6"/>
<rect x="863.594" y="683.963" width="14.467" height="1.430" fill="#eff3f5"/>
<rect x="863.594" y="685.093" width="14.467" height="1.430" fill="#edf2f5"/>
<rect x="863.594" y="686.224" width="14.467" height="1.430" fill="#ecf2f5"/>
<rect x="863.594" y="687.354" width="14.467" height="1.430" fill="#eaf1f5"/>
<rect x="863.594" y="688.484" width="14.467" height="1.430" fill="#e9f0f4"/>
<rect x="863.594" y="689.615" width="14.467" height="1.430" fill="#e7f0f4"/>
<rect x="863.594" y="690.745" width="14.467" height="1.430" fill="#e6eff4"/>
<rect x="863.594" y="691.875" width="14.467" height="1.430" fill="#e4eef4"/>
<rect x="863.594" y="693.005" width="14.467" height="1.430" fill="#e3edf3"/>
<rect x="863.594" y="694.135" width="14.467" height="1.430" fill="#e1edf3"/>
<rect x="863.594" y="695.266" width="14.467" height="1.430" fill="#e0ecf3"/>
<rect x="863.594" y="696.396" width="14.467" height="1.430" fill="#deebf2"/>
<rect x="863.594" y="697.526" width="14.467" height="1.430" fill="#ddebf2"/>
<rect x="863.594" y="698.657" width="14.467" height="1.430" fill="#dbeaf2"/>
<rect x="863.594" y="699.787" width="14.467" height="1.430" fill="#dae9f2"/>
<rect x="863.594" y="700.917" width="14.467" height="1.430" fill="#d8e9f1"/>
<rect x="863.594" y="702.047" width="14.467" height="1.430" fill="#d7e8f1"/>
<rect x="863.594" y="703.178" width="14.467" height="1.430" fill="#d5e7f1"/>
<rect x="863.594" y="704.308" width="14.467" height="1.430" fill="#d4e6f1"/>
<rect x="863.594" y="705.438" width="14.467" height="1.430" fill="#d2e6f0"/>
<rect x="863.594" y="706.568" width="14.467" height="1.430" fill="#d1e5f0"/>
<rect x="863.594" y="707.698" width="14.467" height="1.430" fill="#cfe4ef"/>
<rect x="863.594" y="708.829" width="14.467" height="1.430" fill="#cce2ef"/>
<rect x="863.594" y="709.959" width="14.467" height="1.430" fill="#cae1ee"/>
<rect x="863.594" y="711.089" width="14.467" height="1.430" fill="#c7e0ed"/>
<rect x="863.594" y="712.220" width="14.467" height="1.430" fill="#c5dfec"/>
<rect x="863.594" y="713.350" width="14.467" height="1.430" fill="#c2ddec"/>
<rect x="863.594" y="714.480" width="14.467" height="1.430" fill="#c0dceb"/>
<rect x="863.594" y="715.610" width="14.467" height="1.430" fill="#bddbea"/>
<rect x="863.594" y="716.740" width="14.467" height="1.430" fill="#bbdaea"/>
<rect x="863.594" y="717.871" width="14.467" height="1.430" fill="#b8d8e9"/>
<rect x="863.594" y="719.001" width="14.467" height="1.430" fill="#b6d7e8"/>
<rect x="863.594" y="720.131" width="14.467" height="1.430" fill="#b3d6e8"/>
<rect x="863.594" y="721.262" width="14.467" height="1.430" fill="#b1d5e7"/>
<rect x="863.594" y="722.392" width="14.467" height="1.430" fill="#aed3e6"/>
<rect x="863.594" y="723.522" width="14.467" height="1.430" fill="#acd2e5"/>
<rect x="863.594" y="724.652" width="14.467" height="1.430" fill="#a9d1e5"/>
<rect x="863.594" y="725.783" width="14.467" height="1.430" fill="#a7d0e4"/>
<rect x="863.594" y="726.913" width="14.467" height="1.430" fill="#a5cee3"/>
<rect x="863.594" y="728.043" width="14.467" height="1.430" fill="#a2cde3"/>
<rect x="863.594" y="729.173" width="14.467" height="1.430" fill="#a0cce2"/>
<rect x="863.594" y="730.303" width="14.467" height="1.430" fill="#9dcbe1"/>
<rect x="863.594" y="731.434" width="14.467" height="1.430" fill="#9bc9e0"/>
<rect x="863.594" y="732.564" width="14.467" height="1.430" fill="#98c8e0"/>
<rect x="863.594" y="733.694" width="14.467" height="1.430" fill="#96c7df"/>
<rect x="863.594" y="734.825" width="14.467" height="1.430" fill="#93c6de"/>
<rect x="863.594" y="735.955" width="14.467" height="1.430" fill="#90c4dd"/>
<rect x="863.594" y="737.085" width="14.467" height="1.430" fill="#8dc2dc"/>
<rect x="863.594" y="738.215" width="14.467" height="1.430" fill="#8ac0db"/>
<rect x="863.594" y="739.346" width="14.467" height="1.430" fill="#87beda"/>
<rect x="863.594" y="740.476" width="14.467" height="1.430" fill="#84bcd9"/>
<rect x="863.594" y="741.606" width="14.467" height="1.430" fill="#81bad8"/>
<rect x="863.594" y="742.736" width="14.467" height="1.430" fill="#7eb8d7"/>
<rect x="863.594" y="743.867" width="14.467" height="1.430" fill="#7bb6d6"/>
<rect x="863.594" y="744.997" width="14.467" height="1.430" fill="#78b4d5"/>
<rect x="863.594" y="746.127" width="14.467" height="1.430" fill="#75b2d4"/>
<rect x="863.594" y="747.257" width="14.467" height="1.430" fill="#71b0d3"/>
<rect x="863.594" y="748.388" width="14.467" height="1.430" fill="#6eaed2"/>
<rect x="863.594" y="749.518" width="14.467" height="1.430" fill="#6bacd1"/>
<rect x="863.594" y="750.648" width="14.467" height="1.430" fill="#68abd0"/>
<rect x="863.594" y="751.778" width="14.467" height="1.430" fill="#65a9cf"/>
<rect x="863.594" y="752.909" width="14.467" height="1.430" fill="#62a7ce"/>
<rect x="863.594" y="754.039" width="14.467" height="1.430" fill="#5fa5cd"/>
<rect x="863.594" y="755.169" width="14.467" height="1.430" fill="#5ca3cb"/>
<rect x="863.594" y="756.299" width="14.467" height="1.430" fill="#59a1ca"/>
<rect x="863.594" y="757.429" width="14.467" height="1.430" fill="#569fc9"/>
<rect x="863.594" y="758.560" width="14.467" height="1.430" fill="#529dc8"/>
<rect x="863.594" y="759.690" width="14.467" height="1.430" fill="#4f9bc7"/>
<rect x="863.594" y="760.820" width="14.467" height="1.430" fill="#4c99c6"/>
<rect x="863.594" y="761.951" width="14.467" height="1.430" fill="#4997c5"/>
<rect x="863.594" y="763.081" width="14.467" height="1.430" fill="#4695c4"/>
<rect x="863.594" y="764.211" width="14.467" height="1.430" fill="#4393c3"/>
<rect x="863.594" y="765.341" width="14.467" height="1.430" fill="#4291c2"/>
<rect x="863.594" y="766.471" width="14.467" height="1.430" fill="#408fc1"/>
<rect x="863.594" y="767.602" width="14.467" height="1.430" fill="#3f8ec0"/>
<rect x="863.594" y="768.732" width="14.467" height="1.430" fill="#3e8cbf"/>
<rect x="863.594" y="769.862" width="14.467" height="1.430" fill="#3c8abe"/>
<rect x="863.594" y="770.993" width="14.467" height="1.430" fill="#3b88be"/>
<rect x="863.594" y="772.123" width="14.467" height="1.430" fill="#3a87bd"/>
<rect x="863.594" y="773.253" width="14.467" height="1.430" fill="#3885bc"/>
<rect x="863.594" y="774.383" width="14.467" height="1.430" fill="#3783bb"/>
<rect x="863.594" y="775.514" width="14.467" height="1.430" fill="#3681ba"/>
<rect x="863.594" y="776.644" width="14.467" height="1.430" fill="#3480b9"/>
<rect x="863.594" y="777.774" width="14.467" height="1.430" fill="#337eb8"/>
<rect x="863.594" y="778.904" width="14.467" height="1.430" fill="#327cb7"/>
<rect x="863.594" y="780.034" width="14.467" height="1.430" fill="#307ab6"/>
<rect x="863.594" y="781.165" width="14.467" height="1.430" fill="#2f79b5"/>
<rect x="863.594" y="782.295" width="14.467" height="1.430" fill="#2e77b5"/>
<rect x="863.594" y="783.425" width="14.467" height="1.430" fill="#2c75b4"/>
<rect x="863.594" y="784.556" width="14.467" height="1.430" fill="#2b73b3"/>
<rect x="863.594" y="785.686" width="14.467" height="1.430" fill="#2a71b2"/>
<rect x="863.594" y="786.816" width="14.467" height="1.430" fill="#2870b1"/>
<rect x="863.594" y="787.946" width="14.467" height="1.430" fill="#276eb0"/>
<rect x="863.594" y="789.077" width="14.467" height="1.430" fill="#266caf"/>
<rect x="863.594" y="790.207" width="14.467" height="1.430" fill="#246aae"/>
<rect x="863.594" y="791.337" width="14.467" height="1.430" fill="#2369ad"/>
<rect x="863.594" y="792.467" width="14.467" height="1.430" fill="#2267ac"/>
<rect x="863.594" y="793.598" width="14.467" height="1.430" fill="#2065ab"/>
<rect x="863.594" y="794.728" width="14.467" height="1.430" fill="#1f63a8"/>
<rect x="863.594" y="795.858" width="14.467" height="1.430" fill="#1e61a5"/>
<rect x="863.594" y="796.988" width="14.467" height="1.430" fill="#1d5fa2"/>
<rect x="863.594" y="798.119" width="14.467" height="1.430" fill="#1c5c9f"/>
<rect x="863.594" y="799.249" width="14.467" height="1.430" fill="#1b5a9c"/>
<rect x="863.594" y="800.379" width="14.467" height="1.430" fill="#1a5899"/>
<rect x="863.594" y="801.509" width="14.467" height="1.430" fill="#195696"/>
<rect x="863.594" y="802.639" width="14.467" height="1.430" fill="#185493"/>
<rect x="863.594" y="803.770" width="14.467" height="1.430" fill="#175290"/>
<rect x="863.594" y="804.900" width="14.467" height="1.430" fill="#15508d"/>
<rect x="863.594" y="806.030" width="14.467" height="1.430" fill="#144e8a"/>
<rect x="863.594" y="807.160" width="14.467" height="1.430" fill="#134c87"/>
<rect x="863.594" y="808.291" width="14.467" height="1.430" fill="#124984"/>
<rect x="863.594" y="809.421" width="14.467" height="1.430" fill="#114781"/>
<rect x="863.594" y="810.551" width="14.467" height="1.430" fill="#10457e"/>
<rect x="863.594" y="811.682" width="14.467" height="1.430" fill="#0f437b"/>
<rect x="863.594" y="812.812" width="14.467" height="1.430" fill="#0e4179"/>
<rect x="863.594" y="813.942" width="14.467" height="1.430" fill="#0d3f76"/>
<rect x="863.594" y="815.072" width="14.467" height="1.430" fill="#0c3d73"/>
<rect x="863.594" y="816.203" width="14.467" height="1.430" fill="#0a3b70"/>
<rect x="863.594" y="817.333" width="14.467" height="1.430" fill="#09386d"/>
<rect x="863.594" y="818.463" width="14.467" height="1.430" fill="#08366a"/>
<rect x="863.594" y="819.593" width="14.467" height="1.430" fill="#073467"/>
<rect x="863.594" y="820.724" width="14.467" height="1.430" fill="#063264"/>
<rect x="863.594" y="821.854" width="14.467" height="1.430" fill="#053061"/>
</g>
   <g id="matplotlib.axis_13"/>
   <g id="matplotlib.axis_14">
    <g id="ytick_100">
     <g id="line2d_303">
      <g>
       <path d="M 0 0 L 3.5 0" transform="translate(878.0616 822.984)" style="stroke: #000000; stroke-width: 0.8; stroke: #000000; stroke-width: 0.8"/>
      </g>
     </g>
     <g id="text_201">
      <text style="font-size: 10px; font-family: 'DejaVu Sans', 'Liberation Sans', sans-serif; text-anchor: start" x="885.0616" y="826.783219" transform="rotate(-0 885.0616 826.783219)">−1.00</text>
     </g>
    </g>
    <g id="ytick_101">
     <g id="line2d_304">
      <g>
       <path d="M 0 0 L 3.5 0" transform="translate(878.0616 786.816)" style="stroke: #000000; stroke-width: 0.8; stroke: #000000; stroke-width: 0.8"/>
      </g>
     </g>
     <g id="text_202">
      <text style="font-size: 10px; font-family: 'DejaVu Sans', 'Liberation Sans', sans-serif; text-anchor: start" x="885.0616" y="790.615219" transform="rotate(-0 885.0616 790.615219)">−0.75</text>
     </g>
    </g>
    <g id="ytick_102">
     <g id="line2d_305">
      <g>
       <path d="M 0 0 L 3.5 0" transform="translate(878.0616 750.648)" style="stroke: #000000; stroke-width: 0.8; stroke: #000000; stroke-width: 0.8"/>
      </g>
     </g>
     <g id="text_203">
      <text style="font-size: 10px; font-family: 'DejaVu Sans', 'Liberation Sans', sans-serif; text-anchor: start" x="885.0616" y="754.447219" transform="rotate(-0 885.0616 754.447219)">−0.50</text>
     </g>
    </g>
    <g id="ytick_103">
     <g id="line2d_306">
      <g>
       <path d="M 0 0 L 3.5 0" transform="translate(878.0616 714.48)" style="stroke: #000000; stroke-width: 0.8; stroke: #000000; stroke-width: 0.8"/>
      </g>
     </g>
     <g id="text_204">
      <text style="font-size: 10px; font-family: 'DejaVu Sans', 'Liberation Sans', sans-serif; text-anchor: start" x="885.0616" y="718.279219" transform="rotate(-0 885.0616 718.279219)">−0.25</text>
     </g>
    </g>
    <g id="ytick_104">
     <g id="line2d_307">
      <g>
       <path d="M 0 0 L 3.5 0" transform="translate(878.0616 678.312)" style="stroke: #000000; stroke-width: 0.8; stroke: #000000; stroke-width: 0.8"/>
      </g>
     </g>
     <g id="text_205">
      <text style="font-size: 10px; font-family: 'DejaVu Sans', 'Liberation Sans', sans-serif; text-anchor: start" x="885.0616" y="682.111219" transform="rotate(-0 885.0616 682.111219)">0.00</text>
     </g>
    </g>
    <g id="ytick_105">
     <g id="line2d_308">
      <g>
       <path d="M 0 0 L 3.5 0" transform="translate(878.0616 642.144)" style="stroke: #000000; stroke-width: 0.8; stroke: #000000; stroke-width: 0.8"/>
      </g>
     </g>
     <g id="text_206">
      <text style="font-size: 10px; font-family: 'DejaVu Sans', 'Liberation Sans', sans-serif; text-anchor: start" x="885.0616" y="645.943219" transform="rotate(-0 885.0616 645.943219)">0.25</text>
     </g>
    </g>
    <g id="ytick_106">
     <g id="line2d_309">
      <g>
       <path d="M 0 0 L 3.5 0" transform="translate(878.0616 605.976)" style="stroke: #000000; stroke-width: 0.8; stroke: #000000; stroke-width: 0.8"/>
      </g>
     </g>
     <g id="text_207">
      <text style="font-size: 10px; font-family: 'DejaVu Sans', 'Liberation Sans', sans-serif; text-anchor: start" x="885.0616" y="609.775219" transform="rotate(-0 885.0616 609.775219)">0.50</text>
     </g>
    </g>
    <g id="ytick_107">
     <g id="line2d_310">
      <g>
       <path d="M 0 0 L 3.5 0" transform="translate(878.0616 569.808)" style="stroke: #000000; stroke-width: 0.8; stroke: #000000; stroke-width: 0.8"/>
      </g>
     </g>
     <g id="text_208">
      <text style="font-size: 10px; font-family: 'DejaVu Sans', 'Liberation Sans', sans-serif; text-anchor: start" x="885.0616" y="573.607219" transform="rotate(-0 885.0616 573.607219)">0.75</text>
     </g>
    </g>
    <g id="ytick_108">
     <g id="line2d_311">
      <g>
       <path d="M 0 0 L 3.5 0" transform="translate(878.0616 533.64)" style="stroke: #000000; stroke-width: 0.8; stroke: #000000; stroke-width: 0.8"/>
      </g>
     </g>
     <g id="text_209">
      <text style="font-size: 10px; font-family: 'DejaVu Sans', 'Liberation Sans', sans-serif; text-anchor: start" x="885.0616" y="537.439219" transform="rotate(-0 885.0616 537.439219)">1.00</text>
     </g>
    </g>
    <g id="text_210">
     <text style="font-size: 10px; font-family: 'DejaVu Sans', 'Liberation Sans', sans-serif; text-anchor: middle" x="926.8253" y="678.7920" transform="rotate(-90 926.8253 678.7920)">Cosine Similarity</text>
    </g>
   </g>
   <g id="patch_36">
    <path d="M 863.5944 822.984 
L 863.5944 533.64 
" style="fill: none; stroke: #000000; stroke-width: 0.8; stroke-linejoin: miter; stroke-linecap: square"/>
   </g>
   <g id="patch_37">
    <path d="M 878.0616 822.984 
L 878.0616 533.64 
" style="fill: none; stroke: #000000; stroke-width: 0.8; stroke-linejoin: miter; stroke-linecap: square"/>
   </g>
   <g id="patch_38">
    <path d="M 863.5944 822.984 
L 878.0616 822.984 
" style="fill: none; stroke: #000000; stroke-width: 0.8; stroke-linejoin: miter; stroke-linecap: square"/>
   </g>
   <g id="patch_39">
    <path d="M 863.5944 533.64 
L 878.0616 533.64 
" style="fill: none; stroke: #000000; stroke-width: 0.8; stroke-linejoin: miter; stroke-linecap: square"/>
   </g>
  </g>
  <g id="axes_8">
   <g id="patch_40">
    <path d="M 1006.128 859.152 
L 1394.112 859.152 
L 1394.112 497.472 
L 1006.128 497.472 
z
" style="fill: #ffffff"/>
   </g>
   <g id="patch_41">
    <path d="M 1200.12 523.747897 
L 1329.036502 523.747897 
L 1329.036502 533.583795 
L 1200.12 533.583795 
z
" clip-path="url(#pa2e330c6ff)" style="fill: #1f77b4; opacity: 0.7"/>
   </g>
   <g id="patch_42">
    <path d="M 1200.12 551.850462 
L 1322.33496 551.850462 
L 1322.33496 561.686359 
L 1200.12 561.686359 
z
" clip-path="url(#pa2e330c6ff)" style="fill: #1f77b4; opacity: 0.7"/>
   </g>
   <g id="patch_43">
    <path d="M 1200.12 579.953026 
L 1293.059804 579.953026 
L 1293.059804 589.788923 
L 1200.12 589.788923 
z
" clip-path="url(#pa2e330c6ff)" style="fill: #1f77b4; opacity: 0.7"/>
   </g>
   <g id="patch_44">
    <path d="M 1200.12 608.05559 
L 1326.038444 608.05559 
L 1326.038444 617.891487 
L 1200.12 617.891487 
z
" clip-path="url(#pa2e330c6ff)" style="fill: #1f77b4; opacity: 0.7"/>
   </g>
   <g id="patch_45">
    <path d="M 1200.12 636.158154 
L 1317.220625 636.158154 
L 1317.220625 645.994051 
L 1200.12 645.994051 
z
" clip-path="url(#pa2e330c6ff)" style="fill: #1f77b4; opacity: 0.7"/>
   </g>
   <g id="patch_46">
    <path d="M 1200.12 664.260718 
L 1256.730393 664.260718 
L 1256.730393 674.096615 
L 1200.12 674.096615 
z
" clip-path="url(#pa2e330c6ff)" style="fill: #1f77b4; opacity: 0.7"/>
   </g>
   <g id="patch_47">
    <path d="M 1200.12 692.363282 
L 1304.699324 692.363282 
L 1304.699324 702.199179 
L 1200.12 702.199179 
z
" clip-path="url(#pa2e330c6ff)" style="fill: #1f77b4; opacity: 0.7"/>
   </g>
   <g id="patch_48">
    <path d="M 1200.12 720.465846 
L 1188.127767 720.465846 
L 1188.127767 730.301744 
L 1200.12 730.301744 
z
" clip-path="url(#pa2e330c6ff)" style="fill: #1f77b4; opacity: 0.7"/>
   </g>
   <g id="patch_49">
    <path d="M 1200.12 748.56841 
L 1193.947527 748.56841 
L 1193.947527 758.404308 
L 1200.12 758.404308 
z
" clip-path="url(#pa2e330c6ff)" style="fill: #1f77b4; opacity: 0.7"/>
   </g>
   <g id="patch_50">
    <path d="M 1200.12 776.670974 
L 1229.747869 776.670974 
L 1229.747869 786.506872 
L 1200.12 786.506872 
z
" clip-path="url(#pa2e330c6ff)" style="fill: #1f77b4; opacity: 0.7"/>
   </g>
   <g id="patch_51">
    <path d="M 1200.12 804.773538 
L 1203.735305 804.773538 
L 1203.735305 814.609436 
L 1200.12 814.609436 
z
" clip-path="url(#pa2e330c6ff)" style="fill: #1f77b4; opacity: 0.7"/>
   </g>
   <g id="patch_52">
    <path d="M 1200.12 832.876103 
L 1228.337018 832.876103 
L 1228.337018 842.712 
L 1200.12 842.712 
z
" clip-path="url(#pa2e330c6ff)" style="fill: #1f77b4; opacity: 0.7"/>
   </g>
   <g id="patch_53">
    <path d="M 1200.12 513.912 
L 1376.123651 513.912 
L 1376.123651 523.747897 
L 1200.12 523.747897 
z
" clip-path="url(#pa2e330c6ff)" style="fill: #ff7f0e; opacity: 0.7"/>
   </g>
   <g id="patch_54">
    <path d="M 1200.12 542.014564 
L 1375.594582 542.014564 
L 1375.594582 551.850462 
L 1200.12 551.850462 
z
" clip-path="url(#pa2e330c6ff)" style="fill: #ff7f0e; opacity: 0.7"/>
   </g>
   <g id="patch_55">
    <path d="M 1200.12 570.117128 
L 1342.615942 570.117128 
L 1342.615942 579.953026 
L 1200.12 579.953026 
z
" clip-path="url(#pa2e330c6ff)" style="fill: #ff7f0e; opacity: 0.7"/>
   </g>
   <g id="patch_56">
    <path d="M 1200.12 598.219692 
L 1371.891098 598.219692 
L 1371.891098 608.05559 
L 1200.12 608.05559 
z
" clip-path="url(#pa2e330c6ff)" style="fill: #ff7f0e; opacity: 0.7"/>
   </g>
   <g id="patch_57">
    <path d="M 1200.12 626.322256 
L 1371.891098 626.322256 
L 1371.891098 636.158154 
L 1200.12 636.158154 
z
" clip-path="url(#pa2e330c6ff)" style="fill: #ff7f0e; opacity: 0.7"/>
   </g>
   <g id="patch_58">
    <path d="M 1200.12 654.424821 
L 1371.009316 654.424821 
L 1371.009316 664.260718 
L 1200.12 664.260718 
z
" clip-path="url(#pa2e330c6ff)" style="fill: #ff7f0e; opacity: 0.7"/>
   </g>
   <g id="patch_59">
    <path d="M 1200.12 682.527385 
L 1368.011258 682.527385 
L 1368.011258 692.363282 
L 1200.12 692.363282 
z
" clip-path="url(#pa2e330c6ff)" style="fill: #ff7f0e; opacity: 0.7"/>
   </g>
   <g id="patch_60">
    <path d="M 1200.12 710.629949 
L 1047.748102 710.629949 
L 1047.748102 720.465846 
L 1200.12 720.465846 
z
" clip-path="url(#pa2e330c6ff)" style="fill: #ff7f0e; opacity: 0.7"/>
   </g>
   <g id="patch_61">
    <path d="M 1200.12 738.732513 
L 1080.550385 738.732513 
L 1080.550385 748.56841 
L 1200.12 748.56841 
z
" clip-path="url(#pa2e330c6ff)" style="fill: #ff7f0e; opacity: 0.7"/>
   </g>
   <g id="patch_62">
    <path d="M 1200.12 766.835077 
L 1238.742044 766.835077 
L 1238.742044 776.670974 
L 1200.12 776.670974 
z
" clip-path="url(#pa2e330c6ff)" style="fill: #ff7f0e; opacity: 0.7"/>
   </g>
   <g id="patch_63">
    <path d="M 1200.12 794.937641 
L 1122.170487 794.937641 
L 1122.170487 804.773538 
L 1200.12 804.773538 
z
" clip-path="url(#pa2e330c6ff)" style="fill: #ff7f0e; opacity: 0.7"/>
   </g>
   <g id="patch_64">
    <path d="M 1200.12 823.040205 
L 1125.344902 823.040205 
L 1125.344902 832.876103 
L 1200.12 832.876103 
z
" clip-path="url(#pa2e330c6ff)" style="fill: #ff7f0e; opacity: 0.7"/>
   </g>
   <g id="matplotlib.axis_15">
    <g id="xtick_141">
     <g id="line2d_312">
      <path d="M 1023.763636 859.152 
L 1023.763636 497.472 
" clip-path="url(#pa2e330c6ff)" style="fill: none; stroke: #b0b0b0; stroke-opacity: 0.3; stroke-width: 0.8; stroke-linecap: square"/>
     </g>
     <g id="line2d_313">
      <g>
       <path d="M 0 0 L 0 3.5" transform="translate(1023.763636 859.152)" style="stroke: #000000; stroke-width: 0.8; stroke: #000000; stroke-width: 0.8"/>
      </g>
     </g>
     <g id="text_211">
      <text style="font-size: 10px; font-family: 'DejaVu Sans', 'Liberation Sans', sans-serif; text-anchor: middle" x="1023.763636" y="873.750438" transform="rotate(-0 1023.763636 873.750438)">−1.00</text>
     </g>
    </g>
    <g id="xtick_142">
     <g id="line2d_314">
      <path d="M 1067.852727 859.152 
L 1067.852727 497.472 
" clip-path="url(#pa2e330c6ff)" style="fill: none; stroke: #b0b0b0; stroke-opacity: 0.3; stroke-width: 0.8; stroke-linecap: square"/>
     </g>
     <g id="line2d_315">
      <g>
       <path d="M 0 0 L 0 3.5" transform="translate(1067.852727 859.152)" style="stroke: #000000; stroke-width: 0.8; stroke: #000000; stroke-width: 0.8"/>
      </g>
     </g>
     <g id="text_212">
      <text style="font-size: 10px; font-family: 'DejaVu Sans', 'Liberation Sans', sans-serif; text-anchor: middle" x="1067.852727" y="873.750438" transform="rotate(-0 1067.852727 873.750438)">−0.75</text>
     </g>
    </g>
    <g id="xtick_143">
     <g id="line2d_316">
      <path d="M 1111.941818 859.152 
L 1111.941818 497.472 
" clip-path="url(#pa2e330c6ff)" style="fill: none; stroke: #b0b0b0; stroke-opacity: 0.3; stroke-width: 0.8; stroke-linecap: square"/>
     </g>
     <g id="line2d_317">
      <g>
       <path d="M 0 0 L 0 3.5" transform="translate(1111.941818 859.152)" style="stroke: #000000; stroke-width: 0.8; stroke: #000000; stroke-width: 0.8"/>
      </g>
     </g>
     <g id="text_213">
      <text style="font-size: 10px; font-family: 'DejaVu Sans', 'Liberation Sans', sans-serif; text-anchor: middle" x="1111.941818" y="873.750438" transform="rotate(-0 1111.941818 873.750438)">−0.50</text>
     </g>
    </g>
    <g id="xtick_144">
     <g id="line2d_318">
      <path d="M 1156.030909 859.152 
L 1156.030909 497.472 
" clip-path="url(#pa2e330c6ff)" style="fill: none; stroke: #b0b0b0; stroke-opacity: 0.3; stroke-width: 0.8; stroke-linecap: square"/>
     </g>
     <g id="line2d_319">
      <g>
       <path d="M 0 0 L 0 3.5" transform="translate(1156.030909 859.152)" style="stroke: #000000; stroke-width: 0.8; stroke: #000000; stroke-width: 0.8"/>
      </g>
     </g>
     <g id="text_214">
      <text style="font-size: 10px; font-family: 'DejaVu Sans', 'Liberation Sans', sans-serif; text-anchor: middle" x="1156.030909" y="873.750438" transform="rotate(-0 1156.030909 873.750438)">−0.25</text>
     </g>
    </g>
    <g id="xtick_145">
     <g id="line2d_320">
      <path d="M 1200.12 859.152 
L 1200.12 497.472 
" clip-path="url(#pa2e330c6ff)" style="fill: none; stroke: #b0b0b0; stroke-opacity: 0.3; stroke-width: 0.8; stroke-linecap: square"/>
     </g>
     <g id="line2d_321">
      <g>
       <path d="M 0 0 L 0 3.5" transform="translate(1200.12 859.152)" style="stroke: #000000; stroke-width: 0.8; stroke: #000000; stroke-width: 0.8"/>
      </g>
     </g>
     <g id="text_215">
      <text style="font-size: 10px; font-family: 'DejaVu Sans', 'Liberation Sans', sans-serif; text-anchor: middle" x="1200.12" y="873.750438" transform="rotate(-0 1200.12 873.750438)">0.00</text>
     </g>
    </g>
    <g id="xtick_146">
     <g id="line2d_322">
      <path d="M 1244.209091 859.152 
L 1244.209091 497.472 
" clip-path="url(#pa2e330c6ff)" style="fill: none; stroke: #b0b0b0; stroke-opacity: 0.3; stroke-width: 0.8; stroke-linecap: square"/>
     </g>
     <g id="line2d_323">
      <g>
       <path d="M 0 0 L 0 3.5" transform="translate(1244.209091 859.152)" style="stroke: #000000; stroke-width: 0.8; stroke: #000000; stroke-width: 0.8"/>
      </g>
     </g>
     <g id="text_216">
      <text style="font-size: 10px; font-family: 'DejaVu Sans', 'Liberation Sans', sans-serif; text-anchor: middle" x="1244.209091" y="873.750438" transform="rotate(-0 1244.209091 873.750438)">0.25</text>
     </g>
    </g>
    <g id="xtick_147">
     <g id="line2d_324">
      <path d="M 1288.298182 859.152 
L 1288.298182 497.472 
" clip-path="url(#pa2e330c6ff)" style="fill: none; stroke: #b0b0b0; stroke-opacity: 0.3; stroke-width: 0.8; stroke-linecap: square"/>
     </g>
     <g id="line2d_325">
      <g>
       <path d="M 0 0 L 0 3.5" transform="translate(1288.298182 859.152)" style="stroke: #000000; stroke-width: 0.8; stroke: #000000; stroke-width: 0.8"/>
      </g>
     </g>
     <g id="text_217">
      <text style="font-size: 10px; font-family: 'DejaVu Sans', 'Liberation Sans', sans-serif; text-anchor: middle" x="1288.298182" y="873.750438" transform="rotate(-0 1288.298182 873.750438)">0.50</text>
     </g>
    </g>
    <g id="xtick_148">
     <g id="line2d_326">
      <path d="M 1332.387273 859.152 
L 1332.387273 497.472 
" clip-path="url(#pa2e330c6ff)" style="fill: none; stroke: #b0b0b0; stroke-opacity: 0.3; stroke-width: 0.8; stroke-linecap: square"/>
     </g>
     <g id="line2d_327">
      <g>
       <path d="M 0 0 L 0 3.5" transform="translate(1332.387273 859.152)" style="stroke: #000000; stroke-width: 0.8; stroke: #000000; stroke-width: 0.8"/>
      </g>
     </g>
     <g id="text_218">
      <text style="font-size: 10px; font-family: 'DejaVu Sans', 'Liberation Sans', sans-serif; text-anchor: middle" x="1332.387273" y="873.750438" transform="rotate(-0 1332.387273 873.750438)">0.75</text>
     </g>
    </g>
    <g id="xtick_149">
     <g id="line2d_328">
      <path d="M 1376.476364 859.152 
L 1376.476364 497.472 
" clip-path="url(#pa2e330c6ff)" style="fill: none; stroke: #b0b0b0; stroke-opacity: 0.3; stroke-width: 0.8; stroke-linecap: square"/>
     </g>
     <g id="line2d_329">
      <g>
       <path d="M 0 0 L 0 3.5" transform="translate(1376.476364 859.152)" style="stroke: #000000; stroke-width: 0.8; stroke: #000000; stroke-width: 0.8"/>
      </g>
     </g>
     <g id="text_219">
      <text style="font-size: 10px; font-family: 'DejaVu Sans', 'Liberation Sans', sans-serif; text-anchor: middle" x="1376.476364" y="873.750438" transform="rotate(-0 1376.476364 873.750438)">1.00</text>
     </g>
    </g>
    <g id="text_220">
     <text style="font-size: 10px; font-family: 'DejaVu Sans', 'Liberation Sans', sans-serif; text-anchor: middle" x="1200.12" y="887.428563" transform="rotate(-0 1200.12 887.428563)">Cosine Similarity</text>
    </g>
   </g>
   <g id="matplotlib.axis_16">
    <g id="ytick_109">
     <g id="line2d_330">
      <g>
       <path d="M 0 0 L -3.5 0" transform="translate(1006.128 523.747897)" style="stroke: #000000; stroke-width: 0.8; stroke: #000000; stroke-width: 0.8"/>
      </g>
     </g>
     <g id="text_221">
      <text style="font-size: 6px; font-family: 'DejaVu Sans', 'Liberation Sans', sans-serif" transform="translate(963.9239 523.5206)">bubble_sort</text>
      <text style="font-size: 6px; font-family: 'DejaVu Sans', 'Liberation Sans', sans-serif" transform="translate(959.8768 530.4061)">vs quick_sort</text>
     </g>
    </g>
    <g id="ytick_110">
     <g id="line2d_331">
      <g>
       <path d="M 0 0 L -3.5 0" transform="translate(1006.128 551.850462)" style="stroke: #000000; stroke-width: 0.8; stroke: #000000; stroke-width: 0.8"/>
      </g>
     </g>
     <g id="text_222">
      <text style="font-size: 6px; font-family: 'DejaVu Sans', 'Liberation Sans', sans-serif" transform="translate(963.9239 551.7066)">bubble_sort</text>
      <text style="font-size: 6px; font-family: 'DejaVu Sans', 'Liberation Sans', sans-serif" transform="translate(956.5299 558.5921)">vs merge_sort</text>
     </g>
    </g>
    <g id="ytick_111">
     <g id="line2d_332">
      <g>
       <path d="M 0 0 L -3.5 0" transform="translate(1006.128 579.953026)" style="stroke: #000000; stroke-width: 0.8; stroke: #000000; stroke-width: 0.8"/>
      </g>
     </g>
     <g id="text_223">
      <text style="font-size: 6px; font-family: 'DejaVu Sans', 'Liberation Sans', sans-serif" transform="translate(970.3524 579.7257)">read_json</text>
      <text style="font-size: 6px; font-family: 'DejaVu Sans', 'Liberation Sans', sans-serif" transform="translate(964.0589 586.6112)">vs read_csv</text>
     </g>
    </g>
    <g id="ytick_112">
     <g id="line2d_333">
      <g>
       <path d="M 0 0 L -3.5 0" transform="translate(1006.128 608.05559)" style="stroke: #000000; stroke-width: 0.8; stroke: #000000; stroke-width: 0.8"/>
      </g>
     </g>
     <g id="text_224">
      <text style="font-size: 6px; font-family: 'DejaVu Sans', 'Liberation Sans', sans-serif" transform="translate(973.9589 607.8282)">http_get</text>
      <text style="font-size: 6px; font-family: 'DejaVu Sans', 'Liberation Sans', sans-serif" transform="translate(964.3505 614.7138)">vs fetch_url</text>
     </g>
    </g>
    <g id="ytick_113">
     <g id="line2d_334">
      <g>
       <path d="M 0 0 L -3.5 0" transform="translate(1006.128 636.158154)" style="stroke: #000000; stroke-width: 0.8; stroke: #000000; stroke-width: 0.8"/>
      </g>
     </g>
     <g id="text_225">
      <text style="font-size: 6px; font-family: 'DejaVu Sans', 'Liberation Sans', sans-serif" transform="translate(974.5393 636.0142)">factorial</text>
      <text style="font-size: 6px; font-family: 'DejaVu Sans', 'Liberation Sans', sans-serif" transform="translate(963.5405 642.7329)">vs fibonacci</text>
     </g>
    </g>
    <g id="ytick_114">
     <g id="line2d_335">
      <g>
       <path d="M 0 0 L -3.5 0" transform="translate(1006.128 664.260718)" style="stroke: #000000; stroke-width: 0.8; stroke: #000000; stroke-width: 0.8"/>
      </g>
     </g>
     <g id="text_226">
      <text style="font-size: 6px; font-family: 'DejaVu Sans', 'Liberation Sans', sans-serif" transform="translate(965.6330 663.9499)">reverse_str</text>
      <text style="font-size: 6px; font-family: 'DejaVu Sans', 'Liberation Sans', sans-serif" transform="translate(948.7814 670.8355)">vs is_palindrome</text>
     </g>
    </g>
    <g id="ytick_115">
     <g id="line2d_336">
      <g>
       <path d="M 0 0 L -3.5 0" transform="translate(1006.128 692.363282)" style="stroke: #000000; stroke-width: 0.8; stroke: #000000; stroke-width: 0.8"/>
      </g>
     </g>
     <g id="text_227">
      <text style="font-size: 6px; font-family: 'DejaVu Sans', 'Liberation Sans', sans-serif" transform="translate(951.3708 692.1359)">stack_push_pop</text>
      <text style="font-size: 6px; font-family: 'DejaVu Sans', 'Liberation Sans', sans-serif" transform="translate(955.7592 699.0215)">vs queue_impl</text>
     </g>
    </g>
    <g id="ytick_116">
     <g id="line2d_337">
      <g>
       <path d="M 0 0 L -3.5 0" transform="translate(1006.128 720.465846)" style="stroke: #000000; stroke-width: 0.8; stroke: #000000; stroke-width: 0.8"/>
      </g>
     </g>
     <g id="text_228">
      <text style="font-size: 6px; font-family: 'DejaVu Sans', 'Liberation Sans', sans-serif" transform="translate(963.9239 720.2385)">bubble_sort</text>
      <text style="font-size: 6px; font-family: 'DejaVu Sans', 'Liberation Sans', sans-serif" transform="translate(961.7686 727.1241)">vs read_json</text>
     </g>
    </g>
    <g id="ytick_117">
     <g id="line2d_338">
      <g>
       <path d="M 0 0 L -3.5 0" transform="translate(1006.128 748.56841)" style="stroke: #000000; stroke-width: 0.8; stroke: #000000; stroke-width: 0.8"/>
      </g>
     </g>
     <g id="text_229">
      <text style="font-size: 6px; font-family: 'DejaVu Sans', 'Liberation Sans', sans-serif" transform="translate(974.5393 748.4245)">factorial</text>
      <text style="font-size: 6px; font-family: 'DejaVu Sans', 'Liberation Sans', sans-serif" transform="translate(965.3752 755.1432)">vs http_get</text>
     </g>
    </g>
    <g id="ytick_118">
     <g id="line2d_339">
      <g>
       <path d="M 0 0 L -3.5 0" transform="translate(1006.128 776.670974)" style="stroke: #000000; stroke-width: 0.8; stroke: #000000; stroke-width: 0.8"/>
      </g>
     </g>
     <g id="text_230">
      <text style="font-size: 6px; font-family: 'DejaVu Sans', 'Liberation Sans', sans-serif" transform="translate(965.6330 776.3602)">reverse_str</text>
      <text style="font-size: 6px; font-family: 'DejaVu Sans', 'Liberation Sans', sans-serif" transform="translate(949.3927 783.2458)">vs download_file</text>
     </g>
    </g>
    <g id="ytick_119">
     <g id="line2d_340">
      <g>
       <path d="M 0 0 L -3.5 0" transform="translate(1006.128 804.773538)" style="stroke: #000000; stroke-width: 0.8; stroke: #000000; stroke-width: 0.8"/>
      </g>
     </g>
     <g id="text_231">
      <text style="font-size: 6px; font-family: 'DejaVu Sans', 'Liberation Sans', sans-serif" transform="translate(973.8568 804.5462)">is_prime</text>
      <text style="font-size: 6px; font-family: 'DejaVu Sans', 'Liberation Sans', sans-serif" transform="translate(963.3221 811.4318)">vs write_file</text>
     </g>
    </g>
    <g id="ytick_120">
     <g id="line2d_341">
      <g>
       <path d="M 0 0 L -3.5 0" transform="translate(1006.128 832.876103)" style="stroke: #000000; stroke-width: 0.8; stroke: #000000; stroke-width: 0.8"/>
      </g>
     </g>
     <g id="text_232">
      <text style="font-size: 6px; font-family: 'DejaVu Sans', 'Liberation Sans', sans-serif" transform="translate(951.3708 832.6488)">stack_push_pop</text>
      <text style="font-size: 6px; font-family: 'DejaVu Sans', 'Liberation Sans', sans-serif" transform="translate(950.0030 839.5343)">vs count_vowels</text>
     </g>
    </g>
   </g>
   <g id="line2d_342">
    <path d="M 1200.12 859.152 
L 1200.12 497.472 
" clip-path="url(#pa2e330c6ff)" style="fill: none; stroke: #000000; stroke-width: 0.8; stroke-linecap: square"/>
   </g>
   <g id="patch_65">
    <path d="M 1006.128 859.152 
L 1006.128 497.472 
" style="fill: none; stroke: #000000; stroke-width: 0.8; stroke-linejoin: miter; stroke-linecap: square"/>
   </g>
   <g id="patch_66">
    <path d="M 1394.112 859.152 
L 1394.112 497.472 
" style="fill: none; stroke: #000000; stroke-width: 0.8; stroke-linejoin: miter; stroke-linecap: square"/>
   </g>
   <g id="patch_67">
    <path d="M 1006.128 859.152 
L 1394.112 859.152 
" style="fill: none; stroke: #000000; stroke-width: 0.8; stroke-linejoin: miter; stroke-linecap: square"/>
   </g>
   <g id="patch_68">
    <path d="M 1006.128 497.472 
L 1394.112 497.472 
" style="fill: none; stroke: #000000; stroke-width: 0.8; stroke-linejoin: miter; stroke-linecap: square"/>
   </g>
   <g id="text_233">
    <text style="font-weight: 700; font-size: 11px; font-family: 'DejaVu Sans', 'Liberation Sans', sans-serif; text-anchor: middle" x="1200.12" y="491.472" transform="rotate(-0 1200.12 491.472)">(f) Pair Comparison: Full vs PCA Denoised</text>
   </g>
   <g id="PathCollection_1">
    
    <g clip-path="url(#pa2e330c6ff)">
     <path d="M 0 3.872983 C 1.027127 3.872983 2.012324 3.464901 2.738613 2.738613 C 3.464901 2.012324 3.872983 1.027127 3.872983 0 C 3.872983 -1.027127 3.464901 -2.012324 2.738613 -2.738613 C 2.012324 -3.464901 1.027127 -3.872983 0 -3.872983 C -1.027127 -3.872983 -2.012324 -3.464901 -2.738613 -2.738613 C -3.464901 -2.012324 -3.872983 -1.027127 -3.872983 0 C -3.872983 1.027127 -3.464901 2.012324 -2.738613 2.738613 C -2.012324 3.464901 -1.027127 3.872983 0 3.872983 z" transform="translate(1186.893273 524.590974)" style="fill: #2ca02c; stroke: #2ca02c; stroke: #2ca02c"/>
    </g>
   </g>
   <g id="PathCollection_2">
    <g clip-path="url(#pa2e330c6ff)">
     <path d="M 0 3.872983 C 1.027127 3.872983 2.012324 3.464901 2.738613 2.738613 C 3.464901 2.012324 3.872983 1.027127 3.872983 0 C 3.872983 -1.027127 3.464901 -2.012324 2.738613 -2.738613 C 2.012324 -3.464901 1.027127 -3.872983 0 -3.872983 C -1.027127 -3.872983 -2.012324 -3.464901 -2.738613 -2.738613 C -3.464901 -2.012324 -3.872983 -1.027127 -3.872983 0 C -3.872983 1.027127 -3.464901 2.012324 -2.738613 2.738613 C -2.012324 3.464901 -1.027127 3.872983 0 3.872983 z" transform="translate(1186.893273 552.693538)" style="fill: #2ca02c; stroke: #2ca02c; stroke: #2ca02c"/>
    </g>
   </g>
   <g id="PathCollection_3">
    <g clip-path="url(#pa2e330c6ff)">
     <path d="M 0 3.872983 C 1.027127 3.872983 2.012324 3.464901 2.738613 2.738613 C 3.464901 2.012324 3.872983 1.027127 3.872983 0 C 3.872983 -1.027127 3.464901 -2.012324 2.738613 -2.738613 C 2.012324 -3.464901 1.027127 -3.872983 0 -3.872983 C -1.027127 -3.872983 -2.012324 -3.464901 -2.738613 -2.738613 C -3.464901 -2.012324 -3.872983 -1.027127 -3.872983 0 C -3.872983 1.027127 -3.464901 2.012324 -2.738613 2.738613 C -2.012324 3.464901 -1.027127 3.872983 0 3.872983 z" transform="translate(1186.893273 580.796103)" style="fill: #2ca02c; stroke: #2ca02c; stroke: #2ca02c"/>
    </g>
   </g>
   <g id="PathCollection_4">
    <g clip-path="url(#pa2e330c6ff)">
     <path d="M 0 3.872983 C 1.027127 3.872983 2.012324 3.464901 2.738613 2.738613 C 3.464901 2.012324 3.872983 1.027127 3.872983 0 C 3.872983 -1.027127 3.464901 -2.012324 2.738613 -2.738613 C 2.012324 -3.464901 1.027127 -3.872983 0 -3.872983 C -1.027127 -3.872983 -2.012324 -3.464901 -2.738613 -2.738613 C -3.464901 -2.012324 -3.872983 -1.027127 -3.872983 0 C -3.872983 1.027127 -3.464901 2.012324 -2.738613 2.738613 C -2.012324 3.464901 -1.027127 3.872983 0 3.872983 z" transform="translate(1186.893273 608.898667)" style="fill: #2ca02c; stroke: #2ca02c; stroke: #2ca02c"/>
    </g>
   </g>
   <g id="PathCollection_5">
    <g clip-path="url(#pa2e330c6ff)">
     <path d="M 0 3.872983 C 1.027127 3.872983 2.012324 3.464901 2.738613 2.738613 C 3.464901 2.012324 3.872983 1.027127 3.872983 0 C 3.872983 -1.027127 3.464901 -2.012324 2.738613 -2.738613 C 2.012324 -3.464901 1.027127 -3.872983 0 -3.872983 C -1.027127 -3.872983 -2.012324 -3.464901 -2.738613 -2.738613 C -3.464901 -2.012324 -3.872983 -1.027127 -3.872983 0 C -3.872983 1.027127 -3.464901 2.012324 -2.738613 2.738613 C -2.012324 3.464901 -1.027127 3.872983 0 3.872983 z" transform="translate(1186.893273 637.001231)" style="fill: #2ca02c; stroke: #2ca02c; stroke: #2ca02c"/>
    </g>
   </g>
   <g id="PathCollection_6">
    <g clip-path="url(#pa2e330c6ff)">
     <path d="M 0 3.872983 C 1.027127 3.872983 2.012324 3.464901 2.738613 2.738613 C 3.464901 2.012324 3.872983 1.027127 3.872983 0 C 3.872983 -1.027127 3.464901 -2.012324 2.738613 -2.738613 C 2.012324 -3.464901 1.027127 -3.872983 0 -3.872983 C -1.027127 -3.872983 -2.012324 -3.464901 -2.738613 -2.738613 C -3.464901 -2.012324 -3.872983 -1.027127 -3.872983 0 C -3.872983 1.027127 -3.464901 2.012324 -2.738613 2.738613 C -2.012324 3.464901 -1.027127 3.872983 0 3.872983 z" transform="translate(1186.893273 665.103795)" style="fill: #2ca02c; stroke: #2ca02c; stroke: #2ca02c"/>
    </g>
   </g>
   <g id="PathCollection_7">
    <g clip-path="url(#pa2e330c6ff)">
     <path d="M 0 3.872983 C 1.027127 3.872983 2.012324 3.464901 2.738613 2.738613 C 3.464901 2.012324 3.872983 1.027127 3.872983 0 C 3.872983 -1.027127 3.464901 -2.012324 2.738613 -2.738613 C 2.012324 -3.464901 1.027127 -3.872983 0 -3.872983 C -1.027127 -3.872983 -2.012324 -3.464901 -2.738613 -2.738613 C -3.464901 -2.012324 -3.872983 -1.027127 -3.872983 0 C -3.872983 1.027127 -3.464901 2.012324 -2.738613 2.738613 C -2.012324 3.464901 -1.027127 3.872983 0 3.872983 z" transform="translate(1186.893273 693.206359)" style="fill: #2ca02c; stroke: #2ca02c; stroke: #2ca02c"/>
    </g>
   </g>
   <g id="PathCollection_8">
    
    <g clip-path="url(#pa2e330c6ff)">
     <path d="M 0 3.872983 C 1.027127 3.872983 2.012324 3.464901 2.738613 2.738613 C 3.464901 2.012324 3.872983 1.027127 3.872983 0 C 3.872983 -1.027127 3.464901 -2.012324 2.738613 -2.738613 C 2.012324 -3.464901 1.027127 -3.872983 0 -3.872983 C -1.027127 -3.872983 -2.012324 -3.464901 -2.738613 -2.738613 C -3.464901 -2.012324 -3.872983 -1.027127 -3.872983 0 C -3.872983 1.027127 -3.464901 2.012324 -2.738613 2.738613 C -2.012324 3.464901 -1.027127 3.872983 0 3.872983 z" transform="translate(1186.893273 721.308923)" style="fill: #d62728; stroke: #d62728; stroke: #d62728"/>
    </g>
   </g>
   <g id="PathCollection_9">
    <g clip-path="url(#pa2e330c6ff)">
     <path d="M 0 3.872983 C 1.027127 3.872983 2.012324 3.464901 2.738613 2.738613 C 3.464901 2.012324 3.872983 1.027127 3.872983 0 C 3.872983 -1.027127 3.464901 -2.012324 2.738613 -2.738613 C 2.012324 -3.464901 1.027127 -3.872983 0 -3.872983 C -1.027127 -3.872983 -2.012324 -3.464901 -2.738613 -2.738613 C -3.464901 -2.012324 -3.872983 -1.027127 -3.872983 0 C -3.872983 1.027127 -3.464901 2.012324 -2.738613 2.738613 C -2.012324 3.464901 -1.027127 3.872983 0 3.872983 z" transform="translate(1186.893273 749.411487)" style="fill: #d62728; stroke: #d62728; stroke: #d62728"/>
    </g>
   </g>
   <g id="PathCollection_10">
    <g clip-path="url(#pa2e330c6ff)">
     <path d="M 0 3.872983 C 1.027127 3.872983 2.012324 3.464901 2.738613 2.738613 C 3.464901 2.012324 3.872983 1.027127 3.872983 0 C 3.872983 -1.027127 3.464901 -2.012324 2.738613 -2.738613 C 2.012324 -3.464901 1.027127 -3.872983 0 -3.872983 C -1.027127 -3.872983 -2.012324 -3.464901 -2.738613 -2.738613 C -3.464901 -2.012324 -3.872983 -1.027127 -3.872983 0 C -3.872983 1.027127 -3.464901 2.012324 -2.738613 2.738613 C -2.012324 3.464901 -1.027127 3.872983 0 3.872983 z" transform="translate(1186.893273 777.514051)" style="fill: #d62728; stroke: #d62728; stroke: #d62728"/>
    </g>
   </g>
   <g id="PathCollection_11">
    <g clip-path="url(#pa2e330c6ff)">
     <path d="M 0 3.872983 C 1.027127 3.872983 2.012324 3.464901 2.738613 2.738613 C 3.464901 2.012324 3.872983 1.027127 3.872983 0 C 3.872983 -1.027127 3.464901 -2.012324 2.738613 -2.738613 C 2.012324 -3.464901 1.027127 -3.872983 0 -3.872983 C -1.027127 -3.872983 -2.012324 -3.464901 -2.738613 -2.738613 C -3.464901 -2.012324 -3.872983 -1.027127 -3.872983 0 C -3.872983 1.027127 -3.464901 2.012324 -2.738613 2.738613 C -2.012324 3.464901 -1.027127 3.872983 0 3.872983 z" transform="translate(1186.893273 805.616615)" style="fill: #d62728; stroke: #d62728; stroke: #d62728"/>
    </g>
   </g>
   <g id="PathCollection_12">
    <g clip-path="url(#pa2e330c6ff)">
     <path d="M 0 3.872983 C 1.027127 3.872983 2.012324 3.464901 2.738613 2.738613 C 3.464901 2.012324 3.872983 1.027127 3.872983 0 C 3.872983 -1.027127 3.464901 -2.012324 2.738613 -2.738613 C 2.012324 -3.464901 1.027127 -3.872983 0 -3.872983 C -1.027127 -3.872983 -2.012324 -3.464901 -2.738613 -2.738613 C -3.464901 -2.012324 -3.872983 -1.027127 -3.872983 0 C -3.872983 1.027127 -3.464901 2.012324 -2.738613 2.738613 C -2.012324 3.464901 -1.027127 3.872983 0 3.872983 z" transform="translate(1186.893273 833.719179)" style="fill: #d62728; stroke: #d62728; stroke: #d62728"/>
    </g>
   </g>
   <g id="legend_4">
    <g id="patch_69">
     <path d="M 1313.201844 855.652 
L 1389.212 855.652 
Q 1390.612 855.652 1390.612 854.252 
L 1390.612 812.10325 
Q 1390.612 810.70325 1389.212 810.70325 
L 1313.201844 810.70325 
Q 1311.801844 810.70325 1311.801844 812.10325 
L 1311.801844 854.252 
Q 1311.801844 855.652 1313.201844 855.652 
z
" style="fill: #ffffff; opacity: 0.8; stroke: #cccccc; stroke-linejoin: miter"/>
    </g>
    <g id="patch_70">
     <path d="M 1314.741844 818.962156 
L 1328.741844 818.962156 
L 1328.741844 814.062156 
L 1314.741844 814.062156 
z
" style="fill: #1f77b4; opacity: 0.7"/>
    </g>
    <g id="text_234">
     <text style="font-size: 7px; font-family: 'DejaVu Sans', 'Liberation Sans', sans-serif; text-anchor: start" x="1334.341844" y="818.962156" transform="rotate(-0 1334.341844 818.962156)">Full 768d</text>
    </g>
    <g id="patch_71">
     <path d="M 1314.741844 829.726844 
L 1328.741844 829.726844 
L 1328.741844 824.826844 
L 1314.741844 824.826844 
z
" style="fill: #ff7f0e; opacity: 0.7"/>
    </g>
    <g id="text_235">
     <text style="font-size: 7px; font-family: 'DejaVu Sans', 'Liberation Sans', sans-serif; text-anchor: start" x="1334.341844" y="829.726844" transform="rotate(-0 1334.341844 829.726844)">PCA 3d</text>
    </g>
    <g id="line2d_343">
     <path d="M 1314.741844 838.041531 
L 1321.741844 838.041531 
L 1328.741844 838.041531 
" style="fill: none; stroke: #ffffff; stroke-width: 1.5; stroke-linecap: square"/>
     
     <g>
      <path d="M 0 4 C 1.060812 4 2.078319 3.578535 2.828427 2.828427 C 3.578535 2.078319 4 1.060812 4 0 C 4 -1.060812 3.578535 -2.078319 2.828427 -2.828427 C 2.078319 -3.578535 1.060812 -4 0 -4 C -1.060812 -4 -2.078319 -3.578535 -2.828427 -2.828427 C -3.578535 -2.078319 -4 -1.060812 -4 0 C -4 1.060812 -3.578535 2.078319 -2.828427 2.828427 C -2.078319 3.578535 -1.060812 4 0 4 z" transform="translate(1321.741844 838.041531)" style="fill: #2ca02c; stroke: #ffffff; stroke: #ffffff"/>
     </g>
    </g>
    <g id="text_236">
     <text style="font-size: 7px; font-family: 'DejaVu Sans', 'Liberation Sans', sans-serif; text-anchor: start" x="1334.341844" y="840.491531" transform="rotate(-0 1334.341844 840.491531)">Same group</text>
    </g>
    <g id="line2d_344">
     <path d="M 1314.741844 848.806219 
L 1321.741844 848.806219 
L 1328.741844 848.806219 
" style="fill: none; stroke: #ffffff; stroke-width: 1.5; stroke-linecap: square"/>
     
     <g>
      <path d="M 0 4 C 1.060812 4 2.078319 3.578535 2.828427 2.828427 C 3.578535 2.078319 4 1.060812 4 0 C 4 -1.060812 3.578535 -2.078319 2.828427 -2.828427 C 2.078319 -3.578535 1.060812 -4 0 -4 C -1.060812 -4 -2.078319 -3.578535 -2.828427 -2.828427 C -3.578535 -2.078319 -4 -1.060812 -4 0 C -4 1.060812 -3.578535 2.078319 -2.828427 2.828427 C -2.078319 3.578535 -1.060812 4 0 4 z" transform="translate(1321.741844 848.806219)" style="fill: #d62728; stroke: #ffffff; stroke: #ffffff"/>
     </g>
    </g>
    <g id="text_237">
     <text style="font-size: 7px; font-family: 'DejaVu Sans', 'Liberation Sans', sans-serif; text-anchor: start" x="1334.341844" y="851.256219" transform="rotate(-0 1334.341844 851.256219)">Different group</text>
    </g>
   </g>
  </g>
  <g id="text_238">
   <text style="font-weight: 700; font-size: 15px; font-family: 'DejaVu Sans', 'Liberation Sans', sans-serif; text-anchor: middle" x="716.16" y="18.096469" transform="rotate(-0 716.16 18.096469)">PCA Denoising Analysis — Can Fewer Dimensions Improve Code Similarity?</text>
  </g>
 </g>
 <defs>
  <clipPath id="pb48fb22886">
   <rect x="61.44" y="76.416" width="388.32" height="361.248"/>
  </clipPath>
  <clipPath id="p9a6d306fdc">
   <rect x="533.808" y="76.416" width="387.744" height="361.248"/>
  </clipPath>
  <clipPath id="pc2ea0b0553">
   <rect x="1006.128" y="76.416" width="387.984" height="361.248"/>
  </clipPath>
  <clipPath id="p63e8f16219">
   <rect x="61.44" y="497.472" width="310.3872" height="361.68"/>
  </clipPath>
  <clipPath id="pb8ac9f24e2">
   <rect x="391.2264" y="533.64" width="14.4672" height="289.344"/>
  </clipPath>
  <clipPath id="p465a06c6ae">
   <rect x="533.808" y="497.472" width="310.3872" height="361.68"/>
  </clipPath>
  <clipPath id="p7e0b5430aa">
   <rect x="863.5944" y="533.64" width="14.4672" height="289.344"/>
  </clipPath>
  <clipPath id="pa2e330c6ff">
   <rect x="1006.128" y="497.472" width="387.984" height="361.68"/>
  </clipPath>
 </defs>
</svg>

</body></html>
